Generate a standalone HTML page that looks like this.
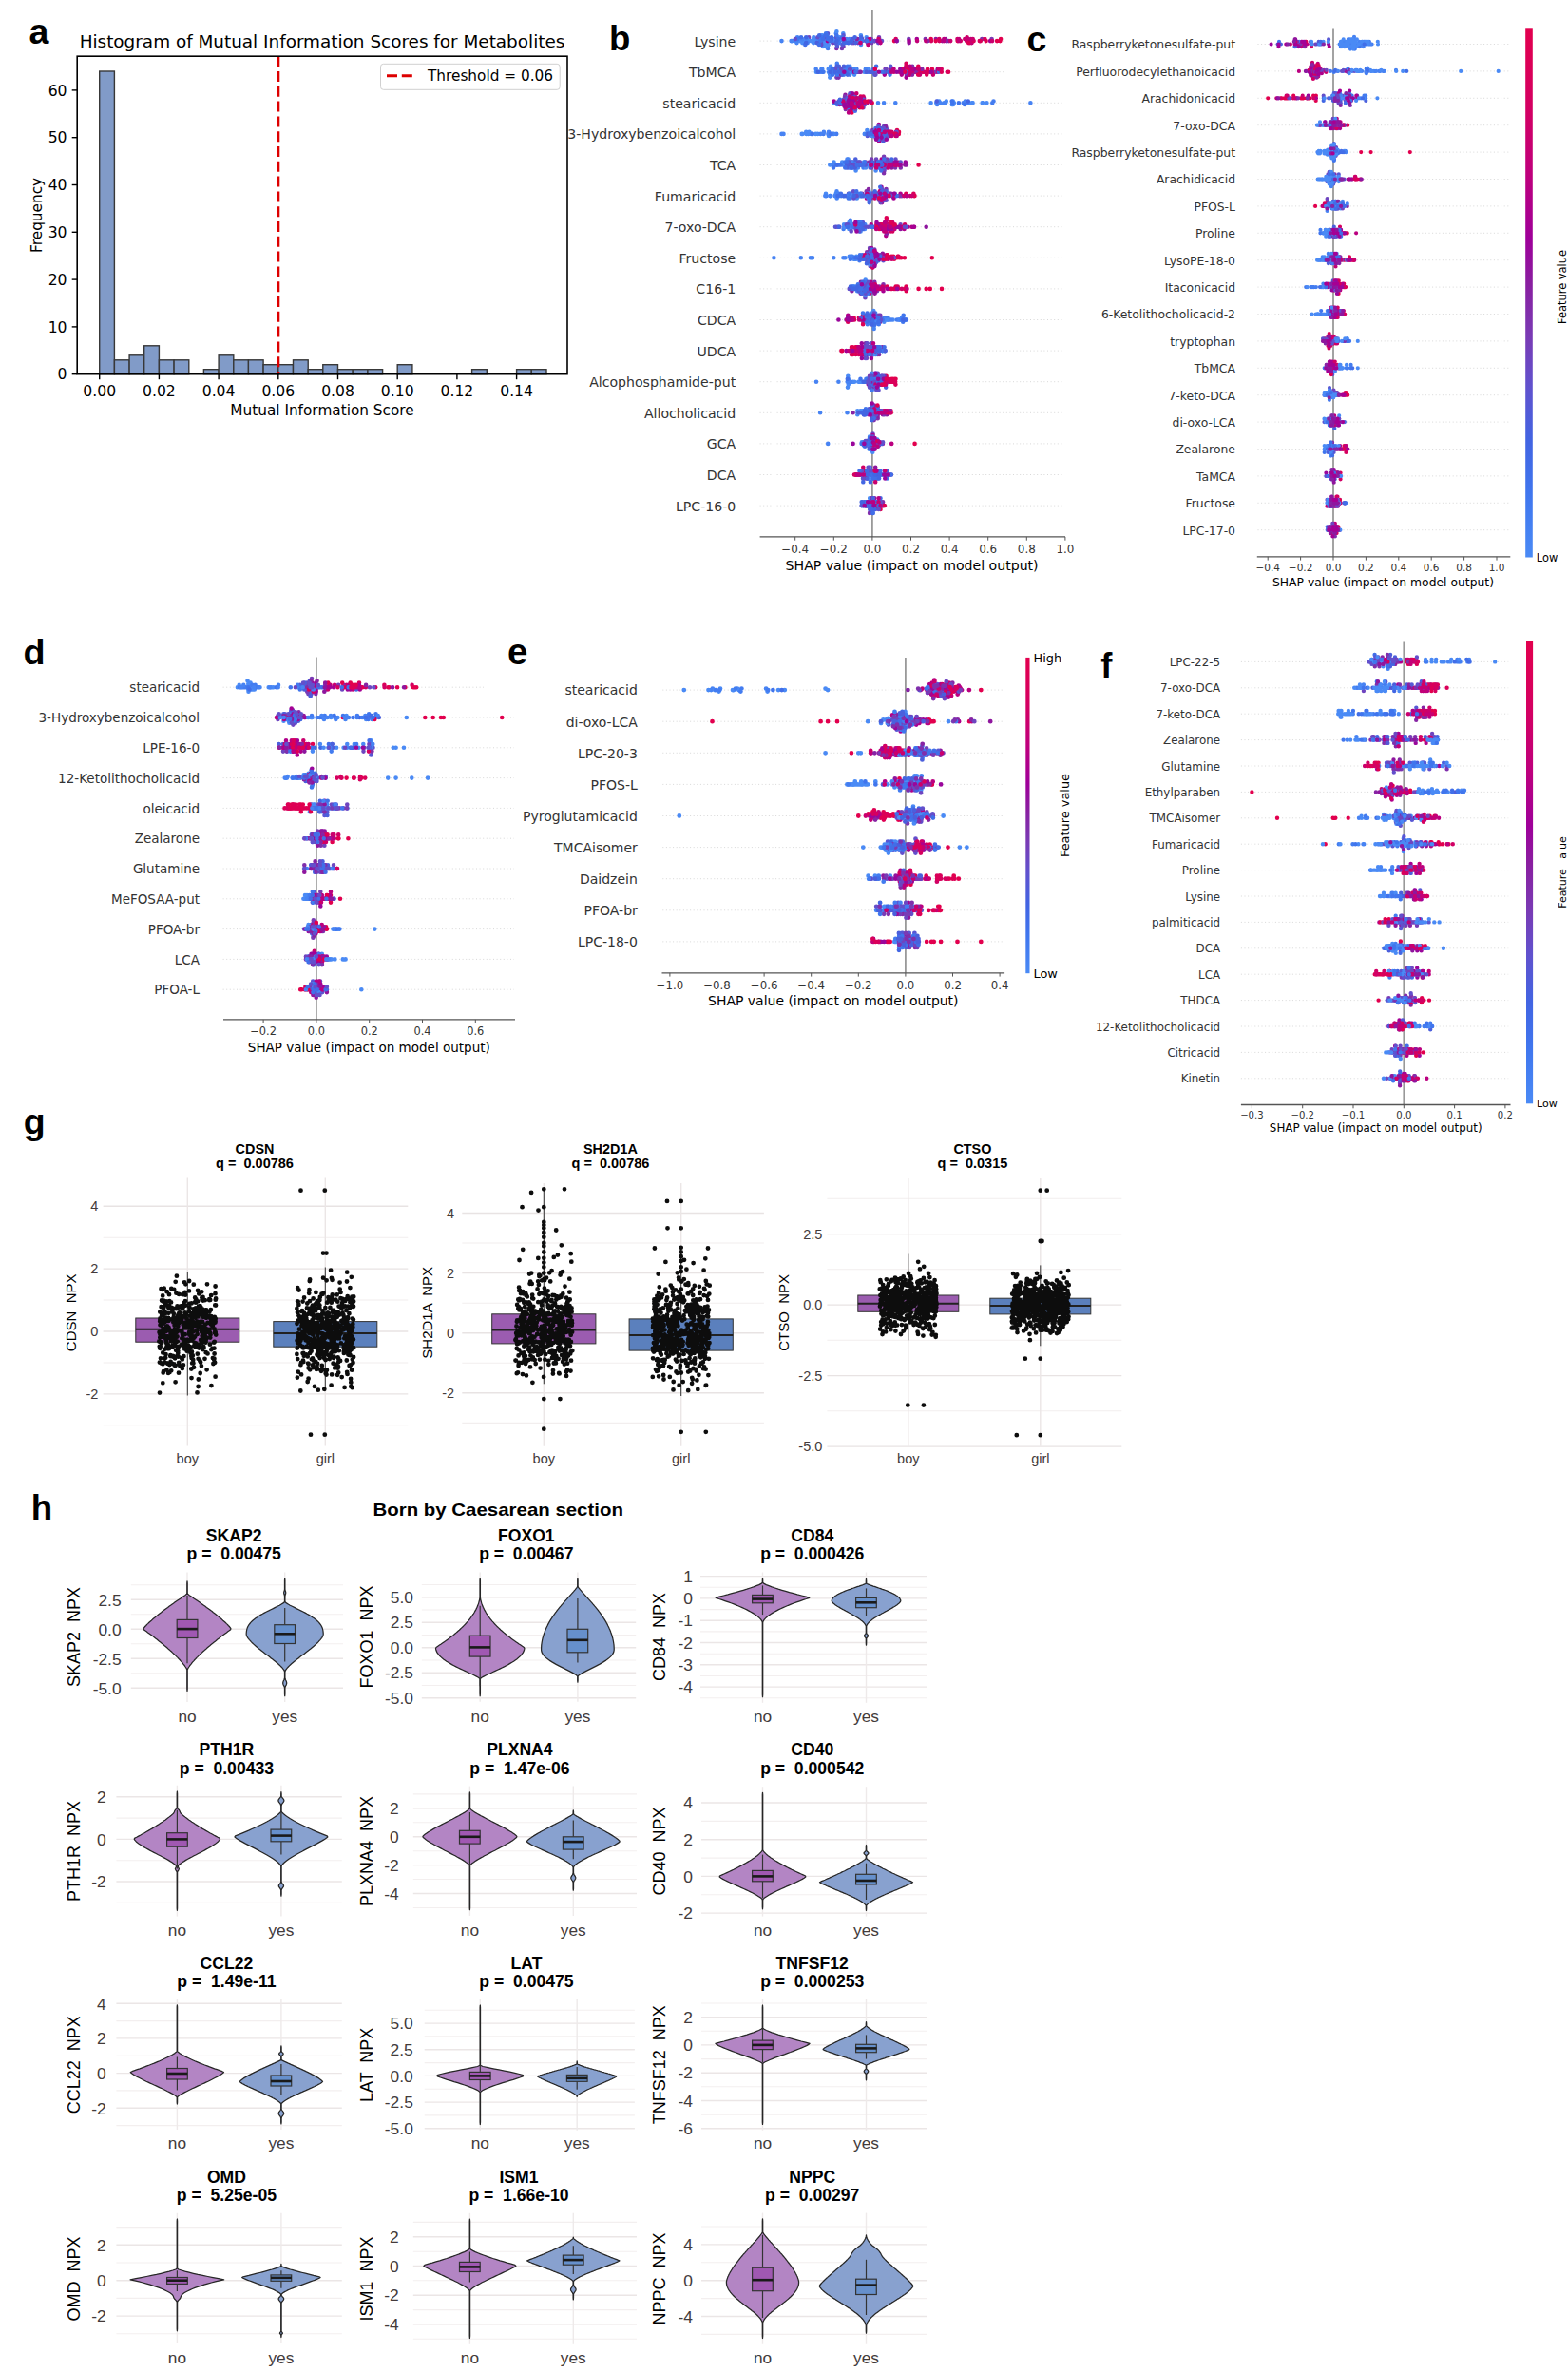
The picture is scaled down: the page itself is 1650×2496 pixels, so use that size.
<!DOCTYPE html>
<html><head><meta charset="utf-8"><title>Figure</title>
<style>html,body{margin:0;padding:0;background:#fff;}svg{display:block;}</style>
</head><body>
<svg width="1650" height="2496" viewBox="0 0 1650 2496"><rect x="104.7" y="75" width="15.7" height="318.7" fill="#819bc8" stroke="#383838" stroke-width="1.4"/>
<rect x="120.4" y="378.8" width="15.7" height="14.9" fill="#819bc8" stroke="#383838" stroke-width="1.4"/>
<rect x="136.1" y="373.8" width="15.7" height="19.9" fill="#819bc8" stroke="#383838" stroke-width="1.4"/>
<rect x="151.7" y="363.8" width="15.7" height="29.9" fill="#819bc8" stroke="#383838" stroke-width="1.4"/>
<rect x="167.4" y="378.8" width="15.7" height="14.9" fill="#819bc8" stroke="#383838" stroke-width="1.4"/>
<rect x="183.1" y="378.8" width="15.7" height="14.9" fill="#819bc8" stroke="#383838" stroke-width="1.4"/>
<rect x="214.4" y="388.7" width="15.7" height="5" fill="#819bc8" stroke="#383838" stroke-width="1.4"/>
<rect x="230.1" y="373.8" width="15.7" height="19.9" fill="#819bc8" stroke="#383838" stroke-width="1.4"/>
<rect x="245.8" y="378.8" width="15.7" height="14.9" fill="#819bc8" stroke="#383838" stroke-width="1.4"/>
<rect x="261.4" y="378.8" width="15.7" height="14.9" fill="#819bc8" stroke="#383838" stroke-width="1.4"/>
<rect x="277.1" y="383.7" width="15.7" height="10" fill="#819bc8" stroke="#383838" stroke-width="1.4"/>
<rect x="292.8" y="383.7" width="15.7" height="10" fill="#819bc8" stroke="#383838" stroke-width="1.4"/>
<rect x="308.5" y="378.8" width="15.7" height="14.9" fill="#819bc8" stroke="#383838" stroke-width="1.4"/>
<rect x="324.2" y="388.7" width="15.7" height="5" fill="#819bc8" stroke="#383838" stroke-width="1.4"/>
<rect x="339.8" y="383.7" width="15.7" height="10" fill="#819bc8" stroke="#383838" stroke-width="1.4"/>
<rect x="355.5" y="388.7" width="15.7" height="5" fill="#819bc8" stroke="#383838" stroke-width="1.4"/>
<rect x="371.2" y="388.7" width="15.7" height="5" fill="#819bc8" stroke="#383838" stroke-width="1.4"/>
<rect x="386.9" y="388.7" width="15.7" height="5" fill="#819bc8" stroke="#383838" stroke-width="1.4"/>
<rect x="418.2" y="383.7" width="15.7" height="10" fill="#819bc8" stroke="#383838" stroke-width="1.4"/>
<rect x="496.6" y="388.7" width="15.7" height="5" fill="#819bc8" stroke="#383838" stroke-width="1.4"/>
<rect x="543.6" y="388.7" width="15.7" height="5" fill="#819bc8" stroke="#383838" stroke-width="1.4"/>
<rect x="559.3" y="388.7" width="15.7" height="5" fill="#819bc8" stroke="#383838" stroke-width="1.4"/>
<line x1="292.8" y1="59.2" x2="292.8" y2="393.7" stroke="#dd0000" stroke-width="3" stroke-dasharray="11 4.8"/>
<rect x="81.2" y="59.2" width="515.8" height="334.5" fill="none" stroke="#000" stroke-width="1.6"/>
<line x1="75.7" y1="393.7" x2="81.2" y2="393.7" stroke="#000" stroke-width="1.4"/>
<text transform="translate(70.5 399.4)" style="font-family:'DejaVu Sans',sans-serif;font-size:15.6px" text-anchor="end">0</text>
<line x1="75.7" y1="343.9" x2="81.2" y2="343.9" stroke="#000" stroke-width="1.4"/>
<text transform="translate(70.5 349.6)" style="font-family:'DejaVu Sans',sans-serif;font-size:15.6px" text-anchor="end">10</text>
<line x1="75.7" y1="294.1" x2="81.2" y2="294.1" stroke="#000" stroke-width="1.4"/>
<text transform="translate(70.5 299.8)" style="font-family:'DejaVu Sans',sans-serif;font-size:15.6px" text-anchor="end">20</text>
<line x1="75.7" y1="244.3" x2="81.2" y2="244.3" stroke="#000" stroke-width="1.4"/>
<text transform="translate(70.5 250)" style="font-family:'DejaVu Sans',sans-serif;font-size:15.6px" text-anchor="end">30</text>
<line x1="75.7" y1="194.5" x2="81.2" y2="194.5" stroke="#000" stroke-width="1.4"/>
<text transform="translate(70.5 200.2)" style="font-family:'DejaVu Sans',sans-serif;font-size:15.6px" text-anchor="end">40</text>
<line x1="75.7" y1="144.7" x2="81.2" y2="144.7" stroke="#000" stroke-width="1.4"/>
<text transform="translate(70.5 150.4)" style="font-family:'DejaVu Sans',sans-serif;font-size:15.6px" text-anchor="end">50</text>
<line x1="75.7" y1="94.9" x2="81.2" y2="94.9" stroke="#000" stroke-width="1.4"/>
<text transform="translate(70.5 100.6)" style="font-family:'DejaVu Sans',sans-serif;font-size:15.6px" text-anchor="end">60</text>
<line x1="104.7" y1="393.7" x2="104.7" y2="399.2" stroke="#000" stroke-width="1.4"/>
<text transform="translate(104.7 417)" style="font-family:'DejaVu Sans',sans-serif;font-size:15.6px" text-anchor="middle">0.00</text>
<line x1="167.4" y1="393.7" x2="167.4" y2="399.2" stroke="#000" stroke-width="1.4"/>
<text transform="translate(167.4 417)" style="font-family:'DejaVu Sans',sans-serif;font-size:15.6px" text-anchor="middle">0.02</text>
<line x1="230.1" y1="393.7" x2="230.1" y2="399.2" stroke="#000" stroke-width="1.4"/>
<text transform="translate(230.1 417)" style="font-family:'DejaVu Sans',sans-serif;font-size:15.6px" text-anchor="middle">0.04</text>
<line x1="292.8" y1="393.7" x2="292.8" y2="399.2" stroke="#000" stroke-width="1.4"/>
<text transform="translate(292.8 417)" style="font-family:'DejaVu Sans',sans-serif;font-size:15.6px" text-anchor="middle">0.06</text>
<line x1="355.5" y1="393.7" x2="355.5" y2="399.2" stroke="#000" stroke-width="1.4"/>
<text transform="translate(355.5 417)" style="font-family:'DejaVu Sans',sans-serif;font-size:15.6px" text-anchor="middle">0.08</text>
<line x1="418.2" y1="393.7" x2="418.2" y2="399.2" stroke="#000" stroke-width="1.4"/>
<text transform="translate(418.2 417)" style="font-family:'DejaVu Sans',sans-serif;font-size:15.6px" text-anchor="middle">0.10</text>
<line x1="480.9" y1="393.7" x2="480.9" y2="399.2" stroke="#000" stroke-width="1.4"/>
<text transform="translate(480.9 417)" style="font-family:'DejaVu Sans',sans-serif;font-size:15.6px" text-anchor="middle">0.12</text>
<line x1="543.6" y1="393.7" x2="543.6" y2="399.2" stroke="#000" stroke-width="1.4"/>
<text transform="translate(543.6 417)" style="font-family:'DejaVu Sans',sans-serif;font-size:15.6px" text-anchor="middle">0.14</text>
<text transform="translate(339 437)" style="font-family:'DejaVu Sans',sans-serif;font-size:15.3px" text-anchor="middle">Mutual Information Score</text>
<text transform="translate(43.5 226.4) rotate(-90)" style="font-family:'DejaVu Sans',sans-serif;font-size:15.3px" text-anchor="middle">Frequency</text>
<text transform="translate(339 50)" style="font-family:'DejaVu Sans',sans-serif;font-size:18.4px" text-anchor="middle">Histogram of Mutual Information Scores for Metabolites</text>
<rect x="400.5" y="67.3" width="188.7" height="27" rx="3" fill="#fff" fill-opacity="0.85" stroke="#d0d0d0" stroke-width="1"/>
<line x1="407" y1="79.8" x2="436" y2="79.8" stroke="#dd0000" stroke-width="3" stroke-dasharray="11 4.8"/>
<text transform="translate(450 85.3)" style="font-family:'DejaVu Sans',sans-serif;font-size:15.3px">Threshold = 0.06</text>
<line x1="799.6" y1="43.1" x2="1056" y2="43.1" stroke="#d4d4d4" stroke-width="0.90" stroke-dasharray="1 2.6"/>
<line x1="799.6" y1="75.7" x2="1056" y2="75.7" stroke="#d4d4d4" stroke-width="0.90" stroke-dasharray="1 2.6"/>
<line x1="799.6" y1="108.3" x2="1120" y2="108.3" stroke="#d4d4d4" stroke-width="0.90" stroke-dasharray="1 2.6"/>
<line x1="799.6" y1="140.9" x2="1120" y2="140.9" stroke="#d4d4d4" stroke-width="0.90" stroke-dasharray="1 2.6"/>
<line x1="799.6" y1="173.5" x2="1120" y2="173.5" stroke="#d4d4d4" stroke-width="0.90" stroke-dasharray="1 2.6"/>
<line x1="799.6" y1="206.1" x2="1120" y2="206.1" stroke="#d4d4d4" stroke-width="0.90" stroke-dasharray="1 2.6"/>
<line x1="799.6" y1="238.7" x2="1120" y2="238.7" stroke="#d4d4d4" stroke-width="0.90" stroke-dasharray="1 2.6"/>
<line x1="799.6" y1="271.3" x2="1120" y2="271.3" stroke="#d4d4d4" stroke-width="0.90" stroke-dasharray="1 2.6"/>
<line x1="799.6" y1="303.9" x2="1120" y2="303.9" stroke="#d4d4d4" stroke-width="0.90" stroke-dasharray="1 2.6"/>
<line x1="799.6" y1="336.5" x2="1120" y2="336.5" stroke="#d4d4d4" stroke-width="0.90" stroke-dasharray="1 2.6"/>
<line x1="799.6" y1="369.1" x2="1120" y2="369.1" stroke="#d4d4d4" stroke-width="0.90" stroke-dasharray="1 2.6"/>
<line x1="799.6" y1="401.7" x2="1120" y2="401.7" stroke="#d4d4d4" stroke-width="0.90" stroke-dasharray="1 2.6"/>
<line x1="799.6" y1="434.3" x2="1120" y2="434.3" stroke="#d4d4d4" stroke-width="0.90" stroke-dasharray="1 2.6"/>
<line x1="799.6" y1="466.9" x2="1120" y2="466.9" stroke="#d4d4d4" stroke-width="0.90" stroke-dasharray="1 2.6"/>
<line x1="799.6" y1="499.5" x2="1120" y2="499.5" stroke="#d4d4d4" stroke-width="0.90" stroke-dasharray="1 2.6"/>
<line x1="799.6" y1="532.1" x2="1120" y2="532.1" stroke="#d4d4d4" stroke-width="0.90" stroke-dasharray="1 2.6"/>
<line x1="917.9" y1="10.2" x2="917.9" y2="564.9" stroke="#999" stroke-width="1.8"/>
<text transform="translate(774.2 48.5)" style="font-family:'DejaVu Sans',sans-serif;font-size:14.1px" text-anchor="end" fill="#333">Lysine</text>
<text transform="translate(774.2 81.1)" style="font-family:'DejaVu Sans',sans-serif;font-size:14.1px" text-anchor="end" fill="#333">TbMCA</text>
<text transform="translate(774.2 113.7)" style="font-family:'DejaVu Sans',sans-serif;font-size:14.1px" text-anchor="end" fill="#333">stearicacid</text>
<text transform="translate(774.2 146.3)" style="font-family:'DejaVu Sans',sans-serif;font-size:14.1px" text-anchor="end" fill="#333">3-Hydroxybenzoicalcohol</text>
<text transform="translate(774.2 178.9)" style="font-family:'DejaVu Sans',sans-serif;font-size:14.1px" text-anchor="end" fill="#333">TCA</text>
<text transform="translate(774.2 211.5)" style="font-family:'DejaVu Sans',sans-serif;font-size:14.1px" text-anchor="end" fill="#333">Fumaricacid</text>
<text transform="translate(774.2 244.1)" style="font-family:'DejaVu Sans',sans-serif;font-size:14.1px" text-anchor="end" fill="#333">7-oxo-DCA</text>
<text transform="translate(774.2 276.7)" style="font-family:'DejaVu Sans',sans-serif;font-size:14.1px" text-anchor="end" fill="#333">Fructose</text>
<text transform="translate(774.2 309.3)" style="font-family:'DejaVu Sans',sans-serif;font-size:14.1px" text-anchor="end" fill="#333">C16-1</text>
<text transform="translate(774.2 341.9)" style="font-family:'DejaVu Sans',sans-serif;font-size:14.1px" text-anchor="end" fill="#333">CDCA</text>
<text transform="translate(774.2 374.5)" style="font-family:'DejaVu Sans',sans-serif;font-size:14.1px" text-anchor="end" fill="#333">UDCA</text>
<text transform="translate(774.2 407.1)" style="font-family:'DejaVu Sans',sans-serif;font-size:14.1px" text-anchor="end" fill="#333">Alcophosphamide-put</text>
<text transform="translate(774.2 439.7)" style="font-family:'DejaVu Sans',sans-serif;font-size:14.1px" text-anchor="end" fill="#333">Allocholicacid</text>
<text transform="translate(774.2 472.3)" style="font-family:'DejaVu Sans',sans-serif;font-size:14.1px" text-anchor="end" fill="#333">GCA</text>
<text transform="translate(774.2 504.9)" style="font-family:'DejaVu Sans',sans-serif;font-size:14.1px" text-anchor="end" fill="#333">DCA</text>
<text transform="translate(774.2 537.5)" style="font-family:'DejaVu Sans',sans-serif;font-size:14.1px" text-anchor="end" fill="#333">LPC-16-0</text>
<path d="M891.2 43.1h0m29.5 0h0m35.9 2h0m28.2 -4h0m10.3 0h0m-3.5 2h0m-105.3 29.7h0m45.3 0h0m-12.1 2.9h0m59.5 0h0m-82.5 27.6h0m15.9 5h0m-15.4 6.7h0m-0.7 1.7h0m-6.8 -16.8h0m19.6 3.4h0m-7.6 3.3h0m22.5 32.3h0m7.2 4h0m-3.9 0h0m-30.6 27.7h0m37.3 2.9h0m-3.8 -2.9h0m3 2.9h0m5.1 2.9h0m14 -2.9h0m1.6 0h0m-35.9 30.3h0m1 2.3h0m6.7 0h0m-0.4 4.7h0m2.8 2.3h0m0 -9.3h0m-30.3 32.6h0m-1.6 2.3h0m7.4 -4.7h0m27 2.4h0m17.1 4.6h0m27 -2.3h0m-46 31.1h0m-7.5 4.4h0m7.6 -7.3h0m-2.7 4.4h0m-8.4 1.5h0m2.1 0h0m8.5 -3h0m-17.5 0h0m-8.5 34.1h0m6.6 -2.3h0m10.9 0h0m0.6 7h0m0.3 0h0m-14.4 0h0m6.8 -2.4h0m-0.4 -4.6h0m4.7 30.2h0m-9.1 7h0m6.8 30.3h0m-1.2 -3.9h0m4.2 0h0m-6.2 3.9h0m7.5 0h0m-23.4 0h0m14 0h0m-2.8 0h0m21.1 -3.9h0m7.1 36.5h0m-7.4 0h0m-8.4 -5.9h0m1 0h0m8.9 38.5h0m-7.8 -3.9h0m11.8 3.9h0m-16.5 -2h0m9.1 2h0m2.9 2h0m-0.8 -2h0m4.9 2h0m-12.8 0h0m-8.2 32.1h0m6.9 -4.4h0m-2.9 2.9h0m1.9 -4.4h0m6.5 5.9h0m-4.2 2.9h0m0.8 24.3h0m-1.9 0h0m2 -3.9h0m-3.5 40.4h0m5.5 0h0m-12.5 0h0m9.6 -7.8h0m-6.5 7.8h0" stroke="#8f169e" stroke-width="4.6" stroke-linecap="round" fill="none"/>
<path d="M980 43.1h0m8.6 0h0m-45.9 -2h0m45.6 0h0m42.5 2h0m-76.5 32.6h0m36.4 -2.9h0m6.1 2.9h0m-98.8 32.6h0m10.3 3.4h0m-14.1 0h0m11.7 -1.7h0m23.1 34.8h0m18.9 61.3h0m-10.7 37.3h0m-7.5 -7h0m4 2.3h0m0.8 0h0m4.7 4.7h0m12.9 -7h0m-17.3 34.9h0m11.6 0h0m-0.9 -1.5h0m-21.1 34.1h0m20.6 0h0m-48.3 30.3h0m12.7 0h0m-5.5 38.8h0m-2.7 -7.8h0m2.7 3.9h0m15.3 32.6h0m12.4 30.6h0m-30.8 67.2h0m17.2 32.6h0m4.3 0h0m6.8 0h0" stroke="#d6005f" stroke-width="4.6" stroke-linecap="round" fill="none"/>
<path d="M880 41.1h0m-28.9 -1.9h0m52 3.9h0m13.6 -2h0m-40.5 4h0m34.9 -2h0m-8 32.6h0m1.7 0h0m7.8 -2.9h0m-11.2 2.9h0m35 0h0m-4.2 -2.9h0m51.8 2.9h0m-93.9 29.2h0m4.4 -6.7h0m8.9 5.1h0m5 10h0m-14.3 3.4h0m12 -10.1h0m36.6 32.3h0m-12.6 -5.8h0m-6.1 3.9h0m4.8 5.9h0m3.9 -7.9h0m-4 2h0m4.3 3.9h0m-16.5 29.7h0m-1.6 2.9h0m7.2 -5.9h0m2.9 5.9h0m5.5 5.9h0m-2.5 -8.8h0m-14.8 35.5h0m-20.2 -2.3h0m21.2 0h0m12.4 9.3h0m-8.2 -7h0m8.6 4.7h0m-12.5 -2.4h0m27.3 -4.6h0m-10 0h0m17.3 2.3h0m-49.7 32.6h0m29.6 0h0m12.5 0h0m6.1 -2.3h0m-32.5 24.6h0m0.6 19.1h0m7.8 -7.3h0m-8 -8.8h0m0.3 4.4h0m0.2 8.8h0m4 -3h0m4.4 -4.4h0m-5.1 0h0m-8.9 43.5h0m12.6 -7.1h0m-15 2.4h0m18.7 25.6h0m-1.9 -2.4h0m1 2.4h0m-1.2 2.3h0m-14.9 -4.7h0m8 41.2h0m-5.2 -3.9h0m3.4 -3.9h0m-7.7 7.8h0m3.7 3.9h0m4.3 27.7h0m6.1 -8.8h0m1.5 -2.9h0m2.6 8.8h0m-5.6 0h0m-3.5 5.9h0m13.4 -5.9h0m-21.3 30.6h0m4.9 2h0m2.9 0h0m1.7 0h0m-9.3 34.1h0m8.4 5.8h0m5.4 -7.3h0m-8.4 1.5h0m9.2 -1.5h0m1.9 0h0m-7.6 -10.3h0m0.6 14.7h0m1 -8.8h0m-2.1 4.4h0m-12 32.6h0m20.3 0h0m-10.5 -7.8h0m-2 7.8h0m8.6 0h0m-0.9 0h0m-12 -3.9h0m15.6 3.9h0m-6.6 24.8h0m0.6 3.9h0m-7.9 3.9h0m8.6 0h0m-2.4 0h0m0.3 -3.9h0m-5.2 3.9h0m16.1 0h0" stroke="#6e45c0" stroke-width="4.6" stroke-linecap="round" fill="none"/>
<path d="M893.6 72.8h0m55.2 5.8h0m1.6 -2.9h0m20.4 0h0m-7.6 0h0m-60 34.3h0m-11.2 0h0m6.1 -8.4h0m4.1 3.3h0m-7.7 5.1h0m5.2 -6.7h0m6.3 8.4h0m-2.4 -3.4h0m-2.9 3.4h0m-7.5 1.6h0m-2 -6.7h0m33.9 42.1h0m1.8 -1.9h0m5.3 -7.9h0m4.6 4h0m-10.8 -2h0m8.2 2h0m-4.8 27.7h0m-1.7 -3h0m17 3h0m-41.3 35.5h0m35 0h0m-12.6 2.3h0m-13.9 0h0m35.7 -4.6h0m-30.9 32.6h0m16.1 -4.7h0m-0.5 16.4h0m-9.4 -9.4h0m12.4 2.3h0m26.8 -2.3h0m-2.7 0h0m-7.9 2.3h0m-27 30.3h0m-4.5 0h0m2.5 -4.4h0m-2.1 11.7h0m12.4 -10.2h0m-3.6 0h0m-22.9 37.8h0m6.5 -2.3h0m14.1 0h0m-8.6 0h0m-2.5 2.3h0m5 -7h0m0.6 7h0m-4.9 -4.6h0m-0.1 -4.7h0m-24.1 34.9h0m3.3 4.7h0m5.6 32.6h0m1.3 -3.9h0m12.7 0h0m2.2 36.5h0m3.6 -2.9h0m15 2.9h0m-4.7 30.6h0m-7.9 -1.9h0m-9.2 5.9h0m4.3 21.8h0m5.7 5.9h0m-22.1 35.5h0m20.8 -3.9h0m1.1 0h0m-6.2 32.6h0m6.3 3.9h0m2.8 -3.9h0" stroke="#b0008a" stroke-width="4.6" stroke-linecap="round" fill="none"/>
<path d="M870.4 49h0m8.3 -3.9h0m7.3 5.8h0m16.7 -5.8h0m-15.2 3.9h0m29.8 -3.9h0m7.9 -4h0m-0.2 -1.9h0m31.3 1.9h0m87.3 0h0m-151.7 31.7h0m-11.5 8.8h0m1.9 -3h0m71.5 0h0m3.6 0h0m27.8 -2.9h0m-9.1 0h0m-75.3 30.9h0m-2.3 6.7h0m5 -8.4h0m-7.2 0h0m3.2 -3.3h0m-12.8 8.4h0m2.4 -8.4h0m40.3 35.4h0m-8.9 3.9h0m13.1 2h0m-17.9 -2h0m5.8 3.9h0m-24.6 28.7h0m14 -2.9h0m6.4 0h0m0 5.8h0m-0.2 -8.8h0m13 -2.9h0m3.1 2.9h0m-0.4 8.8h0m-3.1 -2.9h0m5.4 0h0m-17.4 0h0m9.8 32.6h0m1.7 -4.7h0m12 4.7h0m-4.7 -2.3h0m-7.4 -2.4h0m24.5 4.7h0m-44.4 30.3h0m16.2 0h0m-8.2 43.7h0m5.6 -10.3h0m1.4 -1.4h0m-3.9 -5.9h0m-6.3 10.3h0m15.8 -1.5h0m-21.5 -1.5h0m17.2 31.8h0m-17.8 0h0m6.5 2.3h0m-6.9 2.3h0m0.5 -2.3h0m22.4 -2.3h0m10.4 2.3h0m-14.3 27.9h0m-2.6 4.7h0m-0.4 32.6h0m-0.9 0h0m-8.4 3.9h0m-2.3 -11.7h0m8.2 11.7h0m-3.2 -7.8h0m-2 3.9h0m5 0h0m-12.9 0h0m8.2 26.7h0m-2.1 3h0m7.7 -5.9h0m13.5 8.8h0m-17.6 0h0m3.2 -2.9h0m5.3 2.9h0m-2.2 0h0m6.7 -2.9h0m1.1 37.5h0m-6.6 -2h0m-6.5 0h0m6.2 0h0m-3.9 -5.9h0m-4 37h0m1.4 -2.9h0m0.8 7.3h0m1.6 -7.3h0m2.3 2.9h0m-12.5 0h0m4 0h0m5.2 3h0m0.4 1.4h0m0.3 0h0m-9.4 29.7h0m13.9 0h0m-5.1 -3.9h0m-5.4 3.9h0m-0.8 3.9h0m6 -7.8h0m-1 40.4h0m1.6 -3.9h0m-8.4 0h0m11.3 0h0m-9.1 -3.9h0m3.3 7.8h0m4 -7.8h0m-5.8 3.9h0m10 0h0m-5.5 0h0" stroke="#793bb5" stroke-width="4.6" stroke-linecap="round" fill="none"/>
<path d="M880.3 50.9h0m22.3 -9.8h0m71.2 0h0m21.7 2h0m37.8 -2h0m-146.3 34.6h0m-4.5 5.9h0m50 -5.9h0m27.6 -5.9h0m-61.2 35.1h0m-10 -1.6h0m0.9 11.7h0m0.4 -6.7h0m-8.5 0h0m17.7 1.7h0m25.9 34.8h0m0.1 -9.8h0m-0.3 7.9h0m-6.8 -5.9h0m11.7 5.9h0m-36.7 30.6h0m16 0h0m5.6 -2.9h0m5.2 2.9h0m22 2.9h0m-14.9 -2.9h0m2.9 8.8h0m17.7 -5.9h0m-40.7 27.4h0m-6 0h0m13 2.3h0m-2.4 -4.7h0m5.2 7h0m17 -2.3h0m-1.4 -7h0m14 7h0m-45.4 32.6h0m25.5 29.7h0m-14.4 -3h0m7.7 10.3h0m1.1 1.5h0m-5.6 -14.7h0m-1.1 7.3h0m6.3 0h0m-7.9 4.4h0m-2.4 29.7h0m-4.7 4.7h0m23.9 -9.4h0m-11.7 7h0m2.5 -9.3h0m-6 9.3h0m4.3 -2.3h0m0.4 2.3h0m1.2 -2.3h0m-8.7 -2.3h0m-1 -4.7h0m9 39.6h0m-5.5 -4.7h0m5.2 7h0m7 0h0m-16.7 0h0m7.6 30.3h0m-7.6 -3.9h0m12.2 3.9h0m3.4 3.9h0m-1.9 0h0m-7.7 -3.9h0m-6.1 0h0m1.5 -3.9h0m3.3 3.9h0m-3.3 -7.8h0m11.8 37.5h0m3.5 5.8h0m1.1 0h0m-10.3 31.7h0m-0.6 -4h0m3.3 9.8h0m1.9 -5.8h0m2.1 0h0m-2.3 1.9h0m2.3 2h0m-6.8 31.1h0m3.4 -5.9h0m0 -1.4h0m-2.1 -4.4h0m4.8 8.8h0m-6.2 -4.4h0m1.1 31.6h0m4.2 0h0m11.3 3.9h0m3.3 0h0m-7.6 28.7h0m-8.2 7.8h0m-1.1 -7.8h0m-11.6 3.9h0m7 -3.9h0m-0.1 11.7h0m8.5 -7.8h0m-12 0h0m8.4 0h0m5.4 0h0m-10.5 0h0m11.3 0h0" stroke="#802fac" stroke-width="4.6" stroke-linecap="round" fill="none"/>
<path d="M844 43.1h0m17.7 -3.9h0m-0.3 1.9h0m9.7 9.8h0m-3 -9.8h0m4.4 0h0m-4.9 5.9h0m22 -1.9h0m-9.8 -9.8h0m16 40.4h0m-5.9 -2.9h0m-9.1 -5.9h0m-3.7 8.8h0m24.3 -2.9h0m-26.9 5.8h0m-8 -2.9h0m27.7 0h0m-18.8 0h0m12.8 -2.9h0m-7.2 2.9h0m10.9 0h0m-10.9 34.3h0m6.2 -1.7h0m98.9 1.7h0m27.6 -1.7h0m31.8 -1.7h0m-1.2 1.7h0m-164.1 32.6h0m-13.7 0h0m54.9 -5.9h0m0.1 3.9h0m11.2 5.9h0m-9.4 -3.9h0m-32.8 29.7h0m11.5 0h0m6.5 5.8h0m-39 29.7h0m10.9 -2.3h0m2.3 0h0m13.3 2.3h0m6 -2.3h0m-5.9 0h0m17.1 0h0m8.2 0h0m-6.9 -2.4h0m-26.9 39.6h0m7.2 -9.3h0m21.9 7h0m-21.1 -2.3h0m9.2 2.3h0m-0.3 35.5h0m10.5 -5.8h0m-0.4 2.9h0m3.6 -4.4h0m-14.6 34.7h0m-3 0h0m14.6 2.3h0m-7.3 2.3h0m1.1 -7h0m6.9 9.4h0m4.1 27.9h0m10.7 -2.3h0m-17.9 7h0m8.4 -11.7h0m-6.5 4.7h0m7.4 2.3h0m-12.8 0h0m1.1 -2.3h0m3.1 0h0m7.4 2.3h0m25.2 0h0m-11.7 -2.3h0m10.4 2.3h0m-0.9 0h0m-8.1 0h0m-1.5 0h0m11.4 0h0m4.6 -2.3h0m1 2.3h0m-29.9 36.5h0m9.4 -3.9h0m-22.8 -3.9h0m-1.7 36.5h0m-0.5 0h0m-12.8 0h0m24.7 8.8h0m-0.8 -11.7h0m4.9 39.4h0m-11.6 -3.9h0m-2.2 32.6h0m6.7 -4.4h0m2.3 5.9h0m-0.9 -4.4h0m-6 5.8h0m5.3 0h0m-2.4 33.6h0m1.3 -3.9h0m-9.8 0h0m7.4 0h0m4.5 3.9h0m-5 24.8h0m4 3.9h0m3 -7.8h0" stroke="#437cf0" stroke-width="4.6" stroke-linecap="round" fill="none"/>
<path d="M841.8 41.1h0m35.3 0h0m-23 2h0m14.6 5.9h0m-30.4 -5.9h0m27.1 -5.9h0m6.3 9.8h0m-38.2 -3.9h0m10.8 2h0m9 -2h0m2.7 -2h0m0.1 4h0m27.4 -5.9h0m-16.1 5.9h0m-18.1 -4h0m9.5 2h0m11.6 2h0m-4.3 1.9h0m-7.9 -3.9h0m3.5 0h0m-11.8 0h0m16.1 5.9h0m17.8 -5.9h0m-36.1 0h0m8.6 -3.9h0m5.4 5.9h0m18.7 -11.8h0m-16.2 3.9h0m3 5.9h0m-1.2 -3.9h0m3 3.9h0m-0.2 2h0m-27 -2h0m-5.7 0h0m69.9 3.9h0m-21.1 -5.9h0m21 -3.9h0m-18.6 -1.9h0m10.2 7.8h0m8.6 0h0m-25.2 3.9h0m17.2 -5.9h0m-3 2h0m-6.5 -2h0m23.1 -1.9h0m-52.8 36.5h0m26.1 0h0m14.2 -2.9h0m-25.9 8.8h0m3.4 -8.8h0m-11.4 0h0m33.8 5.8h0m0.8 -5.8h0m-26.5 0h0m0.7 -3h0m20.2 0h0m-21.1 8.8h0m6.4 -2.9h0m34.8 -2.9h0m-41.9 0h0m-8.8 2.9h0m19.9 -2.9h0m-11.7 2.9h0m-0.2 -2.9h0m42.7 2.9h0m-30.5 2.9h0m-3.3 -5.8h0m31.9 2.9h0m-0.5 -2.9h0m-2.4 2.9h0m-24.5 30.9h0m101.8 0h0m1.3 0h0m-8.6 1.7h0m16.2 -1.7h0m20.3 1.7h0m-13.1 1.7h0m-17.7 -1.7h0m18.6 0h0m-8.8 0h0m6.7 1.7h0m1 -3.4h0m30.8 1.7h0m4.8 0h0m-15.1 0h0m10.7 0h0m-10.4 0h0m-3.2 0h0m-172.2 30.6h0m12.3 2h0m-16.8 0h0m28.4 2h0m4.1 -2h0m-27.7 0h0m-4.1 0h0m7 -2h0m-0.9 2h0m7.7 0h0m15.2 0h0m-19.6 0h0m71.3 -2h0m-12.2 0h0m5.1 2h0m1.8 2h0m1.2 -5.9h0m-8.6 0h0m-34.9 33.6h0m-3.5 2.9h0m16.2 0h0m-10.4 0h0m-6.5 0h0m13.5 0h0m20.9 0h0m-15.1 -2.9h0m-6.4 0h0m14.4 8.8h0m11.9 -5.9h0m-12 -2.9h0m-5.5 0h0m4.5 2.9h0m-5.7 0h0m9 0h0m-10.4 0h0m-3.3 0h0m6.5 -2.9h0m15.4 5.8h0m-1.9 -5.8h0m-16.5 -3h0m18.9 5.9h0m1.7 0h0m8.4 5.9h0m-52.6 24.4h0m4.9 2.3h0m25 -2.3h0m-1 2.3h0m3.9 2.3h0m4 -4.6h0m-1.1 2.3h0m-7.3 -2.3h0m11.1 2.3h0m-18.1 0h0m11.2 2.3h0m-7.2 -2.3h0m-14.7 -2.3h0m15.1 0h0m-0.6 2.3h0m6.9 0h0m-19 0h0m1 0h0m11.7 2.3h0m-2.1 -2.3h0m13.4 0h0m5.1 0h0m5.9 -2.3h0m2.7 2.3h0m-30 32.6h0m5.6 2.3h0m-1.8 -7h0m12.6 7h0m-15.6 -2.3h0m-2.5 -2.3h0m17.5 7h0m-16.8 -4.7h0m6.1 0h0m6.9 0h0m-8.4 2.3h0m15.4 0h0m1.3 -2.3h0m-16.4 0h0m-5.6 0h0m21.9 2.3h0m-1.1 -4.6h0m-13.7 -2.4h0m7.2 2.4h0m-1.3 36.4h0m0.1 -3h0m-3.8 1.5h0m-1 0h0m2 1.5h0m3.9 -1.5h0m-8.5 -1.5h0m12.9 1.5h0m15.9 2.9h0m-17.9 -2.9h0m16.8 -2.9h0m-5.9 10.2h0m-4.9 -5.8h0m8.1 -4.4h0m-21.9 35.5h0m1.1 -2.3h0m4.1 4.6h0m6.9 -2.3h0m-3.3 -4.7h0m5 -4.7h0m-11.1 9.4h0m13.6 -2.3h0m-7.9 4.6h0m6.4 30.3h0m9.3 2.3h0m-6.5 0h0m3 -2.3h0m-10 0h0m1.5 -2.3h0m3.4 -2.4h0m12.8 4.7h0m-8 -7h0m2.9 9.3h0m-1.3 -2.3h0m-7.1 2.3h0m0.6 -4.6h0m7 -7.1h0m-13.5 9.4h0m13.7 2.3h0m3 -4.6h0m-7.9 2.3h0m-0.8 2.3h0m8.6 0h0m-3.5 -7h0m4 4.7h0m-2.2 -2.3h0m-3.2 0h0m-7.3 2.3h0m5.3 0h0m-1.9 0h0m16.7 2.3h0m22.1 -2.3h0m-22 0h0m16.3 0h0m-15.6 0h0m3.1 0h0m14.3 0h0m-8.8 0h0m-29.4 32.6h0m13.9 0h0m-2 -3.9h0m6.4 3.9h0m-3.5 0h0m6.1 0h0m-12 3.9h0m-20.1 28.7h0m-6.3 2.9h0m11.6 -2.9h0m3.3 0h0m-13.5 0h0m-2.2 5.9h0m11.3 -5.9h0m-5.8 0h0m-5.2 -5.9h0m25.3 -2.9h0m-4.3 8.8h0m8 0h0m-11.4 0h0m-7.6 32.6h0m2.9 0h0m0.2 0h0m3.2 -2h0m9 -1.9h0m-15.3 5.9h0m13.4 0h0m-2.6 -4h0m-7.8 0h0m4.6 4h0m-2.6 -4h0m2.3 2h0m-7.3 -2h0m12.4 0h0m-6.2 2h0m7.2 0h0m2.2 -5.9h0m-9.2 37h0m4.6 3h0m5 5.8h0m-4.6 -7.3h0m4.6 8.8h0m-2.8 -5.9h0m-0.4 -10.2h0m1.6 10.2h0m-9.8 -4.4h0m7.8 7.4h0m-7.1 26.7h0m5.5 -3.9h0m-5.1 7.8h0m6.8 -11.7h0m1.1 11.7h0m-1 -3.9h0m-6.9 0h0m8.4 0h0m1.9 3.9h0m-11.2 -3.9h0m7.8 -3.9h0m0 7.8h0m6.1 0h0m-1.4 -7.8h0m-12.6 0h0m6.7 7.8h0m4.4 -3.9h0m-10 -3.9h0m12.6 36.5h0m-12.6 0h0m9.3 3.9h0m-2.2 -11.7h0m-8.3 7.8h0m3.4 0h0m14.4 0h0" stroke="#4a8af5" stroke-width="4.6" stroke-linecap="round" fill="none"/>
<path d="M984.7 43.1h0m-5 -2h0m-38.7 2h0m66.7 0h0m29.9 0h0m14.8 0h0m0.7 -2h0m-4 2h0m-111.1 29.7h0m11.5 0h0m15.4 0h0m-4.2 2.9h0m11.2 0h0m-4.6 0h0m-1 -5.9h0m10.3 5.9h0m-0.5 -2.9h0m4.8 0h0m-83.9 28.8h0m20.7 6.7h0m-11.1 -3.4h0m-11.3 1.7h0m18.3 0h0m-17.2 11.8h0m14.4 -10.1h0m-6 5h0m27.6 23.7h0m6.9 3.9h0m6.7 -2h0m-3.5 4h0m1.5 -5.9h0m1.8 3.9h0m20.8 32.6h0m-35 34.9h0m30.3 -2.3h0m0.6 0h0m-23.7 34.9h0m8.7 -2.3h0m-17.6 2.3h0m0.5 -2.3h0m-8.1 -2.3h0m12.1 0h0m1.6 0h0m-6.2 2.3h0m11.2 34.1h0m-7.1 -3h0m6.2 0h0m-2.2 1.5h0m0.1 -1.5h0m13.9 1.5h0m-7.9 0h0m4.4 0h0m32.4 0h0m-60.4 27.9h0m13 2.4h0m9.3 0h0m11 4.6h0m-0.1 -4.6h0m-10.8 2.3h0m9.4 0h0m14.4 0h0m8.1 0h0m4.1 0h0m12.2 0h0m-87.1 30.3h0m3.9 0h0m-0.8 2.3h0m-21.6 32.6h0m1 0h0m16.7 -3.9h0m-5.7 7.8h0m0.2 -3.9h0m-1.6 -3.9h0m6.4 3.9h0m-1.9 -3.9h0m10.3 3.9h0m-13.6 -3.9h0m-1.2 7.8h0m3.8 -3.9h0m32.8 26.7h0m7.1 3h0m-8.2 2.9h0m8.5 0h0m-2.5 0h0m3.8 -2.9h0m-3.1 0h0m4.3 0h0m-5 33.5h0m-1.9 2h0m2.1 0h0m24.9 32.6h0m-54.1 28.7h0m-8.1 3.9h0m7.3 -3.9h0m15 32.6h0m1.4 0h0m2.4 7.8h0" stroke="#e2004e" stroke-width="4.6" stroke-linecap="round" fill="none"/>
<path d="M822.5 43.1h0m10.1 0h0m5.9 2h0m0.6 -5.9h0m9.5 1.9h0m-4.5 0h0m37.5 2h0m-31.9 2h0m28.8 -2h0m-18.7 -2h0m34.1 0h0m-30.2 0h0m38 2h0m-10.8 -2h0m-32.2 31.7h0m14 2.9h0m15.4 2.9h0m6.6 -2.9h0m-30.3 -2.9h0m33.6 0h0m-3.7 5.8h0m16.5 -5.8h0m10.7 2.9h0m-44 32.6h0m46.5 0h0m6.1 0h0m12.2 0h0m44.3 0h0m31.3 0h0m-2.1 -1.7h0m-22.4 1.7h0m-4.1 0h0m95.1 0h0m-261.9 32.6h0m2 0h0m52.9 0h0m-6 0h0m-8 0h0m3.5 -2h0m5.1 0h0m37.8 2h0m7.8 2h0m1.3 0h0m2 -2h0m-43.4 32.6h0m15.8 2.9h0m-15.3 -2.9h0m17 2.9h0m5.2 0h0m2.7 0h0m-5.4 -5.8h0m-6 -3h0m-12.1 38.5h0m-11.1 0h0m12.2 -4.7h0m-7.1 4.7h0m5.1 0h0m2.2 2.3h0m-0.5 -2.3h0m31 0h0m3.8 4.7h0m-6.9 27.9h0m2.2 -2.3h0m-6 2.3h0m-10.5 -2.3h0m-79.4 34.9h0m28.4 0h0m10.1 0h0m2.1 0h0m22.3 0h0m10.1 0h0m2.1 0h0m5.8 -1.5h0m-0.2 1.5h0m1.8 -1.5h0m8 0h0m4.7 1.5h0m6.1 4.4h0m-19.4 25.9h0m14.4 9.3h0m10.7 25.6h0m-9.7 -2.3h0m1.3 2.3h0m3.5 -2.3h0m3.2 9.3h0m0 2.4h0m-8.9 -9.4h0m26.8 0h0m11.5 -2.3h0m2.4 2.3h0m2.4 0h0m-6.2 0h0m1.1 0h0m-23 28.7h0m-66.8 36.5h0m23.4 0h0m29.4 0h0m-16.9 0h0m-2.1 0h0m18.6 -2.9h0m-19.7 2.9h0m1 -2.9h0m29.4 -5.9h0m4.9 5.9h0m-8.3 0h0m-55.6 35.5h0m28.4 0h0m17.4 2h0m14.5 -4h0m-5.6 4h0m11.3 -4h0m-57.9 34.6h0m45.2 1.5h0m4.7 1.4h0m-3.4 1.5h0m4.7 -4.4h0m0.8 -4.4h0m-8.3 4.4h0m-1.6 28.7h0m6.5 3.9h0m-7 -3.9h0m9.7 32.6h0m-11.4 0h0m5.2 3.9h0" stroke="#4783f3" stroke-width="4.6" stroke-linecap="round" fill="none"/>
<path d="M924.5 41.1h0m93.1 -1.9h0m3.1 5.9h0m2.3 -2h0m-15.5 -2h0m3.3 2h0m7.7 0h0m-45.3 32.6h0m-6.9 0h0m-12.9 -5.9h0m8.4 5.9h0m-6.1 -2.9h0m31.3 2.9h0m-97.2 30.9h0m18.7 -5h0m29.8 37.3h0m0.6 2h0m2.3 32.6h0m-14.7 0h0m-5.8 34.9h0m7.1 28h0m4.7 2.3h0m5.9 0h0m-6.1 2.3h0m3 -4.6h0m3 -2.4h0m11.8 4.7h0m2.4 0h0m-6.4 0h0m-27.9 42.9h0m-7.1 24.6h0m4.1 2.4h0m10.2 -4.7h0m-4 0h0m-13.3 -4.7h0m20.6 2.4h0m20.2 2.3h0m-52.2 32.6h0m11.2 -4.7h0m-7.1 37.3h0m2.4 0h0m17.6 0h0m-12 0h0m-0.5 0h0m24.3 32.6h0m-0.7 -2.9h0m4.6 2.9h0m2.3 0h0m-20.7 32.6h0m17.2 -2h0m-5.1 0h0m-5.1 34.6h0m-16.8 24.8h0m-9.3 7.8h0m22.2 32.6h0m-4.5 0h0" stroke="#d10065" stroke-width="4.6" stroke-linecap="round" fill="none"/>
<path d="M901.7 41.1h0m5.3 0h0m-9 4h0m78.3 -2h0m21.9 0h0m-113.4 35.5h0m20.9 -2.9h0m30.8 -2.9h0m23.5 5.8h0m4.1 -2.9h0m6.2 -2.9h0m-74.4 27.1h0m-12.2 6.7h0m7.7 1.7h0m-7.8 1.7h0m10.7 -6.7h0m37.8 29.8h0m3.4 7.8h0m-5 -2h0m-25.1 34.6h0m-9.8 0h0m40 -2.9h0m-13.5 0h0m12.4 0h0m4.6 0h0m-1.4 33.2h0m-23.7 -4.7h0m13.3 9.3h0m-2.4 -2.3h0m4.1 -2.3h0m7 2.3h0m-12 32.6h0m8.3 -2.3h0m0.7 9.3h0m6.4 -4.7h0m-12.5 30.3h0m-5.9 4.4h0m-0.9 -10.3h0m-7.5 10.3h0m5.9 -8.8h0m-12.6 30h0m-9.5 9.3h0m20.3 -4.6h0m-7.7 4.6h0m2.4 -2.3h0m-5.7 0h0m-15.2 32.6h0m18.6 0h0m8.8 28.7h0m-5.8 7.8h0m0.3 -7.8h0m8.8 3.9h0m-15.2 0h0m1.7 -3.9h0m12.9 42.4h0m7.5 -11.8h0m-14.4 8.8h0m17.2 -8.8h0m-4.2 8.8h0m-5 -8.8h0m-24.1 38.5h0m22.3 -7.8h0m-4.2 3.9h0m1.6 7.8h0m2.3 0h0m1.7 -3.9h0m10.7 0h0m-11 -3.9h0m5.1 1.9h0m-1.1 0h0m-14 0h0m12.5 5.9h0m13.4 -5.9h0m-21.4 31.7h0m9.3 4.4h0m-2.2 -4.4h0m-5 4.4h0m-11.9 31.1h0m-1.6 0h0m5.6 3.9h0m9.7 -3.9h0m2.6 3.9h0m-10.2 -7.8h0m4.6 0h0m-1.6 32.6h0m5.4 3.9h0m-3.1 0h0m11.8 0h0m-9.3 -3.9h0m-2.4 -3.9h0m-0.1 3.9h0m2.4 7.8h0" stroke="#8724a4" stroke-width="4.6" stroke-linecap="round" fill="none"/>
<path d="M886.4 47h0m-15.4 -11.7h0m-7.1 9.8h0m16.1 -5.9h0m16.2 5.9h0m10.3 -4h0m6.2 0h0m-31.8 7.9h0m16.1 -7.9h0m-9.4 -3.9h0m-3.8 38.5h0m53.4 -5.9h0m-54.6 36.8h0m12.7 5.1h0m13.4 -6.8h0m-8.2 3.4h0m-9.1 -5h0m26.4 35.6h0m9.3 -3.9h0m-14.3 7.9h0m21.5 -2h0m-8.1 -5.9h0m2.9 3.9h0m-5.7 4h0m1.2 3.9h0m4.6 -11.8h0m4.6 2h0m-38.7 36.5h0m-1.6 -2.9h0m17.3 2.9h0m19.5 2.9h0m1.9 -2.9h0m1.7 -2.9h0m-32 35.5h0m25.1 2.3h0m2.8 0h0m8.9 -2.3h0m-7.5 0h0m-51.4 32.6h0m-0.8 0h0m13.3 -2.3h0m15.6 -2.4h0m-0.9 4.7h0m3.8 0h0m-7.9 -4.7h0m1.4 9.4h0m11.3 29.4h0m0.4 -5.9h0m4.2 5.9h0m-7.2 -5.9h0m5.3 -1.5h0m-6.3 5.9h0m10.2 4.4h0m-15.5 23.5h0m5.3 9.4h0m3.6 -7h0m12.4 34.9h0m-6.4 -2.3h0m-9.3 2.3h0m4.5 2.3h0m3.2 30.3h0m-8.5 -3.9h0m-1 0h0m13.1 0h0m-8.5 39.4h0m-1.1 -2.9h0m3.8 2.9h0m11.5 -8.8h0m-6.7 8.8h0m-0.6 31.7h0m-3.8 -4h0m1.4 4h0m-5 -5.9h0m6.7 1.9h0m-9 2h0m7.4 -3.9h0m0.8 3.9h0m-0.4 -2h0m0.2 0h0m-4.6 2h0m2.6 25.3h0m1.2 5.8h0m2.8 0h0m-12 0h0m17 1.5h0m-14.5 0h0m-4.4 32.6h0m14.5 0h0m-9.2 -3.9h0m-4.3 3.9h0m28.5 0h0m-19.2 28.7h0m-12 3.9h0m10 -3.9h0m-4.5 3.9h0m5.1 -3.9h0m-2.1 7.8h0m7.2 -3.9h0m-3.9 0h0m-5.6 -3.9h0m5.8 7.8h0m-6.1 -7.8h0m7.8 7.8h0m-7.2 -3.9h0m-2.5 -3.9h0" stroke="#5857d4" stroke-width="4.6" stroke-linecap="round" fill="none"/>
<path d="M839.3 41.1h0m43.8 4h0m-11.9 -5.9h0m-8 3.9h0m1.9 -3.9h0m9.8 3.9h0m-5.8 -7.8h0m38.3 7.8h0m-26.9 -5.9h0m-18.8 38.5h0m3.8 0h0m16.8 -2.9h0m-6.1 5.8h0m21.3 -2.9h0m-5.5 -5.9h0m-11.2 8.8h0m55.7 0h0m-17.3 -5.8h0m-26.6 32.1h0m-2.6 6.8h0m9.8 5h0m109.1 -8.4h0m6.2 1.7h0m-13.4 -3.4h0m0.6 1.7h0m-147.6 32.6h0m19.7 0h0m47.1 2h0m-9.1 -2h0m14 -3.9h0m-45 36.5h0m3.2 0h0m-7.6 2.9h0m12.2 -5.8h0m20.6 0h0m-7.2 2.9h0m-5.2 2.9h0m2.6 -2.9h0m-0.2 -2.9h0m24.3 0h0m-39 35.5h0m20.2 -2.3h0m-17.2 2.3h0m27.4 -2.3h0m-22.7 4.6h0m0.7 -4.6h0m39.5 2.3h0m-19.2 2.3h0m14.8 -2.3h0m-13 0h0m-10.1 27.9h0m-3.6 7h0m-0.3 -7h0m-1.8 4.7h0m-1.7 0h0m-5.6 0h0m10.5 0h0m-2.3 -2.3h0m-5.9 36.4h0m4.5 -1.5h0m22.3 0h0m-4.5 5.9h0m-8.4 -7.4h0m-3.7 -1.4h0m-10 35.5h0m7.9 -4.7h0m-1.9 4.7h0m11.3 -7h0m1.7 11.7h0m-15.8 -7h0m10 2.3h0m10.8 30.3h0m-2.5 2.3h0m-8.5 -7h0m9.7 9.3h0m7.1 2.4h0m-7 -7h0m2.9 0h0m30 -2.4h0m-1.1 4.7h0m-20.9 0h0m21.5 2.3h0m-27.7 26.4h0m6.3 3.9h0m-23.3 29.7h0m7 0h0m6.2 5.8h0m2.5 -5.8h0m-10.2 31.6h0m4.2 1.9h0m-1.4 33.1h0m-7.1 1.5h0m12.1 32.6h0m5.6 -3.9h0m-13.3 3.9h0m9.4 -3.9h0m-3.2 3.9h0m9 -3.9h0m7.4 7.8h0m-12.6 28.7h0m-10.6 -3.9h0m6.2 7.8h0" stroke="#4075ed" stroke-width="4.6" stroke-linecap="round" fill="none"/>
<path d="M870.9 43.1h0m93.9 -2h0m-8.2 2h0m85.5 0h0m-143.1 32.6h0m31.8 2.9h0m22.9 3h0m2.9 -5.9h0m-4 -2.9h0m9.1 0h0m5.1 0h0m-17.7 2.9h0m37.6 -2.9h0m-109.1 33.8h0m15.8 -1.7h0m0.1 3.4h0m30.8 36.5h0m3.3 -3.9h0m6.4 0h0m-9.2 -9.8h0m0.9 11.8h0m11.2 -2h0m-8.2 0h0m-31.3 32.6h0m23.2 0h0m18.3 0h0m-6.8 30.3h0m-0.2 4.6h0m-8.3 -4.6h0m3.9 -7.1h0m3 9.4h0m-0.5 -2.3h0m10.5 4.6h0m-0.6 30.3h0m-12.8 2.3h0m-2.1 -2.3h0m30.4 0h0m6.2 0h0m-46.5 32.6h0m-2.1 -2.9h0m6.7 8.8h0m1 -11.8h0m-3.7 -4.4h0m1.4 8.8h0m3.4 1.5h0m0.2 32.6h0m7.5 2.3h0m-7 -2.3h0m-1.1 -2.3h0m12.6 2.3h0m-25.6 32.6h0m11.2 -2.3h0m-29 34.9h0m12.8 0h0m-8.9 0h0m22.4 7.8h0m-9.7 -11.7h0m10.2 3.9h0m-5.8 3.9h0m0.7 -3.9h0m-5.8 -3.9h0m12.2 36.5h0m8.5 -2.9h0m2.3 2.9h0m-1.1 -2.9h0m-11 66.6h0m11.5 1.5h0m-9.2 -2.9h0m2 4.4h0m-1.3 1.4h0m0.1 3h0m3.3 -7.4h0m-5.4 66.7h0m0.8 3.9h0m1.2 -3.9h0m-1.7 3.9h0" stroke="#a50094" stroke-width="4.6" stroke-linecap="round" fill="none"/>
<path d="M859.7 45.1h0m20 0h0m-4.9 -4h0m25.4 4h0m17.2 -2h0m-29.4 26.7h0m-5.2 0h0m29 5.9h0m-31.2 -5.9h0m39.7 8.8h0m-4.4 -2.9h0m3.2 0h0m11.6 0h0m-50.3 32.6h0m17 3.4h0m-3.1 -11.8h0m91.4 6.7h0m-56.3 42.1h0m-3 -3.9h0m10 -5.9h0m-22.8 2h0m9 -5.9h0m-31.2 41.4h0m13.2 -2.9h0m-0.1 -2.9h0m-13.3 2.9h0m8.5 2.9h0m0.6 -8.8h0m15.3 8.8h0m11.6 -5.8h0m-0.1 5.8h0m-1.3 -5.8h0m6.8 0h0m-14 0h0m-10.8 35.5h0m22.8 4.7h0m-13.3 -4.7h0m15.4 -4.7h0m-29.4 35h0m16 2.3h0m33.9 0h0m-35.3 35.5h0m-6 -1.4h0m4.1 -7.4h0m-2.6 8.8h0m-1.7 -5.8h0m-6 33.2h0m-2.1 4.6h0m10.4 -7h0m-1.9 0h0m-1.5 2.4h0m4.8 4.6h0m-11.5 -2.3h0m14.1 32.6h0m3 -4.7h0m4.7 4.7h0m-6.5 4.7h0m-13.4 -7h0m15.8 31h0m-3.7 3.9h0m13.8 0h0m-9.8 0h0m-9.1 -3.9h0m13.4 33.6h0m-0.8 2.9h0m-4.6 2.9h0m-1.2 0h0m-2.4 -8.8h0m6.5 11.8h0m8.5 0h0m-14.3 18.9h0m-4.1 5.8h0m-2.9 2h0m-3.3 0h0m1.6 2h0m13.7 -2h0m-19.6 0h0m18.5 32.6h0m-1.5 1.5h0m-8.4 -4.4h0m11.9 5.8h0m4.3 -2.9h0m-13.2 4.4h0m7.8 -2.9h0m-5.9 -3h0m1.5 -4.4h0m1 5.9h0m-0.6 -4.4h0m3.2 37h0m5.5 0h0m0.6 0h0m-13.9 -3.9h0m6.9 3.9h0m3.1 0h0m-11.8 3.9h0m14.8 -3.9h0m-7.5 3.9h0m-7.5 -3.9h0m3.8 0h0m-9 0h0m11.4 0h0m15.3 -3.9h0m-22.3 36.5h0m-3.4 -3.9h0m10.8 -3.9h0m-0.4 15.6h0m0.1 -3.9h0m8.5 -3.9h0m-14.9 0h0m3.6 0h0m0 -3.9h0m5 0h0" stroke="#4b5fdc" stroke-width="4.6" stroke-linecap="round" fill="none"/>
<path d="M860.4 39.2h0m8.3 0h0m-31.9 1.9h0m27.4 5.9h0m48.8 -1.9h0m11.2 0h0m-3.9 -2h0m-6.6 0h0m14.3 0h0m16 0h0m-64.9 29.7h0m6 0h0m9.7 0h0m25.3 0h0m1.3 5.8h0m-33.5 26.3h0m20.1 5.1h0m-7.8 5h0m9.8 -5h0m-10.4 -10.1h0m-13.3 8.4h0m38.1 24.8h0m19.1 5.8h0m-10.8 4h0m-2.7 -7.9h0m-11 3.9h0m11.5 2h0m0 5.9h0m-25.6 23.8h0m-6.8 2.9h0m5.2 -2.9h0m33.3 0h0m-3.4 0h0m14.5 0h0m-5.2 -3h0m-41.8 38.5h0m-2.2 2.3h0m-0.4 -7h0m32.4 0h0m2.1 9.4h0m-5.4 -11.7h0m-0.3 2.3h0m-15.2 2.4h0m7.1 0h0m6.1 0h0m-2.2 2.3h0m4.5 0h0m0.9 -7h0m-5.2 4.7h0m-41.3 34.9h0m9.2 -2.3h0m-7.4 2.3h0m12.3 4.7h0m4.8 -2.4h0m13.1 -2.3h0m-5.2 0h0m43.5 0h0m-35.8 31.1h0m0.9 -5.8h0m0.9 14.6h0m5.4 -5.8h0m-15.2 0h0m3.5 -1.5h0m17.9 2.9h0m11.7 -2.9h0m-47.5 32.6h0m18.6 2.3h0m-2 -7h0m0.2 9.4h0m4.8 -9.4h0m-1.3 -2.3h0m-5.9 4.7h0m11.7 27.9h0m7.1 7h0m-9.9 4.7h0m-1.2 27.9h0m-2.2 -3.9h0m3.3 7.8h0m-0.2 -11.7h0m-5.4 7.8h0m5.8 -3.9h0m-6.4 11.7h0m1.7 -15.6h0m1.3 7.8h0m-2.1 -3.9h0m0.8 36.5h0m12.1 8.8h0m-0.6 -5.9h0m3.7 -8.8h0m-12.8 3h0m0.2 8.8h0m9.6 -8.8h0m-9.4 2.9h0m7.1 8.8h0m-5.4 -14.7h0m3.4 5.9h0m7 30.6h0m-6.7 5.9h0m-3.2 2h0m2.8 -5.9h0m-6.9 0h0m13.1 31.1h0m-8.2 7.4h0m5.2 -7.4h0m-10.6 0h0m16.3 0h0m-18.3 -1.4h0m6.9 -3h0m-7.2 7.4h0m11 -4.4h0m-2.4 2.9h0m-1.4 -2.9h0m-10.7 31.6h0m6.6 -3.9h0m3.6 3.9h0m-9 7.8h0m7.4 -7.8h0m15.1 0h0m-12.9 36.5h0m0.7 -3.9h0m8.1 0h0m-5.7 0h0m-12.2 3.9h0m7.5 -3.9h0m8.5 7.8h0" stroke="#634fcb" stroke-width="4.6" stroke-linecap="round" fill="none"/>
<path d="M905.5 45.1h0m9.7 -4h0m-1.7 5.9h0m51.6 -3.9h0m9.2 0h0m44.6 -2h0m3.6 4h0m-2.8 -2h0m-10.6 -2h0m12.7 0h0m-12.8 2h0m-50.8 32.6h0m9.8 2.9h0m-11.1 0h0m23.9 -2.9h0m-40 0h0m17.9 0h0m-56.2 32.6h0m-8.3 6.7h0m0 -13.4h0m15.3 6.7h0m-2.2 0h0m15.1 28.7h0m20.6 3.9h0m-12.2 32.6h0m-4.1 2.9h0m19.1 -2.9h0m-11 2.9h0m-4.3 32h0m-18 -4.6h0m15.2 7h0m14.2 -4.7h0m-16.1 -4.7h0m32 4.7h0m-18.5 30.3h0m2.1 4.6h0m-11.1 2.4h0m2.2 0h0m0.7 27.9h0m1.3 1.5h0m-5.7 31.1h0m25.7 0h0m-17.2 0h0m-46.1 32.6h0m1.7 0h0m11.2 0h0m-10.6 32.6h0m19.5 0h0m-14.4 0h0m9.2 3.9h0m-3 -3.9h0m2.8 0h0m23.6 29.7h0m-9.7 5.8h0m12.4 -5.8h0m-13.7 31.6h0m1.7 3.9h0m-0.2 -2h0m5.8 2h0m-7.6 34.1h0" stroke="#c30077" stroke-width="4.6" stroke-linecap="round" fill="none"/>
<path d="M843 39.2h0m4.3 7.8h0m26.3 -3.9h0m-7.5 -2h0m2.3 -3.9h0m2.6 3.9h0m-0.8 -3.9h0m-8.2 9.8h0m24.3 -7.8h0m-4.1 1.9h0m5.5 2h0m24.6 0h0m-20.9 32.6h0m9 0h0m-24.7 -2.9h0m46.4 -3h0m6.1 5.9h0m59.7 0h0m-95.7 37.6h0m-7.9 -5h0m45.3 36.5h0m-10.9 -3.9h0m-3.7 0h0m8.7 5.9h0m-34.4 29.6h0m-8.8 -2.9h0m21.3 0h0m6.7 0h0m-12.9 2.9h0m-4.4 -5.8h0m14.8 2.9h0m24.3 -5.9h0m-11.5 5.9h0m7.6 -2.9h0m-1.6 0h0m-0.5 5.8h0m2.9 3h0m-40 26.7h0m-5.7 0h0m19.8 -4.7h0m-16.4 2.4h0m37.6 2.3h0m-7.5 2.3h0m10.9 -4.6h0m3.4 2.3h0m14.4 0h0m-25.7 32.6h0m-26.3 0h0m13.9 0h0m-1.7 -2.3h0m-2.8 34.9h0m6.4 -2.9h0m-1.7 4.4h0m11.5 -4.4h0m0.4 2.9h0m-11.6 32.6h0m0.5 -2.3h0m-1.9 2.3h0m2.2 4.7h0m-2.5 -7h0m9.3 0h0m4.3 -2.4h0m-9.3 -2.3h0m7.9 34.9h0m2.6 9.4h0m-6.4 -2.4h0m1.1 -4.6h0m10.4 0h0m0.1 4.6h0m-6.1 0h0m-5.7 -9.3h0m8.1 11.7h0m32.4 -4.7h0m-22.5 28.7h0m-5.4 0h0m-6.3 3.9h0m-4 3.9h0m-23.1 25.8h0m29.7 8.8h0m-4 -8.8h0m2.1 41.4h0m-2.1 -7.9h0m-5 0h0m2.5 33.1h0m0 -4.4h0m-6 7.4h0m2.6 -1.5h0m0.8 0h0m6.5 36.5h0m-5.7 -3.9h0m3.7 0h0m-6.1 0h0m9.2 0h0m5.1 -3.9h0m-1 7.8h0m-19.6 -7.8h0m24.4 3.9h0m-8 3.9h0m9.9 -3.9h0m6.8 0h0m-24.6 32.6h0m8.8 0h0m-9.1 0h0m8.4 -3.9h0m-6.4 3.9h0m7.2 -3.9h0m-3.6 0h0m0.4 11.7h0m2.6 -7.8h0m-2.1 0h0" stroke="#416ee8" stroke-width="4.6" stroke-linecap="round" fill="none"/>
<path d="M1024.6 43.1h0m7.2 0h0m4.6 -2h0m-82.8 25.8h0m0.5 5.9h0m36.7 2.9h0m-15.6 2.9h0m-77.3 24.7h0m38.9 35.6h0m-9.5 0h0m13.8 2h0m0.8 0h0m3.5 32.6h0m-2.8 0h0m-7 32.6h0m25.8 -2.3h0m-24.2 32.6h0m-10.5 0h0m-1.6 4.6h0m-18.2 30.3h0m22.4 1.5h0m-11.9 31.1h0m24 0h0m3.3 -2.3h0m-52.5 37.2h0m8.4 34.2h0m29 28.7h0m11.7 0h0m-6.3 -2.9h0m3 2.9h0m4.4 2.9h0m-0.3 -2.9h0m-9.7 32.6h0m-9.3 29.7h0m-0.5 68.1h0" stroke="#da0059" stroke-width="4.6" stroke-linecap="round" fill="none"/>
<path d="M1000.2 43.1h0m23.5 -2h0m-6.6 2h0m-1.8 -2h0m28.8 2h0m-77.5 29.7h0m-20 2.9h0m41.3 -2.9h0m-6 5.8h0m-80.3 24.7h0m-14.5 3.3h0m14.2 -8.4h0m1.8 13.5h0m-13.4 1.6h0m10 -8.4h0m26.6 34h0m9.1 0h0m-1.8 0h0m-11.5 37.5h0m7.8 -2.9h0m-7.6 0h0m13.2 0h0m11.6 0h0m12.6 32.6h0m-8.5 0h0m-51 30.3h0m31.8 2.3h0m-0.6 -2.3h0m7.8 2.3h0m-6.7 -4.7h0m6.7 0h0m-11.4 4.7h0m-17.7 29.7h0m23.1 1.4h0m5 3h0m-14 31.1h0m-22 65.2h0m8 3.9h0m-3.5 0h0m22.3 31.6h0m3.2 0h0m4.7 29.7h0m-25.5 65.2h0m19.9 -3.9h0m-10.1 11.7h0m3.3 20.9h0" stroke="#ca006e" stroke-width="4.6" stroke-linecap="round" fill="none"/>
<path d="M875 39.2h0m5.5 3.9h0m-32.3 2h0m44.3 0h0m-30.3 -7.9h0m25.9 7.9h0m-39.9 -5.9h0m44.8 5.9h0m13.3 -5.9h0m-17.4 3.9h0m7 0h0m3.7 -3.9h0m-38.9 36.5h0m22.3 0h0m8.9 2.9h0m-3 -2.9h0m-2.5 2.9h0m-12.7 -2.9h0m5 0h0m56.2 0h0m18.6 0h0m-69.6 29.2h0m134.9 1.7h0m-94.5 28.4h0m0.1 5.9h0m7.2 0h0m-3.6 -3.9h0m-31.7 39.4h0m28.9 -2.9h0m3 0h0m10.1 -5.9h0m-39.7 38.5h0m16.1 7h0m-25.6 -7h0m17.5 0h0m14.1 -4.7h0m3.6 7h0m-0.7 -2.3h0m2.7 -9.4h0m-13.6 9.4h0m15.4 -4.7h0m-45.3 37.3h0m22.9 -2.3h0m2.3 4.6h0m-5.2 0h0m0.7 0h0m4.2 -4.6h0m18.2 33.4h0m-8.6 -7.3h0m-8.4 10.3h0m-3.6 -3h0m7 0h0m-7.8 3h0m10.7 1.4h0m-3.2 3h0m12.4 -3h0m-16.9 22.7h0m-12.5 4.7h0m3.1 2.3h0m4.5 -2.3h0m9.6 2.3h0m-11.1 0h0m-2.2 0h0m11 2.3h0m7.4 35h0m-5.6 -9.4h0m38.7 4.7h0m-41.3 32.6h0m10.2 -3.9h0m0.2 0h0m-8.6 7.8h0m14.9 -3.9h0m-17.2 32.6h0m0.8 0h0m15.1 -5.9h0m-0.5 5.9h0m3.3 0h0m-13.2 32.6h0m10.2 -2h0m-0.5 -3.9h0m-16.4 5.9h0m3.4 2h0m6.6 5.8h0m-7.4 -9.8h0m6.5 34.6h0m-8 0h0m2.1 0h0m5.3 -4.4h0m0 44.8h0m-7.6 0h0m16.8 -3.9h0m-4.4 -3.9h0m-8.6 -3.9h0m13.9 3.9h0m-5.4 0h0m-7.9 0h0m21.1 0h0m-16.7 36.5h0m-2 -3.9h0m5.2 3.9h0m-4.1 -3.9h0m-9.5 -3.9h0m19.8 -3.9h0m-2 7.8h0" stroke="#4266e3" stroke-width="4.6" stroke-linecap="round" fill="none"/>
<path d="M887.8 41.1h0m35.7 2h0m19.9 0h0m-55.1 32.6h0m36.6 0h0m23.7 0h0m-4.8 0h0m3.5 -2.9h0m32.5 2.9h0m-18.7 -2.9h0m-68 33.8h0m-4 3.4h0m-0.8 0h0m9.3 -3.4h0m-0.8 6.7h0m-4 -1.6h0m4.1 -13.5h0m11.5 8.4h0m-4.7 5.1h0m-15.1 0h0m32 27.2h0m1.5 7.9h0m5.5 -2h0m-5.1 -1.9h0m10.3 3.9h0m-10.6 -7.9h0m0.8 5.9h0m-6 28.7h0m25.3 -2.9h0m5.4 2.9h0m5.1 -2.9h0m-31.7 35.5h0m11 0h0m-5.8 -2.3h0m14.6 0h0m-40.6 30.2h0m1.2 9.4h0m21 -9.4h0m1.7 2.4h0m10.6 4.6h0m2.8 0h0m5.8 -2.3h0m-7.9 0h0m11.2 0h0m-26.3 41.4h0m2.9 -11.7h0m-3.3 -4.4h0m5.5 8.8h0m-3.9 -5.9h0m-14.7 32.3h0m13.2 7h0m-4 -2.3h0m3.1 -2.3h0m24.9 2.3h0m-61.7 32.6h0m10.1 0h0m2.7 0h0m-3.1 -2.3h0m27.3 -2.4h0m-22.6 37.3h0m7.2 -3.9h0m16 0h0m-13.2 -3.9h0m0.1 15.6h0m22.9 21.9h0m-5.2 5.8h0m-0.5 -5.8h0m-1.3 8.8h0m-1.2 -14.7h0m-5.9 43.4h0m2 -11.8h0m8.6 9.8h0m-28.7 32.6h0m19.2 -5.9h0m3.7 0h0m-11.1 5.9h0m9.1 5.9h0m0.3 -7.4h0m12.3 34.1h0m-0.9 0h0m1.1 3.9h0m3.4 -3.9h0m-21.5 28.7h0m6.3 3.9h0m-9.7 0h0" stroke="#9a069b" stroke-width="4.6" stroke-linecap="round" fill="none"/>
<path d="M1019.2 45.1h0m-98.3 27.7h0m36.8 0h0m-5.3 2.9h0m13.7 2.9h0m32 -2.9h0m-90.9 37.6h0m-7.6 0h0m10.7 -6.7h0m-4.6 -5h0m19.4 106.8h0m28.3 -4.6h0m-31.1 34.9h0m19.4 -2.3h0m-4.2 -2.4h0m-4.7 -4.7h0m5.8 7.1h0m-6.6 36.4h0m2 -4.4h0m10.7 1.4h0m-6.3 34.1h0m-39.8 30.3h0m9.5 7h0m-9 -4.7h0m29.1 68.1h0m2.2 0h0m2.4 -5.8h0m-9.4 27.7h0m-22.8 73h0m2.6 0h0m17.5 -3.9h0m10.1 36.5h0" stroke="#de0054" stroke-width="4.6" stroke-linecap="round" fill="none"/>
<path d="M925.5 43.1h0m1 2h0m66.8 -4h0m-0.1 2h0m-55.1 32.6h0m2.4 -2.9h0m17.1 -3h0m2 3h0m-63.5 35.5h0m9.7 -5h0m-12.7 15.1h0m2.9 -8.4h0m9.1 -3.4h0m-7.8 3.4h0m6.3 0h0m12.5 -3.4h0m6 34.3h0m2.8 -3.9h0m6 1.9h0m7.4 4h0m5.4 0h0m-27.4 30.6h0m21 0h0m-13.2 0h0m12.9 0h0m6.3 0h0m-14.4 34.9h0m1.9 -4.6h0m23.5 2.3h0m-17.3 32.6h0m-0.6 0h0m-9.4 0h0m4.1 -4.7h0m-9 7h0m8.7 0h0m-13.6 34.7h0m3.2 -11.7h0m18.4 7.3h0m-22.4 27.9h0m6.9 2.4h0m-4.4 -2.4h0m-0.4 2.4h0m11 2.3h0m-32.1 32.6h0m-1.4 -2.3h0m9.5 34.9h0m13.5 -7.8h0m-15.6 3.9h0m3 3.9h0m11.8 0h0m12.2 65.2h0m-1.9 0h0m5 -2h0m-8.8 2h0m6 0h0m-7.1 35.5h0m-3.3 -2.9h0m5 -1.5h0m12.9 1.5h0m-29.6 32.6h0m-3.7 0h0m-3.1 0h0m20.6 -3.9h0m2.2 28.7h0m-5.4 3.9h0m-1.2 0h0m8.6 3.9h0" stroke="#bb0080" stroke-width="4.6" stroke-linecap="round" fill="none"/>
<line x1="799.6" y1="564.9" x2="1121" y2="564.9" stroke="#555" stroke-width="1.3"/>
<line x1="836.7" y1="564.9" x2="836.7" y2="568.7" stroke="#555" stroke-width="1"/>
<text transform="translate(836.7 582.1)" style="font-family:'DejaVu Sans',sans-serif;font-size:11.9px" text-anchor="middle" fill="#333">−0.4</text>
<line x1="877.3" y1="564.9" x2="877.3" y2="568.7" stroke="#555" stroke-width="1"/>
<text transform="translate(877.3 582.1)" style="font-family:'DejaVu Sans',sans-serif;font-size:11.9px" text-anchor="middle" fill="#333">−0.2</text>
<line x1="917.9" y1="564.9" x2="917.9" y2="568.7" stroke="#555" stroke-width="1"/>
<text transform="translate(917.9 582.1)" style="font-family:'DejaVu Sans',sans-serif;font-size:11.9px" text-anchor="middle" fill="#333">0.0</text>
<line x1="958.5" y1="564.9" x2="958.5" y2="568.7" stroke="#555" stroke-width="1"/>
<text transform="translate(958.5 582.1)" style="font-family:'DejaVu Sans',sans-serif;font-size:11.9px" text-anchor="middle" fill="#333">0.2</text>
<line x1="999.1" y1="564.9" x2="999.1" y2="568.7" stroke="#555" stroke-width="1"/>
<text transform="translate(999.1 582.1)" style="font-family:'DejaVu Sans',sans-serif;font-size:11.9px" text-anchor="middle" fill="#333">0.4</text>
<line x1="1039.7" y1="564.9" x2="1039.7" y2="568.7" stroke="#555" stroke-width="1"/>
<text transform="translate(1039.7 582.1)" style="font-family:'DejaVu Sans',sans-serif;font-size:11.9px" text-anchor="middle" fill="#333">0.6</text>
<line x1="1080.3" y1="564.9" x2="1080.3" y2="568.7" stroke="#555" stroke-width="1"/>
<text transform="translate(1080.3 582.1)" style="font-family:'DejaVu Sans',sans-serif;font-size:11.9px" text-anchor="middle" fill="#333">0.8</text>
<line x1="1120.9" y1="564.9" x2="1120.9" y2="568.7" stroke="#555" stroke-width="1"/>
<text transform="translate(1120.9 582.1)" style="font-family:'DejaVu Sans',sans-serif;font-size:11.9px" text-anchor="middle" fill="#333">1.0</text>
<text transform="translate(959.6 599.7)" style="font-family:'DejaVu Sans',sans-serif;font-size:14.1px" text-anchor="middle" textLength="266" lengthAdjust="spacingAndGlyphs">SHAP value (impact on model output)</text>
<line x1="1323.5" y1="46.5" x2="1589" y2="46.5" stroke="#d4d4d4" stroke-width="0.90" stroke-dasharray="1 2.6"/>
<line x1="1323.5" y1="74.9" x2="1589" y2="74.9" stroke="#d4d4d4" stroke-width="0.90" stroke-dasharray="1 2.6"/>
<line x1="1323.5" y1="103.3" x2="1589" y2="103.3" stroke="#d4d4d4" stroke-width="0.90" stroke-dasharray="1 2.6"/>
<line x1="1323.5" y1="131.7" x2="1589" y2="131.7" stroke="#d4d4d4" stroke-width="0.90" stroke-dasharray="1 2.6"/>
<line x1="1323.5" y1="160.1" x2="1589" y2="160.1" stroke="#d4d4d4" stroke-width="0.90" stroke-dasharray="1 2.6"/>
<line x1="1323.5" y1="188.5" x2="1589" y2="188.5" stroke="#d4d4d4" stroke-width="0.90" stroke-dasharray="1 2.6"/>
<line x1="1323.5" y1="216.9" x2="1589" y2="216.9" stroke="#d4d4d4" stroke-width="0.90" stroke-dasharray="1 2.6"/>
<line x1="1323.5" y1="245.3" x2="1589" y2="245.3" stroke="#d4d4d4" stroke-width="0.90" stroke-dasharray="1 2.6"/>
<line x1="1323.5" y1="273.7" x2="1589" y2="273.7" stroke="#d4d4d4" stroke-width="0.90" stroke-dasharray="1 2.6"/>
<line x1="1323.5" y1="302.1" x2="1589" y2="302.1" stroke="#d4d4d4" stroke-width="0.90" stroke-dasharray="1 2.6"/>
<line x1="1323.5" y1="330.5" x2="1589" y2="330.5" stroke="#d4d4d4" stroke-width="0.90" stroke-dasharray="1 2.6"/>
<line x1="1323.5" y1="358.9" x2="1589" y2="358.9" stroke="#d4d4d4" stroke-width="0.90" stroke-dasharray="1 2.6"/>
<line x1="1323.5" y1="387.3" x2="1589" y2="387.3" stroke="#d4d4d4" stroke-width="0.90" stroke-dasharray="1 2.6"/>
<line x1="1323.5" y1="415.7" x2="1589" y2="415.7" stroke="#d4d4d4" stroke-width="0.90" stroke-dasharray="1 2.6"/>
<line x1="1323.5" y1="444.1" x2="1589" y2="444.1" stroke="#d4d4d4" stroke-width="0.90" stroke-dasharray="1 2.6"/>
<line x1="1323.5" y1="472.5" x2="1589" y2="472.5" stroke="#d4d4d4" stroke-width="0.90" stroke-dasharray="1 2.6"/>
<line x1="1323.5" y1="500.9" x2="1589" y2="500.9" stroke="#d4d4d4" stroke-width="0.90" stroke-dasharray="1 2.6"/>
<line x1="1323.5" y1="529.3" x2="1589" y2="529.3" stroke="#d4d4d4" stroke-width="0.90" stroke-dasharray="1 2.6"/>
<line x1="1323.5" y1="557.7" x2="1589" y2="557.7" stroke="#d4d4d4" stroke-width="0.90" stroke-dasharray="1 2.6"/>
<line x1="1403" y1="29.5" x2="1403" y2="585.8" stroke="#999" stroke-width="1.8"/>
<text transform="translate(1300 51.3)" style="font-family:'DejaVu Sans',sans-serif;font-size:12.4px" text-anchor="end" fill="#333">Raspberryketonesulfate-put</text>
<text transform="translate(1300 79.7)" style="font-family:'DejaVu Sans',sans-serif;font-size:12.4px" text-anchor="end" fill="#333">Perfluorodecylethanoicacid</text>
<text transform="translate(1300 108.1)" style="font-family:'DejaVu Sans',sans-serif;font-size:12.4px" text-anchor="end" fill="#333">Arachidonicacid</text>
<text transform="translate(1300 136.5)" style="font-family:'DejaVu Sans',sans-serif;font-size:12.4px" text-anchor="end" fill="#333">7-oxo-DCA</text>
<text transform="translate(1300 164.9)" style="font-family:'DejaVu Sans',sans-serif;font-size:12.4px" text-anchor="end" fill="#333">Raspberryketonesulfate-put</text>
<text transform="translate(1300 193.3)" style="font-family:'DejaVu Sans',sans-serif;font-size:12.4px" text-anchor="end" fill="#333">Arachidicacid</text>
<text transform="translate(1300 221.7)" style="font-family:'DejaVu Sans',sans-serif;font-size:12.4px" text-anchor="end" fill="#333">PFOS-L</text>
<text transform="translate(1300 250.1)" style="font-family:'DejaVu Sans',sans-serif;font-size:12.4px" text-anchor="end" fill="#333">Proline</text>
<text transform="translate(1300 278.5)" style="font-family:'DejaVu Sans',sans-serif;font-size:12.4px" text-anchor="end" fill="#333">LysoPE-18-0</text>
<text transform="translate(1300 306.9)" style="font-family:'DejaVu Sans',sans-serif;font-size:12.4px" text-anchor="end" fill="#333">Itaconicacid</text>
<text transform="translate(1300 335.3)" style="font-family:'DejaVu Sans',sans-serif;font-size:12.4px" text-anchor="end" fill="#333">6-Ketolithocholicacid-2</text>
<text transform="translate(1300 363.7)" style="font-family:'DejaVu Sans',sans-serif;font-size:12.4px" text-anchor="end" fill="#333">tryptophan</text>
<text transform="translate(1300 392.1)" style="font-family:'DejaVu Sans',sans-serif;font-size:12.4px" text-anchor="end" fill="#333">TbMCA</text>
<text transform="translate(1300 420.5)" style="font-family:'DejaVu Sans',sans-serif;font-size:12.4px" text-anchor="end" fill="#333">7-keto-DCA</text>
<text transform="translate(1300 448.9)" style="font-family:'DejaVu Sans',sans-serif;font-size:12.4px" text-anchor="end" fill="#333">di-oxo-LCA</text>
<text transform="translate(1300 477.3)" style="font-family:'DejaVu Sans',sans-serif;font-size:12.4px" text-anchor="end" fill="#333">Zealarone</text>
<text transform="translate(1300 505.7)" style="font-family:'DejaVu Sans',sans-serif;font-size:12.4px" text-anchor="end" fill="#333">TaMCA</text>
<text transform="translate(1300 534.1)" style="font-family:'DejaVu Sans',sans-serif;font-size:12.4px" text-anchor="end" fill="#333">Fructose</text>
<text transform="translate(1300 562.5)" style="font-family:'DejaVu Sans',sans-serif;font-size:12.4px" text-anchor="end" fill="#333">LPC-17-0</text>
<path d="M1344.6 46.5h0m21 0h0m5.6 -2.6h0m-8.1 5.2h0m35 -7.7h0m-10.4 2.5h0m-0.3 2.6h0m7.3 28.4h0m16.6 28.4h0m4.5 2.6h0m-8.7 0h0m5.6 -5.2h0m-3 0h0m-22.4 31h0m12.7 0h0m5.2 3.4h0m1.6 -3.4h0m-0.4 -3.4h0m5 30.5h0m-8.5 3.9h0m0.8 1.2h0m0.1 -2.5h0m-2.8 27.1h0m5.4 0h0m-3.2 5.1h0m5.6 -10.2h0m-4.2 7.7h0m-3.5 0h0m1.1 -5.2h0m-1.3 -2.5h0m21.8 5.1h0m-15.9 28.4h0m2.4 -2.6h0m-1.6 0h0m-2.5 2.6h0m-0.8 0h0m5.3 0h0m2.2 -2.6h0m-12.9 2.6h0m-4 25h0m8.5 0h0m0.5 0h0m3.3 28.4h0m-5.1 0h0m0.2 -3.4h0m-8.2 6.8h0m7.1 3.4h0m-4.8 21.6h0m6.3 -3.4h0m-0.9 31.8h0m5.2 0h0m-3.3 6.8h0m-7.9 25h0m3.8 0h0m8.8 0h0m6.4 0h0m-12.5 35.2h0m-2.5 -10.2h0m7.3 29.2h0m-8.1 -5.1h0m2.4 7.7h0m-1 25h0m-2.5 3.4h0m2.5 3.4h0m8.3 -6.8h0m-15.2 3.4h0m8.2 25h0m1.9 6.8h0m1.1 25h0m1.9 -3.4h0m-0.9 31.8h0m-1.7 -3.4h0m5.9 0h0m5.2 3.4h0m-4.9 0h0m-6.1 25h0m-6.8 3.4h0m4 0h0m6.3 -3.4h0" stroke="#5857d4" stroke-width="4.2" stroke-linecap="round" fill="none"/>
<path d="M1370.8 46.5h0m0 0h0m2.5 2.6h0m12 25.8h0m-3.3 -1.1h0m-47.8 29.5h0m36.5 0h0m-9.5 -2.6h0m-7.6 2.6h0m23 0h0m2 0h0m-31 0h0m7.6 0h0m26.9 -2.6h0m-10.3 2.6h0m-20.2 0h0m33.3 -2.6h0m-31.9 2.6h0m15.8 0h0m0.6 0h0m14.5 0h0m-9 0h0m-12.8 0h0m22.6 2.6h0m23.6 25.8h0m0.2 0h0m9.4 0h0m0.3 0h0m14 28.4h0m10.4 0h0m41.2 0h0m-57.9 25.8h0m0.1 2.6h0m6.1 0h0m-48 28.4h0m12.4 -5.1h0m13 30.1h0m5.1 3.4h0m-3.7 -3.4h0m-1.1 31.8h0m13.2 0h0m-8.5 0h0m0.7 0h0m-0.9 0h0m5.7 -3.4h0m3.6 3.4h0m-3.7 0h0m-10.9 25h0m5.2 0h0m-6.7 3.4h0m1.1 6.8h0m0.5 -6.8h0m6.4 0h0m-0.8 0h0m-1.3 0h0m-1 28.4h0m-4.2 -3.4h0m5.2 3.4h0m-8.2 3.4h0m9.5 -3.4h0m-0.9 0h0m-11.7 28.4h0m0 -2.6h0m0.9 0h0m-5 0h0m7.1 0h0m-1.3 2.6h0m1.9 2.6h0m-4.7 -5.2h0m5.1 2.6h0m-5.9 -2.6h0m4.7 27.6h0m2.2 0h0m-2.7 0h0m-6 3.4h0m8.9 28.4h0m8.3 0h0m1.6 0h0m-10.7 -2.6h0m9.6 2.6h0m-2.8 0h0m4.9 0h0m-2.1 0h0m1.2 0h0m-0.6 0h0m0 -2.6h0m-1.1 0h0m-10.4 59.4h0m10.7 0h0m1.5 0h0m-3.8 0h0m-3.3 0h0m-0.8 0h0m6.8 -3.4h0m-5.7 3.4h0m5.8 0h0m-7.4 28.4h0m-6.3 -3.4h0m4.9 3.4h0m-1.3 28.4h0m3.8 0h0m-2.3 -3.4h0m2.2 0h0m-1.7 28.4h0m-2.8 0h0" stroke="#e2004e" stroke-width="4.2" stroke-linecap="round" fill="none"/>
<path d="M1346.2 46.5h0m16.3 2.6h0m26.7 -2.6h0m3.5 59.4h0m10.2 0h0m-0.7 -5.2h0m4 0h0m-12 31h0m-1.2 0h0m12.2 -3.4h0m0.4 3.4h0m-3.8 0h0m-1.7 28.4h0m5.8 1.3h0m8.9 -1.3h0m-11.4 25.8h0m-6.5 5.2h0m11.9 -2.6h0m-3.1 0h0m-7.4 28.4h0m12.4 0h0m-1.4 0h0m-3.7 -5.1h0m-0.3 7.7h0m-1.2 -5.2h0m-4.7 31h0m5.3 0h0m-5.7 -3.4h0m7.9 6.8h0m1.6 -3.4h0m-1.3 -3.4h0m-2.1 6.8h0m-2.8 25h0m2.4 -3.4h0m1.2 0h0m-8.3 0h0m1.1 0h0m7 28.4h0m-2.3 31.8h0m10.2 28.4h0m-15.9 28.4h0m4.5 28.4h0m-2.5 -5.1h0m0.2 5.1h0m1.3 0h0m2 -2.6h0m-1.6 0h0m1.1 31h0m1.6 6.8h0m-2.2 -10.2h0m3.8 3.4h0m-6 -3.4h0m-1.5 31.8h0m1.7 6.8h0m-0.4 -3.4h0m0.6 -3.4h0m-4.1 28.4h0m9.2 0h0m-5 0h0m-2.5 28.4h0m1 -3.4h0m-0.9 3.4h0" stroke="#4266e3" stroke-width="4.2" stroke-linecap="round" fill="none"/>
<path d="M1379.1 77.2h0m-4.5 -2.3h0m7.2 0h0m-0.8 -2.3h0m-24.8 30.7h0m49.6 0h0m0 -2.6h0m22.4 0h0m-6.1 5.2h0m-27.5 22.4h0m3 3.4h0m3.5 0h0m-2.6 0h0m0.5 0h0m3.6 0h0m4.4 29.7h0m-1 -6.4h0m3.4 5.1h0m-3.8 3.8h0m-3.8 24.6h0m-2.1 5.1h0m21.4 -5.1h0m-24.7 25.8h0m15 2.6h0m-2.9 -5.1h0m-10.7 33.5h0m5.7 0h0m6.6 3.4h0m-4.6 -6.8h0m2 0h0m-5.7 0h0m3.8 6.8h0m0.5 28.4h0m-4.3 -3.4h0m8.7 -3.4h0m-10.1 0h0m-1.7 3.4h0m13.8 0h0m-10.7 3.4h0m3.6 0h0m-3.5 25h0m1 -3.4h0m2.4 3.4h0m-1.5 25h0m-3.5 3.4h0m3.8 3.4h0m3.9 -3.4h0m-10.5 25.8h0m-4.2 0h0m5.5 34.4h0m5.6 0h0m-2.6 -3.4h0m-1.7 -3.4h0m1.4 6.8h0m2.8 22.4h0m3 31h0m-6.1 0h0m-0.4 -3.4h0m5.3 3.4h0m0.8 0h0m-6.1 0h0m-1.4 -3.4h0m1.1 0h0m2 28.4h0m-1.9 3.4h0m1 0h0m4 28.4h0m-2.7 -3.4h0m-3.1 3.4h0m5 -3.4h0m-3.6 0h0m-0.7 35.2h0m2.8 -3.4h0m1.7 -3.4h0m-2.1 3.4h0m-3.8 -3.4h0m4.9 3.4h0m-5.6 28.4h0m5.8 0h0m-4.4 -3.4h0m0.9 0h0" stroke="#793bb5" stroke-width="4.2" stroke-linecap="round" fill="none"/>
<path d="M1372.6 46.5h0m16.4 25h0m-1.8 9.1h0m22.6 51.1h0m-0.8 0h0m5 0h0m-6.6 0h0m-9.7 85.2h0m14.8 28.4h0m0.9 0h0m4.4 0h0m1.3 28.4h0m-9 25h0m0.9 3.4h0m-0.5 28.4h0m1.7 -3.4h0m-13.5 24.1h0m6.5 7.7h0m-4.6 21.6h0m0.3 13.6h0m13.6 75h0m-5.1 31.8h0m-3.8 28.4h0m2.8 28.4h0m-5.5 -3.4h0m2.6 0h0m-2.2 0h0m0.8 3.4h0" stroke="#de0054" stroke-width="4.2" stroke-linecap="round" fill="none"/>
<path d="M1347.9 46.5h0m29.8 28.4h0m3.7 3.4h0m35.3 -4.5h0m-51.8 29.5h0m57.7 -2.6h0m-3.2 2.6h0m-14 2.6h0m5.2 0h0m26.7 0h0m-37.2 25.8h0m0.4 0h0m0.9 0h0m6.6 3.4h0m-4.5 0h0m-3.8 -6.8h0m4.1 34.4h0m0 -11.5h0m-6.4 10.2h0m6 -3.9h0m2.8 -1.2h0m-2.2 11.5h0m-4.3 -10.3h0m1.7 6.4h0m1.1 -5.1h0m1.9 0h0m7.7 1.3h0m-7.9 25.8h0m-4.4 2.6h0m3.1 -2.6h0m0.7 2.6h0m-2.9 2.6h0m1.8 0h0m2.4 28.4h0m2.1 0h0m-4.3 -7.7h0m-0.1 2.5h0m5.7 5.2h0m-5.1 -2.6h0m0.6 21.6h0m2 6.8h0m-1.7 -3.4h0m-7.2 3.4h0m3.1 0h0m9.4 0h0m-2.9 28.4h0m-7 0h0m-1.2 0h0m-0.5 3.4h0m7 -3.4h0m1.5 -3.4h0m-9.9 31.8h0m4 0h0m2.1 0h0m-6.2 28.4h0m8.3 -3.4h0m0 6.8h0m-4 -3.4h0m7.3 28.4h0m-4.8 28.4h0m-5.9 -3.4h0m3.2 29.2h0m-1.1 2.6h0m-4.4 -2.6h0m4 34.4h0m5.2 0h0m1.4 -3.4h0m-3.7 0h0m-1 3.4h0m9.5 -3.4h0m4.6 0h0m-12.8 25h0m-0.3 3.4h0m-4.3 3.4h0m4.5 0h0m0.6 25h0m2.1 3.4h0m-1.6 0h0m-2.6 21.6h0m1.2 0h0m-1.1 3.4h0m1.4 -3.4h0m-0.5 31.8h0m7.1 0h0" stroke="#4b5fdc" stroke-width="4.2" stroke-linecap="round" fill="none"/>
<path d="M1346 43.9h0m39.3 2.6h0m48.6 -2.6h0m-1.5 2.6h0m-3.5 0h0m12.2 0h0m-0.2 -2.6h0m-7.5 2.6h0m-18.9 -2.6h0m16.4 5.2h0m-9.7 -2.6h0m-7.7 28.4h0m-8.3 -1.1h0m34.3 1.1h0m-1.8 -2.3h0m-0.3 3.4h0m-14.6 -1.1h0m-0.8 25.8h0m-29.3 2.6h0m13.3 -5.1h0m4.6 5.1h0m-0.6 -5.1h0m17 5.1h0m-38.6 28.4h0m6.8 0h0m-5.8 28.4h0m14.4 -6.4h0m4.1 7.7h0m-4.1 7.6h0m4 -8.9h0m-8.6 -1.3h0m3.6 0h0m-4.4 1.3h0m2.9 25.8h0m-6.2 2.6h0m9.2 25.8h0m-2.7 5.2h0m-3.1 -2.6h0m7.6 -2.6h0m-16.7 31h0m10.7 3.4h0m11.1 0h0m-7.1 0h0m-4.2 -6.8h0m2.4 0h0m4.3 3.4h0m-6 0h0m-5.9 0h0m2.8 28.4h0m7.8 -3.4h0m-3.9 3.4h0m-19.5 28.4h0m-2.1 0h0m17 28.4h0m-6.6 -3.4h0m27 31.8h0m0.6 0h0m-23.3 28.4h0m-0.8 0h0m18.6 0h0m-5.2 0h0m-12.1 28.4h0m3.9 5.1h0m4.4 -7.7h0m-4.7 2.6h0m0.9 -2.6h0m3.4 2.6h0m0 -2.6h0m3.1 2.6h0m-10.5 -2.6h0m6.8 31h0m-1.1 -3.4h0m7.5 6.8h0m-15 28.4h0m4.1 -3.4h0m3.3 0h0m4.7 0h0m-3.3 0h0m-0.1 0h0m1.8 0h0m-1 0h0m-4.1 28.4h0m4.2 25h0m-2.3 0h0m4.4 0h0m-5.5 28.4h0m9.8 3.4h0" stroke="#4075ed" stroke-width="4.2" stroke-linecap="round" fill="none"/>
<path d="M1369.5 49.1h0m0 -5.2h0m11.7 23h0m2.5 10.3h0m3.9 -5.7h0m7.8 4.5h0m-12.8 -6.8h0m4.9 8h0m-7.4 -2.3h0m14.5 56.8h0m8.3 3.4h0m-11.4 81.8h0m2.4 0h0m12.2 25h0m1.1 3.4h0m-3.3 0h0m6 0h0m-4.4 35.2h0m2.8 18.2h0m-1.3 -3.4h0m5 6.8h0m-4.3 0h0m1 -3.4h0m-2.8 3.4h0m-0.6 -3.4h0m6.8 31.8h0m-4.2 -3.4h0m2.3 3.4h0m-9.5 -6.8h0m6.4 6.8h0m-8.6 23.3h0m0.6 5.1h0m4.2 2.6h0m-9.8 -2.6h0m6.9 0h0m-2.7 0h0m6.9 28.4h0m-5.8 3.4h0m10.8 25h0m-2.1 0h0m-4.1 31.8h0m-3.5 -3.4h0m9.3 -3.4h0m-5.1 6.8h0m-0.5 -3.4h0m9.3 28.4h0m-3 28.4h0m-3.5 0h0m0.7 0h0m2.1 0h0m-10.6 0h0m7.5 0h0m1.4 -3.4h0m-11 35.2h0m5.5 -3.4h0m1.1 -3.4h0m4.9 3.4h0m-5.8 -3.4h0m1.5 31.8h0m-0.9 0h0m3.1 0h0m-1 -6.8h0m4.2 6.8h0m-6.5 0h0m1.1 -3.4h0m0.9 3.4h0" stroke="#c30077" stroke-width="4.2" stroke-linecap="round" fill="none"/>
<path d="M1353.3 46.5h0m9.3 0h0m36.2 2.6h0m-16.8 26.9h0m8.9 1.2h0m-9.2 -5.7h0m5.3 -1.1h0m3.8 5.6h0m-5.8 -5.6h0m0.3 2.2h0m5.4 2.3h0m-6.5 -4.5h0m32.1 4.5h0m3.1 0h0m-34.4 28.4h0m28.8 0h0m13.5 -2.6h0m-18.8 -2.5h0m-2.1 33.5h0m3.8 3.4h0m-5.7 -3.4h0m6.7 56.8h0m-1 53.4h0m-0.5 28.4h0m-11.5 31.8h0m12.1 0h0m-11.5 0h0m2.5 0h0m6.7 3.4h0m4.9 -6.8h0m-9 25h0m5.8 6.8h0m-10.9 28.4h0m-2.4 0h0m7.2 -2.6h0m-4.6 5.2h0m7.8 -5.2h0m0.1 0h0m-3.9 34.4h0m-0.9 -10.2h0m8.7 63.6h0m-5.6 -3.4h0m4.2 3.4h0m0.8 25h0m-6.5 28.4h0m-3.1 3.4h0m1.4 0h0m5 -3.4h0m-7.1 28.4h0m7.8 3.4h0m0.3 -3.4h0m-3.1 3.4h0m-2.3 3.4h0m-1 0h0m6.3 0h0m-7.5 25h0m1.4 0h0m1.2 0h0m1 -3.4h0m1.6 3.4h0m-5.3 -3.4h0m2.6 6.8h0m2 0h0m-4.3 -6.8h0m4.4 3.4h0m0 0h0m-1.2 0h0" stroke="#b0008a" stroke-width="4.2" stroke-linecap="round" fill="none"/>
<path d="M1366.6 46.5h0m16.4 28.4h0m3 5.7h0m-5 -14.8h0m1.3 11.4h0m5.2 -2.3h0m-5.5 5.7h0m-11.3 20.1h0m-7.4 2.6h0m-20 0h0m63.6 25h0m1.2 0h0m-1.4 3.4h0m12 56.8h0m7.6 -2.6h0m-16.2 2.6h0m7.7 85.2h0m7.1 0h0m-22.3 56.8h0m0.2 -3.4h0m-0.2 -3.4h0m1 6.8h0m1.5 -3.4h0m-2.4 6.8h0m-2.6 19.9h0m1.7 0h0m-4.8 5.1h0m10.1 2.6h0m-9.6 -7.7h0m6.1 0h0m-6 7.7h0m6.9 22.4h0m-7.5 0h0m4.4 0h0m4.2 0h0m-6.1 0h0m7.3 31.8h0m3.3 28.4h0m-2.9 0h0m-2.5 56.8h0m-3.4 0h0m8.9 0h0m-7.8 3.4h0m3.2 -6.8h0m5 31.8h0m-5.7 3.4h0m4.9 25h0m-0.2 0h0m-2.3 0h0m-5.6 -3.4h0m6.6 3.4h0" stroke="#ca006e" stroke-width="4.2" stroke-linecap="round" fill="none"/>
<path d="M1379.4 46.5h0m-4.2 0h0m-8.3 28.4h0m19.5 -3.4h0m0.4 -4.6h0m-2.3 6.9h0m-5.4 -3.4h0m3.9 1.1h0m-2.1 7.9h0m-16.5 23.9h0m-9.7 -2.6h0m73.8 2.6h0m-22.7 25h0m1.2 6.8h0m-7.1 0h0m6.9 -10.2h0m-3.3 3.4h0m6.7 0h0m0.4 0h0m20.6 60.2h0m-8.3 0h0m-28.1 28.4h0m19.4 28.4h0m12.9 0h0m-1.8 28.4h0m-21 31.8h0m4.3 -3.4h0m1.7 3.4h0m2.1 -3.4h0m-8 -3.4h0m3.3 35.2h0m-6.2 -6.8h0m6.3 3.4h0m-0.9 3.4h0m-10.9 25h0m5.7 0h0m-2.6 -2.6h0m3.9 2.6h0m-4.7 0h0m6.2 0h0m-2.9 28.4h0m-6.3 0h0m7.3 -3.4h0m3.6 3.4h0m2.3 0h0m-5.7 -3.4h0m-0.7 3.4h0m-3.1 25.8h0m5.2 24.2h0m-0.2 6.8h0m1.6 28.4h0m10.7 -3.4h0m-6.2 3.4h0m-11.4 28.4h0m7.5 0h0m-4.8 -3.4h0m6.4 0h0m2.1 31.8h0m-1.7 0h0m7 0h0m-11.2 28.4h0m-1.6 0h0m-1.8 3.4h0m2.3 -10.2h0m-0.6 3.4h0m5.3 3.4h0" stroke="#bb0080" stroke-width="4.2" stroke-linecap="round" fill="none"/>
<path d="M1380 49.1h0m-6.3 -5.2h0m9.7 34.4h0m6.2 -5.7h0m-12.1 1.2h0m5.9 -1.2h0m-22.8 30.7h0m53.1 28.4h0m1 0h0m-20.9 82.6h0m16.2 24.2h0m-5.4 56.8h0m4.2 0h0m-1.9 6.8h0m2.6 -3.4h0m-5.6 6.8h0m3.8 18.2h0m-0.7 10.2h0m-6.1 -3.4h0m14.1 0h0m-10.2 28.4h0m-1.8 2.6h0m-4.5 5.1h0m1.7 -7.7h0m4.3 -2.6h0m-9.5 0h0m5.3 31h0m-0.4 0h0m2.5 3.4h0m-2.1 0h0m-3.4 -3.4h0m19.5 88.6h0m-4.1 -3.4h0m2.2 0h0m-12.7 28.4h0m7.9 28.4h0m-2.2 -6.8h0m-1.1 0h0m0.2 38.6h0m-0.9 -3.4h0m-0.5 0h0" stroke="#d6005f" stroke-width="4.2" stroke-linecap="round" fill="none"/>
<path d="M1367.1 43.9h0m70.7 2.6h0m-12 -2.6h0m1.1 2.6h0m-3.9 -2.6h0m0.4 2.6h0m13.6 0h0m-14.8 0h0m3.6 5.1h0m10.4 -7.7h0m-10 0h0m-15.3 5.2h0m32.7 -2.6h0m-43.6 28.4h0m18.5 -2.3h0m9.2 1.2h0m15 1.1h0m-4.8 2.3h0m31.1 -3.4h0m-17.7 1.1h0m4.2 0h0m-51.8 23.3h0m5.8 2.5h0m10.7 -2.5h0m11.9 5.1h0m5.1 -2.6h0m-0.1 2.6h0m-1.6 -2.6h0m-34 27.6h0m4 3.4h0m-9.6 27.1h0m-1.1 2.6h0m11.7 -1.3h0m-4.7 2.6h0m2 -2.6h0m0.9 2.6h0m-3.1 -2.6h0m-0.3 -1.3h0m14.8 1.3h0m-0.3 -1.3h0m-24.6 29.7h0m-1 0h0m10.2 0h0m0 -5.1h0m-4.2 2.5h0m0.1 2.6h0m5.5 -2.6h0m0.1 5.2h0m-0.7 23.2h0m4.7 -2.5h0m-0.7 5.1h0m-0.4 -5.1h0m-3.6 5.1h0m2.3 -2.6h0m-14 27.6h0m9.2 3.4h0m-5 0h0m-1.7 0h0m4.7 0h0m-4.2 0h0m3.2 0h0m-4.1 28.4h0m6.2 -6.8h0m-7.8 6.8h0m-2 0h0m17.1 0h0m-0.1 3.4h0m-3 0h0m-7.6 25h0m-14.1 0h0m10.2 0h0m-5.6 0h0m-2.5 0h0m-8.2 0h0m25.1 0h0m-1.3 28.4h0m-11.5 0h0m33.6 28.4h0m-3.3 28.4h0m1.1 0h0m3.5 0h0m0.2 -3.4h0m-27.6 31.8h0m3.6 -2.6h0m3 5.2h0m-1.5 -2.6h0m7.5 0h0m-4.1 -2.6h0m-4.2 0h0m5.6 2.6h0m0 -2.6h0m-7.5 31h0m4.7 25h0m-3.1 0h0m9 3.4h0m-1.4 -3.4h0m-9.9 31.8h0m0.4 0h0m3.6 0h0m-0.4 28.4h0m-2.1 0h0m7.3 28.4h0m-3.8 0h0" stroke="#437cf0" stroke-width="4.2" stroke-linecap="round" fill="none"/>
<path d="M1368.7 46.5h0m-3.5 -2.6h0m20.4 35.5h0m1.6 0h0m1.1 -5.6h0m-4.7 2.2h0m-1.2 5.7h0m10.8 -7.9h0m25.1 2.2h0m1.9 -2.2h0m-16 26.9h0m15.5 5.2h0m-4.2 -2.6h0m-7.7 0h0m7.4 -2.6h0m5.7 10.3h0m-31.2 20.7h0m17.9 -3.4h0m-4.5 0h0m-0.2 3.4h0m7.3 0h0m5 0h0m-10.5 51.7h0m-4.2 2.5h0m-4.8 31h0m0.9 0h0m21.2 0h0m-4.7 0h0m-9.5 2.6h0m-4.1 22.4h0m11.7 3.4h0m-10.1 0h0m0.8 0h0m6.4 0h0m-1.7 31.8h0m-7.7 -6.8h0m2 3.4h0m2.7 0h0m-1.4 25h0m1.3 3.4h0m-2.4 0h0m5.8 3.4h0m3.4 21.6h0m-11.5 3.4h0m3.1 0h0m0.1 3.4h0m-4.9 22.4h0m2.2 2.6h0m1.5 2.6h0m4.7 -2.6h0m9.6 0h0m-19.1 25h0m4.9 3.4h0m0.8 3.4h0m2.7 25h0m3.4 28.4h0m-9.6 0h0m9.3 0h0m0.8 0h0m-4.4 0h0m-4.9 -3.4h0m4.4 3.4h0m-1.3 21.6h0m-5.4 6.8h0m5.3 25h0m0.2 0h0m5.4 0h0m-8.3 3.4h0m5.3 -3.4h0m0.8 0h0m-7.1 3.4h0m0.6 28.4h0m3.7 0h0m-1.1 0h0m1.5 0h0m0.6 3.4h0m-6.2 -3.4h0m7.5 35.2h0m-5.1 -6.8h0m6.4 0h0m-0.3 -3.4h0m0.3 0h0m-2.9 3.4h0" stroke="#802fac" stroke-width="4.2" stroke-linecap="round" fill="none"/>
<path d="M1431.3 46.5h0m4 -2.6h0m-0.6 5.2h0m-14.3 -7.7h0m7.1 5.1h0m-8.4 0h0m6.4 -5.1h0m4.9 2.5h0m-10.1 0h0m-0.7 -2.5h0m-4.6 2.5h0m-0.5 5.2h0m20.1 -2.6h0m-9.6 -7.7h0m-4 12.8h0m-2 -2.5h0m-0.2 -7.7h0m-9.2 5.1h0m12.6 -2.6h0m-6.7 2.6h0m1 0h0m26 0h0m-38.8 29.5h0m29.4 -1.1h0m12.8 0h0m-6.8 -3.4h0m-1.5 3.4h0m-9.7 0h0m20.3 0h0m8.6 0h0m-4.3 0h0m-34.7 25.8h0m4.3 2.6h0m-11.1 -2.6h0m19 2.6h0m-38.4 28.4h0m-5.2 28.4h0m8.1 0h0m-6.7 0h0m9.1 2.6h0m-1.4 -2.6h0m-0.5 -1.3h0m7.4 -2.5h0m13.8 3.8h0m-18.5 28.4h0m-8.8 0h0m13.2 5.1h0m0 -10.2h0m-4.8 2.5h0m3.6 10.3h0m-2.3 -5.1h0m1.4 -5.2h0m-1.1 2.6h0m0.8 -7.7h0m-1.9 5.1h0m6.2 33.6h0m-1.2 -2.6h0m-3.8 -2.6h0m6.8 2.6h0m0.2 0h0m11.8 -2.6h0m-6.9 5.2h0m-14.3 2.5h0m-3.8 23.3h0m0.2 0h0m5.3 0h0m-8.9 28.4h0m2.3 -3.4h0m10 0h0m1.2 3.4h0m7.3 0h0m6.9 0h0m-24.7 25h0m3.1 31.8h0m-9.3 0h0m9.6 0h0m-8.2 0h0m2.6 0h0m8 0h0m19.5 25.8h0m-10.2 2.6h0m2 28.4h0m1.4 0h0m-14.3 25.8h0m2.1 0h0m-5 0h0m5.3 2.6h0m0.7 2.6h0m-1.8 -5.2h0m1.1 -2.5h0m3.6 5.1h0m-2.4 60.2h0m-1 -3.4h0m4.4 0h0m-0.8 0h0m-2.8 0h0m-3.3 85.2h0" stroke="#4783f3" stroke-width="4.2" stroke-linecap="round" fill="none"/>
<path d="M1357.9 46.5h0m5.4 -2.6h0m22 34.4h0m-3.4 4.6h0m13.4 -8h0m-41.7 25.8h0m28.6 2.6h0m24.1 31.8h0m6.9 -3.4h0m-9.5 25.8h0m23.7 31h0m-16.3 85.2h0m13.5 0h0m-16.4 28.4h0m-2.3 -3.4h0m-7.6 0h0m3.3 31.8h0m3.4 3.4h0m-0.9 -3.4h0m-0.7 -3.4h0m10.5 0h0m-9.7 60.2h0m-1.4 0h0m-0.1 0h0m-0.7 3.4h0m2.8 -10.2h0m1.9 63.6h0m-8.1 0h0m17.6 28.4h0m-8.7 0h0m3.1 31.8h0m-7.6 -6.8h0m1.2 31.8h0m1.1 0h0m-0.8 -3.4h0m0.9 6.8h0m0 21.6h0m-3.1 6.8h0m6.5 -3.4h0" stroke="#d10065" stroke-width="4.2" stroke-linecap="round" fill="none"/>
<path d="M1384.1 46.5h0m6.6 0h0m-10.8 26.1h0m10.5 1.2h0m-11.6 2.2h0m17 -2.2h0m6.2 29.5h0m18.9 0h0m-13.3 -2.6h0m1.1 2.6h0m-0.2 5.1h0m-19.5 23.3h0m7.5 0h0m6.2 -6.8h0m5.1 6.8h0m-6.3 56.8h0m-4 0h0m-0.1 -5.1h0m14.2 5.1h0m-15 20.7h0m13.9 7.7h0m2.4 2.6h0m-11.6 22.4h0m-5 3.4h0m5 -3.4h0m1.8 6.8h0m-0.5 -3.4h0m1.9 28.4h0m-9.1 0h0m6.8 28.4h0m-1.6 -3.4h0m3.9 3.4h0m2.6 -3.4h0m-4.3 28.4h0m-6.5 60.2h0m12.2 28.4h0m-5 -5.1h0m1.2 33.5h0m-0.4 0h0m-0.6 -3.4h0m-0.6 3.4h0m0.1 -3.4h0m-1.3 -3.4h0m10.6 6.8h0m-12.5 25h0m0.5 0h0m7 31.8h0m-6.6 -3.4h0m3.4 0h0m-0.1 28.4h0m-7.7 0h0m3.9 3.4h0m7.1 3.4h0m-1.1 0h0m-4.1 -6.8h0m0 25h0m-4.9 6.8h0m2.5 0h0m6.5 0h0" stroke="#6e45c0" stroke-width="4.2" stroke-linecap="round" fill="none"/>
<path d="M1374.4 43.9h0m11.8 25.3h0m1.5 0h0m-1.6 -1.1h0m-37.3 35.2h0m77.5 85.2h0m2.1 0h0m-18.2 56.8h0m5.9 0h0m-8.7 28.4h0m6.8 28.4h0m1.9 0h0m-16.6 28.4h0m-0.2 -3.4h0m7.3 3.4h0m5 0h0m-11.4 33.5h0m-2.2 -2.5h0m-0.5 2.5h0m1 -7.7h0m1.9 87.8h0m13.1 28.4h0m-5.7 28.4h0m1 0h0m1.8 -3.4h0m-5.6 0h0m-1.3 31.8h0m3 28.4h0m-4.3 -3.4h0" stroke="#da0059" stroke-width="4.2" stroke-linecap="round" fill="none"/>
<path d="M1337.6 46.5h0m8 0h0m8.6 0h0m18.3 -2.6h0m-5.8 5.2h0m-3.5 -7.7h0m34.9 5.1h0m-9.5 26.1h0m-1.7 3.4h0m-7.7 2.3h0m6.1 -2.3h0m-8.6 24.7h0m-32.3 2.6h0m79.5 0h0m-0.8 0h0m-28.9 25h0m8.1 3.4h0m7.1 0h0m-4.4 0h0m-3 0h0m6.5 -3.4h0m2.3 3.4h0m-5 25.8h0m-3.3 2.6h0m1.7 -5.1h0m15 33.5h0m-9.5 0h0m-0.6 56.8h0m2 -3.4h0m-7.8 6.8h0m6.2 0h0m5.6 -3.4h0m-5.5 28.4h0m-4.9 -6.8h0m-0.9 35.2h0m3.1 6.8h0m-9.8 -6.8h0m4.5 3.4h0m0 -6.8h0m4.1 -3.4h0m-3.2 10.2h0m10.1 -3.4h0m-0.5 25h0m-5.3 0h0m-6.2 6.8h0m0 -6.8h0m2.3 3.4h0m-2 28.4h0m-1.7 -2.6h0m-6 2.6h0m4.2 28.4h0m5.8 3.4h0m-1.3 -6.8h0m-2.3 -3.4h0m-0.6 6.8h0m0.4 0h0m-0.3 -3.4h0m6.3 3.4h0m-9.7 0h0m1.4 56.8h0m2.3 0h0m2 0h0m5.9 -3.4h0m-0.1 31.8h0m-0.4 0h0m11.6 0h0m-7.8 28.4h0m-15.2 -3.4h0m6.1 0h0m1.5 3.4h0m0.7 3.4h0m0 -10.2h0m-0.3 3.4h0m4.1 31.8h0m-8.3 3.4h0m2.5 -3.4h0m-1.2 28.4h0m0.8 0h0m6.6 0h0" stroke="#9a069b" stroke-width="4.2" stroke-linecap="round" fill="none"/>
<path d="M1379 43.9h0m28.5 31h0m17.7 0h0m-11.5 -1.1h0m-1.7 1.1h0m-54.6 28.4h0m35.3 -2.6h0m18.1 7.7h0m-12.7 -5.1h0m6.2 -5.1h0m2.5 5.1h0m-5.9 28.4h0m3.7 -3.4h0m2.8 30.5h0m-6.3 1.3h0m-4.8 31h0m2.4 -10.3h0m-3.2 7.7h0m3.2 -2.6h0m0.8 5.2h0m13 -2.6h0m2.1 0h0m-6.9 31h0m-1.6 0h0m-7.9 29.2h0m5.4 0h0m-0.9 -6.8h0m5.8 0h0m-5.3 31.8h0m2.5 0h0m0.3 0h0m-6.3 -3.4h0m1 3.4h0m1.9 -3.4h0m1.1 28.4h0m1 31.8h0m6.2 -3.4h0m-9.1 34.4h0m-1.7 0h0m3.4 -2.6h0m-11.5 -2.6h0m1.9 2.6h0m2.1 -2.6h0m10.4 56.8h0m-3 2.6h0m-1.7 0h0m-8 0h0m8.2 0h0m0.7 -2.6h0m-3.8 27.6h0m4.3 0h0m1.4 0h0m3.7 0h0m1 0h0m-9.5 28.4h0m-1.3 0h0m-0.9 0h0m9.2 31.8h0m-4.3 -3.4h0m-1.6 3.4h0m-5.4 0h0m8 0h0m4.9 0h0m-1.6 28.4h0m-3.5 0h0m-3.2 0h0m14.2 0h0m-9.7 25h0m-2.2 3.4h0m-4.1 0h0" stroke="#634fcb" stroke-width="4.2" stroke-linecap="round" fill="none"/>
<path d="M1380.1 43.9h0m8.5 2.6h0m9.2 -2.6h0m-17.4 2.6h0m12.2 -2.6h0m32.5 2.6h0m-1.1 5.1h0m-0.4 -5.1h0m-12.9 0h0m12.9 -2.6h0m2.2 5.2h0m-2.2 -7.7h0m-12.3 2.5h0m12.3 5.2h0m-5.2 -2.6h0m-6.4 2.6h0m5.7 -2.6h0m-2.5 2.6h0m-4.3 -5.2h0m16.1 0h0m0.2 5.2h0m-13.1 -2.6h0m-0.4 -5.1h0m4.3 2.5h0m2.3 5.2h0m2.1 -7.7h0m14.9 2.5h0m-7.3 2.6h0m-18.5 0h0m10.4 2.6h0m-4.7 -5.2h0m2.8 0h0m13.2 0h0m-13 5.2h0m7.7 -7.7h0m22.1 5.1h0m-10.2 -2.6h0m0 2.6h0m10 -2.6h0m-41.8 31h0m23.4 -1.1h0m-11.7 3.4h0m2.9 -3.4h0m30.8 0h0m-9.6 1.1h0m-12.7 0h0m10.8 -1.1h0m-15.3 0h0m2.5 1.1h0m47.1 0h0m-7 0h0m68 0h0m39.5 0h0m-173.6 25.8h0m9.3 2.6h0m3.1 -2.6h0m-0.5 2.6h0m-21.2 0h0m41.3 0h0m-8 2.6h0m22.3 -2.6h0m-60.4 25h0m4.4 3.4h0m0.4 0h0m-7.9 0h0m15.9 -3.4h0m3.5 -3.4h0m-17.6 33.9h0m1.2 2.6h0m-1.7 0h0m2.3 -2.6h0m12.4 6.4h0m-6 -5.1h0m8.6 -2.6h0m0.5 3.9h0m-0.5 -1.3h0m-6.9 -1.3h0m1.1 1.3h0m1.4 -1.3h0m1.3 7.7h0m0.9 -2.6h0m3.8 -1.2h0m-8.8 -5.2h0m8.6 2.6h0m0.6 -1.3h0m0.9 -1.3h0m-3.7 9h0m-1.4 -5.1h0m-1.7 1.3h0m1.3 -7.7h0m-4.6 5.1h0m-3.8 1.3h0m11.5 -5.1h0m-0.9 8.9h0m-4.5 -2.5h0m2.4 -5.2h0m-8.5 1.3h0m0 1.3h0m10.3 -7.7h0m-2.6 5.1h0m-0.1 7.7h0m0 -11.5h0m0.1 1.3h0m8.5 3.8h0m4.6 0h0m-22.8 29.7h0m-3.6 0h0m-1.2 0h0m0.4 0h0m6.9 0h0m8.4 0h0m0.7 2.6h0m5.7 -5.2h0m-11.5 5.2h0m-0.3 -2.6h0m2.2 0h0m3.6 0h0m6 2.6h0m-3.6 -2.6h0m-4.3 -2.6h0m-0.9 2.6h0m-3 -2.6h0m2.8 -2.5h0m2.5 0h0m-7 2.5h0m5.6 7.7h0m-7.2 -5.1h0m5.7 -2.6h0m1.6 -5.1h0m3.7 5.1h0m-0.7 2.6h0m-5.3 5.1h0m9.7 -5.1h0m-3.9 28.4h0m-0.6 0h0m-4.7 0h0m3.3 2.6h0m4.6 -2.6h0m-1.3 -2.6h0m-2.3 2.6h0m1 -2.6h0m3.8 0h0m2.8 0h0m-5.7 0h0m1.7 0h0m-10.9 2.6h0m18 0h0m-1.3 -5.1h0m-11.3 5.1h0m-4.6 0h0m12.1 0h0m-14 0h0m6.6 -2.6h0m9.7 0h0m-11 2.6h0m8.1 0h0m5 0h0m-6 0h0m0.2 0h0m-12.6 28.4h0m3.1 0h0m-3 3.4h0m-0.4 -6.8h0m6.8 3.4h0m-7.4 0h0m4 -3.4h0m4 3.4h0m0.7 0h0m2.8 0h0m-0.4 0h0m-1 -3.4h0m-17 31.8h0m5.2 0h0m-6.4 0h0m8.4 0h0m4.6 0h0m-5.3 -3.4h0m6.1 3.4h0m0.4 0h0m-3.7 0h0m10.1 -6.8h0m-5.8 0h0m-2.9 3.4h0m-22.1 31.8h0m15.8 0h0m3.2 0h0m-2.2 0h0m12.8 3.4h0m-24.9 25h0m6.2 0h0m6.2 0h0m-8.3 0h0m12.1 -3.4h0m4.8 -3.4h0m2.5 3.4h0m13.5 29.2h0m-2.3 0h0m-9.7 0h0m1 2.6h0m5.3 0h0m-4.9 0h0m0.9 -2.6h0m20.9 2.6h0m-15.8 28.4h0m-1.5 0h0m-1.9 -3.4h0m-0.5 3.4h0m1.4 0h0m0 -3.4h0m6.5 0h0m-5.6 3.4h0m-6.6 3.4h0m0.9 -3.4h0m23.1 0h0m-32.5 25.8h0m0.6 2.6h0m-3.4 0h0m2 0h0m-1.1 0h0m8.9 2.6h0m-7.1 -2.6h0m8.7 0h0m-1.7 2.6h0m3 -2.6h0m-4.8 -2.6h0m-7 0h0m6.1 2.6h0m-2.3 0h0m-1.1 0h0m2.7 0h0m2.5 0h0m3.1 0h0m-11.4 -2.6h0m3.8 2.6h0m9.4 0h0m-7.9 -2.6h0m-5 2.6h0m8.9 0h0m0.9 0h0m1.7 0h0m-5.2 0h0m-2.1 0h0m1.1 -2.6h0m-0.7 5.2h0m-3.1 25.8h0m3.2 0h0m0.2 3.4h0m-4.2 -3.4h0m-1.5 -3.4h0m6.2 3.4h0m-0.9 0h0m-0.3 0h0m-1.4 -3.4h0m11.6 3.4h0m4.9 0h0m-4.4 -6.8h0m0.5 6.8h0m-16 28.4h0m6.9 3.4h0m3.3 -3.4h0m-7.8 0h0m12.7 -3.4h0m-7 0h0m-8.1 0h0m8.5 3.4h0m-1.9 -6.8h0m0.2 10.2h0m-3.9 -6.8h0m-1 3.4h0m0.3 0h0m8.2 0h0m-8.5 0h0m4.2 0h0m1.6 0h0m-1.1 6.8h0m0.3 -10.2h0m-3.1 3.4h0m7 0h0m-1.1 0h0m-0.1 28.4h0m-0.9 0h0m-4.2 0h0m2.7 0h0m10.2 0h0m-3.9 0h0m1.3 0h0m2 0h0m-4 0h0m-7.3 28.4h0m0.6 0h0m-1.5 0h0m-1.9 0h0m0.8 -3.4h0m12.1 3.4h0m-1.7 -3.4h0m8.6 3.4h0m-10.9 28.4h0m-4.1 -3.4h0m6.9 3.4h0m2.3 0h0" stroke="#4a8af5" stroke-width="4.2" stroke-linecap="round" fill="none"/>
<path d="M1389.8 43.9h0m45.8 2.6h0m-31.2 28.4h0m34.5 -1.1h0m41.3 1.1h0m-81.1 28.4h0m22 2.6h0m-17.3 -2.6h0m12.1 5.1h0m18.2 -5.1h0m-31.5 25h0m-3 3.4h0m6.6 27.1h0m-1.1 0h0m-4.7 2.6h0m10.2 -1.3h0m3.2 0h0m-10.8 28.4h0m0.1 -5.1h0m-4.3 0h0m14.3 30.9h0m-5 2.6h0m6.8 0h0m-15.5 0h0m3.4 0h0m-4.5 -2.6h0m7.4 5.2h0m6.2 -2.6h0m-7 -2.6h0m-6.1 34.4h0m10.9 -6.8h0m-10.3 3.4h0m11.7 0h0m-14.1 28.4h0m11.8 -3.4h0m-13.6 3.4h0m11.2 -3.4h0m-17.4 31.8h0m17.5 0h0m-11.2 0h0m3.9 28.4h0m5.7 0h0m-7.2 -3.4h0m21 31.8h0m4.5 28.4h0m-22.6 25.8h0m-4 2.6h0m1.2 0h0m4 25h0m0 6.8h0m-5.1 -3.4h0m2.4 3.4h0m4.9 -6.8h0m-7.1 31.8h0m5.2 6.8h0m-1.9 -13.6h0m3.3 3.4h0m-4 3.4h0m-0.3 -3.4h0m-0.2 3.4h0m2.5 28.4h0m-3.9 0h0m6.5 -3.4h0m-3.1 6.8h0m1.4 -3.4h0m-3.3 28.4h0m-0.3 3.4h0m3.2 0h0m-1 0h0m13.9 -3.4h0m1 0h0m-19.2 25h0m4.3 3.4h0m0.1 0h0" stroke="#416ee8" stroke-width="4.2" stroke-linecap="round" fill="none"/>
<path d="M1355.5 46.5h0m17.4 2.6h0m-11.1 -5.2h0m31.1 2.6h0m-12.3 23.9h0m0.3 -2.3h0m4.7 13.6h0m-5.6 -7.9h0m-13.9 29.5h0m9.7 0h0m32.2 2.6h0m-3.3 -2.6h0m11.7 -5.1h0m-5.7 12.8h0m9.1 -10.3h0m-15.3 5.2h0m-0.8 25.8h0m2.2 0h0m4.4 0h0m-6.7 24.6h0m-3 5.1h0m4.3 27.1h0m8 0h0m-2.4 0h0m-8.4 28.4h0m5.5 -5.1h0m-5 61.9h0m6.1 0h0m-10.6 0h0m3 -3.4h0m7.3 3.4h0m1 3.4h0m-4.7 21.6h0m4.1 6.8h0m-3.3 -3.4h0m-3.7 -3.4h0m9.1 31.8h0m-5.4 -3.4h0m-1 3.4h0m-0.2 -3.4h0m-2.7 6.8h0m-6.8 27.6h0m3.7 25.8h0m2.1 3.4h0m-4.9 -6.8h0m3 34.4h0m10.1 -2.6h0m-6.7 28.4h0m-0.8 -6.8h0m-3.1 3.4h0m6 0h0m-2.1 6.8h0m2.8 -3.4h0m-1.4 -3.4h0m1.9 3.4h0m-4.8 0h0m4.1 28.4h0m4.1 0h0m2 0h0m-7.7 28.4h0m-1.2 3.4h0m0.2 -3.4h0m-0.7 -6.8h0m0.7 10.2h0m-1.5 -6.8h0m0.7 6.8h0m6.6 -3.4h0m-6.7 3.4h0m-0.1 25h0m1.3 3.4h0m-0.2 -3.4h0m0.1 0h0m2.3 0h0m-2.9 -3.4h0m-1.5 3.4h0m4.1 0h0m-4.1 28.4h0m3.7 3.4h0m1.1 -6.8h0m-7 3.4h0m6.3 0h0m0.9 -3.4h0m-4.1 0h0m2 0h0m5.1 3.4h0" stroke="#8724a4" stroke-width="4.2" stroke-linecap="round" fill="none"/>
<path d="M1362.6 41.4h0m24.1 35.8h0m-12.8 -2.3h0m-28.4 28.4h0m74.6 -2.6h0m-3.2 2.6h0m3.4 5.1h0m-17 23.3h0m-2.7 -3.4h0m-5.8 3.4h0m6.8 3.4h0m6.3 -6.8h0m-3.5 3.4h0m1.2 -3.4h0m6.2 3.4h0m-10.9 24.6h0m31.9 32.2h0m-36.4 31h0m14.7 -2.6h0m-4.6 28.4h0m-1.2 -3.4h0m1.4 0h0m-6.5 3.4h0m4.2 0h0m4.9 28.4h0m-6 -3.4h0m2.3 6.8h0m-9.6 -3.4h0m22.1 0h0m-13.4 28.4h0m1.9 -3.4h0m-0.2 6.8h0m6.1 25h0m-6.2 0h0m-1.2 -6.8h0m8.1 3.4h0m-14.1 26.7h0m-6.7 5.1h0m5.6 -5.1h0m-3.2 5.1h0m-2.8 0h0m8.5 25h0m-0.7 6.8h0m-0.2 -3.4h0m1 -3.4h0m0 3.4h0m7 60.2h0m-3.4 -3.4h0m-3 3.4h0m1.5 -6.8h0m-2.1 6.8h0m0.2 25h0m-1.5 0h0m5.8 28.4h0m-1 0h0m-0.3 0h0m4.8 -3.4h0m-4.9 10.2h0m1.2 -6.8h0m-3.7 0h0m6.8 28.4h0m-6.9 -6.8h0m0.5 0h0m5 6.8h0m-1.8 0h0m-2.1 -3.4h0m1 3.4h0m-3.1 -3.4h0m-0.8 6.8h0m-1.6 21.6h0m7.3 3.4h0m-0.6 -3.4h0m0.9 0h0m-6 6.8h0m5.3 0h0m2.4 -3.4h0m-4.4 0h0m0.5 0h0" stroke="#8f169e" stroke-width="4.2" stroke-linecap="round" fill="none"/>
<path d="M1345.5 49.1h0m24.6 -5.2h0m-6.7 2.6h0m9.7 0h0m6.4 25h0m6.5 2.3h0m-8.1 2.2h0m9.7 2.3h0m-8.3 1.1h0m40.9 16.2h0m-10.2 0h0m8.9 10.3h0m-0.8 -2.6h0m-14.4 25h0m-3.3 6.8h0m2.2 26.3h0m17.9 27.1h0m-13.1 56.8h0m-3.8 0h0m-0.6 -3.4h0m2.9 25h0m-1.6 6.8h0m16.7 0h0m-13.7 25h0m-12 0h0m8.6 0h0m5.4 3.4h0m-3.5 28.4h0m-0.3 0h0m-1 3.4h0m-5.9 30.1h0m0.1 -2.5h0m-1.1 -2.6h0m7.3 28.4h0m-6.2 -3.4h0m7.7 3.4h0m-9.1 3.4h0m5.8 -6.8h0m-4.2 -3.4h0m3.2 3.4h0m12.7 31.8h0m-2.4 0h0m-4 28.4h0m-1.8 0h0m2.4 3.4h0m-1.3 -6.8h0m-1.3 3.4h0m2.6 0h0m4.1 0h0m-2.2 28.4h0m-9.1 25h0m2.5 3.4h0m-0.6 25h0m2.9 0h0m-0.4 0h0m0.3 31.8h0m-7.7 0h0m4.6 0h0m-1 6.8h0m0.2 -10.2h0m4 0h0m-3.8 3.4h0" stroke="#a50094" stroke-width="4.2" stroke-linecap="round" fill="none"/>
<line x1="1322.8" y1="585.8" x2="1589.3" y2="585.8" stroke="#555" stroke-width="1.3"/>
<line x1="1334.2" y1="585.8" x2="1334.2" y2="589.6" stroke="#555" stroke-width="1"/>
<text transform="translate(1334.2 601.3)" style="font-family:'DejaVu Sans',sans-serif;font-size:10.5px" text-anchor="middle" fill="#333">−0.4</text>
<line x1="1368.6" y1="585.8" x2="1368.6" y2="589.6" stroke="#555" stroke-width="1"/>
<text transform="translate(1368.6 601.3)" style="font-family:'DejaVu Sans',sans-serif;font-size:10.5px" text-anchor="middle" fill="#333">−0.2</text>
<line x1="1403" y1="585.8" x2="1403" y2="589.6" stroke="#555" stroke-width="1"/>
<text transform="translate(1403 601.3)" style="font-family:'DejaVu Sans',sans-serif;font-size:10.5px" text-anchor="middle" fill="#333">0.0</text>
<line x1="1437.4" y1="585.8" x2="1437.4" y2="589.6" stroke="#555" stroke-width="1"/>
<text transform="translate(1437.4 601.3)" style="font-family:'DejaVu Sans',sans-serif;font-size:10.5px" text-anchor="middle" fill="#333">0.2</text>
<line x1="1471.8" y1="585.8" x2="1471.8" y2="589.6" stroke="#555" stroke-width="1"/>
<text transform="translate(1471.8 601.3)" style="font-family:'DejaVu Sans',sans-serif;font-size:10.5px" text-anchor="middle" fill="#333">0.4</text>
<line x1="1506.2" y1="585.8" x2="1506.2" y2="589.6" stroke="#555" stroke-width="1"/>
<text transform="translate(1506.2 601.3)" style="font-family:'DejaVu Sans',sans-serif;font-size:10.5px" text-anchor="middle" fill="#333">0.6</text>
<line x1="1540.6" y1="585.8" x2="1540.6" y2="589.6" stroke="#555" stroke-width="1"/>
<text transform="translate(1540.6 601.3)" style="font-family:'DejaVu Sans',sans-serif;font-size:10.5px" text-anchor="middle" fill="#333">0.8</text>
<line x1="1575" y1="585.8" x2="1575" y2="589.6" stroke="#555" stroke-width="1"/>
<text transform="translate(1575 601.3)" style="font-family:'DejaVu Sans',sans-serif;font-size:10.5px" text-anchor="middle" fill="#333">1.0</text>
<text transform="translate(1455.5 616.8)" style="font-family:'DejaVu Sans',sans-serif;font-size:12.4px" text-anchor="middle" textLength="233" lengthAdjust="spacingAndGlyphs">SHAP value (impact on model output)</text>
<defs><linearGradient id="cbg1605" x1="0" y1="0" x2="0" y2="1"><stop offset="0.00" stop-color="#e2004e"/><stop offset="0.15" stop-color="#d40062"/><stop offset="0.28" stop-color="#be007d"/><stop offset="0.40" stop-color="#9e009a"/><stop offset="0.48" stop-color="#8a1ea0"/><stop offset="0.58" stop-color="#7a3ab4"/><stop offset="0.68" stop-color="#6052ce"/><stop offset="0.78" stop-color="#4264e2"/><stop offset="0.88" stop-color="#4076ee"/><stop offset="1.00" stop-color="#4a8af5"/></linearGradient></defs>
<rect x="1605.2" y="29.3" width="7.6" height="557.2" fill="url(#cbg1605)" stroke="none" stroke-width="1"/>
<text transform="translate(1616.8 590.6)" style="font-family:'DejaVu Sans',sans-serif;font-size:11.4px">Low</text>
<text transform="translate(1644 302) rotate(-90)" style="font-family:'DejaVu Sans',sans-serif;font-size:11.4px" text-anchor="middle" dominant-baseline="central">Feature value</text>
<line x1="234.6" y1="723.2" x2="509" y2="723.2" stroke="#d4d4d4" stroke-width="0.90" stroke-dasharray="1 2.6"/>
<line x1="234.6" y1="755" x2="541" y2="755" stroke="#d4d4d4" stroke-width="0.90" stroke-dasharray="1 2.6"/>
<line x1="234.6" y1="786.8" x2="541" y2="786.8" stroke="#d4d4d4" stroke-width="0.90" stroke-dasharray="1 2.6"/>
<line x1="234.6" y1="818.6" x2="541" y2="818.6" stroke="#d4d4d4" stroke-width="0.90" stroke-dasharray="1 2.6"/>
<line x1="234.6" y1="850.4" x2="541" y2="850.4" stroke="#d4d4d4" stroke-width="0.90" stroke-dasharray="1 2.6"/>
<line x1="234.6" y1="882.2" x2="541" y2="882.2" stroke="#d4d4d4" stroke-width="0.90" stroke-dasharray="1 2.6"/>
<line x1="234.6" y1="914" x2="541" y2="914" stroke="#d4d4d4" stroke-width="0.90" stroke-dasharray="1 2.6"/>
<line x1="234.6" y1="945.8" x2="541" y2="945.8" stroke="#d4d4d4" stroke-width="0.90" stroke-dasharray="1 2.6"/>
<line x1="234.6" y1="977.6" x2="541" y2="977.6" stroke="#d4d4d4" stroke-width="0.90" stroke-dasharray="1 2.6"/>
<line x1="234.6" y1="1009.4" x2="541" y2="1009.4" stroke="#d4d4d4" stroke-width="0.90" stroke-dasharray="1 2.6"/>
<line x1="234.6" y1="1041.2" x2="541" y2="1041.2" stroke="#d4d4d4" stroke-width="0.90" stroke-dasharray="1 2.6"/>
<line x1="332.9" y1="691.4" x2="332.9" y2="1072.9" stroke="#999" stroke-width="1.8"/>
<text transform="translate(210 728.4)" style="font-family:'DejaVu Sans',sans-serif;font-size:13.5px" text-anchor="end" fill="#333">stearicacid</text>
<text transform="translate(210 760.2)" style="font-family:'DejaVu Sans',sans-serif;font-size:13.5px" text-anchor="end" fill="#333">3-Hydroxybenzoicalcohol</text>
<text transform="translate(210 792)" style="font-family:'DejaVu Sans',sans-serif;font-size:13.5px" text-anchor="end" fill="#333">LPE-16-0</text>
<text transform="translate(210 823.8)" style="font-family:'DejaVu Sans',sans-serif;font-size:13.5px" text-anchor="end" fill="#333">12-Ketolithocholicacid</text>
<text transform="translate(210 855.6)" style="font-family:'DejaVu Sans',sans-serif;font-size:13.5px" text-anchor="end" fill="#333">oleicacid</text>
<text transform="translate(210 887.4)" style="font-family:'DejaVu Sans',sans-serif;font-size:13.5px" text-anchor="end" fill="#333">Zealarone</text>
<text transform="translate(210 919.2)" style="font-family:'DejaVu Sans',sans-serif;font-size:13.5px" text-anchor="end" fill="#333">Glutamine</text>
<text transform="translate(210 951)" style="font-family:'DejaVu Sans',sans-serif;font-size:13.5px" text-anchor="end" fill="#333">MeFOSAA-put</text>
<text transform="translate(210 982.8)" style="font-family:'DejaVu Sans',sans-serif;font-size:13.5px" text-anchor="end" fill="#333">PFOA-br</text>
<text transform="translate(210 1014.6)" style="font-family:'DejaVu Sans',sans-serif;font-size:13.5px" text-anchor="end" fill="#333">LCA</text>
<text transform="translate(210 1046.4)" style="font-family:'DejaVu Sans',sans-serif;font-size:13.5px" text-anchor="end" fill="#333">PFOA-L</text>
<path d="M320.7 723.2h0m1.5 2.3h0m-6.5 -2.3h0m8.3 -2.3h0m-2.1 0h0m53.1 4.6h0m-8.1 -4.6h0m-50.7 36h0m-12.4 -1.9h0m74.4 0h0m-40.8 31.8h0m11.9 -3.8h0m-21.6 38.9h0m-0.1 -11.5h0m1.3 14.7h0m-2.9 -9.8h0m6.8 4.9h0m-6.4 1.7h0m24.5 28.5h0m-14 -7.6h0m-0.8 11.4h0m29.4 -3.8h0m-34.2 31.8h0m-6.2 0h0m14.3 31.8h0m-1.6 0h0m-7.8 0h0m10.4 0h0m-5.6 -3.8h0m-1.5 0h0m5.8 3.8h0m-10.6 31.8h0m-2.5 0h0m4.9 0h0m-1.9 31.8h0m2.4 2.3h0m3.7 32.4h0m-6 -2.9h0m-0.9 2.9h0m4.7 31.8h0m-7.3 -5.8h0m-1.8 2.9h0m12.9 -5.7h0" stroke="#4266e3" stroke-width="4.6" stroke-linecap="round" fill="none"/>
<path d="M364.7 723.2h0m13.3 -4.6h0m26.4 2.3h0m-85 65.9h0m-15.2 -3.8h0m6 0h0m68.9 34h0m5.1 1.6h0m-81.1 31.8h0m15.8 0h0m8.3 -3.8h0m-12.6 3.8h0m-12.9 0h0m9.6 0h0m6.4 0h0m2.3 0h0m-14.2 0h0m-6.3 0h0m51.9 28h0m5 3.8h0m-4.6 31.8h0m-19.6 31.8h0m1 31.8h0m3.4 0h0m6.6 0h0m-21.8 60.7h0" stroke="#da0059" stroke-width="4.6" stroke-linecap="round" fill="none"/>
<path d="M325.9 723.2h0m-10.3 -2.3h0m4.5 0h0m13.1 0h0m-8.9 6.9h0m-18.2 21.5h0m-6.3 1.9h0m11.1 9.5h0m6.8 -5.7h0m-7.6 0h0m6.4 -1.9h0m73.9 41.3h0m2.1 -7.6h0m-2.2 -3.8h0m-63.4 37.2h0m15.8 -3.2h0m-19.2 3.2h0m6.2 -1.6h0m5 0h0m-1.3 3.3h0m-12.1 -3.3h0m2.8 0h0m-10.8 0h0m12.6 31.8h0m15.6 7.6h0m2.8 -3.8h0m9.5 -7.6h0m-20.7 31.8h0m8.4 7.6h0m-3.1 -3.8h0m-8.9 0h0m11.8 0h0m-14.5 0h0m2.3 -3.8h0m17.7 35.6h0m-7.9 3.8h0m2.1 -7.6h0m-10.7 3.8h0m20.7 0h0m-2.2 0h0m-12 35.6h0m-7.3 -3.8h0m0.5 -7.6h0m1.4 3.8h0m3.3 3.8h0m-5.9 3.8h0m0.1 -3.8h0m-0.8 27.2h0m-0.5 0h0m-3 2.3h0m3.5 4.6h0m9.4 -4.6h0m-6.2 0h0m-4.2 2.3h0m4.3 -6.9h0m-3.2 11.5h0m4.6 -4.6h0m-3.3 34.7h0m-4.6 -5.8h0m4.5 8.6h0m-4.1 -5.7h0m13.5 0h0m-4.3 34.7h0m4.7 0h0m-7 0h0m4.3 -2.9h0m-2.5 0h0m-4.8 -8.6h0m2.5 11.5h0m3.4 -2.9h0m-4.3 0h0" stroke="#5857d4" stroke-width="4.6" stroke-linecap="round" fill="none"/>
<path d="M249.9 723.2h0m17.9 2.3h0m-4.3 -6.9h0m10 4.6h0m-21.8 -2.3h0m10.4 2.3h0m-0.8 -2.3h0m-0.1 4.6h0m-0.1 -6.9h0m4.1 4.6h0m-4.7 -6.9h0m1 11.5h0m2.9 -2.3h0m-0.8 -4.6h0m24.2 2.3h0m-2.1 0h0m-3 0h0m30.5 0h0m-8.8 37.5h0m-1.2 -3.8h0m1.6 -5.7h0m-9 1.9h0m7.4 0h0m-4.7 5.7h0m16.8 -5.7h0m11.9 1.9h0m28.1 0h0m-13.8 0h0m23 -1.9h0m-16.3 1.9h0m38.6 -1.9h0m-1.6 3.8h0m-56.6 -1.9h0m54.4 0h0m44.8 0h0m-125.5 35.6h0m88 -11.4h0m-17.9 7.6h0m-23.6 0h0m24 -3.8h0m-7.5 0h0m-28.4 0h0m-8 7.6h0m53.4 -7.6h0m-28.2 3.8h0m-13.5 0h0m49.7 0h0m-12.8 0h0m-12.2 0h0m-19.9 0h0m-16.9 0h0m33.1 0h0m52.2 0h0m2.8 0h0m8.4 0h0m-122.3 30.2h0m7.3 1.6h0m14.7 -4.9h0m1.9 3.3h0m4.1 -1.7h0m-1 0h0m-6.6 1.7h0m-3.4 -1.7h0m8.8 3.3h0m79.7 0h0m8.4 0h0m16.7 0h0m16.8 0h0m-120.5 28h0m-1.6 0h0m7.2 3.8h0m9.2 -3.8h0m-13.4 3.8h0m10.6 0h0m-3.1 0h0m5 -3.8h0m-14.2 3.8h0m15.3 0h0m7.1 0h0m0.6 0h0m-16.2 0h0m-9.2 0h0m12.1 3.8h0m-8.3 -7.6h0m14.8 3.8h0m1.3 0h0m-15.8 -3.8h0m-0.5 3.8h0m-4.6 3.8h0m11.2 -3.8h0m11.3 0h0m6 0h0m-31.8 31.8h0m-2.1 31.8h0m16.3 0h0m-3.5 3.8h0m-2.1 0h0m1.1 -3.8h0m3.6 -3.8h0m-12.9 31.8h0m-2 3.8h0m2.6 0h0m-4.2 0h0m1.6 -3.8h0m6.4 0h0m-6.3 3.8h0m-0.9 0h0m4.8 29.5h0m6.6 2.3h0m-7 -4.6h0m29.5 4.6h0m2.1 0h0m-5.8 0h0m5.4 0h0m38.5 0h0m-63.6 37.5h0m8.1 -11.4h0m-14.4 2.8h0m22.9 2.9h0m-4.8 0h0m6.2 0h0m3.7 0h0m8.4 0h0m2.8 0h0m-37.4 31.8h0m2.9 -5.7h0m-0.1 5.7h0m0.5 2.9h0m-1.2 -8.6h0m1.5 0h0m-0.1 2.8h0m4.9 0h0m45.7 2.9h0" stroke="#4a8af5" stroke-width="4.6" stroke-linecap="round" fill="none"/>
<path d="M268.6 720.9h0m-10.2 2.3h0m7.1 -2.3h0m3.5 2.3h0m-14.3 0h0m16.3 0h0m-13 0h0m59.2 0h0m-4.1 -2.3h0m10.9 4.6h0m-22.9 31.4h0m32.5 -1.9h0m42.3 -1.9h0m14.8 1.9h0m-49 -1.9h0m39.4 1.9h0m14 0h0m-28.2 0h0m24.7 1.9h0m-55.1 -1.9h0m-8.5 -1.9h0m47.8 1.9h0m-27.1 35.6h0m26.4 -7.6h0m-67.5 35.6h0m21 8.2h0m-1 -6.6h0m-2.6 -1.6h0m17.7 0h0m-30.7 -1.6h0m19 0h0m4.8 29.6h0m3.1 0h0m-6.3 3.8h0m3.8 -3.8h0m-0.1 63.6h0m-2.1 3.8h0m8 -3.8h0m-4.5 0h0m-4.6 3.8h0m-5.4 31.8h0m-1.9 -3.8h0m3.8 7.6h0m3.7 -3.8h0m11.6 0h0m-10.2 29.5h0m-5.1 9.2h0m1.6 -11.5h0m-7.4 4.6h0m33.6 0h0m-28 28.9h0m15.3 2.9h0m-8.5 31.8h0m0.6 -2.9h0m-8.5 2.9h0" stroke="#437cf0" stroke-width="4.6" stroke-linecap="round" fill="none"/>
<path d="M310.9 723.2h0m12.3 -4.6h0m4.4 11.5h0m-3.2 0h0m35.7 -4.6h0m28.9 -2.3h0m-80.6 39.4h0m-16 -9.5h0m0 3.8h0m19 -3.8h0m-13.4 37.5h0m90.4 -7.6h0m-25.2 3.8h0m19.3 3.8h0m-51.9 31.3h0m-8.7 -1.7h0m7.2 0h0m12.6 34h0m-0.9 -3.8h0m0.5 -3.8h0m-6.1 0h0m13.8 0h0m16.3 0h0m-3.9 3.8h0m-21.7 35.6h0m-3.9 -3.8h0m5.6 7.6h0m3 -7.6h0m-13 3.8h0m7 -7.6h0m2.9 0h0m-3 7.6h0m-4.7 -3.8h0m17.4 28h0m-22.5 3.8h0m4 -3.8h0m7.3 3.8h0m-7.9 -3.8h0m5.1 7.6h0m-6.1 -3.8h0m-0.2 31.8h0m6.3 3.8h0m4.2 -3.8h0m-9.5 0h0m-4 0h0m-1.4 29.5h0m3 4.6h0m0.5 -9.2h0m-9.7 6.9h0m7.1 2.3h0m5 -2.3h0m1 -2.3h0m-1.6 34.1h0m-1.3 0h0m7.6 0h0m-2.7 0h0m-9.4 0h0m4.5 -2.9h0m5.4 2.9h0m-7.5 0h0m2.6 2.9h0m-8.9 -5.8h0m15.1 26.1h0m-6.6 8.6h0m-3.4 -2.9h0" stroke="#6e45c0" stroke-width="4.6" stroke-linecap="round" fill="none"/>
<path d="M328 714h0m-1.6 11.5h0m15.7 -4.6h0m-18.9 6.9h0m22.2 -4.6h0m10.7 -2.3h0m-48.1 26.5h0m5.4 7.6h0m-1.1 3.8h0m-19.6 -3.8h0m14.8 0h0m12.8 0h0m-16.9 31.8h0m79.8 0h0m-59.8 35.1h0m5.3 -6.6h0m20.5 35.1h0m4.5 0h0m11.3 0h0m-7.9 0h0m-29.1 31.8h0m12.5 -3.8h0m10.5 3.8h0m-16.9 -7.6h0m-2.2 7.6h0m4.5 31.8h0m-3.7 -3.8h0m7.8 7.6h0m-12.8 -7.6h0m-0.1 3.8h0m9.7 24.2h0m-1.7 3.8h0m0.6 3.8h0m15 0h0m-19.1 27.2h0m-2.7 13.8h0m-2.1 -11.5h0m2.2 0h0m0.3 -6.9h0m-0.7 38.1h0m3.8 2.9h0m-2.1 0h0m-7.5 0h0m5.7 28.9h0m-0.8 0h0m14 0h0m-11.7 5.8h0" stroke="#793bb5" stroke-width="4.6" stroke-linecap="round" fill="none"/>
<path d="M324.6 783h0m-2.1 0h0m-1.9 3.8h0m6.7 31.8h0m15.2 59.8h0m-1.5 7.6h0m1.9 -7.6h0m-5 3.8h0m-7.1 0h0m17 0h0m-9.9 63.6h0m0.1 3.8h0m3.8 -3.8h0m-5.8 0h0m7.9 -3.8h0m-6.3 35.6h0m-5.2 2.3h0m-3 -6.9h0m10.4 36.4h0m-0.8 2.9h0m0.1 -5.8h0m-4.9 2.9h0m1.4 28.9h0" stroke="#c30077" stroke-width="4.6" stroke-linecap="round" fill="none"/>
<path d="M361.3 723.2h0m20.1 0h0m-6.9 0h0m10.4 0h0m48.7 -2.3h0m-29 2.3h0m-103.3 29.9h0m17.8 29.9h0m-1.8 3.8h0m55.4 31.8h0m-68.9 28h0m2.9 3.8h0m6.6 0h0m29.7 35.6h0m-7.3 -7.6h0m20.5 0h0m-4.4 3.8h0m2.9 31.8h0m-18.3 35.6h0m2 -3.8h0m9.6 -3.8h0m-2.3 3.8h0m-5.1 31.8h0m0.5 28.9h0" stroke="#d10065" stroke-width="4.6" stroke-linecap="round" fill="none"/>
<path d="M340.1 723.2h0m-1.7 0h0m-19.9 -2.3h0m7.4 -4.6h0m0.8 16.1h0m-6 -13.8h0m7.1 9.2h0m-7.6 -2.3h0m22.7 0h0m-44.5 25.7h0m15.5 7.6h0m-5.9 -9.5h0m-1.6 -1.9h0m-6.6 7.6h0m99 0h0m-100.9 28h0m-4.3 0h0m95.6 3.8h0m-18 0h0m-1.8 0h0m-19.7 -3.8h0m0.7 3.8h0m-28.7 35.1h0m9 -1.7h0m-8.1 -1.6h0m7.5 -1.6h0m-5.5 3.2h0m8.2 -1.6h0m11.6 39.4h0m7 -11.4h0m-17.9 3.8h0m3.5 3.8h0m5 24.2h0m-7.8 3.8h0m0.6 0h0m-3.4 -3.8h0m-3.6 0h0m0.8 3.8h0m8.3 -3.8h0m-4.4 0h0m2.7 3.8h0m8.4 31.8h0m-16.4 -3.8h0m7.1 0h0m5.2 -3.8h0m3 7.6h0m-10.9 3.8h0m0.3 -7.6h0m13.1 0h0m1.9 3.8h0m-6.9 -3.8h0m-10.1 31.8h0m21.6 3.8h0m-4.6 0h0m-8 34.1h0m-9.8 23.8h0m-1.5 8.6h0m4.7 0h0m-4.9 28.9h0m16.5 0h0m-8.1 -5.7h0m-7.4 8.6h0m-2.2 -2.9h0m10.2 -2.9h0m-2.6 0h0" stroke="#4b5fdc" stroke-width="4.6" stroke-linecap="round" fill="none"/>
<path d="M364.6 720.9h0m-12.5 0h0m-4.6 0h0m-2.5 4.6h0m31 -2.3h0m-4.7 2.3h0m38.4 -2.3h0m-96.4 33.7h0m10.4 29.9h0m-4.4 -7.6h0m-19.6 3.8h0m10.6 -3.8h0m14.2 36.1h0m5.5 66.9h0m19.7 -3.8h0m-15.3 96.9h0m4.2 31.2h0m-7.8 -5.7h0m-5.8 8.6h0m5.4 -2.9h0" stroke="#ca006e" stroke-width="4.6" stroke-linecap="round" fill="none"/>
<path d="M331 720.9h0m1.3 9.2h0m-9.1 -6.9h0m38.2 -2.3h0m-53.9 37.9h0m6.9 -9.5h0m-1.9 41.3h0m-9 -3.8h0m-1.8 3.8h0m1.5 -7.6h0m4.1 7.6h0m84.1 0h0m-50.2 63.6h0m-3.9 -7.6h0m1.7 3.8h0m-1.3 39.4h0m-5.5 -7.6h0m3.2 0h0m7.7 0h0m-14.5 -3.8h0m9.1 0h0m1.6 3.8h0m-9.8 31.8h0m-7.6 0h0m16.6 -3.8h0m-2.4 3.8h0m-3.4 3.8h0m-1.8 -7.6h0m1.1 3.8h0m-11.7 -3.8h0m16.9 3.8h0m5 0h0m0.2 -3.8h0m-1.5 3.8h0m11.4 0h0m-18.5 35.6h0m1.2 -7.6h0m-2.5 33.3h0m-1.8 -2.3h0m5.3 4.6h0m-2.9 -4.6h0m-1.4 9.2h0m8.3 -2.3h0m-1.8 29.5h0m0.7 5.7h0m-0.2 -5.7h0m-9.6 5.7h0m-3.4 -8.6h0m6.5 0h0m-5.8 2.9h0m10.7 34.7h0m3 -5.8h0m2 2.9h0" stroke="#802fac" stroke-width="4.6" stroke-linecap="round" fill="none"/>
<path d="M332.6 725.5h0m-6.3 -4.6h0m2.2 -2.3h0m22.6 4.6h0m16.6 -2.3h0m11.1 4.6h0m-10.2 0h0m-61.9 20h0m2.1 5.7h0m-2.1 35.6h0m-6.8 0h0m16.4 -3.8h0m-3.4 -3.8h0m-4.1 11.4h0m13.7 -3.8h0m20 31.8h0m-0.7 63.6h0m-3.2 0h0m7.2 0h0m-5.8 0h0m-10.7 28h0m17.5 31.8h0m-8 0h0m-2.2 0h0m0.7 3.8h0m10.7 0h0m-9.4 0h0m2.1 0h0m-19.3 31.8h0m11 4.6h0m-2.1 -4.6h0m4.2 0h0m-3.7 4.6h0m-4.6 -4.6h0m13.8 -2.3h0m-2.6 4.6h0m-6.9 23.8h0m-3 2.8h0m4.2 -2.8h0m-2.5 0h0m-3.4 5.7h0m5.9 2.9h0m2.5 -5.8h0m1.6 5.8h0m1.5 23.2h0m2.2 2.8h0" stroke="#a50094" stroke-width="4.6" stroke-linecap="round" fill="none"/>
<path d="M332.7 727.8h0m-0.2 -9.2h0m-5.5 0h0m3.5 6.9h0m35.3 0h0m-18.8 -2.3h0m-33.4 33.7h0m-6.2 -3.8h0m13.7 1.9h0m-9.3 28h0m-1 7.6h0m-12.3 -3.8h0m7.4 0h0m-0.1 -3.8h0m69.2 3.8h0m6.9 0h0m-53.6 22h0m-1.4 4.9h0m15.4 68.5h0m-13.3 0h0m9.8 -7.6h0m6.1 7.6h0m-12.1 31.8h0m21.5 0h0m-18.6 31.8h0m-1.4 0h0m3 7.6h0m-4.5 -11.4h0m2 35.6h0m-10.1 2.3h0m3.6 -2.3h0m15.5 28.9h0m-16.2 -2.8h0m7.6 2.8h0m-0.1 -2.8h0m0.8 2.8h0m0.5 2.9h0m-5.3 0h0m4.8 34.7h0m-3.3 -2.9h0" stroke="#9a069b" stroke-width="4.6" stroke-linecap="round" fill="none"/>
<path d="M346.4 720.9h0m-1.8 2.3h0m33.4 -2.3h0m-64.1 30.3h0m-15 5.7h0m17.7 33.7h0m-3.8 3.8h0m0.8 -11.4h0m-12.6 -3.8h0m9.1 7.6h0m-12.6 0h0m27.8 35.1h0m12.8 -3.3h0m3.7 24.2h0m-15.7 39.4h0m15.1 0h0m-4.9 0h0m-4.5 31.8h0m5 31.8h0m-4.2 0h0m14.5 0h0m-15.2 -3.8h0m10.9 3.8h0m3.8 0h0m-10.1 34.1h0m0.5 -2.3h0m2.9 0h0m-10.5 2.3h0m9.5 -4.6h0m-5.3 34.1h0m-1.5 28.9h0m0.9 -5.7h0" stroke="#b0008a" stroke-width="4.6" stroke-linecap="round" fill="none"/>
<path d="M360.2 718.6h0m-15 0h0m25.8 2.3h0m9.5 2.3h0m-11.8 -4.6h0m3.8 2.3h0m2.2 0h0m33.7 2.3h0m29.8 0h0m-1.2 0h0m-2.1 0h0m-8.5 0h0m-8.3 0h0m-57.3 31.8h0m27.9 -1.9h0m5.6 3.8h0m53 -1.9h0m8.4 0h0m8.3 0h0m2.8 0h0m61.4 0h0m-234.4 31.8h0m15 0h0m20.2 -3.8h0m-21.8 0h0m12.7 0h0m-11.7 3.8h0m56.4 31.8h0m15.9 0h0m-64 31.8h0m0.3 3.8h0m-12.6 -3.8h0m14.6 -3.8h0m6.1 3.8h0m-8.3 -3.8h0m-5.5 0h0m14.4 3.8h0m0.1 -3.8h0m1.4 7.6h0m-19.9 -7.6h0m10.3 3.8h0m21.5 35.6h0m10 -3.8h0m0.7 3.8h0m-1.3 -3.8h0m7.7 0h0m10.4 0h0m-18.4 67.4h0m-3.9 -7.6h0m13.9 3.8h0m-25.2 24.9h0m10.3 4.6h0m0.9 2.3h0m-20.4 63.6h0m-7.4 0h0m6.4 0h0m1.8 0h0m-7 0h0m3.9 0h0" stroke="#e2004e" stroke-width="4.6" stroke-linecap="round" fill="none"/>
<path d="M252.4 723.2h0m8.9 0h0m44.5 0h0m-15 0h0m25 2.3h0m20.7 -2.3h0m30.2 0h0m-55.8 33.7h0m-2 1.9h0m52.1 -5.7h0m26.4 3.8h0m8.1 -5.7h0m-7.3 0h0m8.4 1.9h0m-44.2 1.9h0m-0.8 -1.9h0m19.9 1.9h0m-32.8 0h0m48.6 0h0m-81.9 35.6h0m82.9 -3.8h0m-60.2 0h0m-20.1 31.8h0m16.8 -1.6h0m3.2 11.4h0m-6.5 -13.1h0m-5.4 3.3h0m14.1 31.8h0m1.4 0h0m2.6 0h0m25.9 0h0m-24.8 63.6h0m3.3 0h0m-5.5 -3.8h0m17.5 3.8h0m-15.7 0h0m-5.3 0h0m9.6 -3.8h0m10.3 3.8h0m-23.9 31.8h0m-1.1 0h0m4.3 -7.6h0m-6.6 39.4h0m14 -2.3h0m17.3 2.3h0m-17.9 26.1h0m-11.4 5.7h0m20.2 0h0m-9.1 31.8h0m1.3 2.9h0m1.5 -2.9h0" stroke="#4075ed" stroke-width="4.6" stroke-linecap="round" fill="none"/>
<path d="M333.4 723.2h0m8.5 0h0m0.3 -4.6h0m-0.9 9.2h0m71.8 -4.6h0m12 0h0m-118.1 33.7h0m12.6 -3.8h0m-18.6 33.7h0m19.4 3.8h0m-11.6 -7.6h0m6.2 0h0m13.3 40.5h0m14.1 26.9h0m-0.9 -3.8h0m-18.2 35.6h0m10.8 7.6h0m3.8 -15.2h0m11.7 7.6h0m-7.9 -7.6h0m-4.6 7.6h0m-4.3 0h0m6.7 -7.6h0m-19.2 43.2h0m11 -3.8h0m-4.1 0h0m10.6 0h0m-4.2 28h0m10.4 3.8h0m4.4 0h0m0.9 0h0m-24.3 31.8h0m16.2 -2.3h0m-12.6 0h0m2 0h0m7.9 2.3h0m-8.1 2.3h0m9.4 26.6h0m-8.1 2.9h0m5.5 0h0m-0.1 28.9h0m-7.7 8.6h0m8.1 -5.7h0m-4.8 8.6h0m11.2 -5.7h0" stroke="#8f169e" stroke-width="4.6" stroke-linecap="round" fill="none"/>
<path d="M331.5 723.2h0m47 0h0m-87.5 31.8h0m23.8 31.8h0m-2.1 0h0m-0.4 0h0m-5.5 -7.6h0m1.8 11.4h0m12.1 91.6h0m18.3 -3.8h0m10.5 3.8h0m-10.6 63.6h0m9.1 -7.6h0m-10 3.8h0m-8 3.8h0m3.7 0h0m9.9 0h0m-4.9 27.2h0m-2.9 33.5h0m-3.6 2.9h0m-5 34.7h0m11.8 -2.9h0m-3.1 -8.6h0m4.2 8.6h0" stroke="#bb0080" stroke-width="4.6" stroke-linecap="round" fill="none"/>
<path d="M329.8 727.8h0m25.6 -4.6h0m15.3 0h0m24.5 0h0m-86.4 56h0m16.1 7.6h0m-9.6 0h0m72.7 3.8h0m-33.4 28h0m24.3 1.6h0m-0.1 -1.6h0m-20.2 -1.6h0m0.9 1.6h0m-0.5 0h0m-55.7 31.8h0m5.5 -3.8h0m32.7 31.8h0m13.4 35.6h0m-12.2 31.8h0m-5.7 -3.8h0m-16.4 99.2h0" stroke="#d6005f" stroke-width="4.6" stroke-linecap="round" fill="none"/>
<path d="M327.4 716.3h0m6.2 0h0m51.5 4.6h0m-80.2 37.9h0m-0.1 -5.7h0m-6.3 0h0m7.8 1.9h0m-12 31.8h0m23.5 -3.8h0m20.6 34h0m-12.8 6.5h0m-5.7 -3.3h0m8.3 -3.2h0m6.1 61.4h0m11.9 3.8h0m-8.6 3.8h0m2 -7.6h0m6.9 3.8h0m-7.2 35.6h0m-4.8 -7.6h0m-2.9 -3.8h0m-0.8 7.6h0m2.1 31.8h0m1.4 -3.8h0m-4.5 40.2h0m-2 -4.6h0m-2.1 2.3h0m5.3 4.6h0m-9.1 24.9h0m3.5 2.9h0m1.9 -5.8h0m0.6 0h0m1.3 2.9h0m2.4 31.8h0m1.4 -5.7h0m0 2.8h0" stroke="#8724a4" stroke-width="4.6" stroke-linecap="round" fill="none"/>
<path d="M325.1 725.5h0m36.9 -2.3h0m7.4 0h0m2.4 0h0m-59 67.4h0m-4.1 -7.6h0m10.2 3.8h0m53.2 31.8h0m-69.2 28h0m7.9 3.8h0m-5.6 0h0m3.1 -3.8h0m6.7 0h0m7.5 3.8h0m3.9 0h0m-14.5 0h0m2.3 0h0m-5.1 0h0m18.9 0h0m-19.6 0h0m-0.6 0h0m36.8 28h0m-4.7 3.8h0m-5.4 97.7h0m9.4 29.5h0m-8 0h0m5.1 0h0m-17.6 28.9h0" stroke="#de0054" stroke-width="4.6" stroke-linecap="round" fill="none"/>
<path d="M267.1 723.2h0m-13.4 0h0m2.6 -2.3h0m16.1 2.3h0m11.8 0h0m8.8 -2.3h0m-0.3 2.3h0m25.9 0h0m11.2 2.3h0m-26 33.3h0m6.9 -7.6h0m-15.8 3.8h0m3.8 0h0m54.6 1.9h0m10.2 0h0m20.9 -3.8h0m-60.2 1.9h0m73.5 -1.9h0m-59.2 0h0m2.5 3.8h0m24.6 -1.9h0m-17.6 -1.9h0m-3.4 1.9h0m18.2 0h0m-15.5 31.8h0m45 -3.8h0m-92.6 35.6h0m2.3 0h0m26.7 -4.9h0m-9.5 3.3h0m13.3 0h0m-6.2 -1.7h0m-11.8 3.3h0m29.1 31.8h0m-2.8 -7.6h0m-12.4 7.6h0m24.7 -3.8h0m-16.5 3.8h0m-14.5 31.8h0m12.6 -3.8h0m12.9 35.6h0m-24.7 0h0m-0.2 31.8h0m0.5 0h0m6.4 31.8h0m-5.8 -2.3h0m27.6 2.3h0m-21.8 31.8h0m2.4 -2.9h0m-9.3 2.9h0m20.6 0h0m2.5 0h0m-15.5 28.9h0m-8.4 2.9h0m13.5 2.9h0" stroke="#4783f3" stroke-width="4.6" stroke-linecap="round" fill="none"/>
<path d="M262.5 725.5h0m72.8 -2.3h0m24.5 0h0m-49.9 29.9h0m-4.9 3.8h0m79.9 -1.9h0m6 -1.9h0m1.7 1.9h0m-61.2 31.8h0m57.2 -7.6h0m-19.8 7.6h0m-22.9 -3.8h0m-33.8 35.6h0m7.9 0h0m11.6 -4.9h0m-3.6 -1.6h0m12 38.3h0m4.7 -7.6h0m-16.8 39.4h0m6.3 3.8h0m-0.3 -7.6h0m-5.1 7.6h0m4.6 -3.8h0m-1.6 -3.8h0m8.9 3.8h0m-3.9 31.8h0m5.7 3.8h0m0.4 -3.8h0m-2.7 0h0m0.1 -3.8h0m4.7 3.8h0m-18.2 31.8h0m2 -3.8h0m6.4 3.8h0m8.2 0h0m-7.6 29.5h0m-11.6 2.3h0m8 2.3h0m-4.4 29.5h0m-3.2 2.9h0m9 28.9h0m9 0h0m-12.6 0h0m-6.3 -2.9h0m19.3 2.9h0m-11.6 -5.7h0m1.3 5.7h0m-3.3 2.9h0" stroke="#416ee8" stroke-width="4.6" stroke-linecap="round" fill="none"/>
<path d="M328.5 723.2h0m-9.4 -4.6h0m9.7 2.3h0m-2.7 0h0m-0.5 -2.3h0m9.2 2.3h0m-8.2 2.3h0m66.7 0h0m-82.4 26.1h0m5.9 1.9h0m-9.8 9.5h0m-3.6 -9.5h0m11.6 3.8h0m-2.6 -3.8h0m-18.8 0h0m7.8 31.8h0m44.7 3.8h0m41.4 0h0m-72.4 30.2h0m24.6 1.6h0m-17.1 -1.6h0m10.1 -1.7h0m-2 3.3h0m-9.6 -1.6h0m33.7 33.4h0m-9.5 0h0m-4.8 0h0m12.7 0h0m-25.9 31.8h0m-7 0h0m8.7 3.8h0m1.1 24.2h0m-9.8 3.8h0m16.5 -3.8h0m-8.2 0h0m5.8 3.8h0m9.4 0h0m1.9 0h0m-12.3 0h0m3.5 -7.6h0m-0.5 35.6h0m-5 3.8h0m1.3 3.8h0m-1 25.7h0m-2.8 0h0m2.3 6.9h0m1.6 24.3h0m-5.6 2.9h0m8.4 5.7h0m-5.3 -2.8h0m-1.3 0h0m14.9 26h0m-12.3 0h0m1.4 8.6h0m-5.9 -11.4h0m9.4 11.4h0m-0.2 0h0" stroke="#634fcb" stroke-width="4.6" stroke-linecap="round" fill="none"/>
<line x1="235" y1="1072.9" x2="542" y2="1072.9" stroke="#555" stroke-width="1.3"/>
<line x1="277.1" y1="1072.9" x2="277.1" y2="1076.7" stroke="#555" stroke-width="1"/>
<text transform="translate(277.1 1089)" style="font-family:'DejaVu Sans',sans-serif;font-size:11.4px" text-anchor="middle" fill="#333">−0.2</text>
<line x1="332.9" y1="1072.9" x2="332.9" y2="1076.7" stroke="#555" stroke-width="1"/>
<text transform="translate(332.9 1089)" style="font-family:'DejaVu Sans',sans-serif;font-size:11.4px" text-anchor="middle" fill="#333">0.0</text>
<line x1="388.7" y1="1072.9" x2="388.7" y2="1076.7" stroke="#555" stroke-width="1"/>
<text transform="translate(388.7 1089)" style="font-family:'DejaVu Sans',sans-serif;font-size:11.4px" text-anchor="middle" fill="#333">0.2</text>
<line x1="444.5" y1="1072.9" x2="444.5" y2="1076.7" stroke="#555" stroke-width="1"/>
<text transform="translate(444.5 1089)" style="font-family:'DejaVu Sans',sans-serif;font-size:11.4px" text-anchor="middle" fill="#333">0.4</text>
<line x1="500.3" y1="1072.9" x2="500.3" y2="1076.7" stroke="#555" stroke-width="1"/>
<text transform="translate(500.3 1089)" style="font-family:'DejaVu Sans',sans-serif;font-size:11.4px" text-anchor="middle" fill="#333">0.6</text>
<text transform="translate(388.3 1106.8)" style="font-family:'DejaVu Sans',sans-serif;font-size:13.5px" text-anchor="middle" textLength="255" lengthAdjust="spacingAndGlyphs">SHAP value (impact on model output)</text>
<line x1="697.3" y1="726.1" x2="1055.2" y2="726.1" stroke="#d4d4d4" stroke-width="0.90" stroke-dasharray="1 2.6"/>
<line x1="697.3" y1="759.2" x2="1055.2" y2="759.2" stroke="#d4d4d4" stroke-width="0.90" stroke-dasharray="1 2.6"/>
<line x1="697.3" y1="792.3" x2="1055.2" y2="792.3" stroke="#d4d4d4" stroke-width="0.90" stroke-dasharray="1 2.6"/>
<line x1="697.3" y1="825.4" x2="1055.2" y2="825.4" stroke="#d4d4d4" stroke-width="0.90" stroke-dasharray="1 2.6"/>
<line x1="697.3" y1="858.5" x2="1055.2" y2="858.5" stroke="#d4d4d4" stroke-width="0.90" stroke-dasharray="1 2.6"/>
<line x1="697.3" y1="891.6" x2="1055.2" y2="891.6" stroke="#d4d4d4" stroke-width="0.90" stroke-dasharray="1 2.6"/>
<line x1="697.3" y1="924.7" x2="1055.2" y2="924.7" stroke="#d4d4d4" stroke-width="0.90" stroke-dasharray="1 2.6"/>
<line x1="697.3" y1="957.8" x2="1055.2" y2="957.8" stroke="#d4d4d4" stroke-width="0.90" stroke-dasharray="1 2.6"/>
<line x1="697.3" y1="990.9" x2="1055.2" y2="990.9" stroke="#d4d4d4" stroke-width="0.90" stroke-dasharray="1 2.6"/>
<line x1="952.9" y1="691.9" x2="952.9" y2="1023.8" stroke="#999" stroke-width="1.8"/>
<text transform="translate(670.8 731.4)" style="font-family:'DejaVu Sans',sans-serif;font-size:14px" text-anchor="end" fill="#333">stearicacid</text>
<text transform="translate(670.8 764.5)" style="font-family:'DejaVu Sans',sans-serif;font-size:14px" text-anchor="end" fill="#333">di-oxo-LCA</text>
<text transform="translate(670.8 797.6)" style="font-family:'DejaVu Sans',sans-serif;font-size:14px" text-anchor="end" fill="#333">LPC-20-3</text>
<text transform="translate(670.8 830.7)" style="font-family:'DejaVu Sans',sans-serif;font-size:14px" text-anchor="end" fill="#333">PFOS-L</text>
<text transform="translate(670.8 863.8)" style="font-family:'DejaVu Sans',sans-serif;font-size:14px" text-anchor="end" fill="#333">Pyroglutamicacid</text>
<text transform="translate(670.8 896.9)" style="font-family:'DejaVu Sans',sans-serif;font-size:14px" text-anchor="end" fill="#333">TMCAisomer</text>
<text transform="translate(670.8 930)" style="font-family:'DejaVu Sans',sans-serif;font-size:14px" text-anchor="end" fill="#333">Daidzein</text>
<text transform="translate(670.8 963.1)" style="font-family:'DejaVu Sans',sans-serif;font-size:14px" text-anchor="end" fill="#333">PFOA-br</text>
<text transform="translate(670.8 996.2)" style="font-family:'DejaVu Sans',sans-serif;font-size:14px" text-anchor="end" fill="#333">LPC-18-0</text>
<path d="M995.8 733.5h0m2.1 -1.4h0m-8.7 -1.5h0m5.6 -1.5h0m-16.1 -4.5h0m1.4 6h0m-25.1 30.3h0m14.8 -1.7h0m-5.5 -3.4h0m-17.8 5.1h0m8 -3.4h0m20.5 0h0m67.2 1.7h0m-96.9 33.1h0m-15.9 -2.4h0m2.7 -2.4h0m-4.4 4.8h0m11.9 0h0m-7.7 -2.4h0m5.6 4.8h0m4.9 0h0m-7 -2.4h0m30.9 -4.8h0m23.3 2.4h0m-14.4 4.8h0m5.8 -2.4h0m-39.2 27.1h0m15.1 3h0m11.6 38.1h0m13.4 -2h0m-35.4 33.1h0m10.8 -3h0m14.8 6h0m-10.1 -3h0m2.2 0h0m-34.7 30.1h0m19.8 0h0m9.2 0h0m-6.4 3h0m-5.2 -3h0m-4.3 0h0m17.1 6h0m-4.5 -6h0m-1 3h0m15.2 0h0m-13.4 41h0m-6.7 28.2h0m8 -3h0m-3.1 3h0m-4.4 -6h0" stroke="#8f169e" stroke-width="4.8" stroke-linecap="round" fill="none"/>
<path d="M996.4 730.6h0m-10.4 -6h0m10.7 -3h0m-14.6 10.5h0m12.1 -9h0m1.2 -3h0m2.7 13.4h0m-16.9 -4.4h0m-12.4 -3h0m12.1 4.5h0m15 -11.9h0m3.9 11.9h0m-52 38.8h0m2.5 -15.3h0m-4.2 3.4h0m18.1 5.1h0m-12.2 -5.1h0m19.4 0h0m-46.6 34.8h0m11.3 4.8h0m-7.7 -9.6h0m21.4 2.4h0m6.4 4.8h0m-11.4 -7.2h0m-13.2 4.8h0m47.7 0h0m-7.8 -2.4h0m17.1 2.4h0m-20.8 33.1h0m-37.9 35.1h0m-3.9 -2h0m-5.8 -4h0m45.8 34.1h0m4.8 -3h0m-5.9 9h0m-2.1 0h0m7.5 0h0m-14.3 0h0m-2.3 30.1h0m0.8 3h0m4.1 0h0m-0.5 -3h0m-1.1 0h0m-13 33.1h0m11.8 -7.9h0m-20.5 7.9h0m-15.6 33.1h0m-0.7 -3h0m39.5 0h0" stroke="#a50094" stroke-width="4.8" stroke-linecap="round" fill="none"/>
<path d="M1008.5 727.6h0m-22.8 -1.5h0m-36.1 66.2h0m-12.8 2.4h0m-6.3 -4.8h0m0.8 -4.7h0m-0.1 11.9h0m13.1 -9.6h0m-11.6 69h0m-1.8 4h0m33.4 25.1h0m-1 3h0m11.8 0h0m-5.3 -3h0m-15.9 45.1h0m7.9 -9h0m-8.3 -3h0m-5.2 3h0m37.6 6h0m-52.4 63.2h0" stroke="#d10065" stroke-width="4.8" stroke-linecap="round" fill="none"/>
<path d="M998 724.6h0m11.8 -1.5h0m-22.5 3h0m-1.8 3h0m-10.2 -3h0m11.9 6h0m11.5 -13.4h0m-2 1.4h0m7.3 7.5h0m-11.1 0h0m-3.2 -4.5h0m-11.8 0h0m-7.3 1.5h0m30.5 7.5h0m-51.1 20.3h0m27.2 8.5h0m-39.9 31.4h0m5.6 -2.4h0m-16.2 0h0m6.7 7.2h0m11.1 -7.2h0m26.9 4.8h0m14.4 -2.4h0m-40.6 33.1h0m25.9 0h0m5.2 0h0m4.3 0h0m-39.1 33.1h0m-25.2 4h0m1.8 -2h0m6.4 -6h0m57.2 37.1h0m-12.1 3h0m-3.7 0h0m4.8 -6h0m-23.8 39.1h0m2.8 3h0m7.8 -9h0m-6.2 6h0m9.1 30.1h0m9 -4h0m-51 37.1h0" stroke="#c30077" stroke-width="4.8" stroke-linecap="round" fill="none"/>
<path d="M985.4 727.6h0m1.1 -7.5h0m4 12h0m-8.5 -12h0m-38.2 47.6h0m15.1 -13.6h0m-19.8 3.4h0m4.8 -5.1h0m-0.8 3.4h0m-8.1 6.8h0m1.3 -5.1h0m39.7 34.8h0m-23.6 2.4h0m34.9 -4.8h0m-5.2 2.4h0m7.7 0h0m-31.5 36.1h0m1.5 -3h0m1.4 -3h0m2.4 42.1h0m4.6 -2h0m2.7 -8h0m-8 4h0m-14.9 30.1h0m-1.8 6h0m2.6 -6h0m-3.4 3h0m-11.3 -6h0m1.6 9h0m24.7 30.1h0m-9.3 0h0m2.4 33.1h0m-1.4 0h0m4.9 -4h0m-2.5 4h0m15.3 0h0m-24.7 -7.9h0m5.6 3.9h0m-1.8 34.1h0m4.4 3h0m-3.4 -8.9h0m1.8 8.9h0m1.9 6h0m-4.6 -14.9h0m-1.2 2.9h0m14.6 -2.9h0m-4 8.9h0m-1.7 -8.9h0m10.2 8.9h0m-4 0h0" stroke="#5857d4" stroke-width="4.8" stroke-linecap="round" fill="none"/>
<path d="M976.6 727.6h0m19.7 3h0m-17.4 -1.5h0m-0.6 -9h0m18.7 3h0m-13.8 -7.4h0m25.6 5.9h0m-67.2 29.1h0m22.7 6.8h0m-25.2 -5.1h0m28.2 8.5h0m0.1 -3.4h0m8.2 3.4h0m33.5 -1.7h0m13.5 0h0m-94.1 30.7h0m6.2 4.8h0m6 -2.4h0m10.9 -2.4h0m-23.7 4.8h0m40.3 -4.8h0m-37 32.5h0m10.6 0h0m17.7 9h0m10.1 -9h0m1 3h0m-23.1 37.1h0m-32.4 -4h0m55.1 0h0m4.3 33.1h0m-5.1 -3h0m-12.1 3h0m14.1 -3h0m-15.3 33.1h0m-5 9h0m4.4 -12h0m-9.5 3h0m3.3 -3h0m5.5 0h0m-7.2 -2.9h0m5.4 11.9h0m3.6 34.1h0m11.6 -8h0m13.7 4h0m-28.5 27.1h0" stroke="#b0008a" stroke-width="4.8" stroke-linecap="round" fill="none"/>
<path d="M1002.2 727.6h0m0.8 -1.5h0m-2.3 3h0m-17.5 -3h0m23.3 -3h0m0.9 3h0m-6 -1.5h0m30.9 1.5h0m-282.8 33.1h0m114.1 0h0m7.5 0h0m9.9 0h0m98.9 0h0m-2.2 0h0m0 -1.7h0m4.9 1.7h0m-86.7 33.1h0m20.3 0h0m20 0h0m-3.7 -2.4h0m2.2 2.4h0m11.5 0h0m-19.6 0h0m7.5 -4.8h0m10.3 4.8h0m-9.4 2.4h0m-3.1 0h0m1.2 -2.4h0m0.1 -4.8h0m8.2 37.9h0m5.1 -6h0m0.4 6h0m33.9 0h0m-77.5 33.1h0m29.3 0h0m4.7 0h0m7.9 0h0m-4.9 0h0m5.9 -2h0m1.5 2h0m-33.9 -2h0m7.3 4h0m24.2 2h0m-16.1 -4h0m0.5 -4h0m18 2h0m-7.7 0h0m-21.6 -2h0m60.2 34.1h0m0.2 3h0m18.7 0h0m-39.1 39.1h0m-9.5 -6h0m10.1 -3h0m4.1 0h0m-13.4 3h0m1.4 3h0m22.5 -3h0m1.1 -3h0m24.1 3h0m4.9 -3h0m5.1 3h0m-21.7 33.1h0m2.8 0h0m-1 0h0m-1.6 -4h0m1.1 0h0m-20.3 4h0m14.1 0h0m-47.6 33.1h0m2.1 0h0m38.5 0h0m5 0h0m2.5 0h0m7.4 0h0m17.4 0h0m24.8 0h0" stroke="#e2004e" stroke-width="4.8" stroke-linecap="round" fill="none"/>
<path d="M1005.4 723.1h0m14.7 36.1h0m-70.6 30.7h0m-18.7 2.4h0m14.2 2.4h0m-25.1 57.8h0m6.6 8h0m3.4 2h0m58.7 62.2h0m14 0h0m1.9 0h0m-27.2 33.1h0m-9.1 4h0" stroke="#de0054" stroke-width="4.8" stroke-linecap="round" fill="none"/>
<path d="M994.1 732.1h0m25.8 -6h0m-27.9 3h0m16.2 0h0m3.8 -3h0m-1.2 -1.5h0m-29.9 -5.9h0m26.8 11.9h0m-5.1 -6h0m-59.1 70.1h0m-1 -7.2h0m-25.8 4.8h0m65 30.1h0m-61.1 34.1h0m25 -2h0m-19.6 2h0m44.7 -4h0m-1.4 10h0m6.2 29.1h0m-19 -3h0m9.5 3h0m-14.9 42h0m0.7 -11.9h0m0.6 0h0m22 3h0m-10.7 33.1h0m21.4 0h0" stroke="#bb0080" stroke-width="4.8" stroke-linecap="round" fill="none"/>
<path d="M749.8 724.6h0m-1.5 1.5h0m23.7 0h0m6.2 0h0m27.9 -1.5h0m126.5 32.9h0m15.5 10.2h0m-21 -6.8h0m25.4 -11.9h0m13.6 45.7h0m-10.2 -2.4h0m14.8 4.8h0m-0.6 -7.2h0m-62.6 35.5h0m-9.8 0h0m51.1 0h0m7.3 6h0m-6.2 -9h0m6.1 -3h0m-4.4 9h0m-12.8 -6h0m14.7 30.1h0m2.1 10h0m2 -6h0m8.8 -2h0m-9 4h0m-18.2 36.1h0m11.3 0h0m-3.3 0h0m-7.9 -9h0m-6.7 68.2h0m29.2 0h0m-14.3 -3.9h0m-0.7 3.9h0m6.8 0h0m2.2 0h0m-7.1 37.1h0" stroke="#4783f3" stroke-width="4.8" stroke-linecap="round" fill="none"/>
<path d="M1008.9 727.6h0m-41.4 -1.5h0m23.8 0h0m7.7 0h0m-43.4 29.7h0m-3.4 8.5h0m-5.3 -10.2h0m-5.5 5.1h0m16.5 -1.7h0m-11.2 -6.8h0m16.4 8.5h0m-11.8 8.5h0m16.9 27h0m-3.1 -2.4h0m10.5 0h0m-12.8 33.1h0m-9.6 -3h0m1.6 0h0m8.1 9h0m-3.9 -6h0m0.1 -3h0m15.7 3h0m-5.6 39.1h0m1.6 -13.9h0m10.7 5.9h0m-12.9 2h0m-3.3 -2h0m-21.6 4h0m36.3 -2h0m-22.1 -6h0m-23.1 42.1h0m14.6 3h0m-2.7 -9h0m2.1 3h0m-8.8 3h0m23.5 -11.9h0m-0.1 14.9h0m-1.2 -9h0m-4 0h0m-25.1 36.1h0m24.5 3h0m-10 -3h0m-25.4 29.1h0m27.2 0h0m10 4h0m-12 -4h0m-8 4h0m5.2 0h0m7.4 -4h0m7.1 8h0m-11.5 32.1h0m2.4 -9h0" stroke="#634fcb" stroke-width="4.8" stroke-linecap="round" fill="none"/>
<path d="M719.8 726.1h0m38.2 -1.5h0m-5.8 1.5h0m-6.7 0h0m11 1.5h0m14.5 -1.5h0m6.5 0h0m-1.5 -1.5h0m49.8 1.5h0m-18.2 1.5h0m11.5 -1.5h0m52 0h0m-2.5 -1.5h0m44.6 34.6h0m21.7 -3.4h0m25.6 5.1h0m-26.7 0h0m21 3.4h0m-25.4 -6.8h0m24.7 5.1h0m-2.8 0h0m-8.8 -8.5h0m7 8.5h0m-1.6 -3.4h0m50.1 0h0m-129.4 33.1h0m34.7 0h0m2.5 0h0m46.9 -2.4h0m10.6 -2.4h0m0.6 2.4h0m-5.7 2.4h0m-11.9 2.4h0m27.5 0h0m-72 30.7h0m4.4 -3h0m4.3 3h0m10.8 -3h0m-8.3 3h0m-10.2 0h0m-11.4 0h0m13.6 0h0m-5.2 -3h0m11.1 3h0m-11.5 0h0m-3.1 0h0m10.1 0h0m-11.5 0h0m39.1 0h0m22.2 0h0m-3.3 0h0m2.6 -3h0m8.2 0h0m-24.9 3h0m26 -8.9h0m-23.3 11.9h0m21.1 -11.9h0m1.7 5.9h0m-10.6 3h0m-9.8 0h0m2.3 3h0m5.1 -6h0m19 0h0m-27.1 3h0m19.4 -3h0m6.6 9h0m-254.4 27.1h0m247.1 7.9h0m-0.1 -1.9h0m-0.8 -15.9h0m6.1 7.9h0m-15.1 0h0m-5.7 4h0m3.9 0h0m3.7 2h0m-1.3 -2h0m11.2 2h0m7.3 -6h0m21.5 2h0m-84.3 33.1h0m23.6 0h0m-4.4 0h0m13.1 -3h0m1.5 -3h0m-13.3 6h0m2 -3h0m5.1 0h0m0.4 3h0m-9.5 0h0m5 -3h0m2.7 3h0m0.4 6h0m3.2 -3h0m13.2 -3h0m-16.4 -3h0m11.6 -3h0m-14.6 9h0m78 -3h0m7.5 0h0m-100.3 33.1h0m6 0h0m-9 0h0m6.8 -3h0m15.9 0h0m-23.2 0h0m33.2 3h0m-24.7 33.1h0m21.8 -4h0m14 4h0m-31.8 -4h0m22.9 4h0m1.9 4h0m-6 -8h0m-13.7 4h0m-2.9 0h0m6.6 -4h0m-4.5 0h0m27.2 34.1h0m-10.8 0h0m-0.7 9h0m6.8 -9h0m8.3 6h0m-9.1 -3h0m10.7 -6h0m-20.2 6h0m0.8 0h0m-2.1 0h0m24 3h0" stroke="#4a8af5" stroke-width="4.8" stroke-linecap="round" fill="none"/>
<path d="M993.9 726.1h0m-50.8 31.4h0m6.3 -1.7h0m9 3.4h0m-9.2 -6.8h0m3.2 13.6h0m-4.7 -8.5h0m1.8 -8.5h0m0.2 15.3h0m3.6 28h0m17.1 -7.1h0m-3.5 7.1h0m-15 27.1h0m18.8 9h0m-3.4 -6h0m-12.8 3h0m10.3 6h0m11.4 27.1h0m-26.9 2h0m13.6 -4h0m-8.7 -5.9h0m9.9 3.9h0m2.9 -3.9h0m-9.7 1.9h0m-16.1 39.1h0m-9.6 0h0m15.5 0h0m-3.5 0h0m-6.1 -6h0m0.4 6h0m16.1 -3h0m29.7 3h0m-5.4 0h0m-30.2 36.1h0m20.5 -3h0m-44.6 33.1h0m2.1 -7.9h0m38.6 3.9h0m-14.1 4h0m-16.5 -4h0m17.2 4h0m-3.6 33.1h0m-1.7 8.9h0" stroke="#4266e3" stroke-width="4.8" stroke-linecap="round" fill="none"/>
<path d="M955.4 726.1h0m46.9 -7.4h0m-15.9 4.4h0m5.9 1.5h0m9.2 -3h0m-11.4 1.5h0m-28.9 36.1h0m-16.1 -6.8h0m23.5 5.1h0m-33.2 1.7h0m86.7 -1.7h0m-14.3 0h0m-75.4 37.2h0m-12 -2.4h0m50.3 -9.5h0m-8.5 7.1h0m12.5 0h0m14.9 4.8h0m-49.3 30.7h0m18.7 3h0m9.5 -6h0m9.9 3h0m-57.3 37.1h0m1.9 -2h0m42.2 0h0m11.9 2h0m-37.6 26.1h0m15.7 3h0m6.6 3h0m-31.6 30.1h0m32.1 0h0m-14.5 8.9h0m-0.3 -14.9h0m9.2 9h0m7.7 30.1h0m-14.9 4h0m16.7 -8h0m-11.1 31.1h0m7.9 12h0m-2.4 -6h0" stroke="#8724a4" stroke-width="4.8" stroke-linecap="round" fill="none"/>
<path d="M989.8 729.1h0m10.9 -9h0m-4.9 -2.9h0m-8.2 4.4h0m6.3 13.4h0m-34.1 22.5h0m-19.2 -1.7h0m11.8 5.1h0m-4.6 0h0m16.8 -6.8h0m-20.1 1.7h0m20.9 3.4h0m59.9 0h0m-83.8 33.1h0m-5.7 -2.4h0m39.3 -2.4h0m-5 7.2h0m3.2 -2.4h0m19.1 0h0m-35.6 36.1h0m-5.7 -3h0m-1.8 0h0m12.9 3h0m-1.7 -3h0m5 -3h0m-3.9 3h0m7.7 3h0m-0.2 5.9h0m-8.7 24.2h0m14.9 -4h0m-9.1 -2h0m-17.3 2h0m18.2 -2h0m-14.5 4h0m0.9 -2h0m-15.2 34.1h0m11.2 0h0m36.7 3h0m-69.8 33.1h0m31.1 6h0m2.3 -3h0m-23.6 30.1h0m13.3 0h0m0.8 0h0m13.2 7.9h0m-0.3 -15.8h0m-1.6 38h0m11.5 6h0m-12.6 -3h0m-0.8 3h0" stroke="#6e45c0" stroke-width="4.8" stroke-linecap="round" fill="none"/>
<path d="M753.3 726.1h0m4 0h0m22.1 1.5h0m-5.3 -3h0m6.3 0h0m27.8 1.5h0m143.3 33.1h0m-10 -10.2h0m14.5 11.9h0m50 -1.7h0m-48.1 30.7h0m2.2 2.4h0m18.4 -2.4h0m-85.8 35.5h0m61.6 3h0m11.5 -3h0m-18.7 6h0m22.6 -14.9h0m-9.2 38h0m-20.5 37.1h0m4.4 0h0m-8.4 0h0m6.5 3h0m-17.8 27.1h0m-9.9 3h0m14.9 3h0m0.8 30.1h0m12.8 0h0m10.8 -4h0m-12.3 -3.9h0m-1.5 3.9h0m-2.7 0h0m4.7 34.1h0" stroke="#437cf0" stroke-width="4.8" stroke-linecap="round" fill="none"/>
<path d="M1010.9 726.1h0m-22.4 1.5h0m-12.5 1.5h0m1.6 -1.5h0m1 -1.5h0m-37.8 28h0m-6.5 5.1h0m27.9 1.7h0m-15.8 3.4h0m10.7 0h0m-8.6 1.7h0m9.1 -11.9h0m45.6 5.1h0m-77.7 33.1h0m11.2 -2.4h0m-1.3 -2.4h0m31.9 4.8h0m-19.6 0h0m35.8 0h0m-1.4 2.4h0m-8.1 -4.8h0m-1.3 35.5h0m-6.3 0h0m-10.4 3h0m9.9 0h0m-6.9 -6h0m10.5 3h0m-14.5 41h0m7.5 -11.9h0m-20.2 37.1h0m-8.8 0h0m40.2 0h0m-9.6 -3h0m0.7 3h0m-1.4 3h0m-3.4 -3h0m-27.5 30.1h0m5.4 3h0m25.7 0h0m-12.5 -3h0m-11.8 3h0m26 0h0m-10 3h0m12.7 -3h0m-37.9 37.1h0m2.3 -4h0m15 4h0m-5.9 -4h0m17.6 -4h0m-6.1 8h0m-8.7 -8h0m-8.2 4h0m9.1 4h0m11.1 0h0m8.9 35.1h0m-6.1 -9h0m-6.7 6h0m9.5 -3h0m-4.8 6h0m-3.8 -14.9h0m11.6 5.9h0" stroke="#793bb5" stroke-width="4.8" stroke-linecap="round" fill="none"/>
<path d="M813.4 726.1h0m163 -3h0m-29.2 31h0m6.9 -1.7h0m-3 17h0m3.4 -15.3h0m5.3 8.5h0m-1 -6.8h0m-12.5 6.8h0m2.7 32.1h0m2.2 -2.4h0m17.2 0h0m-4.7 0h0m13.6 0h0m-5 -2.4h0m-50.9 35.5h0m-11 -3h0m52.2 -3h0m3.8 3h0m-20.5 0h0m5.8 3h0m2 3h0m-3.7 0h0m9 28.1h0m1.8 -5.9h0m15 5.9h0m-17.3 6h0m5.9 -4h0m-11.2 0h0m19.2 0h0m-9.4 4h0m-33.1 29.1h0m7.3 -3h0m17 3h0m29.7 3h0m-24.3 30.1h0m-11.2 33.1h0m-22.3 4h0m23.8 35.1h0m-3.7 -12h0m2.7 0h0m0.6 12h0m5.3 -3h0m1.5 -6h0m8.5 3h0m-3.6 -6h0" stroke="#4075ed" stroke-width="4.8" stroke-linecap="round" fill="none"/>
<path d="M822.7 726.1h0m160.8 1.5h0m-8.6 -3h0m-28.2 34.6h0m-7 3.4h0m24.4 32.1h0m6.3 -2.4h0m-6.3 -4.8h0m18.9 2.4h0m-20.3 4.8h0m8.4 -2.4h0m15.8 0h0m-31.1 33.1h0m0.4 -6h0m-8.1 3h0m16.8 3h0m17 35.1h0m-21.5 0h0m-16.7 -4h0m-4.6 35.1h0m13.6 0h0m-2.5 3h0m-8 -6h0m9.1 0h0m32.6 0h0m3.8 3h0m-65.6 33.1h0m2.8 0h0m16.6 29.1h0m12.5 4h0m-12.6 0h0m6 0h0m-2.5 0h0m21.6 36.1h0m-11.1 -6h0m8.6 3h0" stroke="#416ee8" stroke-width="4.8" stroke-linecap="round" fill="none"/>
<path d="M995.4 724.6h0m-5.4 -4.5h0m8.8 7.5h0m-17.5 -3h0m-39.6 39.7h0m0.5 1.7h0m11.9 -6.8h0m-8.7 30.7h0m-5.4 0h0m16.6 -2.4h0m-9.6 34.9h0m10.1 3h0m19 -3h0m-13.1 3h0m27.1 0h0m-73.5 33.1h0m7 0h0m-4.5 0h0m17.2 66.2h0m17.2 3h0m-8.4 -3h0m11.1 0h0m-13.7 0h0m34 0h0m-32.9 37.1h0m18 -4h0m-4.7 0h0m-26.6 33.1h0m-3.5 0h0m-1.8 0h0m32.6 3h0m-11.5 -3h0" stroke="#9a069b" stroke-width="4.8" stroke-linecap="round" fill="none"/>
<path d="M995.3 727.6h0m5.7 -1.5h0m5.3 -1.5h0m-25.6 -3h0m-50.5 73.1h0m15.9 -4.8h0m26.4 32.5h0m-50.2 34.1h0m-3.6 0h0m50.3 35.1h0m-1.6 0h0m-0.5 -3h0m-2.4 0h0m6.4 3h0m-2 6h0m-15.2 24.1h0m-7 -3h0m49.8 6h0m-6.5 0h0m4.7 0h0m-5.1 -3h0m-23.2 40.1h0m-42 29.1h0" stroke="#d6005f" stroke-width="4.8" stroke-linecap="round" fill="none"/>
<path d="M993.1 730.6h0m-66.1 28.6h0m20.2 -8.5h0m-4.2 10.2h0m7.1 -10.2h0m-9.1 8.5h0m-0.3 1.7h0m17 -5.1h0m14 3.4h0m-1.3 40.2h0m-1.2 -9.5h0m-2.3 0h0m-37.9 35.5h0m0.8 0h0m17.6 0h0m12.4 -6h0m7.3 9h0m-9.9 26.1h0m-4.8 10h0m9.8 -12h0m-10.2 6h0m18 2h0m-7 0h0m-13.2 25.1h0m-3.9 3h0m3.9 3h0m-29 33.1h0m30 -8.9h0m17.9 5.9h0m-1.1 0h0m-42.3 36.1h0m9.2 0h0m30.1 0h0m-8.8 0h0m-17.9 0h0m8.3 0h0m-9.5 0h0m4.8 4h0m25 26.1h0m-7.7 6h0m7.2 -3h0m-6.6 0h0m-12.8 0h0m7.7 0h0m-6.3 -3h0m3.1 6h0m11.4 -6h0m-17.2 0h0m0.6 -5.9h0m19.5 2.9h0" stroke="#4b5fdc" stroke-width="4.8" stroke-linecap="round" fill="none"/>
<path d="M985.5 730.6h0m-2.1 -13.4h0m8.2 2.9h0m-9.1 13.4h0m5.5 -8.9h0m-45.2 67.7h0m7.1 0h0m-33.7 -2.4h0m17.6 0h0m-4.3 2.4h0m61.6 0h0m-60.3 33.1h0m14.1 0h0m23.7 0h0m-57.7 33.1h0m64.5 2h0m-14.6 31.1h0m-4.6 0h0m20.6 0h0m-5.4 0h0m-13.1 27.1h0m2.7 6h0m16.7 0h0m-13.7 29.1h0m-2 4h0m-29.3 0h0" stroke="#ca006e" stroke-width="4.8" stroke-linecap="round" fill="none"/>
<path d="M994.6 721.6h0m3.5 7.5h0m-5.5 -7.5h0m-10.4 13.4h0m0.9 -13.4h0m0.4 1.5h0m-17.3 1.5h0m20 -3h0m-39.5 44.4h0m11.2 -3.4h0m-7 -6.8h0m-6.8 6.8h0m-4.2 1.7h0m36.3 -5.1h0m28.6 -1.7h0m-75.2 37.2h0m33.5 -2.4h0m6.6 -4.8h0m2.6 4.8h0m-25 36.1h0m1.6 -6h0m15.2 -3h0m5.1 0h0m-4.3 9h0m-9.4 3h0m11.7 33.1h0m-11.8 -4h0m-7.7 25.1h0m10.9 6h0m-3.3 -3h0m23.3 6h0m-28.2 24.1h0m-4 6h0m7.8 -3h0m1.3 3h0m5.2 -3h0m-35 32.1h0m33.9 -3.9h0m-4.3 7.9h0m-12.4 -4h0m-8.1 8h0m26.6 26.1h0m-5.1 3h0m-10.1 3h0m10.4 -9h0m-2.6 3h0" stroke="#802fac" stroke-width="4.8" stroke-linecap="round" fill="none"/>
<path d="M999.6 723.1h0m-62 64.4h0m8.9 0h0m9.6 2.4h0m-18.4 0h0m-4.1 66.6h0m1.8 2h0m-5.6 -2h0m38.2 35.1h0m-5 0h0m2.2 -6h0m-12.9 39.1h0m5.7 -8.9h0m28 5.9h0m0.1 3h0m2.4 -3h0m-5.1 36.1h0m-16.9 0h0m-45.1 33.1h0m-3 -3h0" stroke="#da0059" stroke-width="4.8" stroke-linecap="round" fill="none"/>
<line x1="696.5" y1="1023.8" x2="1057.1" y2="1023.8" stroke="#555" stroke-width="1.3"/>
<line x1="704.9" y1="1023.8" x2="704.9" y2="1027.6" stroke="#555" stroke-width="1"/>
<text transform="translate(704.9 1040.9)" style="font-family:'DejaVu Sans',sans-serif;font-size:11.8px" text-anchor="middle" fill="#333">−1.0</text>
<line x1="754.5" y1="1023.8" x2="754.5" y2="1027.6" stroke="#555" stroke-width="1"/>
<text transform="translate(754.5 1040.9)" style="font-family:'DejaVu Sans',sans-serif;font-size:11.8px" text-anchor="middle" fill="#333">−0.8</text>
<line x1="804.1" y1="1023.8" x2="804.1" y2="1027.6" stroke="#555" stroke-width="1"/>
<text transform="translate(804.1 1040.9)" style="font-family:'DejaVu Sans',sans-serif;font-size:11.8px" text-anchor="middle" fill="#333">−0.6</text>
<line x1="853.7" y1="1023.8" x2="853.7" y2="1027.6" stroke="#555" stroke-width="1"/>
<text transform="translate(853.7 1040.9)" style="font-family:'DejaVu Sans',sans-serif;font-size:11.8px" text-anchor="middle" fill="#333">−0.4</text>
<line x1="903.3" y1="1023.8" x2="903.3" y2="1027.6" stroke="#555" stroke-width="1"/>
<text transform="translate(903.3 1040.9)" style="font-family:'DejaVu Sans',sans-serif;font-size:11.8px" text-anchor="middle" fill="#333">−0.2</text>
<line x1="952.9" y1="1023.8" x2="952.9" y2="1027.6" stroke="#555" stroke-width="1"/>
<text transform="translate(952.9 1040.9)" style="font-family:'DejaVu Sans',sans-serif;font-size:11.8px" text-anchor="middle" fill="#333">0.0</text>
<line x1="1002.5" y1="1023.8" x2="1002.5" y2="1027.6" stroke="#555" stroke-width="1"/>
<text transform="translate(1002.5 1040.9)" style="font-family:'DejaVu Sans',sans-serif;font-size:11.8px" text-anchor="middle" fill="#333">0.2</text>
<line x1="1052.1" y1="1023.8" x2="1052.1" y2="1027.6" stroke="#555" stroke-width="1"/>
<text transform="translate(1052.1 1040.9)" style="font-family:'DejaVu Sans',sans-serif;font-size:11.8px" text-anchor="middle" fill="#333">0.4</text>
<text transform="translate(876.8 1057.6)" style="font-family:'DejaVu Sans',sans-serif;font-size:14px" text-anchor="middle" textLength="263.4" lengthAdjust="spacingAndGlyphs">SHAP value (impact on model output)</text>
<defs><linearGradient id="cbg1079" x1="0" y1="0" x2="0" y2="1"><stop offset="0.00" stop-color="#e2004e"/><stop offset="0.15" stop-color="#d40062"/><stop offset="0.28" stop-color="#be007d"/><stop offset="0.40" stop-color="#9e009a"/><stop offset="0.48" stop-color="#8a1ea0"/><stop offset="0.58" stop-color="#7a3ab4"/><stop offset="0.68" stop-color="#6052ce"/><stop offset="0.78" stop-color="#4264e2"/><stop offset="0.88" stop-color="#4076ee"/><stop offset="1.00" stop-color="#4a8af5"/></linearGradient></defs>
<rect x="1079.3" y="691.9" width="4.2" height="332.3" fill="url(#cbg1079)" stroke="none" stroke-width="1"/>
<text transform="translate(1087.5 696.5)" style="font-family:'DejaVu Sans',sans-serif;font-size:12.9px">High</text>
<text transform="translate(1087.5 1028.8)" style="font-family:'DejaVu Sans',sans-serif;font-size:12.9px">Low</text>
<text transform="translate(1120.6 858) rotate(-90)" style="font-family:'DejaVu Sans',sans-serif;font-size:12.9px" text-anchor="middle" dominant-baseline="central">Feature value</text>
<line x1="1305.9" y1="696.4" x2="1587.2" y2="696.4" stroke="#d4d4d4" stroke-width="0.90" stroke-dasharray="1 2.6"/>
<line x1="1305.9" y1="723.8" x2="1587.2" y2="723.8" stroke="#d4d4d4" stroke-width="0.90" stroke-dasharray="1 2.6"/>
<line x1="1305.9" y1="751.2" x2="1587.2" y2="751.2" stroke="#d4d4d4" stroke-width="0.90" stroke-dasharray="1 2.6"/>
<line x1="1305.9" y1="778.6" x2="1587.2" y2="778.6" stroke="#d4d4d4" stroke-width="0.90" stroke-dasharray="1 2.6"/>
<line x1="1305.9" y1="806" x2="1587.2" y2="806" stroke="#d4d4d4" stroke-width="0.90" stroke-dasharray="1 2.6"/>
<line x1="1305.9" y1="833.4" x2="1587.2" y2="833.4" stroke="#d4d4d4" stroke-width="0.90" stroke-dasharray="1 2.6"/>
<line x1="1305.9" y1="860.8" x2="1587.2" y2="860.8" stroke="#d4d4d4" stroke-width="0.90" stroke-dasharray="1 2.6"/>
<line x1="1305.9" y1="888.2" x2="1587.2" y2="888.2" stroke="#d4d4d4" stroke-width="0.90" stroke-dasharray="1 2.6"/>
<line x1="1305.9" y1="915.6" x2="1587.2" y2="915.6" stroke="#d4d4d4" stroke-width="0.90" stroke-dasharray="1 2.6"/>
<line x1="1305.9" y1="943" x2="1587.2" y2="943" stroke="#d4d4d4" stroke-width="0.90" stroke-dasharray="1 2.6"/>
<line x1="1305.9" y1="970.4" x2="1587.2" y2="970.4" stroke="#d4d4d4" stroke-width="0.90" stroke-dasharray="1 2.6"/>
<line x1="1305.9" y1="997.8" x2="1587.2" y2="997.8" stroke="#d4d4d4" stroke-width="0.90" stroke-dasharray="1 2.6"/>
<line x1="1305.9" y1="1025.2" x2="1587.2" y2="1025.2" stroke="#d4d4d4" stroke-width="0.90" stroke-dasharray="1 2.6"/>
<line x1="1305.9" y1="1052.6" x2="1587.2" y2="1052.6" stroke="#d4d4d4" stroke-width="0.90" stroke-dasharray="1 2.6"/>
<line x1="1305.9" y1="1080" x2="1587.2" y2="1080" stroke="#d4d4d4" stroke-width="0.90" stroke-dasharray="1 2.6"/>
<line x1="1305.9" y1="1107.4" x2="1587.2" y2="1107.4" stroke="#d4d4d4" stroke-width="0.90" stroke-dasharray="1 2.6"/>
<line x1="1305.9" y1="1134.8" x2="1587.2" y2="1134.8" stroke="#d4d4d4" stroke-width="0.90" stroke-dasharray="1 2.6"/>
<line x1="1477.3" y1="675.6" x2="1477.3" y2="1162.5" stroke="#999" stroke-width="1.8"/>
<text transform="translate(1284.1 701)" style="font-family:'DejaVu Sans',sans-serif;font-size:11.9px" text-anchor="end" fill="#333">LPC-22-5</text>
<text transform="translate(1284.1 728.4)" style="font-family:'DejaVu Sans',sans-serif;font-size:11.9px" text-anchor="end" fill="#333">7-oxo-DCA</text>
<text transform="translate(1284.1 755.8)" style="font-family:'DejaVu Sans',sans-serif;font-size:11.9px" text-anchor="end" fill="#333">7-keto-DCA</text>
<text transform="translate(1284.1 783.2)" style="font-family:'DejaVu Sans',sans-serif;font-size:11.9px" text-anchor="end" fill="#333">Zealarone</text>
<text transform="translate(1284.1 810.6)" style="font-family:'DejaVu Sans',sans-serif;font-size:11.9px" text-anchor="end" fill="#333">Glutamine</text>
<text transform="translate(1284.1 838)" style="font-family:'DejaVu Sans',sans-serif;font-size:11.9px" text-anchor="end" fill="#333">Ethylparaben</text>
<text transform="translate(1284.1 865.4)" style="font-family:'DejaVu Sans',sans-serif;font-size:11.9px" text-anchor="end" fill="#333">TMCAisomer</text>
<text transform="translate(1284.1 892.8)" style="font-family:'DejaVu Sans',sans-serif;font-size:11.9px" text-anchor="end" fill="#333">Fumaricacid</text>
<text transform="translate(1284.1 920.2)" style="font-family:'DejaVu Sans',sans-serif;font-size:11.9px" text-anchor="end" fill="#333">Proline</text>
<text transform="translate(1284.1 947.6)" style="font-family:'DejaVu Sans',sans-serif;font-size:11.9px" text-anchor="end" fill="#333">Lysine</text>
<text transform="translate(1284.1 975)" style="font-family:'DejaVu Sans',sans-serif;font-size:11.9px" text-anchor="end" fill="#333">palmiticacid</text>
<text transform="translate(1284.1 1002.4)" style="font-family:'DejaVu Sans',sans-serif;font-size:11.9px" text-anchor="end" fill="#333">DCA</text>
<text transform="translate(1284.1 1029.8)" style="font-family:'DejaVu Sans',sans-serif;font-size:11.9px" text-anchor="end" fill="#333">LCA</text>
<text transform="translate(1284.1 1057.2)" style="font-family:'DejaVu Sans',sans-serif;font-size:11.9px" text-anchor="end" fill="#333">THDCA</text>
<text transform="translate(1284.1 1084.6)" style="font-family:'DejaVu Sans',sans-serif;font-size:11.9px" text-anchor="end" fill="#333">12-Ketolithocholicacid</text>
<text transform="translate(1284.1 1112)" style="font-family:'DejaVu Sans',sans-serif;font-size:11.9px" text-anchor="end" fill="#333">Citricacid</text>
<text transform="translate(1284.1 1139.4)" style="font-family:'DejaVu Sans',sans-serif;font-size:11.9px" text-anchor="end" fill="#333">Kinetin</text>
<path d="M1460.1 691.5h0m2.4 2.4h0m-15.2 0h0m15.9 2.5h0m31.3 24.1h0m4.7 0h0m4.7 0h0m1.4 3.3h0m-7.9 0h0m-5 27.4h0m-1.4 3.3h0m10 -6.6h0m-3.4 6.6h0m-8 24.1h0m-12.6 0h0m27.2 0h0m-14.5 3.3h0m-5.1 -3.3h0m-20.5 49.9h0m1.4 8.2h0m-7.9 -6.6h0m3.1 3.3h0m19.7 -1.6h0m-24.4 3.2h0m32.7 25.8h0m14.2 0h0m-2.1 29.4h0m-18.7 22.1h0m-2.8 0h0m11.2 0h0m-2.3 27.4h0m-0.3 6.6h0m7.8 0h0m-6.6 -9.9h0m-0.5 0h0m-14.3 37.3h0m-1.5 -6.6h0m0.9 3.3h0m-13.2 0h0m27.4 0h0m-5.1 27.4h0m-1.4 0h0m14.1 0h0m-4.2 2.5h0m4.3 0h0m-4.2 28.2h0m-13 -6.6h0m0.2 3.3h0m12.6 -6.6h0m6 6.6h0m-0.5 -3.3h0m-25.9 30.7h0m17.7 0h0m-11.1 -2.5h0m-9.4 29.9h0m-3.6 0h0m12.1 -3.3h0m-8.8 0h0m7.8 0h0m5 27.4h0m3.2 0h0m-10.2 3.3h0m9.3 0h0m8.3 0h0m2.6 3.3h0m-14.9 26.6h0m-1.8 -7.4h0m-2.6 2.4h0m-1.9 2.5h0m4 0h0" stroke="#9a069b" stroke-width="4.4" stroke-linecap="round" fill="none"/>
<path d="M1460.6 703.8h0m0.7 -7.4h0m40 0h0m32 0h0m3.3 0h0m-12.6 0h0m22 -2.5h0m-34.8 0h0m-76.3 26.6h0m-7.6 3.3h0m45.1 0h0m-23.1 -3.3h0m8.7 0h0m-4.5 3.3h0m-29.7 27.4h0m14.5 0h0m-26.8 3.3h0m41.3 -3.3h0m1.2 0h0m-43.6 0h0m17 24.1h0m-9.7 3.3h0m38 0h0m57.5 0h0m-15.4 27.4h0m9.9 0h0m-39.5 0h0m36.4 -3.3h0m-40.6 3.3h0m30.1 0h0m-4.9 -3.3h0m14.6 32.3h0m-9 0h0m-55.7 25.8h0m-2.3 0h0m-6.8 0h0m39.4 5.9h0m15.3 -7.9h0m-6.2 2h0m-6 -3.9h0m-5.1 3.9h0m-11.3 -3.9h0m-20.8 31.3h0m-0.8 0h0m42.3 -5.9h0m12.5 3.9h0m-23.8 29.4h0m-22.7 0h0m21.9 0h0m-15.6 0h0m3.9 -3.3h0m12.2 0h0m9.7 30.7h0m-6 0h0m-1.5 0h0m7 0h0m-10.6 0h0m6.9 27.4h0m11.1 0h0m-22.1 0h0m5.5 24.9h0m-6.1 2.5h0m6.3 2.5h0m3.6 -2.5h0m7.5 0h0m-11 -2.5h0m36 2.5h0m-3.1 0h0m-1.6 0h0m-22 54.8h0m0.6 0h0m17.7 27.4h0m-8.5 -3.3h0m-19.3 30.7h0m2.9 27.4h0" stroke="#4783f3" stroke-width="4.4" stroke-linecap="round" fill="none"/>
<path d="M1490.4 693.9h0m-19.2 26.6h0m9.5 3.3h0m17.3 -3.3h0m5.7 3.3h0m-13.8 27.4h0m8.4 0h0m6.3 0h0m-9.5 27.4h0m-27.9 0h0m4.4 -6.6h0m-8.2 30.7h0m-14.3 3.3h0m17 -3.3h0m-17 6.6h0m27.7 -3.3h0m37.7 0h0m-17.8 -3.3h0m-38.4 30.7h0m0.7 3.3h0m9.5 -6.6h0m-8.2 4.9h0m16.9 27.8h0m31.2 25.4h0m5.5 0h0m-29.3 20.8h0m-7.4 3.3h0m13.2 6.6h0m-6.5 24.1h0m4.3 0h0m-1.8 0h0m-35 27.4h0m32.4 0h0m-12.6 0h0m4.4 0h0m14.1 27.4h0m12.3 0h0m-14.9 0h0m4.7 0h0m-8 -2.5h0m4.2 26.6h0m-7.3 0h0m17.5 3.3h0m-26.7 27.4h0m4.4 27.4h0m-0.2 0h0m-3.2 -6.6h0m-11.2 6.6h0m24.7 -3.3h0m-14.8 30.7h0m12.5 0h0m-7.7 -3.3h0m0.7 3.3h0m-8.6 -6.6h0m13.3 34h0m4.2 0h0m-11.4 0h0m4.4 -4.9h0" stroke="#a50094" stroke-width="4.4" stroke-linecap="round" fill="none"/>
<path d="M1452.4 696.4h0m-2.1 -4.9h0m17.7 4.9h0m3.9 0h0m-27.9 0h0m32.2 27.4h0m14.9 0h0m-3.9 24.1h0m3 30.7h0m-29.8 0h0m-4 -3.3h0m18.2 3.3h0m4.3 -3.3h0m-33.4 0h0m38.7 0h0m16.5 3.3h0m-26 30.7h0m-9.4 20.8h0m4.4 3.3h0m-8 0h0m20.6 0h0m10.3 27.4h0m4.4 0h0m-19.8 23.5h0m24.5 3.9h0m-33.6 0h0m22.9 -2h0m-9.3 29.4h0m-8.9 0h0m10.7 0h0m7.8 27.4h0m-9.9 0h0m2.3 0h0m2.9 -3.3h0m3.3 30.7h0m1.1 3.3h0m-2.2 -3.3h0m-9.4 3.3h0m0.9 -6.6h0m-1.3 3.3h0m-2.2 0h0m-0.9 0h0m15.3 0h0m-17.3 27.4h0m-1.9 -2.5h0m1.9 5h0m4.1 28.2h0m-3.2 0h0m9.7 -3.3h0m0.5 22.5h0m-13.4 7.4h0m-10.2 -5h0m20.3 2.5h0m-3.8 0h0m1.7 0h0m-12.2 27.4h0m4.2 0h0m11.7 27.4h0m-12.5 0h0m2.8 3.3h0m5.8 -3.3h0m-5.1 -3.3h0m-4.3 3.3h0m16.2 0h0m-11.6 0h0m5.2 0h0m-12.2 27.4h0m-1 0h0m-1.9 0h0m14.2 -2.5h0m-1.8 2.5h0m-4.3 0h0" stroke="#793bb5" stroke-width="4.4" stroke-linecap="round" fill="none"/>
<path d="M1462.4 698.9h0m11.6 -2.5h0m10.7 -2.5h0m-4.6 0h0m8.6 2.5h0m-2.9 27.4h0m16.2 3.3h0m0.3 -3.3h0m8.5 0h0m-14.6 27.4h0m6.6 -3.3h0m1.6 6.6h0m-17.8 -6.6h0m5.7 6.6h0m-12.6 24.1h0m20.9 3.3h0m-49 -3.3h0m22.8 -3.3h0m-3.7 3.3h0m5.3 -3.3h0m-18.4 0h0m32.5 58.1h0m-17.9 0h0m-4.2 0h0m-3.3 8.2h0m-6.8 -3.3h0m12 -1.6h0m29.3 26.1h0m-8.8 27.4h0m5.1 -4h0m15 2h0m-19.1 27.4h0m2 0h0m2.2 0h0m-3.6 0h0m2.7 24.1h0m-14.2 3.3h0m-16.9 27.4h0m23.8 27.4h0m10.1 24.1h0m-15.4 3.3h0m2.3 27.4h0m-14.4 0h0m15.1 0h0m-22.2 54.8h0m16.3 -3.3h0m1.2 6.6h0m-17.4 24.1h0m8.5 -2.5h0m8.4 2.5h0m8.4 -2.5h0" stroke="#b0008a" stroke-width="4.4" stroke-linecap="round" fill="none"/>
<path d="M1463.1 689h0m3.7 4.9h0m-24.5 2.5h0m25.7 -4.9h0m-5.1 9.8h0m1.1 22.5h0m-19.5 0h0m22.7 -3.3h0m-2.3 3.3h0m15.5 -3.3h0m15.4 -3.3h0m-11 34h0m-17.1 24.1h0m-16.8 3.3h0m20.4 0h0m-10.9 3.3h0m-3.2 -3.3h0m11.3 -3.3h0m-5.6 30.7h0m59.7 0h0m-11.4 0h0m8 -3.3h0m-27.8 0h0m-19.8 29.1h0m59.8 1.6h0m-51.8 25.4h0m-7.6 5.9h0m12.6 -3.9h0m-6.4 -3.9h0m3.7 3.9h0m12.9 25.4h0m-1.2 2h0m-10.1 0h0m-0.1 2h0m-1.9 -4h0m-10 26.1h0m13.2 6.6h0m-8.9 24.1h0m-1.6 -3.3h0m20.7 27.4h0m-18.3 0h0m17.4 0h0m-24.3 28.2h0m-3.9 2.5h0m-5.2 0h0m1.1 2.5h0m11.9 -7.4h0m5 4.9h0m-16.6 -2.5h0m26.8 2.5h0m2.5 27.4h0m-10.1 3.3h0m-10 -3.3h0m21.9 -3.3h0m5.6 3.3h0m-5 0h0m-4.7 27.4h0m-14.5 -2.5h0m4.4 2.5h0m-10.5 0h0m9 2.5h0m-2 28.2h0m-7.8 -3.3h0m-5.9 0h0m43.5 3.3h0m-33.6 27.4h0m1.5 -6.6h0m-3.6 30.7h0m13.1 -2.5h0m5.7 2.5h0" stroke="#4b5fdc" stroke-width="4.4" stroke-linecap="round" fill="none"/>
<path d="M1454.7 691.5h0m13.5 7.4h0m14.6 -2.5h0m0.1 24.1h0m3.8 3.3h0m19.2 -3.3h0m7.3 3.3h0m-22.7 0h0m7.5 3.3h0m-0.2 17.5h0m-7.6 13.2h0m-41.2 20.8h0m19.8 6.6h0m4 14.2h0m-12.1 6.6h0m-0.3 -3.3h0m-12.5 30.7h0m26.1 1.6h0m-0.7 1.7h0m-7 -1.7h0m-12.5 0h0m29.4 25.8h0m-22.7 0h0m35.7 29.4h0m-15.5 25.4h0m-6.3 0h0m2.5 -3.3h0m3.7 0h0m13.3 3.3h0m-20 27.4h0m27.4 0h0m-17.4 30.7h0m-3.9 -3.3h0m-10.7 27.4h0m17.1 0h0m4.8 -2.5h0m-10.2 23.3h0m3.7 38.9h0m-3.1 -2.4h0m-10.1 -5h0m6.4 57.3h0m2 -3.3h0m-2.9 0h0m-3.5 30.7h0m2.1 0h0" stroke="#8724a4" stroke-width="4.4" stroke-linecap="round" fill="none"/>
<path d="M1463.7 696.4h0m-13.1 -2.5h0m-4.3 5h0m87.1 -5h0m10.9 2.5h0m-9.2 0h0m-35.1 0h0m-71.1 27.4h0m22.5 0h0m10 0h0m-8.4 -3.3h0m4.1 0h0m15.5 3.3h0m6.7 0h0m-11.8 0h0m-22.3 27.4h0m11.6 0h0m12.9 54.8h0m17 -3.3h0m1.8 3.3h0m1 0h0m50.5 27.4h0m-48.4 0h0m29.5 0h0m13 -1.6h0m6.9 0h0m-21.7 0h0m-82.2 27h0m29.3 2h0m4.5 0h0m2 3.9h0m1 -9.8h0m-14.5 3.9h0m-50.6 29.4h0m14.7 0h0m67.4 0h0m-20.5 2h0m11.4 -2h0m-15.4 0h0m17.8 -2h0m5.1 2h0m-35.1 27.4h0m-12.2 0h0m11 0h0m2.8 27.4h0m9.8 -3.3h0m-1 0h0m3.8 3.3h0m-5.7 0h0m27.9 0h0m-15.7 27.4h0m-6.2 -6.6h0m25 6.6h0m-18.5 24.9h0m-6.6 -2.4h0m34.6 4.9h0m-3.6 0h0m-37.2 30.7h0m14.1 -3.3h0m2.7 29.9h0m25.5 24.9h0m-3.3 0h0m3.8 -3.3h0m0 3.3h0m-2.9 0h0m-3.7 0h0m-8.6 0h0m-1.2 -3.3h0m4.7 3.3h0" stroke="#437cf0" stroke-width="4.4" stroke-linecap="round" fill="none"/>
<path d="M1486.7 693.9h0m4.6 2.5h0m-9.3 2.5h0m27.6 24.9h0m-7.3 -3.3h0m-6.9 0h0m9.4 27.4h0m-3.3 3.3h0m-20.9 27.4h0m-38.8 27.4h0m23 29h0m-9 -3.2h0m8.9 0h0m33.6 27h0m7.1 27.4h0m-10.9 29.4h0m-3.4 24.1h0m1.6 3.3h0m-1.4 54.8h0m8.5 -2.5h0m-53.1 29.9h0m15.3 0h0m0.3 -3.3h0m1.9 3.3h0m-1.7 -3.3h0m3 3.3h0m-9.3 0h0m28.7 29.9h0m-5.1 -2.5h0m12.5 0h0m6.1 0h0m-5.8 0h0m-9 24.1h0m-10.1 3.3h0m4.1 27.4h0" stroke="#de0054" stroke-width="4.4" stroke-linecap="round" fill="none"/>
<path d="M1461.6 698.9h0m4.3 0h0m-4 -5h0m-11.8 2.5h0m-8.2 0h0m17.8 2.5h0m-4.9 -5h0m91 2.5h0m-78.6 30.7h0m-28.7 -3.3h0m54.3 0h0m-55.3 24.1h0m11.7 27.4h0m32.6 3.3h0m-13 3.3h0m2.7 0h0m-34.7 -3.3h0m75.7 -3.3h0m-34.8 30.7h0m-6.7 24.1h0m-6.5 8.2h0m32.5 -4.9h0m-1.6 27.4h0m-19 -2h0m-7.2 2h0m2 5.9h0m4.1 -9.8h0m1.7 3.9h0m-1.4 2h0m-0.8 25.4h0m-7.3 -2h0m6.7 0h0m-21.1 2h0m25.1 27.4h0m-1.3 27.4h0m-3.7 27.4h0m-1 0h0m8.6 0h0m1.7 0h0m14.7 0h0m-39.7 27.4h0m16.1 4.9h0m7.8 -7.4h0m-10.7 26.6h0m15.2 6.6h0m-9 21.6h0m-17.2 2.5h0m9.2 0h0m-3.1 0h0m40.8 27.4h0m-16.2 27.4h0m-19.2 27.4h0m6.1 -2.5h0m-4.2 2.5h0m-1.3 0h0m6.6 -2.5h0m-5.2 -2.4h0m0 -2.5h0m8.1 4.9h0" stroke="#4266e3" stroke-width="4.4" stroke-linecap="round" fill="none"/>
<path d="M1460.3 701.3h0m0.2 -7.4h0m-13.9 -4.9h0m100 7.4h0m-15.9 0h0m12.6 -2.5h0m-94.5 23.3h0m-19.1 34h0m30 0h0m-25.4 27.4h0m11.9 0h0m14.1 -3.3h0m18 3.3h0m19.4 24.1h0m-12.8 3.3h0m-3.2 0h0m-1.4 0h0m-19.3 25.8h0m67.1 0h0m0 1.6h0m-20.3 0h0m-37.9 25.4h0m8.8 4h0m-3 -4h0m-27.2 2h0m35.2 23.5h0m-29 3.9h0m23.7 -3.9h0m-13.3 3.9h0m29.4 0h0m-34.6 0h0m-9.8 0h0m35 0h0m6 27.4h0m-11.1 0h0m-3.5 0h0m-12.1 27.4h0m17 -3.3h0m10.3 30.7h0m1.3 0h0m-36.7 27.4h0m6.4 -2.5h0m24.9 0h0m-4.4 29.9h0m-2.7 27.4h0m7.3 0h0m-11.4 0h0m0.6 2.5h0m-12.2 52.3h0m15.8 -6.6h0m-11.5 9.9h0m7 24.1h0m-10.2 0h0m8.2 2.5h0" stroke="#416ee8" stroke-width="4.4" stroke-linecap="round" fill="none"/>
<path d="M1489.5 693.9h0m-9.1 2.5h0m4.5 0h0m23.2 24.1h0m-1.6 3.3h0m-0.2 3.3h0m3.1 -3.3h0m-15.8 24.1h0m3.7 0h0m-2.9 3.3h0m15.6 -3.3h0m-2.8 0h0m-10.1 3.3h0m12.9 0h0m-6.9 0h0m-11.8 -3.3h0m7.9 0h0m7.9 27.4h0m-8.1 3.3h0m-48.5 30.7h0m-0.9 -3.3h0m-1.2 -3.3h0m-4.2 3.3h0m6.4 -3.3h0m-133.2 30.7h0m166.8 0h0m-0.1 -1.6h0m-18.5 -5h0m-121.6 34h0m58.7 0h0m2.6 0h0m13.4 0h0m89.4 0h0m-7 0h0m3.5 -2h0m-11.1 2h0m-98.8 27.4h0m129.8 0h0m-9.5 0h0m7.6 0h0m-8.9 -2h0m-7.2 0h0m11.5 2h0m-25.8 54.8h0m3.2 -3.3h0m-0.5 3.3h0m-25.1 24.1h0m-17.3 3.3h0m14.5 0h0m-5.4 -3.3h0m-6.9 3.3h0m2.9 -3.3h0m11.1 3.3h0m-7.6 0h0m6.3 -3.3h0m27.6 28.2h0m-1.3 2.5h0m-19.8 -7.4h0m22 4.9h0m-11.8 2.5h0m-21.6 27.4h0m-2.6 0h0m-7.9 0h0m2.4 0h0m-2.9 0h0m-0.9 27.4h0m45.4 2.5h0m0.2 -5h0m-2.2 2.5h0m10 0h0m-27.8 27.4h0m-0.4 3.3h0m0.2 -6.6h0m7.8 3.3h0m-7.1 0h0m-4.2 -3.3h0m-0.7 3.3h0m7.6 0h0m-3.4 27.4h0m21.8 0h0m-9.2 0h0m1.6 3.3h0m-1.4 -6.6h0m-1.3 30.7h0m-6.4 2.5h0m9.1 -2.5h0" stroke="#e2004e" stroke-width="4.4" stroke-linecap="round" fill="none"/>
<path d="M1470 696.4h0m16.6 0h0m3.1 0h0m-7.9 -2.5h0m16.6 23.3h0m-9.8 6.6h0m-6.7 27.4h0m21.9 -3.3h0m3.3 3.3h0m-19.1 0h0m10.4 3.3h0m-1.6 -6.6h0m-23.8 30.7h0m0.2 -3.3h0m31.2 0h0m-68.3 30.7h0m37.7 -3.3h0m1 0h0m5.7 30.7h0m-5.1 0h0m2.7 -1.6h0m-24.3 -1.7h0m14.7 4.9h0m35.7 25.8h0m-24.1 51.5h0m8.8 3.3h0m7.3 0h0m-2.1 24.1h0m7.9 3.3h0m-15.8 52.3h0m-14.1 29.9h0m2.3 0h0m4.5 24.9h0m9.7 0h0m-10.6 29.9h0m6.8 0h0m-17.5 -3.3h0m6 3.3h0m12 24.1h0m-16.3 0h0m12.6 0h0m0.3 3.3h0m-9.1 0h0m5.2 27.4h0m4.4 2.5h0" stroke="#ca006e" stroke-width="4.4" stroke-linecap="round" fill="none"/>
<path d="M1494 723.8h0m5.4 0h0m-1.9 3.3h0m10.8 -3.3h0m-7.7 30.7h0m-43.8 24.1h0m11.3 0h0m-6 58.1h0m-5.4 -3.3h0m24 1.6h0m-15.3 -1.6h0m8.3 -4.9h0m25.5 32.3h0m7.5 0h0m7.4 0h0m-8.2 29.4h0m17.4 -2h0m-36 24.1h0m-1.6 0h0m10.9 0h0m-10.6 30.7h0m-5.8 0h0m8.2 -3.3h0m2.1 0h0m3.4 6.6h0m-6.4 -3.3h0m-12 24.1h0m17.5 0h0m-8.1 30.7h0m18.8 27.4h0m-10.3 27.4h0m-29.7 27.4h0m0.5 0h0m4.2 27.4h0m19.6 0h0m-16.4 -3.3h0m8.5 3.3h0m4.7 0h0m9.1 -3.3h0m-3.6 0h0m-26 30.7h0m17.9 0h0m-6.6 -2.5h0m6.2 2.5h0m-2.4 -2.5h0m-8.4 2.5h0m30.3 0h0" stroke="#bb0080" stroke-width="4.4" stroke-linecap="round" fill="none"/>
<path d="M1459.9 689h0m-10.2 4.9h0m1.8 7.4h0m0.2 -7.4h0m-4.9 7.4h0m21.4 -7.4h0m2.3 2.5h0m11.5 0h0m-33.2 24.1h0m24.2 0h0m16.8 3.3h0m5.9 0h0m1.6 30.7h0m2.8 0h0m-10.9 20.8h0m-2.4 3.3h0m-30.4 3.3h0m-14 -3.3h0m24 0h0m-6.7 0h0m6 -3.3h0m1.4 6.6h0m39.7 -3.3h0m-34.3 24.1h0m0.6 3.3h0m-6.2 0h0m3.4 3.3h0m-3.9 0h0m0.1 -3.3h0m56.1 3.3h0m-49.9 0h0m-9 25.7h0m-4.1 -4.9h0m-6.9 3.3h0m19.7 25.4h0m20.7 0h0m-10.5 53.5h0m-0.2 3.3h0m-1.7 3.3h0m-3 51.5h0m-3.6 -3.3h0m1.4 -3.3h0m-11.9 34h0m13.7 0h0m-6.2 0h0m19.2 0h0m-16 27.4h0m19.8 0h0m-15.4 -3.3h0m-0.6 3.3h0m5.5 0h0m-14.4 0h0m6.8 0h0m-3.2 27.4h0m8.8 -2.5h0m-13.9 2.5h0m11.5 -4.9h0m5.4 2.4h0m-12.6 33.2h0m11.3 -3.3h0m9.7 27.4h0m-6 0h0m-18 0h0m0.8 0h0m-4.1 0h0m8.8 27.4h0m3 2.5h0m11.4 -5h0" stroke="#802fac" stroke-width="4.4" stroke-linecap="round" fill="none"/>
<path d="M1447.3 691.5h0m17.4 2.4h0m-6.5 23.3h0m27.5 3.3h0m10.2 0h0m-5.6 24.1h0m-24.9 34h0m-5.7 3.3h0m-0.7 -6.6h0m40.8 0h0m-35.3 30.7h0m-5.5 -3.3h0m40.1 0h0m-15.5 0h0m15.9 3.3h0m-1.3 -3.3h0m-36.6 29.1h0m1.3 -1.7h0m8.6 24.8h0m-2.4 0h0m4 5.9h0m12.8 2h0m-10.6 23.4h0m15.9 2h0m-13.7 -2h0m-12 4h0m11.9 -9.9h0m21.9 7.9h0m-13.3 27.4h0m-15 0h0m-0.5 0h0m23.8 20.8h0m-20.2 40.6h0m4.6 -6.6h0m-13.4 -3.3h0m9.1 3.3h0m8.8 -3.3h0m-2 3.3h0m22.4 0h0m-27.6 24.9h0m-1.4 26.6h0m11.7 3.3h0m-5.1 0h0m-10.5 0h0m17.7 0h0m-5.6 3.3h0m6.4 26.6h0m-23.1 24.9h0m9.9 -6.6h0m3.6 30.7h0m-11.5 6.6h0m8.8 -3.3h0m-8.7 0h0m5.7 24.9h0m-0.9 5h0m4 -5h0" stroke="#5857d4" stroke-width="4.4" stroke-linecap="round" fill="none"/>
<path d="M1443.6 698.9h0m22.6 -5h0m-12.3 2.5h0m-10.1 -2.5h0m23.3 2.5h0m-4.8 -4.9h0m3.8 4.9h0m-25.8 0h0m50.6 -4.9h0m-29.1 32.3h0m38.5 -3.3h0m-8.6 0h0m17.9 58.1h0m0 -3.3h0m-42.8 37.3h0m42.3 -6.6h0m-29.1 0h0m20.6 0h0m3.7 3.3h0m14.3 -3.3h0m-64 25.8h0m18.3 31h0m-1.9 -4h0m2.8 9.9h0m-4.3 -15.8h0m-2.7 5.9h0m5.1 4h0m11 -4h0m14.4 29.4h0m7.9 0h0m-22.7 3.9h0m-5.8 23.5h0m20 0h0m-17.5 27.4h0m5.6 0h0m-9.2 30.7h0m10.5 -3.3h0m-24.7 3.3h0m23.4 -3.3h0m-10.6 -6.6h0m20.5 6.6h0m-17.4 58.1h0m13.1 -3.3h0m1 -3.3h0m9.8 3.3h0m-19.1 -3.3h0m5.9 3.3h0m-11.2 0h0m12.1 24.9h0m-1.2 2.5h0m-4.3 0h0m1.3 -7.4h0m-6.6 7.4h0m-3.9 -2.5h0m-13 2.5h0m17 24.1h0m2 30.7h0m-1.7 0h0m-9.7 -6.6h0m4.9 3.3h0m-3.3 3.3h0m3 24.9h0m9.1 0h0m-0.6 0h0m-2.1 2.5h0" stroke="#634fcb" stroke-width="4.4" stroke-linecap="round" fill="none"/>
<path d="M1458.6 696.4h0m-7.7 0h0m19 -2.5h0m-20.3 5h0m-14.7 28.2h0m35.3 -3.3h0m27.8 0h0m13.7 -3.3h0m-67.5 54.8h0m62.9 -3.3h0m-38.6 0h0m-9.6 34h0m2.5 -3.3h0m37.1 6.6h0m-10.5 24.1h0m-17.7 23.5h0m-1.4 7.8h0m11.6 -3.9h0m-6.1 0h0m-18 -2h0m46.3 0h0m-31.6 29.4h0m-13.8 0h0m25.3 -2h0m2.3 0h0m2.5 29.4h0m-2.5 -3.3h0m-0.5 0h0m-5.5 3.3h0m9.6 27.4h0m-8.4 -3.3h0m-24.6 30.7h0m12.1 0h0m15.9 -3.3h0m1.9 3.3h0m-15.9 0h0m12.9 -3.3h0m13.1 3.3h0m-17.9 54.8h0m-16.1 0h0m35.2 0h0m-10.9 -3.3h0m0 -3.3h0m-3.2 3.3h0m-5.4 30.7h0m-0.3 0h0m-4.1 0h0m-8.4 0h0m14.6 24.1h0m-7.4 30.7h0m-6.9 -3.3h0m13.7 0h0m-4.8 -3.3h0m-7.8 31.5h0m-6.7 2.5h0m13.9 4.9h0m4.7 -4.9h0m11.3 0h0" stroke="#6e45c0" stroke-width="4.4" stroke-linecap="round" fill="none"/>
<path d="M1456.4 696.4h0m-13.3 -2.5h0m12.4 7.4h0m-9.4 -4.9h0m3.5 -4.9h0m24 2.4h0m-19.3 2.5h0m45.8 -2.5h0m16.8 2.5h0m9.7 0h0m8.7 -2.5h0m-28.7 0h0m4.4 2.5h0m16.2 -2.5h0m-20.6 2.5h0m13.1 0h0m53.5 0h0m-142.6 27.4h0m2.4 0h0m-7.8 0h0m5.8 -3.3h0m26 -3.3h0m5.3 3.3h0m-12.6 3.3h0m-1.6 0h0m1.7 3.3h0m-3.6 -3.3h0m30.9 0h0m-24.6 -3.3h0m0.8 6.6h0m6.8 -3.3h0m-3.1 0h0m-9.4 0h0m0.9 3.3h0m-8.9 -3.3h0m16.9 0h0m-4.3 0h0m18.3 0h0m-12.5 3.3h0m0.1 -3.3h0m-8 0h0m9 0h0m-1.9 3.3h0m15.3 0h0m-64.3 24.1h0m13.1 0h0m18.7 0h0m1.2 0h0m-29.5 0h0m5.6 0h0m1.6 -3.3h0m46.6 3.3h0m-30.8 0h0m8.2 0h0m-31.4 -3.3h0m5.1 3.3h0m-1.6 0h0m26.9 0h0m-31.9 -3.3h0m40 3.3h0m-31.8 0h0m1.3 0h0m2.4 0h0m16 0h0m-27.3 3.3h0m-2 -6.6h0m58.7 0h0m-14.7 0h0m19.2 3.3h0m-36.2 27.4h0m-6.1 0h0m-8.4 0h0m5.3 0h0m18.5 0h0m-17 0h0m75 0h0m4.8 3.3h0m2 0h0m1.1 -3.3h0m1.1 0h0m-2.1 0h0m-3.9 0h0m-3.5 0h0m-26 27.4h0m-11.2 -3.3h0m-14 3.3h0m50.4 0h0m-15.8 0h0m-2.5 0h0m4.8 0h0m17.1 -6.6h0m-31 6.6h0m23.3 3.3h0m12.2 -3.3h0m-11.5 0h0m6.7 0h0m-7.8 0h0m-13.3 3.3h0m12 -3.3h0m0.2 -3.3h0m26.6 0h0m-30.9 3.3h0m3.3 0h0m22.8 0h0m7.5 0h0m-66.4 22.5h0m48 1.6h0m6 3.3h0m-20 -1.6h0m14.9 3.2h0m4.2 -3.2h0m-5 0h0m2.7 1.6h0m-12.6 1.6h0m6.1 -3.2h0m34.8 0h0m-14.2 1.6h0m-26.8 -1.6h0m-4.1 1.6h0m0.1 -3.3h0m20.2 3.3h0m-80.3 27.4h0m-0.3 -2h0m30.3 0h0m12.3 5.9h0m3.1 -5.9h0m-16.1 2h0m33.2 2h0m-39 0h0m16.1 -9.9h0m-10.2 7.9h0m-5.4 0h0m12.7 3.9h0m-14.8 -3.9h0m36.2 -2h0m-32.2 4h0m9.8 -5.9h0m0 5.9h0m-18.4 -2h0m18.5 -2h0m-10.3 2h0m31.8 0h0m-98.2 27.4h0m37.4 0h0m-18.9 0h0m63.4 0h0m21.7 0h0m-48.2 0h0m10.8 -2h0m3.5 2h0m-9 0h0m29.1 -3.9h0m-5 5.9h0m-0.2 1.9h0m0.3 4h0m30.2 -7.9h0m-46.4 2h0m17.7 0h0m-19.7 -2h0m18.9 0h0m-26.5 0h0m19 0h0m6.8 0h0m24.1 -2h0m-38.1 2h0m2.5 -2h0m11 0h0m8.8 4h0m-25 -4h0m12 2h0m-4.6 0h0m12.7 0h0m-23.2 27.4h0m-11.7 0h0m7.3 0h0m12.6 0h0m-14.2 0h0m-1 -3.3h0m8 3.3h0m-11.4 0h0m18.3 3.3h0m-22.3 -3.3h0m7 0h0m6.3 0h0m8 0h0m20.7 0h0m-17.9 27.4h0m-10.3 0h0m-0.5 -3.3h0m12.6 0h0m-7.3 3.3h0m3.5 0h0m5.8 0h0m-17.5 0h0m-1.1 0h0m17.1 27.4h0m34.7 -3.3h0m-9.2 3.3h0m5.4 0h0m-9.6 0h0m1.1 -3.3h0m4.7 3.3h0m-4.4 -3.3h0m17.5 3.3h0m5.3 0h0m-42.9 27.4h0m-9.2 0h0m2 0h0m5.8 0h0m-5 -4.9h0m1.2 2.4h0m-0.4 2.5h0m2.2 -2.5h0m-5.1 0h0m7.5 0h0m-1.7 0h0m7.5 5h0m-11.2 -2.5h0m-0.1 2.5h0m-4.4 -5h0m6.6 2.5h0m6.4 -2.5h0m-5.2 5h0m-6.5 -2.5h0m-2.9 0h0m19.4 -2.5h0m-9.8 7.4h0m1.9 -4.9h0m-2.2 0h0m4.3 0h0m2 0h0m-15.9 -2.5h0m43.8 2.5h0m-8.7 -2.5h0m24.9 2.5h0m-43.4 27.4h0m-13.9 -3.3h0m4.1 0h0m11.7 0h0m2.5 3.3h0m16 0h0m-10 27.4h0m-14 -2.5h0m-9.6 2.5h0m5.9 -2.5h0m6.9 2.5h0m-11.9 0h0m10.7 0h0m-1.8 0h0m-1.4 -2.5h0m7.9 5h0m-0.2 -5h0m10.4 29.9h0m15.7 0h0m-14.7 0h0m-1.6 0h0m3 0h0m-29.9 27.4h0m-2.5 0h0m1.9 0h0m-0.7 0h0m4.1 0h0m-2.3 0h0m-3.5 0h0m5.4 0h0m10.1 6.6h0m-17.8 20.8h0m7 0h0m4.8 -2.5h0" stroke="#4a8af5" stroke-width="4.4" stroke-linecap="round" fill="none"/>
<path d="M1490.9 698.9h0m18.8 21.6h0m-2.6 3.3h0m5.8 -3.3h0m9.7 3.3h0m-23.9 27.4h0m-4.2 -3.3h0m-22.5 30.7h0m3.1 0h0m-35.4 27.4h0m3.1 0h0m-3.9 0h0m7.8 -3.3h0m17.4 37.3h0m-5.8 -5h0m-1.1 -3.2h0m52.4 27h0m-20.8 53.5h0m-3.4 3.3h0m-8.8 3.3h0m21.7 -3.3h0m2.9 27.4h0m-11.4 -3.3h0m-31.1 30.7h0m-1.2 0h0m12.8 -3.3h0m-6.5 58.1h0m-8.9 0h0m0.4 0h0m5.3 0h0m36.1 3.3h0m-13.9 48.2h0m10.9 30.7h0m-7.5 27.4h0" stroke="#da0059" stroke-width="4.4" stroke-linecap="round" fill="none"/>
<path d="M1460.4 696.4h0m31.6 0h0m-6.5 -2.5h0m12.2 26.6h0m12.7 6.6h0m-4.9 -6.6h0m6.2 3.3h0m-1.2 -3.3h0m-16.8 34h0m1.2 20.8h0m-44.7 30.7h0m26.2 -3.3h0m-5.5 3.3h0m5.1 25.8h0m1.4 1.6h0m-8.2 -1.6h0m28.7 32.9h0m-6.5 -5.9h0m-13.6 53.5h0m12.1 34h0m4.1 -3.3h0m-14.1 54.8h0m15.5 0h0m-8.6 -2.5h0m-36.7 29.9h0m-2 0h0m25.4 51.5h0m-8 3.3h0m12.4 0h0m-7 -3.3h0m2.2 0h0m1.4 3.3h0m0.7 -3.3h0m0.7 55.6h0" stroke="#d6005f" stroke-width="4.4" stroke-linecap="round" fill="none"/>
<path d="M1500 723.8h0m-0.3 24.1h0m4.7 -3.3h0m-32.9 30.7h0m23.1 3.3h0m-48.1 27.4h0m-7.1 -3.3h0m31 0h0m28.3 54.2h0m30.1 31.3h0m-48.4 30.7h0m3.9 -3.3h0m5.6 0h0m-12.7 0h0m21.4 27.4h0m-12.4 -3.3h0m8.5 3.3h0m0.1 -3.3h0m-12.2 3.3h0m-1.5 0h0m9.7 0h0m-2.7 54.8h0m-31.6 24.1h0m-8.3 0h0m0 3.3h0m38.5 0h0m9.3 27.4h0m-22.9 30.7h0m1.2 -3.3h0m11.7 0h0m-19.3 0h0m14.8 27.4h0m8.3 0h0m-20.5 27.4h0m10.5 -2.5h0m12.1 2.5h0m-1 0h0" stroke="#d10065" stroke-width="4.4" stroke-linecap="round" fill="none"/>
<path d="M1451.6 698.9h0m3.9 0h0m2.1 -2.5h0m-7.6 20.8h0m32.8 6.6h0m8.8 27.4h0m2.4 0h0m-3.3 -3.3h0m-41.7 30.7h0m39.6 0h0m-11.8 0h0m-10.3 20.8h0m-0.9 6.6h0m-14.1 27.4h0m28.2 -3.3h0m-9.2 -1.6h0m3.2 1.6h0m0.9 1.7h0m21.5 27h0m-21 31.4h0m2 3.9h0m-13.8 -7.9h0m31.8 29.4h0m-1.9 -3.3h0m-0.4 3.3h0m0.8 27.4h0m-11.3 -3.3h0m8 3.3h0m5 0h0m-7 3.3h0m0.7 -6.6h0m-3.4 3.3h0m-0.9 0h0m-23.1 27.4h0m9.7 -3.3h0m-2.7 6.6h0m-5.2 24.1h0m22.9 2.5h0m10.9 28.2h0m-15.5 -3.3h0m11.3 0h0m-3.3 0h0m-4.7 27.4h0m-13.6 -4.9h0m-0.4 32.3h0m0.7 -3.3h0m-2.3 3.3h0m2.8 0h0m-3.6 0h0m3.5 27.4h0m12.4 0h0m5.2 -3.3h0m-25.1 28.2h0m24.5 5h0m-4 -2.5h0m-12.2 -2.5h0m11.6 2.5h0m-7.9 2.5h0m-3.5 4.9h0m5.7 -7.4h0m9.4 2.5h0" stroke="#8f169e" stroke-width="4.4" stroke-linecap="round" fill="none"/>
<path d="M1458 693.9h0m26.5 5h0m0.3 -2.5h0m11 30.7h0m4.5 0h0m0.5 -3.3h0m-4.7 0h0m8.1 27.4h0m-3.7 0h0m-0.3 0h0m-7.5 -3.3h0m-5.8 3.3h0m-15.1 34h0m1.3 20.8h0m-9 19.2h0m9.7 8.2h0m-10.9 -4.9h0m9.6 6.5h0m38.4 23.8h0m-0.9 2h0m-10 25.4h0m-9.8 29.4h0m-20.2 0h0m4.7 -3.3h0m19.2 6.6h0m0 -6.6h0m-0.3 -3.3h0m-4.4 37.3h0m-0.3 -3.3h0m7.3 0h0m-31.1 27.4h0m3.2 -3.3h0m14.4 3.3h0m2.5 24.9h0m5.3 2.5h0m-5 27.4h0m18.2 -3.3h0m-14.4 30.7h0m-16.8 30.7h0m2.6 -3.3h0m-2.4 0h0m12.4 27.4h0m-7.2 24.9h0m1.4 2.5h0m7.3 0h0m-9.7 0h0" stroke="#c30077" stroke-width="4.4" stroke-linecap="round" fill="none"/>
<path d="M1447 696.4h0m6.6 -2.5h0m-18.7 29.9h0m32.9 0h0m-4.2 27.4h0m3.3 0h0m-2.5 0h0m-6.8 0h0m-24.9 0h0m5.7 -3.3h0m25.3 0h0m-15.1 3.3h0m16.3 -3.3h0m-41 0h0m67.1 3.3h0m-58.4 27.4h0m-19 0h0m31.5 0h0m33.6 -3.3h0m33.2 6.6h0m-51.5 24.1h0m47.4 -3.3h0m-19.4 0h0m-9 3.3h0m26.6 -3.3h0m0 3.3h0m-18.6 0h0m-19.2 25.8h0m70.4 1.6h0m-20.3 0h0m3.5 -1.6h0m12.7 1.6h0m-34.8 0h0m3.9 0h0m-31 33.3h0m-3 -3.9h0m1.4 -5.9h0m-44.7 31.3h0m73.4 0h0m-29.7 -2h0m19.6 4h0m-7.5 0h0m-18.8 25.4h0m7.8 27.4h0m2.7 3.3h0m-4.5 -3.3h0m-9.2 0h0m5.2 0h0m8.2 0h0m5.8 24.1h0m-12.3 28.2h0m0.2 2.5h0m5.7 0h0m-5.9 27.4h0m6.1 0h0m9.7 0h0m-0.3 -6.6h0m-15 3.3h0m3.4 33.2h0m12.5 -2.5h0m-3.7 -2.5h0m3.1 29.9h0m18.6 -3.3h0m5.8 3.3h0m-33.6 27.4h0m-5.4 -3.3h0m-2.1 33.2h0m16.7 -2.5h0" stroke="#4075ed" stroke-width="4.4" stroke-linecap="round" fill="none"/>
<line x1="1305.9" y1="1162.5" x2="1589.5" y2="1162.5" stroke="#555" stroke-width="1.3"/>
<line x1="1317.4" y1="1162.5" x2="1317.4" y2="1166.3" stroke="#555" stroke-width="1"/>
<text transform="translate(1317.4 1176.6)" style="font-family:'DejaVu Sans',sans-serif;font-size:10.1px" text-anchor="middle" fill="#333">−0.3</text>
<line x1="1370.7" y1="1162.5" x2="1370.7" y2="1166.3" stroke="#555" stroke-width="1"/>
<text transform="translate(1370.7 1176.6)" style="font-family:'DejaVu Sans',sans-serif;font-size:10.1px" text-anchor="middle" fill="#333">−0.2</text>
<line x1="1424" y1="1162.5" x2="1424" y2="1166.3" stroke="#555" stroke-width="1"/>
<text transform="translate(1424 1176.6)" style="font-family:'DejaVu Sans',sans-serif;font-size:10.1px" text-anchor="middle" fill="#333">−0.1</text>
<line x1="1477.3" y1="1162.5" x2="1477.3" y2="1166.3" stroke="#555" stroke-width="1"/>
<text transform="translate(1477.3 1176.6)" style="font-family:'DejaVu Sans',sans-serif;font-size:10.1px" text-anchor="middle" fill="#333">0.0</text>
<line x1="1530.6" y1="1162.5" x2="1530.6" y2="1166.3" stroke="#555" stroke-width="1"/>
<text transform="translate(1530.6 1176.6)" style="font-family:'DejaVu Sans',sans-serif;font-size:10.1px" text-anchor="middle" fill="#333">0.1</text>
<line x1="1583.9" y1="1162.5" x2="1583.9" y2="1166.3" stroke="#555" stroke-width="1"/>
<text transform="translate(1583.9 1176.6)" style="font-family:'DejaVu Sans',sans-serif;font-size:10.1px" text-anchor="middle" fill="#333">0.2</text>
<text transform="translate(1447.7 1191.4)" style="font-family:'DejaVu Sans',sans-serif;font-size:11.9px" text-anchor="middle" textLength="223.7" lengthAdjust="spacingAndGlyphs">SHAP value (impact on model output)</text>
<defs><linearGradient id="cbg1606" x1="0" y1="0" x2="0" y2="1"><stop offset="0.00" stop-color="#e2004e"/><stop offset="0.15" stop-color="#d40062"/><stop offset="0.28" stop-color="#be007d"/><stop offset="0.40" stop-color="#9e009a"/><stop offset="0.48" stop-color="#8a1ea0"/><stop offset="0.58" stop-color="#7a3ab4"/><stop offset="0.68" stop-color="#6052ce"/><stop offset="0.78" stop-color="#4264e2"/><stop offset="0.88" stop-color="#4076ee"/><stop offset="1.00" stop-color="#4a8af5"/></linearGradient></defs>
<rect x="1606" y="674.8" width="7.1" height="486.5" fill="url(#cbg1606)" stroke="none" stroke-width="1"/>
<text transform="translate(1617.1 1165.3)" style="font-family:'DejaVu Sans',sans-serif;font-size:11px">Low</text>
<text transform="translate(1644.3 918) rotate(-90)" style="font-family:'DejaVu Sans',sans-serif;font-size:11px;white-space:pre" text-anchor="middle" xml:space="preserve" dominant-baseline="central">Feature   alue</text>
<line x1="108.6" y1="1302.2" x2="429.3" y2="1302.2" stroke="#f2eeee" stroke-width="1.1"/>
<line x1="108.6" y1="1368" x2="429.3" y2="1368" stroke="#f2eeee" stroke-width="1.1"/>
<line x1="108.6" y1="1434" x2="429.3" y2="1434" stroke="#f2eeee" stroke-width="1.1"/>
<line x1="108.6" y1="1499.8" x2="429.3" y2="1499.8" stroke="#f2eeee" stroke-width="1.1"/>
<line x1="108.6" y1="1269.2" x2="429.3" y2="1269.2" stroke="#e8e3e3" stroke-width="1.4"/>
<line x1="108.6" y1="1335.1" x2="429.3" y2="1335.1" stroke="#e8e3e3" stroke-width="1.4"/>
<line x1="108.6" y1="1401" x2="429.3" y2="1401" stroke="#e8e3e3" stroke-width="1.4"/>
<line x1="108.6" y1="1466.9" x2="429.3" y2="1466.9" stroke="#e8e3e3" stroke-width="1.4"/>
<line x1="197.3" y1="1239.6" x2="197.3" y2="1521.6" stroke="#ebe6e6" stroke-width="1.4"/>
<line x1="342.3" y1="1239.6" x2="342.3" y2="1521.6" stroke="#ebe6e6" stroke-width="1.4"/>
<line x1="197.3" y1="1338.4" x2="197.3" y2="1387" stroke="#333" stroke-width="1"/>
<line x1="197.3" y1="1412.2" x2="197.3" y2="1468.5" stroke="#333" stroke-width="1"/>
<rect x="142.8" y="1387" width="109" height="25.2" fill="#9b5cb0" stroke="#333" stroke-width="1"/>
<line x1="142.8" y1="1398.7" x2="251.8" y2="1398.7" stroke="#222" stroke-width="2"/>
<line x1="342.3" y1="1333.5" x2="342.3" y2="1390.6" stroke="#333" stroke-width="1"/>
<line x1="342.3" y1="1417.1" x2="342.3" y2="1463.6" stroke="#333" stroke-width="1"/>
<rect x="287.8" y="1390.6" width="109" height="26.6" fill="#5b80bd" stroke="#333" stroke-width="1"/>
<line x1="287.8" y1="1403" x2="396.8" y2="1403" stroke="#222" stroke-width="2"/>
<path d="M225.6 1398.5h0m-19.5 -31.4h0m-1.1 3.2h0m-37.6 41.2h0m37.7 -5.1h0m11.5 5.5h0m-25.7 -26.1h0m-19.2 14.9h0m3.5 -19.1h0m-3.2 61.6h0m20.2 -81h0m24.1 39.4h0m-45.5 -18.4h0m20.8 19.4h0m-0.3 5.7h0m-0.1 -19.9h0m7.7 -8.6h0m0.5 24.4h0m-19.9 -1.2h0m35.5 -19.9h0m-16.7 36.9h0m-9.9 15.3h0m36.7 -45.3h0m-15.4 25.3h0m-32.6 29.6h0m48.3 -26.2h0m-23.4 -8.3h0m-14.3 17.3h0m-6.2 7.1h0m-10.1 -36.3h0m10.5 -20.4h0m2.7 26.8h0m3.3 12.1h0m38.7 -26.8h0m-23.8 -7.9h0m-24 24.2h0m10.7 -20.1h0m3.7 -11.8h0m-20.9 29.7h0m23.1 14.4h0m2.4 -27.6h0m24.1 2.4h0m-28.6 -20.2h0m15.3 56.5h0m-0.5 -14.8h0m-30.3 4.2h0m23.5 21.3h0m-7.1 -44.1h0m-17.1 -9.6h0m-8.4 30.1h0m58.4 -50.4h0m-54.4 13.4h0m47.8 4.6h0m-31.2 5.3h0m-17.1 -13.1h0m53 54.3h0m-18.3 -46.2h0m-15.3 0.3h0m26 56.2h0m-7.8 -50.2h0m-17.6 14.2h0m18.2 -24.5h0m1.2 29h0m-34 -10h0m32.7 -8.6h0m12 28.9h0m-13.7 -34.9h0m6.7 16.6h0m11.4 -14.1h0m-11.6 24h0m-19.6 -38.1h0m5.5 11.4h0m12.3 18.6h0m-8.1 -19.2h0m-33.6 -14.9h0m-0.7 -12.6h0m12.8 79.8h0m32.7 -58.3h0m-35.8 9.9h0m5.8 13.3h0m30.3 21.6h0m-41.7 -53.7h0m9.1 59.8h0m-1.4 -43.4h0m-12.6 -17.4h0m41.8 68.8h0m-25.4 -30.8h0m5.3 23.9h0m-4.5 -36.8h0m-16.1 -30.2h0m46.8 -12.1h0m-42.6 90.2h0m9 -28.5h0m26.1 -30.3h0m-22.3 -20.8h0m9.5 27.5h0m-10.6 27.7h0m13.8 -24.8h0m-14.6 7.4h0m8.4 4.5h0m-26.9 12.6h0m0.4 -26.6h0m29.5 1.8h0m18.6 9.6h0m10.9 3h0m-11.7 25.2h0m-16.7 -18.9h0m7.2 -40.2h0m1.6 33.2h0m3.5 29.6h0m15.7 -65.8h0m-38.9 19.1h0m6.2 -37.5h0m19.9 48.6h0m-33.7 12.4h0m-7.2 23.4h0m48.1 -65.8h0m-52.9 50.9h0m52.6 -4.1h0m1.3 -29.5h0m-45 33.9h0m35.4 -13.3h0m-28 1.9h0m-1 -12.9h0m42.7 -21.4h0m-5.8 25.4h0m-7.3 -21.2h0m-19.7 31.7h0m33 -17.7h0m-25 58.5h0m24.6 -16.3h0m-15.5 -53.3h0m-40.5 32.9h0m45.1 -27.8h0m2.4 0.9h0m2.6 -18.5h0m-15.6 12.1h0m-35 -4.9h0m49.7 26.8h0m-26.7 13.9h0m-13.5 0.8h0m0.7 -5.8h0m-0.4 15.3h0m36.8 -13.9h0m-44.5 -10.8h0m50.7 -8.1h0m-54.1 14h0m42.4 37.6h0m-29.6 -43.9h0m17.1 -7.1h0m-20.3 -20.4h0m43.4 12h0m-44.6 29h0m18.6 1.9h0m8.5 -64.8h0m-9.3 29.7h0m-14.2 -25.5h0m4.4 -7.1h0m38.7 70h0m-48.6 -28.6h0m-6.4 -1.7h0m53.4 -2.4h0m-1.3 0.4h0m-12.1 8.1h0m-12.8 0.6h0m28.8 39.8h0m-32.3 -31.7h0m-24 13.8h0m25.3 -20.7h0m5.7 14h0m1.1 -25.7h0m20.4 -4.8h0m-49.2 12.1h0m47.1 -0.1h0m-19.9 5.2h0m12.6 12.9h0m-19.1 -6.7h0m-7 7.8h0m2.3 -21h0m-3.6 8.9h0m10.7 -13.4h0m8.7 45.3h0m14 -52.6h0m-39.4 39.1h0m16.5 -0.6h0m4.9 -12.8h0m17.2 8.7h0m-6.5 -20.3h0m-5.2 20.6h0m3.1 11.7h0m-13.6 -5.3h0m21.5 -51.2h0m1.8 30.1h0m-16.2 28.8h0m-27 -27.9h0m18.6 37.1h0m-9.7 -79.4h0m-4.4 78.6h0m6.3 -47.5h0m31.4 -1.5h0m-28.3 47.3h0m4.9 -41.6h0m-2.8 -16.5h0m-11.9 12.6h0m23.2 4.9h0m-9.3 -16.4h0m31.2 18.7h0m-19.1 -4.1h0m21.6 11h0m-7.2 -18h0m-22.1 37.3h0m-28.4 -41.1h0m11.8 30.7h0m-5.6 13.9h0m37.1 -34.5h0m-36 -31.5h0m30.4 17.3h0m-19.3 35.1h0m9.4 -28.8h0m16.6 27.3h0m-27.5 -7.8h0m-7.6 -5.1h0m7 57.1h0m39.3 -59.5h0m-23.4 29h0m-16 -7.9h0m-8.5 18.4h0m-4.6 1h0m15.9 -13.6h0m16.8 -41.9h0m-9.4 -20h0m21.3 40.2h0m11 -26.5h0m-25.5 32.1h0m-13.5 39.1h0m27 -48.9h0m-42.4 -7h0m40.3 20.7h0m7.3 -17.3h0m-6.3 -6.4h0m-40.7 34h0m29 14.6h0m13.2 -29.8h0m-23.4 -0.2h0m25.9 3.3h0m-40.6 -31.8h0m21.7 -17.5h0m1.8 50.8h0m13.8 -26.4h0m-22.6 -5.8h0m-9.2 5.4h0m27.2 -7.9h0m-35.8 34.1h0m15.2 -26.8h0m6 -30.5h0m19.2 29h0m-21.8 33.8h0m8.2 -29.2h0m7 -15.5h0m-0.2 21.2h0m17.3 22.1h0m-30 -50h0m6.5 66.3h0m-33.1 -41.6h0m10.3 12.3h0m3.4 28h0m-2.2 -57.3h0m18.4 20.7h0m-19.1 35.9h0m22.2 -41.9h0m15.4 24.5h0m-45.2 34.9h0m10.2 -28.8h0m15.2 -22.6h0m-27 -8.8h0m5.8 11.1h0m25.9 2.9h0m-10.5 -10.1h0m30.2 16.2h0m-20 -33h0m11.2 24.4h0m-24.6 -3.4h0m1.8 -5.9h0m28.6 37.9h0m-14.3 -8.2h0m18 -53.1h0m-39.8 28.3h0m-8.2 14.7h0m33.7 -14.8h0m-33.1 19.5h0m-2.9 -18.1h0m18.8 22.4h0m17.8 -22.3h0m-19.6 44h0m23.6 -69h0m-17.9 43.7h0m-10.2 25.4h0m15 -32.2h0m4.2 3.5h0m-27.3 -12.5h0m26.5 30.8h0m-25.4 -36.6h0m48 39.8h0m-26.2 -38.4h0m-19.6 15.4h0m-9.7 -11.9h0m10.3 47.5h0m6.2 -15.6h0m15.3 -38.3h0m5.4 11.9h0m2.9 -39.7h0m-16.2 55.5h0m11.3 -20.9h0m-4.6 22.3h0m-15.4 3.3h0m-4.7 -20.6h0m10.9 0.2h0m17.4 -21.1h0m-33.3 17h0m30.1 21h0m-37 -23h0m9.8 -25.1h0m29.2 96.2h0m8.3 -62.7h0m-2.5 17.4h0m-5 -35.5h0m-25.8 18.9h0m44.1 -50h0m-23.2 23.8h0m18.5 0.9h0m1.6 16.7h0m-41.9 5.4h0m43.9 -9h0m-53.3 -22.7h0m33.3 18.1h0m-22.8 21h0m-9.8 -38.6h0m28.6 25.7h0m-21.4 6.4h0m34.4 16.9h0m-19.5 -5.3h0m-11.5 1.6h0m-15.5 51.2h0m40.8 -90.4h0m-3.3 10.7h0m10.1 18.5h0m-25.3 -29.9h0m31.9 14.5h0m-53.5 1.5h0m53.7 67.6h0m-9.2 -53.2h0m-39.8 -18.2h0m53.1 -25.5h0m-53.8 -5.5h0m39.7 9.8h0m-30.4 61.4h0m26.8 24.6h0m8.7 -65.7h0m-43.1 12.9h0m12.4 -22.2h0m34.2 25.8h0m-25.1 -8.2h0m-19.4 40.8h0m-4 -46.2h0m2.2 21.2h0m-1.1 -18.9h0m15.1 -2.5h0m25.2 13.6h0m-19.4 -10.3h0m-21.3 7.9h0m15.3 -18.4h0m7.8 6.1h0m-2.1 24.9h0m11.6 1h0m2.3 -55.3h0m4.1 43.8h0m-12.7 -26h0m-30.4 14.2h0m44.4 22.7h0m0.8 4.4h0m-3.2 -20.6h0m-17.5 -3.2h0m26.9 -8.5h0m-47.4 44.6h0m38.6 -15.9h0m-8.6 -11.9h0m6.2 -40.2h0m-38 93.9h0m54.1 -66.4h0m-56.3 23.3h0m8.8 -23.1h0m20.4 21.9h0m3.4 -20.3h0m-23.7 -28.5h0m6.5 28.7h0m37.7 -1.8h0m-35.6 1.4h0m7.4 26.7h0m-20 -30.7h0m27.4 17.8h0m8 14.3h0m2.4 -18.3h0m-30.5 4.4h0m8.2 -23.2h0m17.1 18.9h0m19.1 11.5h0m-12.2 -47.1h0m-33 11.1h0m-9.3 -6.7h0m15.8 15.7h0m12.1 17.1h0m-15.5 7.3h0m31.1 -3.3h0m-32 -29.1h0m-8 19.8h0m28.7 37.8h0m9.5 -34.2h0m-33.3 32.6h0m7.7 -37.5h0m-4.4 32.5h0m-13.9 1.4h0m39.3 -32.8h0m-38 4.7h0m33.7 37.6h0m0.9 -57.2h0m-5.8 -33.6h0m-29.3 86.5h0m-0.3 -78.3h0m28.7 59.5h0m-1.5 -4.6h0m-28.5 -7.5h0m-0.3 30h0m45.8 -65.1h0m-26.9 19.2h0m23.5 29.5h0m-31.1 -11.3h0m4 29.4h0m38 -27.7h0m-42 -30.5h0m12.6 62.9h0m5.4 -30.3h0m12.8 -13.8h0m-23.5 -21.4h0m19.8 -7.2h0m-25.7 42.9h0m27.6 6.7h0m-39.6 -28.2h0m9.9 19.3h0m-7.5 -1.3h0m2.4 -33h0m38.8 -14.4h0m-17.1 33.7h0m19.2 10.9h0m11.5 -18.1h0m-47.3 58.3h0m34.9 -44.3h0m12.2 24.7h0m-39.7 -81.8h0m-14 39.6h0m23.1 13.7h0m4.9 8h0m8.7 55h0m-7.1 -76.6h0m-16.1 -21.7h0m-8.4 55.9h0m10.7 -33.5h0m7.7 -0.9h0m-17 53.9h0m6.8 -58.9h0m35.1 -10h0m-27.6 26.7h0m-17.9 7h0m32.4 -20.2h0m-18.6 55.2h0m9.6 -38.8h0m-7.3 -22.8h0m-16.7 54.5h0m37.3 -53h0m-10.1 33.5h0m25.2 39.4h0m-59 -46.8h0m34.3 20.5h0m-9.1 -30.6h0m0.6 35.4h0m17.3 -52.8h0m-28.9 42.5h0m9.5 -26h0m-16 22.5h0m26 -6.4h0m-7.8 -35.9h0m-23.6 23.1h0m11.2 14.5h0m9.9 20.3h0m8.2 -57.2h0m-26.3 10.2h0m31.6 25.1h0m11.9 -13.5h0m-29.1 30.2h0m-16 -0.4h0m4.8 -4.4h0m37 -28h0m-13.9 1.3h0m-23.7 24.7h0m1.9 -35.2h0m39.9 -1.1h0m-9.2 14.6h0m0.9 -20.6h0m-33.3 31.5h0m51 -4.2h0m-44.2 -13.9h0m6 12.1h0m-7.2 -19.7h0m42.6 48.6h0m-18.7 -63.6h0m-4.7 52.4h0m-8.3 -14.6h0m18.1 28.7h0m-14.9 -46.9h0m-0.4 -16h0m-18.6 4.8h0m168.6 7.5h0m-20.3 36.8h0m43.8 -5.1h0m-15.9 -22.3h0m0.7 16.4h0m-4.5 -11.6h0m-36.4 29.3h0m33 -19.7h0m10.2 23.1h0m-3.4 11.1h0m-27 -78.6h0m15.6 30.9h0m14.9 -11h0m10.7 44.8h0m-40.3 -22.3h0m20.6 4.2h0m-30.3 28.8h0m6.4 -46.6h0m12.3 30.1h0m-21.8 -12.4h0m20.3 31.2h0m30.9 -59.5h0m-34.1 5.5h0m-9 8.7h0m-2.8 30.9h0m26.8 -8.8h0m-9 -41.7h0m13.5 35.5h0m-13.5 -12.9h0m7.5 3h0m-7.3 29.9h0m-7 -62.7h0m-16.7 83.2h0m16.4 -52.4h0m27.5 7.4h0m-23.8 36.3h0m25.6 -46.2h0m-43.8 -4.5h0m39.7 11.1h0m7.3 20.9h0m-34.9 -30.3h0m8.2 -15.8h0m-7 21.2h0m10.4 -35.6h0m28.9 20.5h0m-13.3 2.1h0m-35.5 -14.7h0m53.5 48.6h0m-19 -3.3h0m8 -24.6h0m1.6 -0.1h0m4.8 -23.5h0m-8.6 8.6h0m-30.4 23h0m28.6 -1h0m-4.7 11.7h0m-15.1 2.1h0m27.2 2h0m-51.5 -32.2h0m29.6 32.6h0m22.8 -2.7h0m-21.2 -12.3h0m-9 15.9h0m-16.4 -6.7h0m4.9 46.3h0m4.5 -60.7h0m43.7 16.1h0m-26.7 -11.9h0m-14.5 -4.2h0m34.8 52.6h0m-16.6 -101.1h0m-18.9 53.1h0m21.6 -0.7h0m-37.8 46.4h0m29.8 -57.4h0m0.3 4.8h0m-27.5 18.1h0m35.5 -14.6h0m-38.2 -24.8h0m10.2 38.2h0m32.9 13.3h0m-20.4 -53.2h0m19.1 25.1h0m-10.9 10.4h0m-4.5 -58.8h0m7.8 50.7h0m-34.4 7.9h0m-1 -10.5h0m56.1 15.9h0m-14.9 -14.6h0m-30.4 1.5h0m30.6 19.2h0m14 -9.4h0m-5.4 -13.5h0m-11.7 -1.7h0m-7 -4.7h0m5.9 -4.7h0m-26.5 12.7h0m15.9 -6.3h0m25.7 21.3h0m-30.7 -2.9h0m-5.7 -30.6h0m15.1 71.5h0m17.6 -55.6h0m4.1 52.9h0m7 -79.4h0m-2 77.3h0m-51.4 -50.1h0m20.8 -29.8h0m5.8 3.4h0m7.6 56.9h0m-34 9.5h0m15.1 3.3h0m0.8 -51h0m13.8 26.4h0m-14.3 -9.3h0m-3.2 -5.9h0m-7.7 -3.6h0m28.6 -2.9h0m-21.3 9.8h0m-6.2 41.1h0m42.4 -72.6h0m-31.6 5.3h0m-5.9 43.7h0m-11.8 -9.6h0m25.8 7.7h0m-10.7 -3.6h0m14.6 -8.2h0m-16.4 6.1h0m9.5 19.4h0m-20.5 -46.1h0m-4 33.9h0m52.3 -45.6h0m-11.9 35.5h0m-18.9 13.1h0m-13.2 -27.1h0m27.8 -10.7h0m-3.6 43h0m1 -15.2h0m21.5 -40.6h0m-37.5 57.6h0m34.5 -3.6h0m-29.7 -24.1h0m32.5 32.8h0m-0.2 29.6h0m-33.4 -18.9h0m5 -48.4h0m23.8 -6.7h0m-0.1 1.5h0m-47.9 4.8h0m24.6 38.5h0m-24.4 -45.3h0m44.9 -11.3h0m-34.6 43.9h0m3.6 -38.9h0m-0.6 31.1h0m23.9 -13.3h0m-23.7 -4.2h0m7.1 44h0m25.9 -70h0m-26 55h0m28.7 -17.9h0m-0.1 9.3h0m-27.7 -22.6h0m-13.4 0.7h0m42.4 9.7h0m-22.8 -33h0m-12.2 26.8h0m-17.7 16.2h0m24.2 -2.8h0m-25.7 0.2h0m35.5 13.7h0m-13.9 -0.2h0m-6.2 -34.5h0m-4.3 -10.7h0m32.2 -20.2h0m8.6 17.9h0m-53.5 43.9h0m31.3 -22.9h0m-27.1 38.4h0m-2.6 -49.7h0m56.9 8.9h0m-40.2 23h0m13.2 -12h0m22.2 3.4h0m-15.7 9.2h0m-17.5 -46.5h0m21.1 11.8h0m4.9 -5.5h0m-8.3 21.2h0m-15.5 12.1h0m22.1 -60.3h0m-22.9 60.7h0m-0.7 -18.1h0m-4.8 12.3h0m41.5 -16.9h0m-51.2 15.2h0m-4 -15.2h0m14.3 44.1h0m-10.1 -27.7h0m14.6 -34.9h0m34.3 57.1h0m0.6 -8.7h0m-43.2 -48.4h0m4 22.9h0m6.4 -15.7h0m32.9 78.4h0m-41.1 -56.5h0m29.9 33.7h0m-7.5 2.8h0m14.5 -42.8h0m-36.2 -18.3h0m39.1 63.6h0m4.1 -9.2h0m-36 -12.4h0m32.3 -10.9h0m-12.2 28.6h0m-30.4 -85.3h0m13 39.8h0m-11.4 22.5h0m39.1 3.8h0m-40.4 -67.6h0m38.9 2h0m-36.1 64.9h0m36.9 -19.8h0m-5.9 -21.7h0m-3.6 58.1h0m-27.9 -14.2h0m26.9 -46.1h0m-5.4 48.7h0m-16.7 -6.2h0m38.3 21.8h0m-1.8 -13.9h0m-18.2 -34.4h0m15.3 35.9h0m-34.4 11.6h0m-9.9 -16.2h0m9.9 -57.1h0m14 38h0m20 17.6h0m-3.8 -17h0m-35.8 -6.9h0m34.6 7.7h0m4 46h0m-18.1 -50.2h0m-5.3 12.3h0m-1.5 -25.2h0m-16.4 52.4h0m3.7 -57.3h0m14.9 36.9h0m0.3 28.9h0m1.2 -72.4h0m-5.1 44.1h0m24.2 -21.3h0m-41 12.8h0m0.7 -29.9h0m45.2 -0.3h0m-20.8 -0.2h0m2 9.6h0m-8.8 55.6h0m-2.6 1.7h0m-4.7 -45h0m11 27.6h0m17.6 -33.9h0m-47 7.2h0m53.9 37.7h0m-45.1 -9h0m18 2.4h0m20.2 -5.9h0m-41.6 -16.3h0m31 -21.2h0m-2.6 -15.7h0m-3.2 55.2h0m16.6 -9.7h0m-42 -50.7h0m5.4 15.8h0m41.5 15.8h0m2.3 61.8h0m-49.5 -32.1h0m32.7 -27.9h0m-34.3 17.9h0m50.2 -61.7h0m0.5 45.4h0m-15.1 -4.6h0m-12.7 33.1h0m10.3 -1.3h0m-5.5 -9h0m15.9 -1h0m0.5 -9.4h0m1.7 -14.5h0m-1.4 3.2h0m-37 -18.3h0m-1 56.4h0m29.5 -37.4h0m-8.7 -0.7h0m25 -32.3h0m-54.7 43.3h0m20.8 -13.1h0m27.9 27.4h0m-25.2 -29.7h0m-18.9 0.6h0m11.6 24.6h0m38.1 -4.5h0m-11.4 -9.8h0m4.1 -14.7h0m-34.8 41.5h0m32.5 -48.8h0m-47.8 29.2h0m12.9 -53.5h0m24.3 10.5h0m2 44.7h0m-12.2 5.4h0m30.2 -74h0m-35.3 43.8h0m-5.9 1.5h0m-4.1 23.8h0m32.6 -7.1h0m4.2 -22.4h0m0.5 4.5h0m-12.2 34.7h0m-35.2 -49.7h0m22.8 22.4h0m-14.9 30.2h0m7 -46.7h0m-15.3 28.1h0m39.9 -23h0m-26.6 32.1h0m18.8 -22h0m23.9 47.6h0m-43.6 -47.8h0m3.1 45.3h0m-1.8 -40.3h0m-11.4 64.7h0m30 -59.3h0m-0.9 -18.8h0m2.8 5.7h0m21.9 -17.1h0m-23.2 54.4h0m2 -63.3h0m16.8 -0.9h0m-0.9 67.3h0m-21.1 -9.7h0m4.9 -5.4h0m-14.3 -13.1h0m7.9 -5h0m-0.9 63.5h0m2.8 -73.3h0m-17.7 20.3h0m21.9 18.3h0m-19 -47.1h0m1.6 31h0m-0.2 -35.5h0m28.7 14.5h0m-42.9 20.4h0m55.5 -35.7h0m-49.8 8.7h0m27.2 31.4h0m-23.2 26.5h0m27.2 -25.5h0m10.3 -27.8h0m-25.4 20.5h0m2.1 -48h0m30.9 36h0m-23.6 1.6h0m-13.4 -5h0m-8.2 30.8h0m37.1 -18.2h0m-8.9 12.9h0m-23.3 40.3h0m11.7 -13.6h0m-22.2 -60.2h0m38.4 28.3h0m7.4 -7.7h0m-10.3 32.4h0m-1 -21.2h0m-34.9 -32.9h0m46.9 16.5h0m-19 14.7h0m18.1 -49h0m-9 38h0m8.5 7h0m-4.8 -35.8h0m-4.6 68.9h0m-7.9 -54.7h0m-19.3 39.8h0m-1.6 -7.8h0m39.8 -2.5h0m-7 -19.4h0m-32.8 0.5h0m-8.8 -4.7h0m46.3 2.3h0m-51.8 -28.5h0m36.6 -6.9h0m5.1 23.4h0m-17 -1.1h0m29.3 27h0m-16 17.4h0m20.8 -40.5h0m-18.1 13.3h0m-8 -19.6h0m-28.7 64.1h0m48.1 -107.7h0m-45.9 94.4h0m9.5 -31.2h0m22.4 -22.9h0m2.1 56.8h0m14.5 -19.8h0m1.3 35h0m-1.5 -14.1h0m-7.9 12.2h0m-24.5 -48.9h0m20.5 -4.5h0m-34.1 14.6h0m10.2 -37.8h0m40.3 -3h0m-21.4 33.4h0m17.3 5.1h0m-45.7 1.3h0m25.9 4.2h0m-24.9 -42h0m31.4 25.5h0m13.2 13.6h0m-29.4 -2.5h0m-25.1 -18.5h0m18.9 22.6h0m-14.8 -17.1h0m22.2 8.4h0m20.7 -33.2h0m10.8 4.6h0m-42.2 61.6h0m-7.7 -30h0m-6.2 -20.9h0m15.7 27.8h0m-3 -30.1h0m-3.1 11.3h0m40.7 -6.2h0m-35.9 15.7h0m-7.7 -8.8h0m-0.4 -5.2h0m34.4 47.6h0m-17.7 -13.2h0m-2.5 2.4h0m19 -64.5h0m-4.4 33h0m-10.2 -1.7h0m9.5 4.7h0m-18.7 16.6h0m7.4 5.4h0m14.7 -38.1h0m-39.3 29.2h0m23.2 -46.6h0m-1.6 33h0m-3.5 2.5h0m10.7 7.4h0m11.2 -3.5h0m3 -2.6h0m1.9 -35.5h0m-9 -19.4h0m-36.3 83.3h0m13.9 -33.7h0m25.3 -10.8h0m-33.1 38.4h0m27.8 -6.4h0m-33.9 -4.2h0m49.4 46.5h0m-40.3 -72.9h0m16.1 16.6h0m-18.9 1.1h0m3.4 -4.2h0m17.7 -4h0m3 -49.2h0m20.5 50.8h0m-39.4 -15.5h0m40.5 32.2h0m-38.7 -20.8h0m9.4 15.9h0m33.9 -3.9h0m-26.7 17.9h0m-15.5 -2.1h0m11.9 -30.3h0m22.1 -6.9h0m2.9 6.8h0m-45.4 27h0m24.1 -23.6h0m-8.4 67.9h0m-17.5 -82.8h0m21.4 23.3h0m-8.7 -7.3h0m26.6 -21.3h0m-43.3 37.7h0m26.2 -32.9h0m-6.5 33.3h0m4.6 -23.4h0m0.7 22.6h0m32.7 -16.9h0m-17.6 -27.3h0m-18 50h0m-2.9 -1h0m6 -6.8h0m29.8 -14.9h0m-20.2 -58.3h0m21.4 79.2h0m-44.9 34.8h0m19 -33.1h0m12 22.1h0m6.2 -24.4h0m-43.3 -13.7h0m18.2 23.2h0m27.9 -6.6h0m-15.5 28.2h0m-28.3 -48.7h0m16.7 22.1h0m4.9 -43.7h0m-30 0.8h0m25.2 45.7h0m3.2 -11.9h0m29.3 -10.1h0m-26.7 -16.7h0m0.5 57.8h0m-27 -38.1h0m-2.4 -46.1h0m25.4 46.4h0m10.2 -7.4h0m-24.7 5.3h0m21.3 28.3h0m-28.7 -51h0m10.7 16.2h0m14.9 2.5h0m-12.9 -13.4h0m8.3 -1.4h0m16.1 63.8h0m-32.1 -56.6h0m28.6 25.3h0m18.4 -17.7h0m-8.2 20.8h0m-27 3.6h0m15.8 -43.3h0m-31.5 22.9h0m36.5 6.5h0m1.6 0.1h0m-31.6 -8.8h0m9.5 2.3h0m13.5 55.8h0m3.2 -35.5h0m-2.3 -15.2h0m7.7 -23.4h0m6.1 -14.7h0m-22.8 54.6h0m-27.3 -68.3h0m47.5 43.8h0m-41.8 -9.5h0m25.2 24.3h0m11 1.7h0m5.6 -48.6h0m-16.6 39.3h0m6.2 -2.8h0m19.9 -30h0m-11.7 -13.5h0m-29.1 76.6h0m39 -31.2h0m-51.9 -152.6h0m25.3 0h0m-14.8 257h0m14.8 0h0m-1.8 -191.1h0m3.5 0h0" stroke="#0d0d0d" stroke-width="4.8" stroke-linecap="round" fill="none"/>
<text transform="translate(103.3 1274.2)" style="font-family:'Liberation Sans',Arial,sans-serif;font-size:14.5px" text-anchor="end" fill="#433b3b">4</text>
<text transform="translate(103.3 1340.1)" style="font-family:'Liberation Sans',Arial,sans-serif;font-size:14.5px" text-anchor="end" fill="#433b3b">2</text>
<text transform="translate(103.3 1406)" style="font-family:'Liberation Sans',Arial,sans-serif;font-size:14.5px" text-anchor="end" fill="#433b3b">0</text>
<text transform="translate(103.3 1471.9)" style="font-family:'Liberation Sans',Arial,sans-serif;font-size:14.5px" text-anchor="end" fill="#433b3b">-2</text>
<text transform="translate(197.3 1540)" style="font-family:'Liberation Sans',Arial,sans-serif;font-size:14.5px" text-anchor="middle" fill="#433b3b">boy</text>
<text transform="translate(342.3 1540)" style="font-family:'Liberation Sans',Arial,sans-serif;font-size:14.5px" text-anchor="middle" fill="#433b3b">girl</text>
<text transform="translate(74.4 1381.3) rotate(-90)" style="font-family:'Liberation Sans',Arial,sans-serif;font-size:15px;white-space:pre" text-anchor="middle" xml:space="preserve" dominant-baseline="central">CDSN  NPX</text>
<text transform="translate(268 1213.5)" style="font-family:'Liberation Sans',Arial,sans-serif;font-size:14.4px;font-weight:bold" text-anchor="middle">CDSN</text>
<text transform="translate(268 1229.2)" style="font-family:'Liberation Sans',Arial,sans-serif;font-size:14.5px;font-weight:bold;white-space:pre" text-anchor="middle" xml:space="preserve">q =  0.00786</text>
<line x1="486.3" y1="1308" x2="803.9" y2="1308" stroke="#f2eeee" stroke-width="1.1"/>
<line x1="486.3" y1="1371.2" x2="803.9" y2="1371.2" stroke="#f2eeee" stroke-width="1.1"/>
<line x1="486.3" y1="1434.2" x2="803.9" y2="1434.2" stroke="#f2eeee" stroke-width="1.1"/>
<line x1="486.3" y1="1497.4" x2="803.9" y2="1497.4" stroke="#f2eeee" stroke-width="1.1"/>
<line x1="486.3" y1="1276.5" x2="803.9" y2="1276.5" stroke="#e8e3e3" stroke-width="1.4"/>
<line x1="486.3" y1="1339.6" x2="803.9" y2="1339.6" stroke="#e8e3e3" stroke-width="1.4"/>
<line x1="486.3" y1="1402.7" x2="803.9" y2="1402.7" stroke="#e8e3e3" stroke-width="1.4"/>
<line x1="486.3" y1="1465.8" x2="803.9" y2="1465.8" stroke="#e8e3e3" stroke-width="1.4"/>
<line x1="572.3" y1="1245" x2="572.3" y2="1521.8" stroke="#ebe6e6" stroke-width="1.4"/>
<line x1="716.7" y1="1245" x2="716.7" y2="1521.8" stroke="#ebe6e6" stroke-width="1.4"/>
<line x1="572.3" y1="1251.3" x2="572.3" y2="1382.8" stroke="#333" stroke-width="1"/>
<line x1="572.3" y1="1413.9" x2="572.3" y2="1456.3" stroke="#333" stroke-width="1"/>
<rect x="517.7" y="1382.8" width="109.2" height="31.1" fill="#9b5cb0" stroke="#333" stroke-width="1"/>
<line x1="517.7" y1="1399.4" x2="626.9" y2="1399.4" stroke="#222" stroke-width="2"/>
<line x1="716.7" y1="1314.4" x2="716.7" y2="1387.9" stroke="#333" stroke-width="1"/>
<line x1="716.7" y1="1421.1" x2="716.7" y2="1469" stroke="#333" stroke-width="1"/>
<rect x="662.1" y="1387.9" width="109.2" height="33.2" fill="#5b80bd" stroke="#333" stroke-width="1"/>
<line x1="662.1" y1="1405" x2="771.3" y2="1405" stroke="#222" stroke-width="2"/>
<path d="M578.3 1377h0m2 37.9h0m-6.2 -9.7h0m15.9 -22.8h0m-31.6 18.3h0m-12.4 -25.4h0m5.6 48.1h0m16.3 -40.2h0m16.5 44.6h0m-32.9 3.7h0m16 -9.8h0m12.6 -24.7h0m-25.4 16.9h0m26.3 15h0m0.3 -55h0m-25.2 46.1h0m39.7 -18.1h0m3.5 -7.8h0m-1.2 15.5h0m-42.2 -17.8h0m5.9 -5.5h0m13.1 15.3h0m16.3 -24.3h0m-47.5 34.8h0m13.7 10h0m24 -27h0m-25.5 25h0m-0.4 -28.7h0m46.6 10.3h0m-23.3 7.8h0m4.9 -22.4h0m-36.1 1h0m12.6 18.2h0m-10.6 -9.8h0m7.6 -7.4h0m-6.9 22.1h0m-1.2 12.8h0m39.3 -27.1h0m-29.5 -11.9h0m37.1 58.5h0m-53.1 -11.9h0m18.6 -19.5h0m-1.1 42.7h0m6.1 -42.5h0m10.6 -30.3h0m-4.6 40.3h0m-9.4 -25.7h0m-0.4 21.9h0m22.2 -28h0m-23.6 -4.8h0m22.7 -14h0m-11.5 26.3h0m-15.9 -20.9h0m31 13.9h0m-12.9 18.7h0m5.8 -41.7h0m-33.6 44.4h0m23 -16.5h0m3.2 -48.7h0m-6.1 33.8h0m-2.4 36.2h0m-14.3 -23.9h0m21.8 18.1h0m16.8 -8.7h0m-11.6 29.1h0m-16.5 -36.9h0m-6.9 37.9h0m10.8 -41.1h0m-3.5 -0.1h0m-7.5 -10.1h0m13.2 -29.6h0m-3.2 83.1h0m10.5 -9.9h0m17.9 -4.2h0m-28.4 -9.2h0m19 -30.9h0m-30.2 26h0m4.1 5.3h0m37.3 11.7h0m-6.9 -10.7h0m-1.9 -4.1h0m6.4 -7.2h0m4.4 28.5h0m2.7 -29.1h0m-12.7 -13.7h0m12.2 4.7h0m-39.7 34.1h0m12.5 -44.3h0m-17.2 0.4h0m-5.1 10.8h0m17.5 32.7h0m-3.4 5.2h0m17.5 -32.3h0m-13.5 22.8h0m-15.1 6.6h0m20.4 -47.7h0m-9.9 -0.4h0m26.2 5.7h0m-4.7 -14.3h0m16 8.8h0m0.6 44.1h0m-23.4 -49.4h0m-18.8 22h0m18.1 -6.9h0m-15.9 -24.1h0m13.3 24.1h0m14.4 -24.2h0m-2.2 32.5h0m-15.9 9.3h0m-9.2 7h0m-16.5 -12.2h0m49.7 33.1h0m-1.6 -34.7h0m-13.6 1.3h0m12.2 8.8h0m-36.9 36.4h0m28 -1.8h0m-22.1 -61.1h0m31.8 35.6h0m-25.3 -49.9h0m4.8 44.7h0m-6.9 -23h0m3.7 38.7h0m26.7 -17.3h0m6.1 -9h0m-42.3 -17.2h0m32 -23.6h0m9.3 15.4h0m-26.3 51.8h0m4.8 -31.3h0m13.5 3.8h0m-9.7 10h0m-7.5 -26.3h0m21.6 -21.2h0m-20.2 43.6h0m13.6 -33.7h0m7.8 -6h0m-35.9 52.7h0m30.9 -60.8h0m-38.7 1.8h0m21.2 29.9h0m6.8 -30.3h0m12.2 31.2h0m-32.5 -19.3h0m39.2 10.8h0m-13.1 32.4h0m10.3 -24.1h0m-40.1 9.2h0m17.5 7h0m-5.7 14.2h0m30.6 -8h0m-8.9 9.7h0m-38.9 -50.9h0m44.7 66.5h0m-32.9 -43.7h0m6.7 14.8h0m-25.1 13.7h0m27.3 -42.4h0m23.7 32.7h0m-26.5 -43.1h0m-25.8 29.8h0m48.6 -11h0m-22.4 9.9h0m-22.1 -16.7h0m35.7 -6.2h0m-30.7 29.8h0m25.5 -9.5h0m-11.5 -37.9h0m-10.2 50.1h0m11.1 -51.2h0m-8.1 47.3h0m10.3 3.5h0m6.9 24.3h0m-4.8 -18.1h0m-27 19.2h0m30.9 -25.1h0m22.5 -27.1h0m-5.5 16.2h0m-25.8 11.6h0m20.9 9.1h0m-36.1 -7.3h0m32.4 16.5h0m-32 -4h0m-5.8 -69h0m35 36.6h0m-18.4 24.8h0m9.6 -34.1h0m-28 -17.7h0m10.6 45.8h0m-9 -11.3h0m51.1 24.6h0m-48.8 7.3h0m48.3 -63.8h0m-51 -44h0m7.9 89.4h0m30.5 19h0m-4.7 -65.3h0m-34.9 7.8h0m17 12.4h0m-12.3 -21.3h0m12.5 38.8h0m1.3 -13.2h0m10.8 -11h0m12.7 23.7h0m-43.1 -17h0m38.7 15.4h0m15.2 -14.9h0m-35.7 6.3h0m19.6 46h0m-12.9 -44.5h0m-9.1 32.7h0m14.2 -12.4h0m-28.4 17.4h0m37.2 -53.2h0m-8.4 24.5h0m-16.4 1.3h0m-14 -35h0m53.9 11.5h0m-16.5 19.8h0m-36.6 40.1h0m44.6 -58.8h0m-40.7 19.8h0m20.8 2.1h0m-20.2 -23.5h0m48 29.3h0m-16.7 -11.8h0m2.7 -20.8h0m-20.5 6.8h0m-1.1 25.4h0m-15.8 -44.4h0m49 6.6h0m-44.9 -15.9h0m28.7 41.7h0m-24.1 -5.8h0m-6.9 -18h0m-2.8 13.1h0m16.8 6.5h0m-12.6 5.1h0m43.4 4.3h0m-13.8 7.5h0m-25.6 -0.1h0m-9.4 -22.6h0m26.6 15.3h0m22.4 23.7h0m-35.7 -31.4h0m19.9 -34.4h0m-20.3 6.4h0m43.7 72.2h0m-43.3 -24.9h0m-2.4 -34.9h0m24.3 15h0m-19.5 0.2h0m34.5 4.3h0m-5.9 -4.1h0m-4.3 23.1h0m15.6 -47.2h0m-31.4 47.7h0m-23.3 -19.3h0m16.4 -35.9h0m-3.8 9.6h0m-4.5 23.4h0m13.3 0h0m-20.2 12.6h0m-3.6 -2.1h0m31.5 -5.6h0m-22.6 -33.7h0m40.5 37.9h0m-42.8 -21.4h0m-1 2.9h0m29.5 0.5h0m13.1 14.6h0m-1.4 -21.7h0m4.8 12.3h0m-23.9 1.3h0m-12.9 12.2h0m-13.4 35.8h0m55.1 -61.6h0m-21.3 -0.6h0m21.2 26.9h0m-6.1 -7h0m-10.7 -9.9h0m6.2 26.9h0m-35.6 -35.9h0m43.8 -0.1h0m-2.9 -3h0m-22.6 -1.5h0m-2.3 60.2h0m3.3 -51.7h0m4.6 20.5h0m-24.2 -33.1h0m47 1.1h0m-35.9 5.2h0m-18.9 19.1h0m33.7 -61.4h0m-27.3 60.8h0m51.4 21.1h0m-4.2 -43h0m-10.5 51.6h0m-41.3 -71.9h0m46.6 19.3h0m-39.6 -6.7h0m26.9 6h0m-27.6 13.6h0m32.7 36.7h0m-0.6 -15.3h0m-21.6 -24.8h0m-6.4 16.3h0m36.2 -12.3h0m6 22.5h0m-46.5 2.2h0m49.6 -23.1h0m-25.6 -9.4h0m-14.6 15.6h0m9.7 20.9h0m-25.3 14.6h0m26.7 -78.4h0m5.5 67.3h0m-5.1 -5.6h0m-29.1 -3.1h0m42.5 -34.5h0m-14.9 35.2h0m-19.4 -27.7h0m40 5.3h0m-12.9 30.6h0m-36 -27.6h0m24.9 29.4h0m19.7 -22.5h0m-6.9 -19.2h0m-16 20.8h0m25 14.4h0m-19.6 -10.5h0m-18.7 -4.9h0m-1.3 -11h0m45.5 55.9h0m-38.1 -9.5h0m19.6 -49.6h0m-20.4 13h0m4.3 -2.7h0m0.3 -4.2h0m-18.6 8h0m-0.3 6.2h0m4.7 -11.9h0m38.3 -11.8h0m-27 6.9h0m9.9 6.9h0m10.7 22.5h0m-6.6 -27.1h0m23 29.6h0m-6.8 -10.3h0m6 -17.4h0m-34.5 0.7h0m40.9 -20.7h0m-2.1 4.5h0m-17.5 8.3h0m8.6 17.2h0m-37.3 -6.6h0m47.5 4.9h0m-46.8 -41.9h0m36.1 27h0m-45.7 23.5h0m44.1 4.2h0m-11.7 -44.3h0m-10.2 44.8h0m-8 -26.3h0m12.2 4h0m-11 -18.8h0m4.3 41.2h0m37.8 -28.4h0m-37.4 5.5h0m30.2 -12.7h0m-25.4 -11.9h0m25 26.7h0m-9.3 6.9h0m9 -23.4h0m-8.2 48.5h0m-6.2 -33.9h0m16.1 24.8h0m-13.3 4.8h0m9.9 7.8h0m-9.4 1.6h0m-12.9 -52.6h0m-10.5 -0.9h0m2.3 16.2h0m30.7 -19.7h0m-34.6 21.3h0m1.9 11.1h0m41.2 12.4h0m-18.1 -39.2h0m-20.3 -1h0m21.4 -9.5h0m-15 43.7h0m-22.7 -11h0m50.4 22.6h0m-51.1 -52.9h0m53.4 9.3h0m-31.7 4.1h0m7.8 11.2h0m-3.5 2.8h0m-1.5 4.5h0m22.9 -30.8h0m-30.5 36.5h0m39.2 -32.2h0m-24.5 12.7h0m15 27.4h0m-39.7 9.3h0m1.2 -14.1h0m7.4 -15.7h0m33.6 26.5h0m-27.8 -40.6h0m23.5 -10.9h0m-7.2 12.6h0m-30 47.4h0m19 13.9h0m-22.1 -68.2h0m22.6 -13.2h0m-20.3 40.1h0m30.2 -19.5h0m-12.7 16.8h0m8 7.8h0m-8.6 -34.7h0m7.3 32.8h0m-9 -29.7h0m-7.3 -18.5h0m39.3 39.1h0m-25.5 -42.3h0m-22.8 67.6h0m12.2 -47.4h0m25.4 19.3h0m-13.8 -54.3h0m-3.9 53.6h0m5.6 17.8h0m9 -51.5h0m15.3 67.2h0m-50.2 -42h0m47.7 25.7h0m-28.4 -45.7h0m9.4 31.6h0m-11.7 -20.5h0m2.1 19.1h0m-3.9 22.7h0m22.2 22.4h0m-16.8 -84h0m17.2 33.2h0m-40.1 29.5h0m-4.6 -17.9h0m12.8 -27.7h0m-0.4 52.9h0m1.3 -80.2h0m11.3 53.7h0m13.4 2.5h0m14.2 -35.2h0m5.2 22.9h0m-20.7 25.9h0m15.2 -41h0m-22.9 10h0m13.8 -14.4h0m8.5 43.8h0m-11.8 4.3h0m-17.1 -37.4h0m24.6 22.7h0m-2.7 36.8h0m12.3 -33.5h0m-9.5 -26h0m-14.1 29h0m-21.2 -42.9h0m-13.3 38.2h0m13.4 -8.7h0m28.5 32.7h0m-33.4 -17.6h0m33.3 -13.1h0m-26.5 -16.4h0m-5.9 8.4h0m41.9 -18.7h0m-44.2 69.3h0m43.5 -47.1h0m-14.7 3.6h0m-20.4 19.3h0m-1.8 -21.5h0m21.1 15.1h0m-19.7 -25.1h0m20.5 16.6h0m0.8 -18.3h0m-35.4 30.3h0m14.3 -46.6h0m28.2 18.6h0m-35.7 -29.7h0m36.7 41.1h0m1.7 7.9h0m2.5 -13.7h0m3.9 13h0m-31.3 12.2h0m35 -22.6h0m-54.1 1.8h0m0.8 12.5h0m32 -5.7h0m-31.7 12.6h0m27.5 -24h0m-12.7 32h0m22.5 -65.3h0m-15.2 35.8h0m-6.2 -19.6h0m19.8 46.1h0m18.6 -33.3h0m-44 10.3h0m-10 -24h0m5.5 2.4h0m45.2 53.9h0m-10.9 -59.8h0m-43.7 56.7h0m12.5 -60.9h0m33.4 30h0m-37.5 24.6h0m20.6 -40.9h0m-17.9 14.3h0m5.7 22.2h0m9.8 -5.5h0m2.1 -26.1h0m22.9 39.7h0m-22.8 -10.9h0m28.1 -58.4h0m-26 -0.5h0m-3.2 -11.9h0m-10.5 3.6h0m5.9 5.6h0m35.1 -37.3h0m-26 43h0m-21.4 -1h0m-3.1 -46.4h0m30.4 22.4h0m-5.5 32.2h0m-2.5 -23.6h0m6.6 2.6h0m-32.4 18.5h0m-0.7 -12.2h0m13 -15h0m0 -84.8h0m26.1 39.6h0m9.3 59.1h0m-17.9 4.7h0m13 -16.7h0m0.4 -2.4h0m-23.8 9.1h0m10.2 19.4h0m14.1 -2.9h0m8.8 -19.1h0m-8.5 -35.4h0m-23.5 31.3h0m-19.3 19.5h0m9.1 -20.5h0m17 27.3h0m-19.3 -3.5h0m31.7 -0.1h0m-28.3 -15.7h0m10.2 -6.3h0m-2.1 -18.4h0m35 3.8h0m-33.9 15.4h0m15.4 -20.2h0m16.9 44.6h0m-12.8 -46.9h0m-1.6 47h0m6.8 -29.4h0m-25.6 -64.6h0m5.8 -22.3h0m21.7 0h0m-44.5 18.9h0m22.8 0h0m0 201.9h0m17.1 0h0m-17.1 31.6h0m0 -164.1h0m0 -6.3h0m0 -4.7h0m0 -4.8h0m0 -6.3h0m0 -6.3h0m0 -3.2h0m0 -6.3h0m0 -4.7h0m0 -4.7h0m0 -3.2h0m0 -3.1h0m168.7 69.8h0m-4 11.4h0m-41.5 14.1h0m49.7 37.6h0m-46.8 -29.9h0m46.3 4.7h0m-20.7 41.2h0m-6.5 -3h0m13.5 -11.8h0m6.1 -44.3h0m-25.6 36.7h0m26.6 22h0m1.4 -32.6h0m-27.4 -11.4h0m18.9 40.2h0m-6.6 -69.3h0m-2.9 59.1h0m0.2 -40.1h0m-25.5 8.3h0m41.7 31.5h0m-11.6 -13.7h0m-33.6 -2.9h0m26 8.3h0m-18.8 -24.7h0m14.2 15.5h0m18.6 39.8h0m-43.4 -40.5h0m42 27.5h0m-20.2 -20.3h0m-18.6 -10.3h0m0.4 7.6h0m52.1 -25.1h0m-33.2 24.4h0m-8.8 9.8h0m29.6 -48.2h0m-45.7 20.3h0m57.2 19.4h0m-24.4 -3.2h0m-28.8 9.1h0m29.9 -10.7h0m16.9 23.2h0m-18.9 -60.6h0m-29.7 11.8h0m19.6 77.3h0m-12.9 -28.5h0m-8.6 -20.3h0m41.8 13.3h0m-0.2 33h0m-36.1 -62.8h0m18.2 41.9h0m18.8 -41.6h0m-31.3 5h0m20.7 -23.7h0m-24.2 53.7h0m-3.5 -60.4h0m38.8 67.9h0m-24.3 -60.7h0m20.4 9.7h0m-1.9 13.9h0m13 33.9h0m-44.3 -60.1h0m22.6 18h0m-25.7 54.9h0m44.3 20.8h0m-19.5 -43h0m13.5 4.4h0m11.2 -35h0m-13.1 12.8h0m-29.9 -4.1h0m10 18.5h0m28.5 -32.5h0m-27.9 33.8h0m16.3 21h0m-8.8 19.9h0m12.6 -65.2h0m7 25.2h0m-8.3 24.6h0m12.6 -18.6h0m-40.3 -10.8h0m37.1 -24.2h0m-36.8 62.8h0m25 -38.3h0m14.2 -25.6h0m-9.7 5.8h0m-38.4 -7.7h0m47.1 -25.9h0m-30.1 63.1h0m-12.2 -5.7h0m50.3 -37.4h0m-35.4 -12.2h0m-14.4 28.4h0m42.5 14.6h0m-11.8 18.6h0m-32.5 -39.7h0m-4.8 6h0m53.7 31.7h0m2.2 -12.3h0m-2.8 10.2h0m-5.5 -34.9h0m-45.9 16.3h0m51.8 -31h0m-36.3 -2.4h0m4.3 22.7h0m-12 -19.3h0m5.6 3.2h0m-14.9 -10.1h0m55.1 43.8h0m-52.7 -24.6h0m55.4 -27.2h0m-56.4 26.4h0m11.3 23.9h0m-9.4 -14.9h0m51.9 -45.6h0m-48.5 59.7h0m35.1 5.3h0m2.7 -34.3h0m-3.2 28.5h0m-31.8 26.7h0m37.9 0.2h0m-31.7 -35.6h0m35 14.4h0m-49.1 -46.8h0m0.2 46.1h0m2.4 17.6h0m5.4 -13.7h0m43.8 10.3h0m-38.7 -53.8h0m-15.9 43.7h0m32.9 -51.2h0m-2.2 21h0m-17.6 -32.8h0m29.3 47.7h0m-17.8 -21.2h0m-25.1 65.7h0m21.3 -36.3h0m1.6 6.2h0m-6.7 -42.5h0m-6.3 28.7h0m18.3 -18h0m24.8 31.1h0m-41.5 12.8h0m42.2 -27h0m-48.9 -31.1h0m32.1 30.3h0m-30 -36.4h0m30.8 42.6h0m-20.4 0.6h0m24.6 0h0m8.3 -2.2h0m-33.7 9.7h0m32.9 -10.1h0m-35.4 12.8h0m13.1 5h0m-22.3 -57.3h0m21.3 14.5h0m30.3 26.4h0m-46.7 6.8h0m19.3 21.5h0m-25.3 -48.2h0m39.8 28.2h0m-29.6 -58.3h0m31.6 82.2h0m-7.7 -46.6h0m19.9 -19.6h0m-45.2 39.2h0m29.9 -57.6h0m-5.8 23h0m-32 0.3h0m26.6 41.5h0m26.5 -42.4h0m-7.6 0.4h0m-29.7 19.6h0m16.5 -37.4h0m-16.9 32.7h0m26.6 58.4h0m-2.9 -58.5h0m-33.4 -31.6h0m36.4 52.8h0m10.3 -30.3h0m-19.1 31h0m11.1 -14.2h0m-27.3 60.8h0m-15.8 -20.2h0m37 -33.9h0m1.9 6.3h0m-7.4 29h0m15.6 -57.7h0m-43.5 8h0m22.3 27.7h0m-25.5 26.7h0m42.1 -59.3h0m-35.3 24.1h0m-6.2 -27.4h0m41.6 -9h0m-18.2 33.3h0m9.6 -2.5h0m8.8 -22.2h0m-3 23h0m12.9 38.8h0m-9.2 -58h0m4.4 6.7h0m-44.2 20.1h0m-5.4 -24.5h0m48.4 20.4h0m-27 0.7h0m24.8 -27h0m1.5 49h0m-9.2 5.5h0m-16.7 -32.8h0m14.6 26.3h0m-7.8 -49.1h0m9.7 36.2h0m-38.2 22.3h0m14.3 -29.9h0m13.3 41.1h0m5.1 -80.9h0m-18 31.4h0m0.2 -16h0m-14.6 3.7h0m48.8 7.1h0m1.3 28h0m-39.5 -41.1h0m1.3 25.1h0m-9.6 9.8h0m34.5 28.6h0m-2.9 -74.7h0m-15.7 34.2h0m24.7 3.9h0m1.1 33.6h0m-45.2 -63.9h0m-0.2 23.6h0m36.7 -25.2h0m-20.7 23.5h0m33.6 18.3h0m-42.3 -31.9h0m8.6 48h0m-11.9 -0.4h0m44 -33.3h0m1.6 -18.3h0m-14.9 -8.3h0m21 27.1h0m-17.1 0.6h0m-29.1 -7.2h0m8.7 9.2h0m30.1 6.6h0m-32.6 -22.4h0m-0.4 22.5h0m24.3 -6.5h0m7.7 -31.7h0m5 21.9h0m-15.3 16.6h0m-33.3 -27.3h0m4.5 18.8h0m37.4 -18.3h0m-29.5 34.5h0m26.2 -2h0m-40 14.7h0m18.3 -57.1h0m20.9 -6.3h0m-4 4.8h0m5.9 18.7h0m-1.4 3.5h0m-7.1 9.7h0m20 -18.3h0m-20.3 17.2h0m-20.5 18.5h0m22.6 -44.9h0m-15.1 2.3h0m-3.9 8.3h0m23.1 13.2h0m-3.4 7h0m-37.3 -10.6h0m52.7 -2.5h0m-51 30.7h0m38.3 -15.9h0m-27.3 13.4h0m19.6 -48.3h0m-0.4 54.9h0m-10.8 -3.2h0m19.3 -7.2h0m10.1 -23.2h0m-21 24.2h0m-24.9 -59.6h0m25.6 22.8h0m22.8 69.5h0m-33 -58.2h0m-23 -2.7h0m25.1 35.8h0m-9.9 -26.1h0m17.6 -3.8h0m-24 16.1h0m48.9 -12h0m-6.8 -9.7h0m-48.7 18.9h0m53.9 -10h0m-52.2 25.3h0m-3.8 -40.6h0m49 28.1h0m-47.9 -41.1h0m39 -18.8h0m-13.8 8.6h0m-11.1 47.5h0m5.8 -19.9h0m-11 15.4h0m-2.4 -16h0m15.8 28.6h0m3.4 4.1h0m-17.2 -21.3h0m-8.8 16.7h0m7 -45.1h0m35.2 11.2h0m11.6 8.6h0m3.8 10.7h0m-47.5 0.5h0m16.5 -25.3h0m29.7 19.9h0m-48.8 1.3h0m45.2 -41.2h0m-49.5 38.3h0m22.5 8.9h0m-6.9 -0.7h0m24.5 -33.4h0m14 39.3h0m-28.7 -0.4h0m24.6 -34.9h0m-0.6 -1.5h0m-7.1 -5.5h0m-25.2 50.3h0m-19.4 -28.8h0m43.4 22.4h0m-36.1 -21.9h0m19.4 44.3h0m10.4 -30.6h0m-36.6 -28.4h0m32.2 19.4h0m21.1 58h0m-16.8 -75.6h0m17.7 14h0m-9.5 14.1h0m-27.1 -5.9h0m6.2 7h0m9.8 -32.7h0m-10.2 26.3h0m27.9 34.8h0m1.6 -16.6h0m-40.9 -55.2h0m-12.1 11.2h0m38.3 7.3h0m0.2 35.2h0m9.5 -29.5h0m-27.5 -10.9h0m29.1 20.6h0m-30.1 -14h0m24.2 -9.1h0m-2.2 2.2h0m2.4 12.9h0m-10.5 -0.3h0m-1.3 37.8h0m16 -20.9h0m-24.2 -25.1h0m-2.9 -19.3h0m-13.3 33.8h0m-3.9 -20.1h0m39.4 23.8h0m-5.9 21.7h0m-29.9 -31.1h0m7.9 -0.5h0m20.9 29.9h0m-18.8 -0.6h0m7 -20.2h0m0.4 12.3h0m-1.8 -22.5h0m-13.1 41.4h0m8.3 -48.3h0m25.4 31.8h0m-0.6 -21.5h0m8.8 42.4h0m-12.2 -55.4h0m11.9 16.3h0m0.8 -42.3h0m1 83.6h0m-25.8 3.8h0m19.5 -56.6h0m-10.1 -3.9h0m-14.7 59.5h0m-5.7 -51.4h0m8.2 -9h0m13.4 -10.5h0m5.4 28.3h0m-28.6 37.2h0m-6 8.8h0m12.8 -89.6h0m-1.7 37.5h0m0.2 -12.8h0m29.8 29h0m-0.7 -2h0m-49.6 -0.5h0m19 16.1h0m-4.9 -14.3h0m38.9 18.3h0m4.5 -15.5h0m-25.6 -34h0m-26.9 24.2h0m-3.5 15.5h0m25.3 -53.4h0m6.6 9.4h0m-30.6 28h0m34.4 39.7h0m-37.6 -67.5h0m45.9 -0.3h0m-45 42.1h0m41.7 -44.8h0m1.3 50.2h0m-32.1 -12.5h0m-0.8 4.3h0m17.5 -14.3h0m-26.8 7.1h0m22.3 -34.9h0m17.7 39.6h0m8.7 -17.6h0m-27.8 8.9h0m-15.3 -4.5h0m-1.3 23.8h0m5 -17.6h0m1.4 -31.5h0m44.2 12.4h0m0.7 44.4h0m-29.6 -17h0m24 13.4h0m2.9 -6.4h0m-44.6 -1.7h0m1.1 12.9h0m35.9 -37.5h0m-33.5 -9.9h0m2.8 16.8h0m8.4 14h0m-6.8 -14.2h0m-4 20.5h0m-13.1 -40.1h0m34.1 -28.8h0m0.7 111.4h0m-10.8 -68h0m1.5 7.5h0m-6.6 -3.3h0m32.5 10.5h0m-43.9 27.2h0m-2.2 -31.6h0m48.7 7.2h0m-40.2 -5.6h0m2.8 -2.3h0m3.8 10.1h0m21 -61.9h0m0.2 78.5h0m9.1 -19h0m-41.2 19.7h0m36.5 -24.8h0m-46.6 -37.9h0m54.9 35.3h0m-8.7 17.6h0m4.8 11h0m-30.6 -41.6h0m-7 27.9h0m1.6 -29.7h0m0 29.4h0m27.7 -3.7h0m-16 -10.5h0m24.6 35h0m-34.6 -62.9h0m-18.4 52h0m2.2 -28.7h0m47.5 -6.6h0m-15.3 -42.3h0m17.5 41.7h0m-40.7 -8.1h0m10.2 29.9h0m23.1 -8.1h0m-14.3 -2.9h0m10.6 -23.9h0m8.9 45.7h0m-38.2 -31h0m-5.9 -54.4h0m44.7 84.7h0m-24.7 19.5h0m20 -29.3h0m13.5 -8.6h0m-52.5 -39.9h0m9.3 26.1h0m43 -14.6h0m-37.9 41.1h0m32.8 -14.9h0m-17.2 -7.4h0m0.3 25.2h0m-33.7 -25h0m0.7 12.5h0m39.3 -11.3h0m0.7 36h0m-26.2 14.2h0m23.5 -75.5h0m11.8 29.2h0m-46.4 3.1h0m20.6 -59.3h0m25.2 34.6h0m-46.4 12.5h0m12.8 24.4h0m24.5 -22.9h0m9.9 3h0m-6.6 10.8h0m-45.3 -37.3h0m23.3 14.9h0m-15.1 4h0m-6.7 30.7h0m20.3 -2.9h0m-3.9 -39.9h0m25.7 19.4h0m-13.5 17.4h0m-14.4 -19.4h0m14.5 6.4h0m-11.5 10.2h0m-1.7 -5.7h0m24.7 -20.7h0m-34.3 9.3h0m-8.2 26.5h0m-0.7 -2.7h0m19.5 -22.9h0m8.8 29.7h0m30.1 -26h0m-1 5.6h0m-48 26.1h0m31.8 24.3h0m-40.8 -34.4h0m39.9 -18.2h0m19.1 -0.1h0m-23.4 -27.8h0m5.1 27.6h0m-3 1.8h0m-37.8 -9.7h0m16.5 17.8h0m9.4 -47.6h0m4.9 50.8h0m1.4 6.3h0m7.6 -7.9h0m-13.6 -37.7h0m-9.8 39.2h0m24.9 4.3h0m-38.5 -29.7h0m0.6 -13h0m24.9 35.2h0m-6.1 -24.5h0m-5.4 29.9h0m0.5 -45.4h0m31.5 54.6h0m-11.9 -17.6h0m-36.2 3.4h0m13.5 11.1h0m11.4 -18.7h0m-11.6 -16.5h0m10.7 33.1h0m3.9 -60.3h0m-22.3 36.6h0m15.3 -2h0m8.4 -47.9h0m-3 17.7h0m10 -16h0m-16.1 13.1h0m-0.1 -3.9h0m5.5 7.2h0m22.4 -12.8h0m6.4 -29.5h0m-22.5 21.8h0m12.5 22.6h0m-16.7 -1.9h0m13.6 -3.8h0m-14.9 -3.8h0m2.7 9.9h0m12.3 -0.8h0m11.3 -31.6h0m-34.8 15.9h0m39.2 15.3h0m-22.6 -32.2h0m-34 31.8h0m24.4 -28.2h0m32.2 -25.8h0m-44.6 14.4h0m29.2 1.2h0m6.6 31.8h0m-11.8 -8.8h0m-4.4 -26.3h0m22.8 22.2h0m-51.6 18.2h0m16.1 -11.1h0m39.4 -2.4h0m-2.5 11.2h0m-55.3 -50.4h0m25.2 31h0m2.7 12.2h0m-23.7 3.6h0m-0.2 7h0m0.9 -13h0m-1.9 9.9h0m4.1 0.5h0m6.1 0.8h0m34 2h0m-40.1 -2.1h0m6 -101.5h0m14.7 0h0m-14.2 28.4h0m14.2 0h0m0 214.5h0m26.1 0h0m-26.1 -168.8h0m0 -4.7h0m0 -6.3h0m0 -4.8h0m0 -4.7h0m0 -4.7h0" stroke="#0d0d0d" stroke-width="4.8" stroke-linecap="round" fill="none"/>
<text transform="translate(478.2 1281.5)" style="font-family:'Liberation Sans',Arial,sans-serif;font-size:14.5px" text-anchor="end" fill="#433b3b">4</text>
<text transform="translate(478.2 1344.6)" style="font-family:'Liberation Sans',Arial,sans-serif;font-size:14.5px" text-anchor="end" fill="#433b3b">2</text>
<text transform="translate(478.2 1407.7)" style="font-family:'Liberation Sans',Arial,sans-serif;font-size:14.5px" text-anchor="end" fill="#433b3b">0</text>
<text transform="translate(478.2 1470.8)" style="font-family:'Liberation Sans',Arial,sans-serif;font-size:14.5px" text-anchor="end" fill="#433b3b">-2</text>
<text transform="translate(572.3 1540)" style="font-family:'Liberation Sans',Arial,sans-serif;font-size:14.5px" text-anchor="middle" fill="#433b3b">boy</text>
<text transform="translate(716.7 1540)" style="font-family:'Liberation Sans',Arial,sans-serif;font-size:14.5px" text-anchor="middle" fill="#433b3b">girl</text>
<text transform="translate(449.3 1381.3) rotate(-90)" style="font-family:'Liberation Sans',Arial,sans-serif;font-size:15px;white-space:pre" text-anchor="middle" xml:space="preserve" dominant-baseline="central">SH2D1A  NPX</text>
<text transform="translate(642.4 1213.5)" style="font-family:'Liberation Sans',Arial,sans-serif;font-size:14.4px;font-weight:bold" text-anchor="middle">SH2D1A</text>
<text transform="translate(642.4 1229.2)" style="font-family:'Liberation Sans',Arial,sans-serif;font-size:14.5px;font-weight:bold;white-space:pre" text-anchor="middle" xml:space="preserve">q =  0.00786</text>
<line x1="870.4" y1="1261.3" x2="1180.3" y2="1261.3" stroke="#f2eeee" stroke-width="1.1"/>
<line x1="870.4" y1="1335.8" x2="1180.3" y2="1335.8" stroke="#f2eeee" stroke-width="1.1"/>
<line x1="870.4" y1="1410.3" x2="1180.3" y2="1410.3" stroke="#f2eeee" stroke-width="1.1"/>
<line x1="870.4" y1="1484.8" x2="1180.3" y2="1484.8" stroke="#f2eeee" stroke-width="1.1"/>
<line x1="870.4" y1="1298.6" x2="1180.3" y2="1298.6" stroke="#e8e3e3" stroke-width="1.4"/>
<line x1="870.4" y1="1373.1" x2="1180.3" y2="1373.1" stroke="#e8e3e3" stroke-width="1.4"/>
<line x1="870.4" y1="1447.6" x2="1180.3" y2="1447.6" stroke="#e8e3e3" stroke-width="1.4"/>
<line x1="870.4" y1="1522.1" x2="1180.3" y2="1522.1" stroke="#e8e3e3" stroke-width="1.4"/>
<line x1="955.8" y1="1240" x2="955.8" y2="1521.8" stroke="#ebe6e6" stroke-width="1.4"/>
<line x1="1094.8" y1="1240" x2="1094.8" y2="1521.8" stroke="#ebe6e6" stroke-width="1.4"/>
<line x1="955.8" y1="1319.5" x2="955.8" y2="1363" stroke="#333" stroke-width="1"/>
<line x1="955.8" y1="1380.3" x2="955.8" y2="1410.3" stroke="#333" stroke-width="1"/>
<rect x="902.8" y="1363" width="106" height="17.3" fill="#9b5cb0" stroke="#333" stroke-width="1"/>
<line x1="902.8" y1="1371.8" x2="1008.8" y2="1371.8" stroke="#222" stroke-width="2"/>
<line x1="1094.8" y1="1331.4" x2="1094.8" y2="1366.2" stroke="#333" stroke-width="1"/>
<line x1="1094.8" y1="1382.9" x2="1094.8" y2="1416.3" stroke="#333" stroke-width="1"/>
<rect x="1041.8" y="1366.2" width="106" height="16.7" fill="#5b80bd" stroke="#333" stroke-width="1"/>
<line x1="1041.8" y1="1373.9" x2="1147.8" y2="1373.9" stroke="#222" stroke-width="2"/>
<path d="M940.1 1393h0m15.5 -24.9h0m17.6 19.6h0m-17.5 -37h0m9.9 -1.9h0m-23.4 6.3h0m13.9 -15.2h0m-7.1 20.1h0m31.9 -9.7h0m-19.1 7.6h0m-4.1 0.8h0m24.9 0.3h0m-48 8.2h0m13.2 -21.7h0m34.6 41.6h0m1.4 6.9h0m-37.4 -11.5h0m29 -33.8h0m8.1 26.6h0m-36.9 7.9h0m-15.6 0.4h0m9 -18.8h0m45.6 7.5h0m-10.9 -18h0m-43.2 21.9h0m46.3 -17.8h0m-36.1 25.5h0m1.3 -20.2h0m23.2 -35.9h0m-24.9 46.5h0m10.9 -1h0m-18.6 -15.8h0m7.2 28.1h0m5.2 -7.6h0m33.1 1.3h0m-41.4 -11.5h0m-10.5 23.3h0m55.6 -40.2h0m-43.4 18.6h0m9.4 -0.7h0m0.3 5h0m14.2 -1.9h0m17.4 32.7h0m-23.1 -51.5h0m19.1 30.9h0m-34.4 -24.4h0m16.5 14h0m1.5 0.8h0m-22.3 -10.2h0m45.6 -17h0m-52.7 25.5h0m22.1 7h0m3.9 -15.1h0m27.8 42.2h0m-11.9 -23.1h0m-26.8 1.9h0m-5.1 -9h0m17 14.5h0m-2.5 -31.8h0m25 16.6h0m-47.1 -6.5h0m46.5 1.8h0m-23.2 4.7h0m-12.2 4.9h0m-9.6 -27.9h0m3.7 6.6h0m6.7 -9.5h0m34 23.7h0m-12.5 -6.3h0m-8.2 -1.1h0m-7.5 9.8h0m-15.2 -4.1h0m1.9 22.7h0m-6 -6.2h0m23.2 -3.9h0m1.3 3.2h0m-21.2 -22.6h0m-2.5 1h0m8 -0.6h0m18.7 9.6h0m10.3 -18.3h0m-10.5 1.4h0m-12.4 4.9h0m2.1 13h0m24.8 -26.9h0m-16.5 39.2h0m10.4 6.4h0m-30.5 -4.8h0m6.7 -35.9h0m-1.2 15.9h0m-3.9 9.8h0m46.3 24.9h0m-39.4 -30.1h0m31.1 11h0m-44.4 15.7h0m-1.3 -45.6h0m47.5 15.2h0m2.1 -19.5h0m-10.8 20.2h0m-6 -8.3h0m-26.8 17.9h0m26.6 -18.8h0m-24.3 14.7h0m22 -14.5h0m10.2 5.7h0m-36.7 18.7h0m29.1 -16h0m6.1 -2.1h0m-24.5 12.4h0m-1.1 -8.4h0m14.9 -14.9h0m7.4 -4.4h0m18.8 16.7h0m-19.2 33.5h0m-25.3 -43.3h0m31.1 -15.6h0m-45.9 29.7h0m8.7 8.9h0m26.7 -16.6h0m15.5 1.3h0m-44.7 -9.6h0m13.3 21.6h0m-12.7 -34h0m5.7 11.9h0m3.4 27.6h0m33.4 -29.4h0m-6.1 16.7h0m-11.3 -11.8h0m9.1 4.8h0m5.3 4.4h0m-6.9 -3.8h0m-21.7 10.6h0m-8.6 4.5h0m49 -7.2h0m-49.3 0.7h0m50.1 -9.6h0m-40.3 2.9h0m-17.4 25.9h0m20.6 -35.2h0m-10.9 12.6h0m32.1 -12.9h0m8.3 2.5h0m-20.7 5.9h0m-12 -4.2h0m28.6 28.6h0m-30.7 -42.7h0m8.2 -5.6h0m29.2 18.6h0m-0.9 16.5h0m6.5 -17.3h0m-16.1 14.7h0m-26.7 -28.1h0m41.9 29.6h0m-33.9 10.3h0m17.2 -4.8h0m1.2 -1.2h0m-27.7 -21h0m5.4 11h0m2 -4.6h0m20.4 8.8h0m14.4 -23.7h0m-29.1 18.6h0m-27.8 -3h0m30.2 -19.3h0m-28.6 18.2h0m36.8 11.7h0m14.6 -3.9h0m-19.6 -19.8h0m0.3 10.8h0m15.7 16.5h0m-15.7 -27.8h0m-24 37.6h0m45 9.9h0m-42.9 -16.7h0m32.8 13h0m-38.2 -24.2h0m27.4 -3.3h0m-23.6 4.3h0m18.4 4.4h0m-0.6 6.9h0m15.4 -28.4h0m-32.7 41.4h0m36.7 -38.5h0m-28.3 6.7h0m29.8 4.7h0m-3.7 -7.4h0m-42.8 28.7h0m53.3 -36.2h0m-7 6.7h0m-26.6 -8.7h0m1.8 45.4h0m26.3 -33h0m-40.6 5.5h0m-7.8 31h0m43.3 -28.1h0m11.9 -5.6h0m-44.3 12.1h0m-6.7 -16.8h0m41.8 -2.5h0m-43.7 14.4h0m1.1 -1.4h0m10.6 -16h0m31.6 25.1h0m-11.6 -21.2h0m14.5 -11.8h0m-16.7 19.4h0m-20.4 -5.8h0m23 5h0m-8.5 -11.4h0m-21.2 33.3h0m45.6 2.9h0m-1.9 -12.2h0m-12.2 -3.4h0m-5.3 -22.7h0m-10.6 -5.7h0m5 11.3h0m-19.6 -9.6h0m44.8 23.7h0m-5.5 1.9h0m-31.5 14.3h0m25.2 -38.6h0m-37.9 8.9h0m23.2 8.3h0m17.2 18.7h0m8 -4.7h0m-3.1 -21.5h0m-25 7.1h0m28.5 -15.8h0m-30.3 13h0m2 12.8h0m-21.1 6.8h0m7.4 -16.8h0m21.3 -23.4h0m0.8 -5h0m18.3 38.9h0m-4.7 -17.9h0m-34.9 17.7h0m47.9 -14.1h0m-55.2 12.8h0m23.6 16.8h0m5.6 -46.6h0m-0.7 26.4h0m-25.3 -12.2h0m4.6 6.1h0m-7.8 19.6h0m0.6 -28h0m32.6 -6.6h0m-16.1 12.3h0m-5.3 -4.7h0m-13.4 -8h0m56.4 7.7h0m-8.9 9.9h0m-35.9 21.6h0m-10.4 -11.2h0m-1.7 -1.2h0m10.4 -21.8h0m13 -8.4h0m21.8 18.9h0m-12.8 -13.9h0m11.5 48.4h0m-40.3 -38.3h0m17.2 20.9h0m9.6 -30.4h0m27.1 -4.6h0m-11.2 1.9h0m9.2 4.7h0m-17.9 -5h0m-6.3 -9.4h0m9.4 33h0m-1.8 -29.9h0m-31.3 27h0m24.2 14.9h0m-7.3 -28.2h0m-17 -2.4h0m22.8 6.3h0m25.2 13.7h0m-44.4 -17.9h0m21.7 11.9h0m7.7 -38.4h0m-13.3 30h0m13.3 -0.8h0m-2.5 13.2h0m0.8 -16h0m-23.6 -15.2h0m31.6 34h0m-28.6 -5h0m33.5 22.1h0m-52.7 -26.1h0m42.1 -24.1h0m7.7 40.1h0m8.2 -11.3h0m-37.1 5.1h0m29.5 -6.6h0m-7.1 7.1h0m1 -5.9h0m10.8 10.9h0m-18.8 -18.9h0m-1.5 -10.9h0m15 3h0m-5.4 37.5h0m-41.7 -45.5h0m56.2 8.6h0m-2.9 -5.9h0m-47.6 28.7h0m46.4 -4h0m-28.9 -18.2h0m-9.1 -15.3h0m40.5 38.5h0m-15 -17.5h0m-5 -2.3h0m-12.2 11.3h0m27.9 -10h0m-14.5 12.2h0m-10.6 -25.5h0m7.2 41.3h0m-31.1 -27.4h0m17.4 11.7h0m24.2 -6.4h0m-43.2 12h0m36.4 -34.5h0m-28.5 11.2h0m29.7 4.4h0m17.5 6.4h0m-33.1 -4.9h0m27.4 8.8h0m2.7 -6.1h0m-46 -18.3h0m0.6 28.8h0m-5.8 3.4h0m48.6 -39h0m-39.6 33.6h0m18.5 -10.2h0m-15.1 5.6h0m41 -10.9h0m-55.3 -0.7h0m48.6 7.5h0m-22.3 15.5h0m17.8 -0.4h0m-15.2 -14.5h0m-14.8 -24.9h0m32.1 51.4h0m-34.2 -23.9h0m-9.7 -8.1h0m12.7 14.8h0m5 -11.4h0m-18.5 4.8h0m19.7 -12.8h0m-22.8 -12.3h0m56.9 28.1h0m-38.9 -8.7h0m9.5 -2.1h0m20 4.1h0m3.3 2.1h0m-48 30.6h0m18.8 -31.7h0m31.3 16.5h0m-6.7 -9h0m8.3 -12.2h0m-52.9 -1.9h0m4.3 14.5h0m45.8 0.2h0m-3.6 -2.6h0m-28.1 11h0m-19.5 -36.9h0m18.7 -2.8h0m16.6 27.5h0m-24.3 -25.6h0m4.1 11.9h0m15.3 26.3h0m-27.8 -28.3h0m35 3.5h0m13.3 7.3h0m-4.3 22.9h0m0.7 -12.1h0m-26.1 24.2h0m34.7 -32.3h0m2.6 3.7h0m-39.5 11.8h0m6 1.9h0m4.3 -36.7h0m7.9 40.5h0m-15.9 -31.9h0m30.3 8.9h0m5.7 -16.1h0m-40.1 40.6h0m40.5 -24.6h0m-0.5 -16.1h0m-29.6 20h0m3.5 17.7h0m20.2 7.7h0m-19.4 -17.8h0m18.1 -24.3h0m2.4 -7.3h0m-51.3 20.8h0m54.8 -11.8h0m-42.2 -1.6h0m-8.8 5.6h0m31.9 20.5h0m-31.4 -22.2h0m15.5 24.6h0m20.2 -15.9h0m-16.3 -9.7h0m-7.1 -4.1h0m-5.8 17h0m34.2 -17.8h0m-21.4 -5.6h0m6.7 7.9h0m-25.8 14.4h0m4.8 -5.1h0m-4.7 4h0m45.3 -0.4h0m-6.4 -9.6h0m4.2 -5.2h0m9.7 15.3h0m-15 -10.4h0m4.4 6.9h0m2 1.4h0m-4 16.1h0m9.6 -19.3h0m-3.9 7h0m-28 -5.7h0m34.8 -10.2h0m-4.5 3.6h0m-25 0.6h0m14.5 17.3h0m7.4 15.6h0m1.8 -17.2h0m-29.8 -5.3h0m-15.4 -2.9h0m32 -16.4h0m-4.4 14.9h0m-2.5 -16h0m7.3 25.9h0m-5.2 9.7h0m0.6 -27.6h0m3.2 28.1h0m12.7 6.3h0m-50.6 -14.3h0m2.2 -12.6h0m12.7 -10.8h0m3.4 15.4h0m-10.6 -12.6h0m9.8 13.1h0m4.1 22.7h0m15 -7.5h0m-10.8 8.1h0m14.6 -20.7h0m-25.3 26.6h0m-0.6 -9.2h0m-8.4 -8.4h0m12.4 -24.4h0m38.9 5.1h0m-39.9 12.9h0m24.5 -8.1h0m-15.5 6.3h0m18.4 -42h0m-29.9 62h0m8.8 5.3h0m-25 -1.5h0m37.2 -7h0m-29.8 -15.1h0m20.1 -18.1h0m-21.1 16.6h0m36.9 0.5h0m3.1 -1.6h0m6.7 -4.8h0m-5.1 15.7h0m-47.7 -21.7h0m45.3 9.6h0m-28.7 -4.1h0m-1.5 -4.3h0m-4.1 -0.3h0m8.8 -3.1h0m-4.8 23.4h0m-10.5 -18.8h0m34.7 28.4h0m0 7.7h0m6.1 -24.1h0m-22.8 -11h0m-0.5 -1h0m27.7 1.7h0m5.6 -6.9h0m-48.8 36.8h0m38.3 -17.1h0m5.4 -4.5h0m-19.1 8.2h0m13.2 -15.9h0m1.3 -3.6h0m10.9 3.8h0m-4.7 2.7h0m-1.1 -30.8h0m-9.2 31.4h0m-21.3 0.6h0m-14.4 -16.7h0m20.4 -8.4h0m-13.1 38.1h0m3.7 1.2h0m0.1 -32.8h0m-17.5 3.1h0m20.5 3.9h0m26 15.4h0m-20.2 -12.8h0m16.8 28.9h0m-1 -3.7h0m1.9 -37.8h0m-41.5 39.3h0m27.2 -15.3h0m18.5 -11h0m-6.3 4.4h0m1.6 19.6h0m15.5 -7h0m-54.1 -16.3h0m24.1 14.2h0m-4.8 -29.1h0m-12.4 25h0m1 -27.3h0m-3.1 25.6h0m8.6 -17.4h0m-16.2 11.1h0m40.1 5.2h0m-12.7 107.3h0m16.6 0h0m106.2 -117.4h0m19.5 34.1h0m-8.2 -49.4h0m16.1 23h0m-3.9 15.7h0m-17 -15.3h0m-17.5 2.3h0m5.5 -9.5h0m-4.9 -0.6h0m5.2 -4.7h0m5.4 33.6h0m1.6 -20.9h0m32.9 12.1h0m-4.3 12.9h0m-24.5 -10.4h0m15.2 3.6h0m-32.1 -19.7h0m40.8 9.3h0m9.1 -9h0m-41.2 6.1h0m27.4 -3h0m-17.7 -4.7h0m21.9 17.5h0m-33.7 -8.9h0m40.7 0.2h0m-6.9 4.9h0m14.4 6.5h0m-29.3 -17.5h0m-3.3 -4.8h0m-8.6 -16.7h0m12.2 22.6h0m-16.7 -0.8h0m33.6 18.5h0m11.6 -14.1h0m-10.3 -18.1h0m-19.8 -10.2h0m6.4 20.4h0m5 -15.9h0m-16.7 -0.4h0m8.2 -6.1h0m20.6 18.5h0m-27.5 18.6h0m-18.2 -10.7h0m32.3 -14.3h0m-25.7 24.4h0m17.9 -7.3h0m5 11.1h0m-30.7 -3.7h0m46.7 12h0m-32.7 -35.6h0m41.2 25.2h0m-56.1 -10.6h0m11.2 -5.6h0m19.1 11.1h0m2.1 10.9h0m-33.8 -6.6h0m33.2 6.3h0m8.7 -16h0m-8.1 10.1h0m-16.1 -23.8h0m0.2 20.2h0m-14.3 -12h0m13.5 20h0m-2.5 11.7h0m33.8 -19.7h0m-32.8 -17.8h0m30.8 -0.3h0m-22.2 -3h0m4.5 22.1h0m0.8 -0.7h0m-15.6 -6.7h0m-5.1 6.4h0m18.7 -12h0m-10.4 -4.1h0m41 -1.4h0m-49 23.8h0m21.9 -31h0m6.7 46.3h0m-0.2 -21.5h0m9.2 2.9h0m-36.9 -6.8h0m15.4 3.3h0m-10.9 -19.2h0m-14 26h0m51 -20.6h0m3.2 25.6h0m2.3 -15.1h0m-31.3 -5.5h0m-11 -8.2h0m29.8 29.3h0m-26.4 14h0m33 -53.3h0m4.4 36h0m-50.7 -8.8h0m16.1 -1.6h0m25.4 -21.5h0m-10.1 9.2h0m-15.6 -6.6h0m29 -1.7h0m-48 11.2h0m56.5 9.9h0m-20.9 -21.4h0m-30.5 4.6h0m30.1 9.4h0m-31.9 29.3h0m42.4 -16.9h0m-9.2 -14.2h0m7.7 12.6h0m-7.3 -19.5h0m20.2 -23.4h0m-34 34.8h0m27.5 -3.6h0m-31.7 -6.9h0m1.5 -12.5h0m2.7 53.5h0m-7.6 -22.3h0m6 -26.3h0m10.1 20h0m-3.3 23.1h0m27.8 -31h0m-24.8 25.5h0m16.3 -30.7h0m-33.2 -0.9h0m-0.4 18.6h0m-5.6 10.8h0m19.9 -23.1h0m17.5 12h0m-18.3 -0.9h0m12.1 4.1h0m-38.9 -1.4h0m15.2 6.7h0m39.8 -24.9h0m-8.5 -4.2h0m-29.9 27.4h0m31.2 5.9h0m-4.6 -28h0m9.2 -7.4h0m-26.5 10.3h0m7.8 -8.3h0m-32.5 4.8h0m9 9.9h0m31.5 4.6h0m-0.1 6.9h0m-39.3 -9.2h0m-3.6 23h0m30.2 -44.4h0m-4.3 35.6h0m12.5 -19.1h0m-37.3 -1.4h0m12 6.3h0m-3.4 -0.7h0m17.4 10.3h0m12.7 -5.1h0m11.7 -16h0m-46.5 0.7h0m-6.3 27.9h0m55.5 -17.4h0m-55.8 23.3h0m43.6 -22.9h0m-40.6 -2.2h0m41.8 19.6h0m0.3 -38.3h0m-7.7 38.4h0m-10.5 -35.4h0m8.6 39.5h0m-32.6 -32.6h0m27 36.2h0m28 -19.3h0m-28.5 11h0m-8.7 -22h0m11 15.5h0m-26.5 -8.3h0m6.1 -6.1h0m22.3 16.9h0m6 -5.4h0m-19 -11.6h0m18.2 16.5h0m1.2 -18.4h0m-9.7 29.8h0m-14.2 -52.3h0m-3.2 12.7h0m-4.6 35.3h0m-0.5 -9.1h0m7.9 -6.1h0m37.8 -12.5h0m-15.7 -2.6h0m-4.7 -4.4h0m-3.2 -1.3h0m-25.8 31.3h0m-3.3 -17.6h0m18.9 4.5h0m9.4 -10.5h0m-0.6 10.4h0m20.1 22.4h0m10.8 -17.9h0m-33.1 -40.8h0m-9.4 33.9h0m30.3 -16.3h0m-21.8 17.5h0m-12.1 2.9h0m-7.7 -4.2h0m-1.7 3.4h0m43.2 -14.9h0m0.9 18h0m3 19.4h0m-18.7 -37.6h0m15.2 4.7h0m-24.4 13h0m17.1 -3.6h0m-17.4 -12.5h0m34 5.2h0m-48 18.7h0m-0.6 -32.2h0m43.4 -16.3h0m-4.3 34.7h0m-24.1 13.9h0m14.5 -28.2h0m-23.2 -4.6h0m-6.6 31.3h0m16.8 8.5h0m18.1 -2.2h0m6 -11.6h0m-39.1 8.3h0m49.1 -8.6h0m-49.3 -0.1h0m-7.1 16.5h0m47.5 -26.8h0m-14.6 -14.5h0m5.4 47.1h0m-9.6 -24.5h0m-21.7 3.1h0m45.4 4.3h0m-49 -11.3h0m23.6 15.5h0m-11.5 -25.5h0m-17.7 15.9h0m23.3 9.4h0m28.3 -19.7h0m4.9 4.4h0m-1.3 -18.1h0m-38.6 17.3h0m26.1 7.4h0m15.1 -31.3h0m-32.3 23.2h0m12.1 -2h0m-13.3 -15h0m5.7 27.6h0m-9.4 -6.3h0m35.5 9.3h0m-32.2 -37.3h0m15.6 38.6h0m-4.3 3.5h0m-27.3 0.4h0m9.4 -40.5h0m6.4 10.1h0m-10.8 24.3h0m32.9 0.6h0m-16.9 -42.1h0m10.1 40.4h0m15.8 -9.2h0m-2.1 10.3h0m-47.5 -43.9h0m54.3 43.9h0m-32.3 9.8h0m-3.7 -22.1h0m24.2 -1.5h0m-0.9 8.2h0m-14.5 5.7h0m10.3 15.4h0m-40.7 -13h0m48 -38.2h0m-27.1 48.5h0m-3.7 -40.4h0m-15.2 -14h0m12.8 13h0m-3.3 13.2h0m36.3 -12.9h0m-3.7 0.3h0m8.5 35.7h0m-18 -26.3h0m22.7 21.4h0m-12.1 14.8h0m-37.3 -42h0m3.5 24.5h0m35.8 -14.8h0m-46.1 21.6h0m35.2 -31.9h0m-13.1 5.8h0m23 12.7h0m2.5 8.2h0m-41.9 -2.6h0m49.2 -12.1h0m-20.2 11.3h0m-25.2 5h0m3 -22h0m-11.1 3.1h0m25.7 -9.2h0m29.4 2.1h0m-1.8 28.4h0m-10.4 -18h0m7.7 13.8h0m-38.8 6.7h0m24.3 -20.7h0m-15.3 5.6h0m31 -9.6h0m-55.2 11.6h0m32 -15.1h0m-27.8 11.5h0m4.6 -5.8h0m-8.2 -11h0m35.3 -9.6h0m-25.9 29.1h0m-5.5 22.5h0m23.6 -6.1h0m23.7 -38.5h0m-28.8 -7.3h0m-9.8 12.3h0m17.1 -8.8h0m-29.6 25.3h0m37.1 2.6h0m-0.1 -25.3h0m-11.2 7.1h0m14 3h0m-7 -1h0m13.4 8.7h0m-5.1 22.4h0m15.7 -38.3h0m-5 11.9h0m-41 13.6h0m29 -3.3h0m-25 -18.6h0m0.2 20.9h0m22.7 6.5h0m16.6 -20.9h0m-1.5 -6.3h0m-37.7 -1.2h0m24.5 1.3h0m3.7 7.3h0m2.4 6.6h0m-15.2 23.6h0m17.8 -24.1h0m-33.7 6.3h0m33.3 -30.9h0m6.2 29.4h0m-35.2 -11.3h0m-17.1 -6.6h0m38.7 26.5h0m-37.3 0.5h0m25.1 -33.4h0m23.8 0.9h0m-8.7 39.4h0m14.2 -23.9h0m-53.3 -17.4h0m26.4 29.4h0m11.1 -11.5h0m-36.3 -0.8h0m3.9 6.3h0m32.9 2.4h0m-25.1 29.4h0m-9.9 -20.9h0m34.7 -10.6h0m-38.4 -7.6h0m3.4 -21.5h0m-7.6 -9.4h0m54.7 14.7h0m-38.2 16.3h0m-9 17.6h0m39.2 -12.3h0m-2.5 -17.4h0m-43.5 16.6h0m1.2 -5.4h0m50.3 -14h0m-53.5 30h0m55.2 -2.9h0m-2.4 -30.2h0m-28.3 12.7h0m-17.8 -5.5h0m21.3 9.3h0m8.6 17.6h0m8.7 -32.1h0m-31.7 23.6h0m39.9 -12.4h0m5.5 -1.1h0m-15.6 1.6h0m-10.2 21.9h0m-6.6 -22.4h0m22.9 24.4h0m3.9 -22.1h0m-37.5 10h0m-6.9 -26.2h0m-3.3 28.8h0m16.9 -6h0m0.3 0.2h0m13.3 24.2h0m-12.5 -23h0m13.9 -2.6h0m-20.6 10.1h0m39.4 -8.4h0m-21.8 -5.9h0m2.1 -1.5h0m13.3 -2.3h0m-8.9 -6.9h0m-19.7 -1.2h0m-8.6 19.5h0m-9.2 -8.4h0m15.6 4.9h0m-14.7 5.9h0m29.2 0.6h0m-27.2 7.9h0m47.3 -17.3h0m-49.5 -10.5h0m51 18.9h0m-39.3 0.8h0m28.4 5.9h0m-25.3 5.5h0m22 -3h0m-5.9 -17.4h0m-33.8 25.2h0m42.5 -44.5h0m-2.9 10.9h0m-2.8 10.3h0m-11.5 8.9h0m16.9 -20.5h0m10 16.8h0m-6.4 -31h0m-33.8 28.2h0m23.8 -8h0m-12.8 17.5h0m-20.5 -26.1h0m11.9 8h0m-10.7 -0.1h0m37.2 -16h0m-31.8 34.5h0m26.4 13.3h0m-24.6 1.7h0m13.9 -17.3h0m27.8 -4.7h0m3.9 0.3h0m-10 -11.7h0m2.4 -8.1h0m-24.2 24.6h0m3.8 -26.6h0m18.2 24h0m-4.5 6h0m-15.1 -23.4h0m-6 -1.7h0m0.8 2.4h0m35.3 22.9h0m-14.1 -32.4h0m-36.4 13.2h0m5.2 16.1h0m-8.2 -11.1h0m48.5 -2.2h0m5.4 3.1h0m-25.6 7.4h0m-18 -30.6h0m1.2 29.4h0m10.3 -11.8h0m-26.5 5.8h0m22.5 -4.2h0m28.5 25.4h0m-35.5 -49h0m-9.7 6.8h0m4.1 20.9h0m-7.5 -16.1h0m12.1 14.3h0m11.7 -9.9h0m17.2 12.3h0m-18.3 19.7h0m-19.9 -12.9h0m43.6 -0.3h0m3.5 1.6h0m-13.3 18h0m1.6 -24.2h0m-16.3 -10.8h0m25.7 2.6h0m-25.1 16h0m-4.4 -33.4h0m-12.6 25.4h0m9.1 -7.8h0m-13.5 7.8h0m29.6 8.1h0m9.1 -12.7h0m3.7 14.5h0m-40.5 2.2h0m9.1 10.5h0m36.7 -27.7h0m3.1 -5.9h0m-3.2 8.9h0m-29.7 4.6h0m2.1 -2.4h0m-4 -13.9h0m1.6 17.9h0m2 -6.1h0m-19.4 -5.6h0m18.4 6.5h0m7.2 -6.1h0m18.8 -4.4h0m-5.4 12.6h0m-23.8 -29.5h0m14.7 34.8h0m4.2 -9.2h0m19.8 -3.3h0m-32.1 3.9h0m11.6 14.6h0m4.1 -15.6h0m-4.4 13.3h0m-24.4 -10.6h0m25.5 -9.3h0m5.8 -3h0m-16.8 10.4h0m-12.4 6.1h0m40 -35.1h0m-25.2 30.2h0m-14 -25.7h0m28.6 34.6h0m-17 -13.6h0m32.6 -18h0m-52.8 32.9h0m19.6 4.2h0m16.6 -28.9h0m16.4 -8.2h0m-25.9 10.1h0m-1.9 5h0m10 13h0m-38.6 -11.8h0m-2.9 -6.9h0m19.8 16.8h0m-0.3 16.6h0m-12.6 -36.6h0m42.9 30.5h0m1.9 2.3h0m-28.1 -11.6h0m-1.7 -20.8h0m7.1 31.8h0m18.8 -17.8h0m-28.1 -24.3h0m14.1 19.4h0m13.3 8.3h0m-4.6 8h0m-38.1 10h0m26.1 -39.3h0m22.8 36.4h0m-1.8 -19.7h0m-48.4 -11.2h0m30.5 20.9h0m14.9 -5.1h0m-25.5 -16.4h0m15.3 12h0m-0.1 -14.6h0m-35.6 1.1h0m42.7 -4.8h0m-11.9 38.9h0m-7.9 -23.1h0m-12.8 3.1h0m21.8 3.5h0m18.9 20.2h0m-51.7 -20.6h0m36.3 -19h0m-9.7 4.1h0m-17 22.2h0m3.5 -7.9h0m-12.8 0h0m37.7 -12.3h0m5.9 20h0m2.8 -0.6h0m-29.2 10.4h0m12.8 -29.5h0m3.5 -14.6h0m-20.1 19.8h0m25.3 -2.8h0m-8.4 -2.6h0m19.6 25.8h0m2.5 -23.4h0m-51.5 -12h0m33.8 6.4h0m14.2 16.4h0m-45.7 7.5h0m10.5 -1.1h0m-13.7 -24.8h0m29.6 23.9h0m-26.2 -9.6h0m27.4 -1.7h0m-31.8 7h0m9.5 8.4h0m10.4 -18h0m10 15.8h0m-1.1 -4.4h0m-2 -20.9h0m-13.9 5.7h0m34.5 38.5h0m-20.1 -14.1h0m-9.3 -25h0m3.3 22.4h0m36.7 -22.9h0m-12.7 -3.4h0m4.4 0.1h0m-2 -9.5h0m-49 40.6h0m12 -5.4h0m17.9 -132.3h0m6.9 0h0m-6.9 53.3h0m1.7 0h0m-17.7 123.7h0m16 0h0m-25 80.5h0m25 0h0" stroke="#0d0d0d" stroke-width="4.8" stroke-linecap="round" fill="none"/>
<text transform="translate(865.3 1303.6)" style="font-family:'Liberation Sans',Arial,sans-serif;font-size:14.5px" text-anchor="end" fill="#433b3b">2.5</text>
<text transform="translate(865.3 1378.1)" style="font-family:'Liberation Sans',Arial,sans-serif;font-size:14.5px" text-anchor="end" fill="#433b3b">0.0</text>
<text transform="translate(865.3 1452.6)" style="font-family:'Liberation Sans',Arial,sans-serif;font-size:14.5px" text-anchor="end" fill="#433b3b">-2.5</text>
<text transform="translate(865.3 1527.1)" style="font-family:'Liberation Sans',Arial,sans-serif;font-size:14.5px" text-anchor="end" fill="#433b3b">-5.0</text>
<text transform="translate(955.8 1540)" style="font-family:'Liberation Sans',Arial,sans-serif;font-size:14.5px" text-anchor="middle" fill="#433b3b">boy</text>
<text transform="translate(1094.8 1540)" style="font-family:'Liberation Sans',Arial,sans-serif;font-size:14.5px" text-anchor="middle" fill="#433b3b">girl</text>
<text transform="translate(824.4 1381.3) rotate(-90)" style="font-family:'Liberation Sans',Arial,sans-serif;font-size:15px;white-space:pre" text-anchor="middle" xml:space="preserve" dominant-baseline="central">CTSO  NPX</text>
<text transform="translate(1023.4 1213.5)" style="font-family:'Liberation Sans',Arial,sans-serif;font-size:14.4px;font-weight:bold" text-anchor="middle">CTSO</text>
<text transform="translate(1023.4 1229.2)" style="font-family:'Liberation Sans',Arial,sans-serif;font-size:14.5px;font-weight:bold;white-space:pre" text-anchor="middle" xml:space="preserve">q =  0.0315</text>
<line x1="137.8" y1="1667.8" x2="361" y2="1667.8" stroke="#f3efef" stroke-width="1.1"/>
<line x1="137.8" y1="1698.8" x2="361" y2="1698.8" stroke="#f3efef" stroke-width="1.1"/>
<line x1="137.8" y1="1729.8" x2="361" y2="1729.8" stroke="#f3efef" stroke-width="1.1"/>
<line x1="137.8" y1="1760.8" x2="361" y2="1760.8" stroke="#f3efef" stroke-width="1.1"/>
<line x1="137.8" y1="1683.3" x2="361" y2="1683.3" stroke="#ebe6e6" stroke-width="1.4"/>
<line x1="137.8" y1="1714.3" x2="361" y2="1714.3" stroke="#ebe6e6" stroke-width="1.4"/>
<line x1="137.8" y1="1745.3" x2="361" y2="1745.3" stroke="#ebe6e6" stroke-width="1.4"/>
<line x1="137.8" y1="1776.3" x2="361" y2="1776.3" stroke="#ebe6e6" stroke-width="1.4"/>
<line x1="197" y1="1654.5" x2="197" y2="1790.9" stroke="#eeeaea" stroke-width="1.4"/>
<line x1="299.7" y1="1654.5" x2="299.7" y2="1790.9" stroke="#eeeaea" stroke-width="1.4"/>
<polygon points="197.0 1779.4 197.1 1778.3 197.2 1777.3 197.2 1776.2 197.2 1775.2 197.2 1774.1 197.2 1773.0 197.2 1772.0 197.2 1770.9 197.2 1769.9 197.2 1768.8 197.2 1767.7 197.2 1766.7 197.2 1765.6 197.2 1764.6 197.2 1763.5 197.2 1762.4 197.2 1761.4 197.2 1760.3 197.2 1759.3 197.2 1758.2 197.2 1757.1 197.6 1756.1 198.2 1755.0 198.9 1754.0 199.6 1752.9 200.4 1751.8 201.3 1750.8 202.1 1749.7 203.0 1748.7 204.0 1747.6 204.9 1746.5 205.9 1745.5 206.9 1744.4 208.0 1743.4 209.0 1742.3 210.1 1741.2 211.2 1740.2 212.4 1739.1 213.5 1738.0 214.7 1737.0 215.9 1735.9 217.1 1734.9 218.3 1733.8 219.5 1732.7 220.8 1731.7 222.1 1730.6 223.4 1729.6 224.6 1728.5 226.0 1727.4 227.3 1726.4 228.6 1725.3 230.0 1724.3 231.3 1723.2 232.7 1722.1 234.1 1721.1 235.5 1720.0 236.9 1719.0 238.4 1717.9 239.8 1716.8 241.3 1715.8 242.7 1714.7 242.9 1713.7 242.2 1712.6 241.3 1711.5 240.3 1710.5 239.3 1709.4 238.2 1708.4 237.1 1707.3 235.9 1706.2 234.7 1705.2 233.5 1704.1 232.3 1703.1 231.0 1702.0 229.8 1700.9 228.5 1699.9 227.1 1698.8 225.8 1697.8 224.4 1696.7 223.1 1695.6 221.7 1694.6 220.3 1693.5 218.9 1692.5 217.4 1691.4 216.0 1690.3 214.5 1689.3 213.1 1688.2 211.6 1687.2 210.1 1686.1 208.6 1685.0 207.1 1684.0 205.5 1682.9 204.0 1681.9 202.5 1680.8 200.9 1679.7 199.3 1678.7 197.8 1677.6 197.2 1676.6 197.2 1675.5 197.2 1674.4 197.2 1673.4 197.2 1672.3 197.2 1671.3 197.2 1670.2 197.2 1669.1 197.2 1668.1 197.2 1667.0 197.2 1666.0 197.1 1664.9 197.0 1663.8 197.0 1663.8 196.9 1664.9 196.8 1666.0 196.8 1667.0 196.8 1668.1 196.8 1669.1 196.8 1670.2 196.8 1671.3 196.8 1672.3 196.8 1673.4 196.8 1674.4 196.8 1675.5 196.8 1676.6 196.2 1677.6 194.7 1678.7 193.1 1679.7 191.5 1680.8 190.0 1681.9 188.5 1682.9 186.9 1684.0 185.4 1685.0 183.9 1686.1 182.4 1687.2 180.9 1688.2 179.5 1689.3 178.0 1690.3 176.6 1691.4 175.1 1692.5 173.7 1693.5 172.3 1694.6 170.9 1695.6 169.6 1696.7 168.2 1697.8 166.9 1698.8 165.5 1699.9 164.2 1700.9 163.0 1702.0 161.7 1703.1 160.5 1704.1 159.3 1705.2 158.1 1706.2 156.9 1707.3 155.8 1708.4 154.7 1709.4 153.7 1710.5 152.7 1711.5 151.8 1712.6 151.1 1713.7 151.3 1714.7 152.7 1715.8 154.2 1716.8 155.6 1717.9 157.1 1719.0 158.5 1720.0 159.9 1721.1 161.3 1722.1 162.7 1723.2 164.0 1724.3 165.4 1725.3 166.7 1726.4 168.0 1727.4 169.4 1728.5 170.6 1729.6 171.9 1730.6 173.2 1731.7 174.5 1732.7 175.7 1733.8 176.9 1734.9 178.1 1735.9 179.3 1737.0 180.5 1738.0 181.6 1739.1 182.8 1740.2 183.9 1741.2 185.0 1742.3 186.0 1743.4 187.1 1744.4 188.1 1745.5 189.1 1746.5 190.0 1747.6 191.0 1748.7 191.9 1749.7 192.7 1750.8 193.6 1751.8 194.4 1752.9 195.1 1754.0 195.8 1755.0 196.4 1756.1 196.8 1757.1 196.8 1758.2 196.8 1759.3 196.8 1760.3 196.8 1761.4 196.8 1762.4 196.8 1763.5 196.8 1764.6 196.8 1765.6 196.8 1766.7 196.8 1767.7 196.8 1768.8 196.8 1769.9 196.8 1770.9 196.8 1772.0 196.8 1773.0 196.8 1774.1 196.8 1775.2 196.8 1776.2 196.8 1777.3 196.9 1778.3 197.0 1779.4" fill="#b385c4" stroke="#262626" stroke-width="1.25" stroke-linejoin="round"/>
<polygon points="299.7 1784.7 299.8 1783.6 299.9 1782.5 299.9 1781.3 299.9 1780.2 299.9 1779.0 299.9 1777.9 299.9 1776.8 300.0 1775.6 300.4 1774.5 301.0 1773.4 301.5 1772.2 301.7 1771.1 301.5 1769.9 301.1 1768.8 300.5 1767.7 300.1 1766.5 299.9 1765.4 299.9 1764.3 299.9 1763.1 299.9 1762.0 299.9 1760.8 299.9 1759.7 300.0 1758.6 300.6 1757.4 301.4 1756.3 302.3 1755.2 303.4 1754.0 304.5 1752.9 305.7 1751.7 307.0 1750.6 308.3 1749.5 309.7 1748.3 311.1 1747.2 312.5 1746.1 314.0 1744.9 315.4 1743.8 316.9 1742.6 318.4 1741.5 319.9 1740.4 321.4 1739.2 322.9 1738.1 324.3 1737.0 325.8 1735.8 327.2 1734.7 328.6 1733.5 329.9 1732.4 331.2 1731.3 332.5 1730.1 333.7 1729.0 334.9 1727.9 335.9 1726.7 336.9 1725.6 337.9 1724.4 338.7 1723.3 339.4 1722.2 339.9 1721.0 340.2 1719.9 340.2 1718.8 340.1 1717.6 340.0 1716.5 339.8 1715.3 339.5 1714.2 339.2 1713.1 338.7 1711.9 338.1 1710.8 337.4 1709.6 336.5 1708.5 335.6 1707.4 334.5 1706.2 333.2 1705.1 331.9 1704.0 330.4 1702.8 328.7 1701.7 327.0 1700.5 325.1 1699.4 323.1 1698.3 321.1 1697.1 318.9 1696.0 316.6 1694.9 314.3 1693.7 312.0 1692.6 309.7 1691.4 307.4 1690.3 305.2 1689.2 303.2 1688.0 301.4 1686.9 300.1 1685.8 299.9 1684.6 299.9 1683.5 299.9 1682.3 299.9 1681.2 299.9 1680.1 300.0 1678.9 300.4 1677.8 300.7 1676.7 300.7 1675.5 300.4 1674.4 300.0 1673.2 299.9 1672.1 299.9 1671.0 299.9 1669.8 299.9 1668.7 299.9 1667.6 299.9 1666.4 299.9 1665.3 299.9 1664.1 299.9 1663.0 299.8 1661.9 299.7 1660.7 299.7 1660.7 299.6 1661.9 299.5 1663.0 299.5 1664.1 299.5 1665.3 299.5 1666.4 299.5 1667.6 299.5 1668.7 299.5 1669.8 299.5 1671.0 299.5 1672.1 299.4 1673.2 299.0 1674.4 298.7 1675.5 298.7 1676.7 299.0 1677.8 299.4 1678.9 299.5 1680.1 299.5 1681.2 299.5 1682.3 299.5 1683.5 299.5 1684.6 299.3 1685.8 298.0 1686.9 296.2 1688.0 294.2 1689.2 292.0 1690.3 289.7 1691.4 287.4 1692.6 285.1 1693.7 282.8 1694.9 280.5 1696.0 278.3 1697.1 276.3 1698.3 274.3 1699.4 272.4 1700.5 270.7 1701.7 269.0 1702.8 267.5 1704.0 266.2 1705.1 264.9 1706.2 263.8 1707.4 262.9 1708.5 262.0 1709.6 261.3 1710.8 260.7 1711.9 260.2 1713.1 259.9 1714.2 259.6 1715.3 259.4 1716.5 259.3 1717.6 259.2 1718.8 259.2 1719.9 259.5 1721.0 260.0 1722.2 260.7 1723.3 261.5 1724.4 262.5 1725.6 263.5 1726.7 264.5 1727.9 265.7 1729.0 266.9 1730.1 268.2 1731.3 269.5 1732.4 270.8 1733.5 272.2 1734.7 273.6 1735.8 275.1 1737.0 276.5 1738.1 278.0 1739.2 279.5 1740.4 281.0 1741.5 282.5 1742.6 284.0 1743.8 285.4 1744.9 286.9 1746.1 288.3 1747.2 289.7 1748.3 291.1 1749.5 292.4 1750.6 293.7 1751.7 294.9 1752.9 296.0 1754.0 297.1 1755.2 298.0 1756.3 298.8 1757.4 299.4 1758.6 299.5 1759.7 299.5 1760.8 299.5 1762.0 299.5 1763.1 299.5 1764.3 299.5 1765.4 299.3 1766.5 298.9 1767.7 298.3 1768.8 297.9 1769.9 297.7 1771.1 297.9 1772.2 298.4 1773.4 299.0 1774.5 299.4 1775.6 299.5 1776.8 299.5 1777.9 299.5 1779.0 299.5 1780.2 299.5 1781.3 299.5 1782.5 299.6 1783.6 299.7 1784.7" fill="#88a1cf" stroke="#262626" stroke-width="1.25" stroke-linejoin="round"/>
<line x1="197" y1="1679" x2="197" y2="1704.4" stroke="#333" stroke-width="1.2"/>
<line x1="197" y1="1723.5" x2="197" y2="1750.3" stroke="#333" stroke-width="1.2"/>
<rect x="186.2" y="1704.4" width="21.7" height="19.1" fill="#a058b2" stroke="#333" stroke-width="1.2"/>
<line x1="186.2" y1="1714.1" x2="207.8" y2="1714.1" stroke="#1a1a1a" stroke-width="2.6"/>
<line x1="299.7" y1="1692" x2="299.7" y2="1709.7" stroke="#333" stroke-width="1.2"/>
<line x1="299.7" y1="1729.6" x2="299.7" y2="1748.6" stroke="#333" stroke-width="1.2"/>
<rect x="288.8" y="1709.7" width="21.7" height="19.8" fill="#6690cc" stroke="#333" stroke-width="1.2"/>
<line x1="288.8" y1="1719.3" x2="310.6" y2="1719.3" stroke="#1a1a1a" stroke-width="2.6"/>
<text transform="translate(127.6 1689.5)" style="font-family:'Liberation Sans',Arial,sans-serif;font-size:17.4px" text-anchor="end" fill="#433b3b">2.5</text>
<text transform="translate(127.6 1720.5)" style="font-family:'Liberation Sans',Arial,sans-serif;font-size:17.4px" text-anchor="end" fill="#433b3b">0.0</text>
<text transform="translate(127.6 1751.5)" style="font-family:'Liberation Sans',Arial,sans-serif;font-size:17.4px" text-anchor="end" fill="#433b3b">-2.5</text>
<text transform="translate(127.6 1782.5)" style="font-family:'Liberation Sans',Arial,sans-serif;font-size:17.4px" text-anchor="end" fill="#433b3b">-5.0</text>
<text transform="translate(197 1811.5)" style="font-family:'Liberation Sans',Arial,sans-serif;font-size:17.3px" text-anchor="middle" fill="#433b3b">no</text>
<text transform="translate(299.7 1811.5)" style="font-family:'Liberation Sans',Arial,sans-serif;font-size:17.3px" text-anchor="middle" fill="#433b3b">yes</text>
<text transform="translate(77.8 1722.5) rotate(-90)" style="font-family:'Liberation Sans',Arial,sans-serif;font-size:18px;white-space:pre" text-anchor="middle" xml:space="preserve" dominant-baseline="central">SKAP2  NPX</text>
<text transform="translate(246.2 1622)" style="font-family:'Liberation Sans',Arial,sans-serif;font-size:17.6px;font-weight:bold" text-anchor="middle">SKAP2</text>
<text transform="translate(246.2 1641.1)" style="font-family:'Liberation Sans',Arial,sans-serif;font-size:17.6px;font-weight:bold;white-space:pre" text-anchor="middle" xml:space="preserve">p =  0.00475</text>
<line x1="443.8" y1="1667.5" x2="669.2" y2="1667.5" stroke="#f3efef" stroke-width="1.1"/>
<line x1="443.8" y1="1694" x2="669.2" y2="1694" stroke="#f3efef" stroke-width="1.1"/>
<line x1="443.8" y1="1720.5" x2="669.2" y2="1720.5" stroke="#f3efef" stroke-width="1.1"/>
<line x1="443.8" y1="1747" x2="669.2" y2="1747" stroke="#f3efef" stroke-width="1.1"/>
<line x1="443.8" y1="1773.5" x2="669.2" y2="1773.5" stroke="#f3efef" stroke-width="1.1"/>
<line x1="443.8" y1="1680.7" x2="669.2" y2="1680.7" stroke="#ebe6e6" stroke-width="1.4"/>
<line x1="443.8" y1="1707.2" x2="669.2" y2="1707.2" stroke="#ebe6e6" stroke-width="1.4"/>
<line x1="443.8" y1="1733.7" x2="669.2" y2="1733.7" stroke="#ebe6e6" stroke-width="1.4"/>
<line x1="443.8" y1="1760.2" x2="669.2" y2="1760.2" stroke="#ebe6e6" stroke-width="1.4"/>
<line x1="443.8" y1="1786.7" x2="669.2" y2="1786.7" stroke="#ebe6e6" stroke-width="1.4"/>
<line x1="505.2" y1="1654.4" x2="505.2" y2="1790.8" stroke="#eeeaea" stroke-width="1.4"/>
<line x1="607.9" y1="1654.4" x2="607.9" y2="1790.8" stroke="#eeeaea" stroke-width="1.4"/>
<polygon points="505.2 1784.6 505.3 1783.4 505.4 1782.3 505.4 1781.2 505.4 1780.0 505.4 1778.9 505.4 1777.8 505.4 1776.6 505.4 1775.5 505.4 1774.3 505.4 1773.2 505.4 1772.1 505.4 1770.9 505.4 1769.8 505.4 1768.7 505.4 1767.5 505.4 1766.4 506.9 1765.2 509.0 1764.1 511.2 1763.0 513.6 1761.8 516.1 1760.7 518.5 1759.5 521.0 1758.4 523.4 1757.3 525.9 1756.1 528.2 1755.0 530.5 1753.9 532.7 1752.7 534.8 1751.6 536.8 1750.4 538.7 1749.3 540.5 1748.2 542.2 1747.0 543.7 1745.9 545.1 1744.8 546.4 1743.6 547.6 1742.5 548.6 1741.3 549.5 1740.2 550.3 1739.1 550.9 1737.9 551.4 1736.8 551.7 1735.7 551.9 1734.5 551.4 1733.4 549.6 1732.2 547.9 1731.1 546.2 1730.0 544.5 1728.8 542.9 1727.7 541.3 1726.6 539.7 1725.4 538.1 1724.3 536.6 1723.1 535.2 1722.0 533.7 1720.9 532.3 1719.7 530.9 1718.6 529.6 1717.4 528.3 1716.3 527.0 1715.2 525.8 1714.0 524.6 1712.9 523.4 1711.8 522.3 1710.6 521.2 1709.5 520.1 1708.3 519.1 1707.2 518.1 1706.1 517.1 1704.9 516.2 1703.8 515.3 1702.7 514.5 1701.5 513.7 1700.4 512.9 1699.2 512.1 1698.1 511.4 1697.0 510.8 1695.8 510.1 1694.7 509.5 1693.6 509.0 1692.4 508.4 1691.3 507.9 1690.1 507.5 1689.0 507.1 1687.9 506.7 1686.7 506.4 1685.6 506.1 1684.5 505.8 1683.3 505.6 1682.2 505.4 1681.0 505.4 1679.9 505.4 1678.8 505.4 1677.6 505.4 1676.5 505.4 1675.4 505.4 1674.2 505.4 1673.1 505.4 1671.9 505.4 1670.8 505.4 1669.7 505.4 1668.5 505.4 1667.4 505.4 1666.2 505.4 1665.1 505.4 1664.0 505.4 1662.8 505.3 1661.7 505.2 1660.6 505.2 1660.6 505.1 1661.7 505.0 1662.8 505.0 1664.0 505.0 1665.1 505.0 1666.2 505.0 1667.4 505.0 1668.5 505.0 1669.7 505.0 1670.8 505.0 1671.9 505.0 1673.1 505.0 1674.2 505.0 1675.4 505.0 1676.5 505.0 1677.6 505.0 1678.8 505.0 1679.9 505.0 1681.0 504.8 1682.2 504.6 1683.3 504.3 1684.5 504.0 1685.6 503.7 1686.7 503.3 1687.9 502.9 1689.0 502.5 1690.1 502.0 1691.3 501.4 1692.4 500.9 1693.6 500.3 1694.7 499.6 1695.8 499.0 1697.0 498.3 1698.1 497.5 1699.2 496.7 1700.4 495.9 1701.5 495.1 1702.7 494.2 1703.8 493.3 1704.9 492.3 1706.1 491.3 1707.2 490.3 1708.3 489.2 1709.5 488.1 1710.6 487.0 1711.8 485.8 1712.9 484.6 1714.0 483.4 1715.2 482.1 1716.3 480.8 1717.4 479.5 1718.6 478.1 1719.7 476.7 1720.9 475.2 1722.0 473.8 1723.1 472.3 1724.3 470.7 1725.4 469.1 1726.6 467.5 1727.7 465.9 1728.8 464.2 1730.0 462.5 1731.1 460.8 1732.2 459.0 1733.4 458.5 1734.5 458.7 1735.7 459.0 1736.8 459.5 1737.9 460.1 1739.1 460.9 1740.2 461.8 1741.3 462.8 1742.5 464.0 1743.6 465.3 1744.8 466.7 1745.9 468.2 1747.0 469.9 1748.2 471.7 1749.3 473.6 1750.4 475.6 1751.6 477.7 1752.7 479.9 1753.9 482.2 1755.0 484.5 1756.1 487.0 1757.3 489.4 1758.4 491.9 1759.5 494.3 1760.7 496.8 1761.8 499.2 1763.0 501.4 1764.1 503.5 1765.2 505.0 1766.4 505.0 1767.5 505.0 1768.7 505.0 1769.8 505.0 1770.9 505.0 1772.1 505.0 1773.2 505.0 1774.3 505.0 1775.5 505.0 1776.6 505.0 1777.8 505.0 1778.9 505.0 1780.0 505.0 1781.2 505.0 1782.3 505.1 1783.4 505.2 1784.6" fill="#b385c4" stroke="#262626" stroke-width="1.25" stroke-linejoin="round"/>
<polygon points="607.9 1770.2 608.0 1769.2 608.1 1768.2 608.1 1767.2 608.1 1766.1 608.1 1765.1 608.1 1764.1 608.9 1763.1 610.2 1762.1 611.8 1761.1 613.5 1760.1 615.4 1759.1 617.3 1758.1 619.3 1757.1 621.3 1756.1 623.3 1755.1 625.3 1754.1 627.3 1753.1 629.2 1752.1 631.1 1751.1 632.8 1750.1 634.5 1749.1 636.1 1748.1 637.7 1747.1 639.1 1746.1 640.4 1745.1 641.5 1744.1 642.6 1743.1 643.5 1742.1 644.3 1741.1 644.9 1740.1 645.5 1739.1 645.9 1738.0 646.1 1737.0 646.2 1736.0 646.2 1735.0 646.2 1734.0 646.1 1733.0 646.1 1732.0 646.0 1731.0 645.9 1730.0 645.7 1729.0 645.6 1728.0 645.4 1727.0 645.2 1726.0 645.0 1725.0 644.8 1724.0 644.5 1723.0 644.2 1722.0 643.9 1721.0 643.6 1720.0 643.3 1719.0 642.9 1718.0 642.6 1717.0 642.2 1716.0 641.8 1715.0 641.3 1714.0 640.9 1713.0 640.4 1712.0 639.9 1711.0 639.4 1709.9 638.9 1708.9 638.3 1707.9 637.8 1706.9 637.2 1705.9 636.6 1704.9 636.0 1703.9 635.3 1702.9 634.7 1701.9 634.0 1700.9 633.3 1699.9 632.6 1698.9 631.9 1697.9 631.2 1696.9 630.4 1695.9 629.7 1694.9 628.9 1693.9 628.1 1692.9 627.3 1691.9 626.5 1690.9 625.6 1689.9 624.8 1688.9 623.9 1687.9 623.1 1686.9 622.2 1685.9 621.3 1684.9 620.4 1683.9 619.5 1682.9 618.6 1681.8 617.7 1680.8 616.8 1679.8 615.9 1678.8 615.0 1677.8 614.1 1676.8 613.2 1675.8 612.3 1674.8 611.5 1673.8 610.6 1672.8 609.8 1671.8 609.0 1670.8 608.3 1669.8 608.1 1668.8 608.1 1667.8 608.1 1666.8 608.1 1665.8 608.1 1664.8 608.1 1663.8 608.1 1662.8 608.0 1661.8 607.9 1660.8 607.9 1660.8 607.8 1661.8 607.7 1662.8 607.7 1663.8 607.7 1664.8 607.7 1665.8 607.7 1666.8 607.7 1667.8 607.7 1668.8 607.5 1669.8 606.8 1670.8 606.0 1671.8 605.2 1672.8 604.3 1673.8 603.5 1674.8 602.6 1675.8 601.7 1676.8 600.8 1677.8 599.9 1678.8 599.0 1679.8 598.1 1680.8 597.2 1681.8 596.3 1682.9 595.4 1683.9 594.5 1684.9 593.6 1685.9 592.7 1686.9 591.9 1687.9 591.0 1688.9 590.2 1689.9 589.3 1690.9 588.5 1691.9 587.7 1692.9 586.9 1693.9 586.1 1694.9 585.4 1695.9 584.6 1696.9 583.9 1697.9 583.2 1698.9 582.5 1699.9 581.8 1700.9 581.1 1701.9 580.5 1702.9 579.8 1703.9 579.2 1704.9 578.6 1705.9 578.0 1706.9 577.5 1707.9 576.9 1708.9 576.4 1709.9 575.9 1711.0 575.4 1712.0 574.9 1713.0 574.5 1714.0 574.0 1715.0 573.6 1716.0 573.2 1717.0 572.9 1718.0 572.5 1719.0 572.2 1720.0 571.9 1721.0 571.6 1722.0 571.3 1723.0 571.0 1724.0 570.8 1725.0 570.6 1726.0 570.4 1727.0 570.2 1728.0 570.1 1729.0 569.9 1730.0 569.8 1731.0 569.7 1732.0 569.7 1733.0 569.6 1734.0 569.6 1735.0 569.6 1736.0 569.7 1737.0 569.9 1738.0 570.3 1739.1 570.9 1740.1 571.5 1741.1 572.3 1742.1 573.2 1743.1 574.3 1744.1 575.4 1745.1 576.7 1746.1 578.1 1747.1 579.7 1748.1 581.3 1749.1 583.0 1750.1 584.7 1751.1 586.6 1752.1 588.5 1753.1 590.5 1754.1 592.5 1755.1 594.5 1756.1 596.5 1757.1 598.5 1758.1 600.4 1759.1 602.3 1760.1 604.0 1761.1 605.6 1762.1 606.9 1763.1 607.7 1764.1 607.7 1765.1 607.7 1766.1 607.7 1767.2 607.7 1768.2 607.8 1769.2 607.9 1770.2" fill="#88a1cf" stroke="#262626" stroke-width="1.25" stroke-linejoin="round"/>
<line x1="505.2" y1="1689.8" x2="505.2" y2="1721.2" stroke="#333" stroke-width="1.2"/>
<line x1="505.2" y1="1743.1" x2="505.2" y2="1774.3" stroke="#333" stroke-width="1.2"/>
<rect x="494.3" y="1721.2" width="21.7" height="21.9" fill="#a058b2" stroke="#333" stroke-width="1.2"/>
<line x1="494.3" y1="1733.4" x2="516" y2="1733.4" stroke="#1a1a1a" stroke-width="2.6"/>
<line x1="607.9" y1="1682" x2="607.9" y2="1714.3" stroke="#333" stroke-width="1.2"/>
<line x1="607.9" y1="1738.8" x2="607.9" y2="1749.5" stroke="#333" stroke-width="1.2"/>
<rect x="597" y="1714.3" width="21.7" height="24.5" fill="#6690cc" stroke="#333" stroke-width="1.2"/>
<line x1="597" y1="1725.8" x2="618.8" y2="1725.8" stroke="#1a1a1a" stroke-width="2.6"/>
<text transform="translate(434.9 1686.9)" style="font-family:'Liberation Sans',Arial,sans-serif;font-size:17.4px" text-anchor="end" fill="#433b3b">5.0</text>
<text transform="translate(434.9 1713.4)" style="font-family:'Liberation Sans',Arial,sans-serif;font-size:17.4px" text-anchor="end" fill="#433b3b">2.5</text>
<text transform="translate(434.9 1739.9)" style="font-family:'Liberation Sans',Arial,sans-serif;font-size:17.4px" text-anchor="end" fill="#433b3b">0.0</text>
<text transform="translate(434.9 1766.4)" style="font-family:'Liberation Sans',Arial,sans-serif;font-size:17.4px" text-anchor="end" fill="#433b3b">-2.5</text>
<text transform="translate(434.9 1792.9)" style="font-family:'Liberation Sans',Arial,sans-serif;font-size:17.4px" text-anchor="end" fill="#433b3b">-5.0</text>
<text transform="translate(505.2 1811.5)" style="font-family:'Liberation Sans',Arial,sans-serif;font-size:17.3px" text-anchor="middle" fill="#433b3b">no</text>
<text transform="translate(607.9 1811.5)" style="font-family:'Liberation Sans',Arial,sans-serif;font-size:17.3px" text-anchor="middle" fill="#433b3b">yes</text>
<text transform="translate(385.8 1722.5) rotate(-90)" style="font-family:'Liberation Sans',Arial,sans-serif;font-size:18px;white-space:pre" text-anchor="middle" xml:space="preserve" dominant-baseline="central">FOXO1  NPX</text>
<text transform="translate(553.8 1622)" style="font-family:'Liberation Sans',Arial,sans-serif;font-size:17.6px;font-weight:bold" text-anchor="middle">FOXO1</text>
<text transform="translate(553.8 1641.1)" style="font-family:'Liberation Sans',Arial,sans-serif;font-size:17.6px;font-weight:bold;white-space:pre" text-anchor="middle" xml:space="preserve">p =  0.00467</text>
<line x1="737" y1="1670.2" x2="975.5" y2="1670.2" stroke="#f3efef" stroke-width="1.1"/>
<line x1="737" y1="1693.6" x2="975.5" y2="1693.6" stroke="#f3efef" stroke-width="1.1"/>
<line x1="737" y1="1716.9" x2="975.5" y2="1716.9" stroke="#f3efef" stroke-width="1.1"/>
<line x1="737" y1="1740.2" x2="975.5" y2="1740.2" stroke="#f3efef" stroke-width="1.1"/>
<line x1="737" y1="1763.5" x2="975.5" y2="1763.5" stroke="#f3efef" stroke-width="1.1"/>
<line x1="737" y1="1786.8" x2="975.5" y2="1786.8" stroke="#f3efef" stroke-width="1.1"/>
<line x1="737" y1="1658.6" x2="975.5" y2="1658.6" stroke="#ebe6e6" stroke-width="1.4"/>
<line x1="737" y1="1681.9" x2="975.5" y2="1681.9" stroke="#ebe6e6" stroke-width="1.4"/>
<line x1="737" y1="1705.2" x2="975.5" y2="1705.2" stroke="#ebe6e6" stroke-width="1.4"/>
<line x1="737" y1="1728.5" x2="975.5" y2="1728.5" stroke="#ebe6e6" stroke-width="1.4"/>
<line x1="737" y1="1751.8" x2="975.5" y2="1751.8" stroke="#ebe6e6" stroke-width="1.4"/>
<line x1="737" y1="1775.1" x2="975.5" y2="1775.1" stroke="#ebe6e6" stroke-width="1.4"/>
<line x1="802.5" y1="1654.5" x2="802.5" y2="1791.8" stroke="#eeeaea" stroke-width="1.4"/>
<line x1="911.5" y1="1654.5" x2="911.5" y2="1791.8" stroke="#eeeaea" stroke-width="1.4"/>
<polygon points="802.5 1785.6 802.6 1784.4 802.7 1783.3 802.7 1782.1 802.7 1781.0 802.7 1779.9 802.7 1778.7 802.7 1777.6 802.7 1776.4 802.7 1775.3 802.7 1774.1 802.7 1773.0 802.7 1771.8 802.7 1770.7 802.7 1769.5 802.7 1768.4 802.7 1767.3 802.7 1766.1 802.7 1765.0 802.7 1763.8 802.7 1762.7 802.7 1761.5 802.7 1760.4 802.7 1759.2 802.7 1758.1 802.7 1756.9 802.7 1755.8 802.7 1754.6 802.7 1753.5 802.7 1752.4 802.7 1751.2 802.7 1750.1 802.7 1748.9 802.7 1747.8 802.7 1746.6 802.7 1745.5 802.7 1744.3 802.7 1743.2 802.7 1742.0 802.7 1740.9 802.7 1739.8 802.7 1738.6 802.7 1737.5 802.7 1736.3 802.7 1735.2 802.7 1734.0 802.7 1732.9 802.7 1731.7 802.7 1730.6 802.7 1729.4 802.7 1728.3 802.7 1727.2 802.7 1726.0 802.7 1724.9 802.7 1723.7 802.7 1722.6 802.7 1721.4 802.7 1720.3 802.7 1719.1 802.7 1718.0 802.7 1716.8 802.7 1715.7 802.7 1714.5 802.7 1713.4 802.7 1712.3 802.7 1711.1 802.7 1710.0 802.7 1708.8 802.7 1707.7 802.9 1706.5 803.5 1705.4 804.3 1704.2 805.3 1703.1 806.5 1701.9 807.8 1700.8 809.3 1699.7 811.0 1698.5 812.8 1697.4 814.8 1696.2 816.9 1695.1 819.1 1693.9 821.5 1692.8 824.0 1691.6 826.6 1690.5 829.4 1689.3 832.2 1688.2 835.2 1687.0 838.3 1685.9 841.5 1684.8 844.8 1683.6 848.3 1682.5 851.8 1681.3 848.1 1680.2 843.5 1679.0 839.1 1677.9 834.8 1676.7 830.7 1675.6 826.6 1674.4 822.8 1673.3 819.0 1672.2 815.5 1671.0 812.2 1669.9 809.1 1668.7 806.3 1667.6 804.0 1666.4 802.7 1665.3 802.7 1664.1 802.7 1663.0 802.6 1661.8 802.5 1660.7 802.5 1660.7 802.4 1661.8 802.3 1663.0 802.3 1664.1 802.3 1665.3 801.0 1666.4 798.7 1667.6 795.9 1668.7 792.8 1669.9 789.5 1671.0 786.0 1672.2 782.2 1673.3 778.4 1674.4 774.3 1675.6 770.2 1676.7 765.9 1677.9 761.5 1679.0 756.9 1680.2 753.2 1681.3 756.7 1682.5 760.2 1683.6 763.5 1684.8 766.7 1685.9 769.8 1687.0 772.8 1688.2 775.6 1689.3 778.4 1690.5 781.0 1691.6 783.5 1692.8 785.9 1693.9 788.1 1695.1 790.2 1696.2 792.2 1697.4 794.0 1698.5 795.7 1699.7 797.2 1700.8 798.5 1701.9 799.7 1703.1 800.7 1704.2 801.5 1705.4 802.1 1706.5 802.3 1707.7 802.3 1708.8 802.3 1710.0 802.3 1711.1 802.3 1712.3 802.3 1713.4 802.3 1714.5 802.3 1715.7 802.3 1716.8 802.3 1718.0 802.3 1719.1 802.3 1720.3 802.3 1721.4 802.3 1722.6 802.3 1723.7 802.3 1724.9 802.3 1726.0 802.3 1727.2 802.3 1728.3 802.3 1729.4 802.3 1730.6 802.3 1731.7 802.3 1732.9 802.3 1734.0 802.3 1735.2 802.3 1736.3 802.3 1737.5 802.3 1738.6 802.3 1739.8 802.3 1740.9 802.3 1742.0 802.3 1743.2 802.3 1744.3 802.3 1745.5 802.3 1746.6 802.3 1747.8 802.3 1748.9 802.3 1750.1 802.3 1751.2 802.3 1752.4 802.3 1753.5 802.3 1754.6 802.3 1755.8 802.3 1756.9 802.3 1758.1 802.3 1759.2 802.3 1760.4 802.3 1761.5 802.3 1762.7 802.3 1763.8 802.3 1765.0 802.3 1766.1 802.3 1767.3 802.3 1768.4 802.3 1769.5 802.3 1770.7 802.3 1771.8 802.3 1773.0 802.3 1774.1 802.3 1775.3 802.3 1776.4 802.3 1777.6 802.3 1778.7 802.3 1779.9 802.3 1781.0 802.3 1782.1 802.3 1783.3 802.4 1784.4 802.5 1785.6" fill="#b385c4" stroke="#262626" stroke-width="1.25" stroke-linejoin="round"/>
<polygon points="911.5 1731.1 911.6 1730.4 911.6 1729.8 911.7 1729.1 911.7 1728.5 911.7 1727.9 911.7 1727.2 911.7 1726.6 911.7 1725.9 911.7 1725.3 911.7 1724.7 911.8 1724.0 912.1 1723.4 912.6 1722.8 913.2 1722.1 913.5 1721.5 913.4 1720.8 913.0 1720.2 912.4 1719.6 912.0 1718.9 911.7 1718.3 911.7 1717.6 911.7 1717.0 911.7 1716.4 911.7 1715.7 911.7 1715.1 911.7 1714.4 911.7 1713.8 911.7 1713.2 911.7 1712.5 911.7 1711.9 911.7 1711.2 911.9 1710.6 912.2 1710.0 912.6 1709.3 913.0 1708.7 913.5 1708.1 914.1 1707.4 914.7 1706.8 915.4 1706.1 916.2 1705.5 917.0 1704.9 917.8 1704.2 918.7 1703.6 919.6 1702.9 920.6 1702.3 921.6 1701.7 922.6 1701.0 923.7 1700.4 924.8 1699.7 925.9 1699.1 927.0 1698.5 928.2 1697.8 929.4 1697.2 930.5 1696.5 931.7 1695.9 932.9 1695.3 934.0 1694.6 935.2 1694.0 936.4 1693.4 937.5 1692.7 938.6 1692.1 939.7 1691.4 940.8 1690.8 941.8 1690.2 942.8 1689.5 943.7 1688.9 944.6 1688.2 945.4 1687.6 946.1 1687.0 946.8 1686.3 947.3 1685.7 947.7 1685.0 947.8 1684.4 947.7 1683.8 947.5 1683.1 947.1 1682.5 946.7 1681.8 946.2 1681.2 945.5 1680.6 944.7 1679.9 943.9 1679.3 942.9 1678.7 941.9 1678.0 940.7 1677.4 939.4 1676.7 938.1 1676.1 936.7 1675.5 935.1 1674.8 933.6 1674.2 931.9 1673.5 930.2 1672.9 928.4 1672.3 926.6 1671.6 924.7 1671.0 922.8 1670.3 920.9 1669.7 919.0 1669.1 917.1 1668.4 915.3 1667.8 913.7 1667.1 912.2 1666.5 911.7 1665.9 911.7 1665.2 911.7 1664.6 911.7 1664.0 911.7 1663.3 911.6 1662.7 911.6 1662.0 911.5 1661.4 911.5 1661.4 911.4 1662.0 911.4 1662.7 911.3 1663.3 911.3 1664.0 911.3 1664.6 911.3 1665.2 911.3 1665.9 910.8 1666.5 909.3 1667.1 907.7 1667.8 905.9 1668.4 904.0 1669.1 902.1 1669.7 900.2 1670.3 898.3 1671.0 896.4 1671.6 894.6 1672.3 892.8 1672.9 891.1 1673.5 889.4 1674.2 887.9 1674.8 886.3 1675.5 884.9 1676.1 883.6 1676.7 882.3 1677.4 881.1 1678.0 880.1 1678.7 879.1 1679.3 878.3 1679.9 877.5 1680.6 876.8 1681.2 876.3 1681.8 875.9 1682.5 875.5 1683.1 875.3 1683.8 875.2 1684.4 875.3 1685.0 875.7 1685.7 876.2 1686.3 876.9 1687.0 877.6 1687.6 878.4 1688.2 879.3 1688.9 880.2 1689.5 881.2 1690.2 882.2 1690.8 883.3 1691.4 884.4 1692.1 885.5 1692.7 886.6 1693.4 887.8 1694.0 889.0 1694.6 890.1 1695.3 891.3 1695.9 892.5 1696.5 893.6 1697.2 894.8 1697.8 896.0 1698.5 897.1 1699.1 898.2 1699.7 899.3 1700.4 900.4 1701.0 901.4 1701.7 902.4 1702.3 903.4 1702.9 904.3 1703.6 905.2 1704.2 906.0 1704.9 906.8 1705.5 907.6 1706.1 908.3 1706.8 908.9 1707.4 909.5 1708.1 910.0 1708.7 910.4 1709.3 910.8 1710.0 911.1 1710.6 911.3 1711.2 911.3 1711.9 911.3 1712.5 911.3 1713.2 911.3 1713.8 911.3 1714.4 911.3 1715.1 911.3 1715.7 911.3 1716.4 911.3 1717.0 911.3 1717.6 911.3 1718.3 911.0 1718.9 910.6 1719.6 910.0 1720.2 909.6 1720.8 909.5 1721.5 909.8 1722.1 910.4 1722.8 910.9 1723.4 911.2 1724.0 911.3 1724.7 911.3 1725.3 911.3 1725.9 911.3 1726.6 911.3 1727.2 911.3 1727.9 911.3 1728.5 911.3 1729.1 911.4 1729.8 911.4 1730.4 911.5 1731.1" fill="#88a1cf" stroke="#262626" stroke-width="1.25" stroke-linejoin="round"/>
<line x1="802.5" y1="1668.4" x2="802.5" y2="1678.4" stroke="#333" stroke-width="1.2"/>
<line x1="802.5" y1="1686.8" x2="802.5" y2="1699.1" stroke="#333" stroke-width="1.2"/>
<rect x="791.6" y="1678.4" width="21.7" height="8.4" fill="#a058b2" stroke="#333" stroke-width="1.2"/>
<line x1="791.6" y1="1682.6" x2="813.4" y2="1682.6" stroke="#1a1a1a" stroke-width="2.6"/>
<line x1="911.5" y1="1671.4" x2="911.5" y2="1681.4" stroke="#333" stroke-width="1.2"/>
<line x1="911.5" y1="1691.7" x2="911.5" y2="1700.5" stroke="#333" stroke-width="1.2"/>
<rect x="900.6" y="1681.4" width="21.7" height="10.3" fill="#6690cc" stroke="#333" stroke-width="1.2"/>
<line x1="900.6" y1="1686.3" x2="922.4" y2="1686.3" stroke="#1a1a1a" stroke-width="2.6"/>
<text transform="translate(729 1664.8)" style="font-family:'Liberation Sans',Arial,sans-serif;font-size:17.4px" text-anchor="end" fill="#433b3b">1</text>
<text transform="translate(729 1688.1)" style="font-family:'Liberation Sans',Arial,sans-serif;font-size:17.4px" text-anchor="end" fill="#433b3b">0</text>
<text transform="translate(729 1711.4)" style="font-family:'Liberation Sans',Arial,sans-serif;font-size:17.4px" text-anchor="end" fill="#433b3b">-1</text>
<text transform="translate(729 1734.7)" style="font-family:'Liberation Sans',Arial,sans-serif;font-size:17.4px" text-anchor="end" fill="#433b3b">-2</text>
<text transform="translate(729 1758)" style="font-family:'Liberation Sans',Arial,sans-serif;font-size:17.4px" text-anchor="end" fill="#433b3b">-3</text>
<text transform="translate(729 1781.3)" style="font-family:'Liberation Sans',Arial,sans-serif;font-size:17.4px" text-anchor="end" fill="#433b3b">-4</text>
<text transform="translate(802.5 1811.5)" style="font-family:'Liberation Sans',Arial,sans-serif;font-size:17.3px" text-anchor="middle" fill="#433b3b">no</text>
<text transform="translate(911.5 1811.5)" style="font-family:'Liberation Sans',Arial,sans-serif;font-size:17.3px" text-anchor="middle" fill="#433b3b">yes</text>
<text transform="translate(693.6 1722.5) rotate(-90)" style="font-family:'Liberation Sans',Arial,sans-serif;font-size:18px;white-space:pre" text-anchor="middle" xml:space="preserve" dominant-baseline="central">CD84  NPX</text>
<text transform="translate(854.7 1622)" style="font-family:'Liberation Sans',Arial,sans-serif;font-size:17.6px;font-weight:bold" text-anchor="middle">CD84</text>
<text transform="translate(854.7 1641.1)" style="font-family:'Liberation Sans',Arial,sans-serif;font-size:17.6px;font-weight:bold;white-space:pre" text-anchor="middle" xml:space="preserve">p =  0.000426</text>
<line x1="122.4" y1="1913.1" x2="359.8" y2="1913.1" stroke="#f3efef" stroke-width="1.1"/>
<line x1="122.4" y1="1957.7" x2="359.8" y2="1957.7" stroke="#f3efef" stroke-width="1.1"/>
<line x1="122.4" y1="2002.3" x2="359.8" y2="2002.3" stroke="#f3efef" stroke-width="1.1"/>
<line x1="122.4" y1="1890.8" x2="359.8" y2="1890.8" stroke="#ebe6e6" stroke-width="1.4"/>
<line x1="122.4" y1="1935.4" x2="359.8" y2="1935.4" stroke="#ebe6e6" stroke-width="1.4"/>
<line x1="122.4" y1="1980" x2="359.8" y2="1980" stroke="#ebe6e6" stroke-width="1.4"/>
<line x1="186.4" y1="1878.7" x2="186.4" y2="2016.6" stroke="#eeeaea" stroke-width="1.4"/>
<line x1="295.9" y1="1878.7" x2="295.9" y2="2016.6" stroke="#eeeaea" stroke-width="1.4"/>
<polygon points="186.4 2010.3 186.5 2009.2 186.6 2008.0 186.6 2006.9 186.6 2005.7 186.6 2004.6 186.6 2003.4 186.6 2002.3 186.6 2001.1 186.6 2000.0 186.6 1998.8 186.6 1997.7 186.6 1996.5 186.6 1995.4 186.6 1994.2 186.6 1993.1 186.6 1991.9 186.6 1990.8 186.6 1989.6 186.6 1988.5 186.6 1987.3 186.6 1986.2 186.6 1985.0 186.6 1983.9 186.6 1982.7 186.6 1981.6 186.6 1980.4 186.6 1979.3 186.6 1978.1 186.6 1977.0 186.6 1975.8 186.6 1974.7 186.6 1973.5 186.6 1972.4 186.6 1971.2 186.6 1970.1 187.1 1968.9 187.9 1967.8 188.4 1966.6 187.9 1965.5 187.3 1964.3 187.6 1963.2 188.7 1962.0 190.2 1960.9 191.8 1959.7 193.7 1958.6 195.6 1957.4 197.6 1956.3 199.7 1955.1 201.9 1954.0 204.1 1952.8 206.3 1951.7 208.5 1950.5 210.8 1949.4 213.0 1948.2 215.1 1947.1 217.2 1945.9 219.3 1944.8 221.3 1943.6 223.2 1942.5 225.0 1941.3 226.6 1940.2 228.2 1939.0 229.5 1937.9 230.6 1936.7 231.5 1935.6 231.3 1934.4 229.1 1933.3 227.0 1932.1 224.9 1931.0 222.8 1929.8 220.7 1928.7 218.7 1927.5 216.7 1926.4 214.8 1925.2 212.8 1924.1 210.9 1922.9 209.0 1921.8 207.2 1920.6 205.4 1919.5 203.7 1918.3 201.9 1917.2 200.3 1916.0 198.6 1914.9 197.1 1913.7 195.5 1912.6 194.1 1911.4 192.6 1910.3 191.3 1909.1 190.1 1908.0 189.4 1906.8 189.1 1905.7 188.4 1904.5 187.2 1903.4 186.6 1902.2 186.6 1901.1 186.6 1899.9 186.6 1898.8 186.6 1897.6 186.6 1896.5 186.6 1895.4 186.6 1894.2 186.6 1893.1 186.6 1891.9 186.6 1890.8 186.6 1889.6 186.6 1888.5 186.6 1887.3 186.5 1886.2 186.4 1885.0 186.4 1885.0 186.3 1886.2 186.2 1887.3 186.2 1888.5 186.2 1889.6 186.2 1890.8 186.2 1891.9 186.2 1893.1 186.2 1894.2 186.2 1895.4 186.2 1896.5 186.2 1897.6 186.2 1898.8 186.2 1899.9 186.2 1901.1 186.2 1902.2 185.6 1903.4 184.4 1904.5 183.7 1905.7 183.4 1906.8 182.7 1908.0 181.5 1909.1 180.2 1910.3 178.7 1911.4 177.3 1912.6 175.7 1913.7 174.2 1914.9 172.5 1916.0 170.9 1917.2 169.1 1918.3 167.4 1919.5 165.6 1920.6 163.8 1921.8 161.9 1922.9 160.0 1924.1 158.0 1925.2 156.1 1926.4 154.1 1927.5 152.1 1928.7 150.0 1929.8 147.9 1931.0 145.8 1932.1 143.7 1933.3 141.5 1934.4 141.3 1935.6 142.2 1936.7 143.3 1937.9 144.6 1939.0 146.2 1940.2 147.8 1941.3 149.6 1942.5 151.5 1943.6 153.5 1944.8 155.6 1945.9 157.7 1947.1 159.8 1948.2 162.0 1949.4 164.3 1950.5 166.5 1951.7 168.7 1952.8 170.9 1954.0 173.1 1955.1 175.2 1956.3 177.2 1957.4 179.1 1958.6 181.0 1959.7 182.6 1960.9 184.1 1962.0 185.2 1963.2 185.5 1964.3 184.9 1965.5 184.4 1966.6 184.9 1967.8 185.7 1968.9 186.2 1970.1 186.2 1971.2 186.2 1972.4 186.2 1973.5 186.2 1974.7 186.2 1975.8 186.2 1977.0 186.2 1978.1 186.2 1979.3 186.2 1980.4 186.2 1981.6 186.2 1982.7 186.2 1983.9 186.2 1985.0 186.2 1986.2 186.2 1987.3 186.2 1988.5 186.2 1989.6 186.2 1990.8 186.2 1991.9 186.2 1993.1 186.2 1994.2 186.2 1995.4 186.2 1996.5 186.2 1997.7 186.2 1998.8 186.2 2000.0 186.2 2001.1 186.2 2002.3 186.2 2003.4 186.2 2004.6 186.2 2005.7 186.2 2006.9 186.2 2008.0 186.3 2009.2 186.4 2010.3" fill="#b385c4" stroke="#262626" stroke-width="1.25" stroke-linejoin="round"/>
<polygon points="295.9 1995.2 296.0 1994.2 296.1 1993.2 296.1 1992.2 296.1 1991.1 296.1 1990.1 296.1 1989.1 296.4 1988.1 297.0 1987.1 297.7 1986.1 298.4 1985.1 298.5 1984.1 298.0 1983.1 297.2 1982.1 296.5 1981.1 296.1 1980.1 296.1 1979.1 296.1 1978.1 296.1 1977.1 296.1 1976.1 296.1 1975.1 296.1 1974.1 296.1 1973.1 296.1 1972.1 296.1 1971.1 296.1 1970.1 296.1 1969.0 296.1 1968.0 296.1 1967.0 296.1 1966.0 296.1 1965.0 296.1 1964.0 296.5 1963.0 297.2 1962.0 298.1 1961.0 299.1 1960.0 300.3 1959.0 301.5 1958.0 302.9 1957.0 304.3 1956.0 305.9 1955.0 307.5 1954.0 309.2 1953.0 310.9 1952.0 312.7 1951.0 314.5 1950.0 316.4 1949.0 318.3 1948.0 320.2 1946.9 322.1 1945.9 324.0 1944.9 326.0 1943.9 327.9 1942.9 329.9 1941.9 331.8 1940.9 333.7 1939.9 335.5 1938.9 337.3 1937.9 339.1 1936.9 340.7 1935.9 342.2 1934.9 343.6 1933.9 344.8 1932.9 344.2 1931.9 341.6 1930.9 339.1 1929.9 336.6 1928.9 334.2 1927.9 331.8 1926.9 329.5 1925.9 327.2 1924.8 324.9 1923.8 322.7 1922.8 320.6 1921.8 318.5 1920.8 316.4 1919.8 314.4 1918.8 312.5 1917.8 310.6 1916.8 308.8 1915.8 307.1 1914.8 305.4 1913.8 303.9 1912.8 302.4 1911.8 301.0 1910.8 299.7 1909.8 298.5 1908.8 297.4 1907.8 296.6 1906.8 296.1 1905.8 296.1 1904.8 296.1 1903.8 296.1 1902.7 296.1 1901.7 296.1 1900.7 296.2 1899.7 296.5 1898.7 297.2 1897.7 298.0 1896.7 298.7 1895.7 298.9 1894.7 298.6 1893.7 297.8 1892.7 297.0 1891.7 296.4 1890.7 296.1 1889.7 296.1 1888.7 296.1 1887.7 296.0 1886.7 295.9 1885.7 295.9 1885.7 295.8 1886.7 295.7 1887.7 295.7 1888.7 295.7 1889.7 295.4 1890.7 294.8 1891.7 294.0 1892.7 293.2 1893.7 292.9 1894.7 293.1 1895.7 293.8 1896.7 294.6 1897.7 295.3 1898.7 295.6 1899.7 295.7 1900.7 295.7 1901.7 295.7 1902.7 295.7 1903.8 295.7 1904.8 295.7 1905.8 295.2 1906.8 294.4 1907.8 293.3 1908.8 292.1 1909.8 290.8 1910.8 289.4 1911.8 287.9 1912.8 286.4 1913.8 284.7 1914.8 283.0 1915.8 281.2 1916.8 279.3 1917.8 277.4 1918.8 275.4 1919.8 273.3 1920.8 271.2 1921.8 269.1 1922.8 266.9 1923.8 264.6 1924.8 262.3 1925.9 260.0 1926.9 257.6 1927.9 255.2 1928.9 252.7 1929.9 250.2 1930.9 247.6 1931.9 247.0 1932.9 248.2 1933.9 249.6 1934.9 251.1 1935.9 252.7 1936.9 254.5 1937.9 256.3 1938.9 258.1 1939.9 260.0 1940.9 261.9 1941.9 263.9 1942.9 265.8 1943.9 267.8 1944.9 269.7 1945.9 271.6 1946.9 273.5 1948.0 275.4 1949.0 277.3 1950.0 279.1 1951.0 280.9 1952.0 282.6 1953.0 284.3 1954.0 285.9 1955.0 287.5 1956.0 288.9 1957.0 290.3 1958.0 291.5 1959.0 292.7 1960.0 293.7 1961.0 294.6 1962.0 295.3 1963.0 295.7 1964.0 295.7 1965.0 295.7 1966.0 295.7 1967.0 295.7 1968.0 295.7 1969.0 295.7 1970.1 295.7 1971.1 295.7 1972.1 295.7 1973.1 295.7 1974.1 295.7 1975.1 295.7 1976.1 295.7 1977.1 295.7 1978.1 295.7 1979.1 295.7 1980.1 295.3 1981.1 294.6 1982.1 293.8 1983.1 293.3 1984.1 293.4 1985.1 294.1 1986.1 294.8 1987.1 295.4 1988.1 295.7 1989.1 295.7 1990.1 295.7 1991.1 295.7 1992.2 295.7 1993.2 295.8 1994.2 295.9 1995.2" fill="#88a1cf" stroke="#262626" stroke-width="1.25" stroke-linejoin="round"/>
<line x1="186.4" y1="1904.8" x2="186.4" y2="1928.7" stroke="#333" stroke-width="1.2"/>
<line x1="186.4" y1="1943.2" x2="186.4" y2="1966.6" stroke="#333" stroke-width="1.2"/>
<rect x="175.6" y="1928.7" width="21.7" height="14.5" fill="#a058b2" stroke="#333" stroke-width="1.2"/>
<line x1="175.6" y1="1935.4" x2="197.2" y2="1935.4" stroke="#1a1a1a" stroke-width="2.6"/>
<line x1="295.9" y1="1906.4" x2="295.9" y2="1925.1" stroke="#333" stroke-width="1.2"/>
<line x1="295.9" y1="1937.9" x2="295.9" y2="1951.5" stroke="#333" stroke-width="1.2"/>
<rect x="285" y="1925.1" width="21.7" height="12.7" fill="#6690cc" stroke="#333" stroke-width="1.2"/>
<line x1="285" y1="1931.6" x2="306.8" y2="1931.6" stroke="#1a1a1a" stroke-width="2.6"/>
<text transform="translate(111.6 1897)" style="font-family:'Liberation Sans',Arial,sans-serif;font-size:17.4px" text-anchor="end" fill="#433b3b">2</text>
<text transform="translate(111.6 1941.6)" style="font-family:'Liberation Sans',Arial,sans-serif;font-size:17.4px" text-anchor="end" fill="#433b3b">0</text>
<text transform="translate(111.6 1986.2)" style="font-family:'Liberation Sans',Arial,sans-serif;font-size:17.4px" text-anchor="end" fill="#433b3b">-2</text>
<text transform="translate(186.4 2036.8)" style="font-family:'Liberation Sans',Arial,sans-serif;font-size:17.3px" text-anchor="middle" fill="#433b3b">no</text>
<text transform="translate(295.9 2036.8)" style="font-family:'Liberation Sans',Arial,sans-serif;font-size:17.3px" text-anchor="middle" fill="#433b3b">yes</text>
<text transform="translate(78 1948) rotate(-90)" style="font-family:'Liberation Sans',Arial,sans-serif;font-size:18px;white-space:pre" text-anchor="middle" xml:space="preserve" dominant-baseline="central">PTH1R  NPX</text>
<text transform="translate(238.4 1847.1)" style="font-family:'Liberation Sans',Arial,sans-serif;font-size:17.6px;font-weight:bold" text-anchor="middle">PTH1R</text>
<text transform="translate(238.4 1866.6)" style="font-family:'Liberation Sans',Arial,sans-serif;font-size:17.6px;font-weight:bold;white-space:pre" text-anchor="middle" xml:space="preserve">p =  0.00433</text>
<line x1="434.8" y1="1887.9" x2="670" y2="1887.9" stroke="#f3efef" stroke-width="1.1"/>
<line x1="434.8" y1="1917.8" x2="670" y2="1917.8" stroke="#f3efef" stroke-width="1.1"/>
<line x1="434.8" y1="1947.7" x2="670" y2="1947.7" stroke="#f3efef" stroke-width="1.1"/>
<line x1="434.8" y1="1977.5" x2="670" y2="1977.5" stroke="#f3efef" stroke-width="1.1"/>
<line x1="434.8" y1="2007.5" x2="670" y2="2007.5" stroke="#f3efef" stroke-width="1.1"/>
<line x1="434.8" y1="1902.8" x2="670" y2="1902.8" stroke="#ebe6e6" stroke-width="1.4"/>
<line x1="434.8" y1="1932.7" x2="670" y2="1932.7" stroke="#ebe6e6" stroke-width="1.4"/>
<line x1="434.8" y1="1962.6" x2="670" y2="1962.6" stroke="#ebe6e6" stroke-width="1.4"/>
<line x1="434.8" y1="1992.5" x2="670" y2="1992.5" stroke="#ebe6e6" stroke-width="1.4"/>
<line x1="494.4" y1="1879.6" x2="494.4" y2="2015.9" stroke="#eeeaea" stroke-width="1.4"/>
<line x1="603.3" y1="1879.6" x2="603.3" y2="2015.9" stroke="#eeeaea" stroke-width="1.4"/>
<polygon points="494.4 2009.7 494.5 2008.6 494.6 2007.4 494.6 2006.3 494.6 2005.1 494.6 2004.0 494.6 2002.9 494.6 2001.7 494.6 2000.6 494.6 1999.5 494.6 1998.3 494.6 1997.2 494.6 1996.0 494.6 1994.9 494.6 1993.8 494.6 1992.6 494.6 1991.5 494.6 1990.4 494.6 1989.2 494.6 1988.1 494.6 1987.0 494.6 1985.8 494.6 1984.7 494.6 1983.5 494.6 1982.4 494.6 1981.3 494.6 1980.1 494.6 1979.0 494.6 1977.9 494.6 1976.7 494.6 1975.6 494.6 1974.4 494.6 1973.3 494.6 1972.2 494.6 1971.0 494.6 1969.9 494.6 1968.8 494.6 1967.6 494.6 1966.5 494.6 1965.3 494.6 1964.2 494.6 1963.1 495.5 1961.9 496.8 1960.8 498.4 1959.7 500.0 1958.5 501.8 1957.4 503.7 1956.3 505.7 1955.1 507.8 1954.0 509.8 1952.8 512.0 1951.7 514.1 1950.6 516.3 1949.4 518.5 1948.3 520.7 1947.2 522.9 1946.0 525.0 1944.9 527.2 1943.7 529.3 1942.6 531.4 1941.5 533.4 1940.3 535.4 1939.2 537.3 1938.1 539.1 1936.9 540.7 1935.8 542.2 1934.6 543.5 1933.5 543.9 1932.4 542.8 1931.2 541.4 1930.1 539.8 1929.0 538.1 1927.8 536.2 1926.7 534.3 1925.6 532.3 1924.4 530.2 1923.3 528.1 1922.1 525.9 1921.0 523.8 1919.9 521.6 1918.7 519.3 1917.6 517.1 1916.5 514.9 1915.3 512.7 1914.2 510.5 1913.0 508.4 1911.9 506.2 1910.8 504.2 1909.6 502.2 1908.5 500.3 1907.4 498.5 1906.2 496.8 1905.1 495.4 1903.9 494.6 1902.8 494.6 1901.7 494.6 1900.5 494.6 1899.4 494.6 1898.3 494.6 1897.1 494.6 1896.0 494.6 1894.9 494.6 1893.7 494.6 1892.6 494.6 1891.4 494.6 1890.3 494.6 1889.2 494.6 1888.0 494.5 1886.9 494.4 1885.8 494.4 1885.8 494.3 1886.9 494.2 1888.0 494.2 1889.2 494.2 1890.3 494.2 1891.4 494.2 1892.6 494.2 1893.7 494.2 1894.9 494.2 1896.0 494.2 1897.1 494.2 1898.3 494.2 1899.4 494.2 1900.5 494.2 1901.7 494.2 1902.8 493.4 1903.9 492.0 1905.1 490.3 1906.2 488.5 1907.4 486.6 1908.5 484.6 1909.6 482.6 1910.8 480.4 1911.9 478.3 1913.0 476.1 1914.2 473.9 1915.3 471.7 1916.5 469.5 1917.6 467.2 1918.7 465.0 1919.9 462.9 1921.0 460.7 1922.1 458.6 1923.3 456.5 1924.4 454.5 1925.6 452.6 1926.7 450.7 1927.8 449.0 1929.0 447.4 1930.1 446.0 1931.2 444.9 1932.4 445.3 1933.5 446.6 1934.6 448.1 1935.8 449.7 1936.9 451.5 1938.1 453.4 1939.2 455.4 1940.3 457.4 1941.5 459.5 1942.6 461.6 1943.7 463.8 1944.9 465.9 1946.0 468.1 1947.2 470.3 1948.3 472.5 1949.4 474.7 1950.6 476.8 1951.7 479.0 1952.8 481.0 1954.0 483.1 1955.1 485.1 1956.3 487.0 1957.4 488.8 1958.5 490.4 1959.7 492.0 1960.8 493.3 1961.9 494.2 1963.1 494.2 1964.2 494.2 1965.3 494.2 1966.5 494.2 1967.6 494.2 1968.8 494.2 1969.9 494.2 1971.0 494.2 1972.2 494.2 1973.3 494.2 1974.4 494.2 1975.6 494.2 1976.7 494.2 1977.9 494.2 1979.0 494.2 1980.1 494.2 1981.3 494.2 1982.4 494.2 1983.5 494.2 1984.7 494.2 1985.8 494.2 1987.0 494.2 1988.1 494.2 1989.2 494.2 1990.4 494.2 1991.5 494.2 1992.6 494.2 1993.8 494.2 1994.9 494.2 1996.0 494.2 1997.2 494.2 1998.3 494.2 1999.5 494.2 2000.6 494.2 2001.7 494.2 2002.9 494.2 2004.0 494.2 2005.1 494.2 2006.3 494.2 2007.4 494.3 2008.6 494.4 2009.7" fill="#b385c4" stroke="#262626" stroke-width="1.25" stroke-linejoin="round"/>
<polygon points="603.3 1989.1 603.4 1988.3 603.5 1987.5 603.5 1986.7 603.5 1986.0 603.5 1985.2 603.5 1984.4 603.5 1983.7 603.5 1982.9 603.5 1982.1 603.5 1981.3 603.6 1980.6 603.9 1979.8 604.3 1979.0 604.8 1978.3 605.3 1977.5 605.7 1976.7 605.8 1975.9 605.6 1975.2 605.2 1974.4 604.7 1973.6 604.2 1972.8 603.8 1972.1 603.6 1971.3 603.5 1970.5 603.5 1969.8 603.5 1969.0 603.5 1968.2 603.5 1967.4 603.5 1966.7 603.5 1965.9 603.5 1965.1 603.7 1964.4 604.3 1963.6 605.0 1962.8 605.8 1962.0 606.8 1961.3 607.8 1960.5 609.0 1959.7 610.2 1958.9 611.5 1958.2 612.9 1957.4 614.3 1956.6 615.8 1955.9 617.3 1955.1 618.8 1954.3 620.4 1953.5 622.1 1952.8 623.7 1952.0 625.4 1951.2 627.1 1950.5 628.9 1949.7 630.6 1948.9 632.3 1948.1 634.1 1947.4 635.8 1946.6 637.6 1945.8 639.3 1945.0 640.9 1944.3 642.6 1943.5 644.2 1942.7 645.8 1942.0 647.3 1941.2 648.7 1940.4 650.0 1939.6 651.1 1938.9 652.1 1938.1 652.0 1937.3 651.3 1936.6 650.5 1935.8 649.5 1935.0 648.5 1934.2 647.4 1933.5 646.3 1932.7 645.1 1931.9 643.8 1931.1 642.6 1930.4 641.3 1929.6 639.9 1928.8 638.6 1928.1 637.2 1927.3 635.8 1926.5 634.3 1925.7 632.9 1925.0 631.4 1924.2 629.9 1923.4 628.5 1922.7 627.0 1921.9 625.5 1921.1 624.0 1920.3 622.5 1919.6 621.0 1918.8 619.5 1918.0 618.0 1917.2 616.5 1916.5 615.0 1915.7 613.5 1914.9 612.1 1914.2 610.7 1913.4 609.3 1912.6 608.0 1911.8 606.7 1911.1 605.4 1910.3 604.3 1909.5 603.5 1908.8 603.5 1908.0 603.5 1907.2 603.5 1906.4 603.4 1905.7 603.3 1904.9 603.3 1904.9 603.2 1905.7 603.1 1906.4 603.1 1907.2 603.1 1908.0 603.1 1908.8 602.3 1909.5 601.2 1910.3 599.9 1911.1 598.6 1911.8 597.3 1912.6 595.9 1913.4 594.5 1914.2 593.1 1914.9 591.6 1915.7 590.1 1916.5 588.6 1917.2 587.1 1918.0 585.6 1918.8 584.1 1919.6 582.6 1920.3 581.1 1921.1 579.6 1921.9 578.1 1922.7 576.7 1923.4 575.2 1924.2 573.7 1925.0 572.3 1925.7 570.8 1926.5 569.4 1927.3 568.0 1928.1 566.7 1928.8 565.3 1929.6 564.0 1930.4 562.8 1931.1 561.5 1931.9 560.3 1932.7 559.2 1933.5 558.1 1934.2 557.1 1935.0 556.1 1935.8 555.3 1936.6 554.6 1937.3 554.5 1938.1 555.5 1938.9 556.6 1939.6 557.9 1940.4 559.3 1941.2 560.8 1942.0 562.4 1942.7 564.0 1943.5 565.7 1944.3 567.3 1945.0 569.0 1945.8 570.8 1946.6 572.5 1947.4 574.3 1948.1 576.0 1948.9 577.7 1949.7 579.5 1950.5 581.2 1951.2 582.9 1952.0 584.5 1952.8 586.2 1953.5 587.8 1954.3 589.3 1955.1 590.8 1955.9 592.3 1956.6 593.7 1957.4 595.1 1958.2 596.4 1958.9 597.6 1959.7 598.8 1960.5 599.8 1961.3 600.8 1962.0 601.6 1962.8 602.3 1963.6 602.9 1964.4 603.1 1965.1 603.1 1965.9 603.1 1966.7 603.1 1967.4 603.1 1968.2 603.1 1969.0 603.1 1969.8 603.1 1970.5 603.0 1971.3 602.8 1972.1 602.4 1972.8 601.9 1973.6 601.4 1974.4 601.0 1975.2 600.8 1975.9 600.9 1976.7 601.3 1977.5 601.8 1978.3 602.3 1979.0 602.7 1979.8 603.0 1980.6 603.1 1981.3 603.1 1982.1 603.1 1982.9 603.1 1983.7 603.1 1984.4 603.1 1985.2 603.1 1986.0 603.1 1986.7 603.1 1987.5 603.2 1988.3 603.3 1989.1" fill="#88a1cf" stroke="#262626" stroke-width="1.25" stroke-linejoin="round"/>
<line x1="494.4" y1="1907.1" x2="494.4" y2="1926.3" stroke="#333" stroke-width="1.2"/>
<line x1="494.4" y1="1940" x2="494.4" y2="1962.2" stroke="#333" stroke-width="1.2"/>
<rect x="483.5" y="1926.3" width="21.7" height="13.8" fill="#a058b2" stroke="#333" stroke-width="1.2"/>
<line x1="483.5" y1="1932.8" x2="505.2" y2="1932.8" stroke="#1a1a1a" stroke-width="2.6"/>
<line x1="603.3" y1="1915.5" x2="603.3" y2="1932.8" stroke="#333" stroke-width="1.2"/>
<line x1="603.3" y1="1946.2" x2="603.3" y2="1956.2" stroke="#333" stroke-width="1.2"/>
<rect x="592.4" y="1932.8" width="21.7" height="13.3" fill="#6690cc" stroke="#333" stroke-width="1.2"/>
<line x1="592.4" y1="1938.1" x2="614.1" y2="1938.1" stroke="#1a1a1a" stroke-width="2.6"/>
<text transform="translate(419.6 1909)" style="font-family:'Liberation Sans',Arial,sans-serif;font-size:17.4px" text-anchor="end" fill="#433b3b">2</text>
<text transform="translate(419.6 1938.9)" style="font-family:'Liberation Sans',Arial,sans-serif;font-size:17.4px" text-anchor="end" fill="#433b3b">0</text>
<text transform="translate(419.6 1968.8)" style="font-family:'Liberation Sans',Arial,sans-serif;font-size:17.4px" text-anchor="end" fill="#433b3b">-2</text>
<text transform="translate(419.6 1998.7)" style="font-family:'Liberation Sans',Arial,sans-serif;font-size:17.4px" text-anchor="end" fill="#433b3b">-4</text>
<text transform="translate(494.4 2036.8)" style="font-family:'Liberation Sans',Arial,sans-serif;font-size:17.3px" text-anchor="middle" fill="#433b3b">no</text>
<text transform="translate(603.3 2036.8)" style="font-family:'Liberation Sans',Arial,sans-serif;font-size:17.3px" text-anchor="middle" fill="#433b3b">yes</text>
<text transform="translate(386 1948) rotate(-90)" style="font-family:'Liberation Sans',Arial,sans-serif;font-size:18px;white-space:pre" text-anchor="middle" xml:space="preserve" dominant-baseline="central">PLXNA4  NPX</text>
<text transform="translate(546.9 1847.1)" style="font-family:'Liberation Sans',Arial,sans-serif;font-size:17.6px;font-weight:bold" text-anchor="middle">PLXNA4</text>
<text transform="translate(546.9 1866.6)" style="font-family:'Liberation Sans',Arial,sans-serif;font-size:17.6px;font-weight:bold;white-space:pre" text-anchor="middle" xml:space="preserve">p =  1.47e-06</text>
<line x1="738" y1="1916.4" x2="975.5" y2="1916.4" stroke="#f3efef" stroke-width="1.1"/>
<line x1="738" y1="1955.1" x2="975.5" y2="1955.1" stroke="#f3efef" stroke-width="1.1"/>
<line x1="738" y1="1993.8" x2="975.5" y2="1993.8" stroke="#f3efef" stroke-width="1.1"/>
<line x1="738" y1="1897" x2="975.5" y2="1897" stroke="#ebe6e6" stroke-width="1.4"/>
<line x1="738" y1="1935.7" x2="975.5" y2="1935.7" stroke="#ebe6e6" stroke-width="1.4"/>
<line x1="738" y1="1974.4" x2="975.5" y2="1974.4" stroke="#ebe6e6" stroke-width="1.4"/>
<line x1="738" y1="2013.1" x2="975.5" y2="2013.1" stroke="#ebe6e6" stroke-width="1.4"/>
<line x1="802.5" y1="1880.2" x2="802.5" y2="2016.6" stroke="#eeeaea" stroke-width="1.4"/>
<line x1="911.5" y1="1880.2" x2="911.5" y2="2016.6" stroke="#eeeaea" stroke-width="1.4"/>
<polygon points="802.5 2008.8 802.6 2007.7 802.7 2006.6 802.7 2005.5 802.7 2004.3 802.7 2003.2 802.7 2002.1 802.7 2001.0 802.7 1999.9 802.9 1998.7 803.9 1997.6 805.3 1996.5 807.0 1995.4 808.8 1994.2 810.8 1993.1 812.9 1992.0 815.2 1990.9 817.5 1989.7 819.9 1988.6 822.4 1987.5 824.9 1986.4 827.4 1985.2 830.0 1984.1 832.5 1983.0 835.0 1981.9 837.5 1980.7 839.8 1979.6 842.1 1978.5 844.3 1977.4 846.2 1976.3 847.8 1975.1 847.6 1974.0 845.1 1972.9 842.6 1971.8 840.1 1970.6 837.7 1969.5 835.3 1968.4 833.0 1967.3 830.7 1966.1 828.5 1965.0 826.4 1963.9 824.2 1962.8 822.2 1961.6 820.2 1960.5 818.3 1959.4 816.4 1958.3 814.6 1957.2 812.9 1956.0 811.2 1954.9 809.7 1953.8 808.2 1952.7 806.8 1951.5 805.6 1950.4 804.5 1949.3 803.5 1948.2 802.8 1947.0 802.7 1945.9 802.7 1944.8 802.7 1943.7 802.7 1942.5 802.7 1941.4 802.7 1940.3 802.7 1939.2 802.7 1938.0 802.7 1936.9 802.7 1935.8 802.7 1934.7 802.7 1933.6 802.7 1932.4 802.7 1931.3 802.7 1930.2 802.7 1929.1 802.7 1927.9 802.7 1926.8 802.7 1925.7 802.7 1924.6 802.7 1923.4 802.7 1922.3 802.7 1921.2 802.7 1920.1 802.7 1918.9 802.7 1917.8 802.7 1916.7 802.7 1915.6 802.7 1914.5 802.7 1913.3 802.7 1912.2 802.7 1911.1 802.7 1910.0 802.7 1908.8 802.7 1907.7 802.7 1906.6 802.7 1905.5 802.7 1904.3 802.7 1903.2 802.7 1902.1 802.7 1901.0 802.7 1899.8 802.7 1898.7 802.7 1897.6 802.7 1896.5 802.7 1895.3 802.7 1894.2 802.7 1893.1 802.7 1892.0 802.7 1890.9 802.7 1889.7 802.7 1888.6 802.6 1887.5 802.5 1886.4 802.5 1886.4 802.4 1887.5 802.3 1888.6 802.3 1889.7 802.3 1890.9 802.3 1892.0 802.3 1893.1 802.3 1894.2 802.3 1895.3 802.3 1896.5 802.3 1897.6 802.3 1898.7 802.3 1899.8 802.3 1901.0 802.3 1902.1 802.3 1903.2 802.3 1904.3 802.3 1905.5 802.3 1906.6 802.3 1907.7 802.3 1908.8 802.3 1910.0 802.3 1911.1 802.3 1912.2 802.3 1913.3 802.3 1914.5 802.3 1915.6 802.3 1916.7 802.3 1917.8 802.3 1918.9 802.3 1920.1 802.3 1921.2 802.3 1922.3 802.3 1923.4 802.3 1924.6 802.3 1925.7 802.3 1926.8 802.3 1927.9 802.3 1929.1 802.3 1930.2 802.3 1931.3 802.3 1932.4 802.3 1933.6 802.3 1934.7 802.3 1935.8 802.3 1936.9 802.3 1938.0 802.3 1939.2 802.3 1940.3 802.3 1941.4 802.3 1942.5 802.3 1943.7 802.3 1944.8 802.3 1945.9 802.2 1947.0 801.5 1948.2 800.5 1949.3 799.4 1950.4 798.2 1951.5 796.8 1952.7 795.3 1953.8 793.8 1954.9 792.1 1956.0 790.4 1957.2 788.6 1958.3 786.7 1959.4 784.8 1960.5 782.8 1961.6 780.8 1962.8 778.6 1963.9 776.5 1965.0 774.3 1966.1 772.0 1967.3 769.7 1968.4 767.3 1969.5 764.9 1970.6 762.4 1971.8 759.9 1972.9 757.4 1974.0 757.2 1975.1 758.8 1976.3 760.7 1977.4 762.9 1978.5 765.2 1979.6 767.5 1980.7 770.0 1981.9 772.5 1983.0 775.0 1984.1 777.6 1985.2 780.1 1986.4 782.6 1987.5 785.1 1988.6 787.5 1989.7 789.8 1990.9 792.1 1992.0 794.2 1993.1 796.2 1994.2 798.0 1995.4 799.7 1996.5 801.1 1997.6 802.1 1998.7 802.3 1999.9 802.3 2001.0 802.3 2002.1 802.3 2003.2 802.3 2004.3 802.3 2005.5 802.3 2006.6 802.4 2007.7 802.5 2008.8" fill="#b385c4" stroke="#262626" stroke-width="1.25" stroke-linejoin="round"/>
<polygon points="911.5 2010.4 911.6 2009.8 911.6 2009.1 911.7 2008.5 911.7 2007.9 911.7 2007.2 911.7 2006.6 911.7 2006.0 911.7 2005.3 912.0 2004.7 912.6 2004.1 913.3 2003.4 914.0 2002.8 914.9 2002.2 915.8 2001.5 916.8 2000.9 917.8 2000.3 918.9 1999.6 920.1 1999.0 921.2 1998.4 922.5 1997.8 923.7 1997.1 925.0 1996.5 926.4 1995.9 927.7 1995.2 929.1 1994.6 930.5 1994.0 932.0 1993.3 933.4 1992.7 934.9 1992.1 936.4 1991.4 937.9 1990.8 939.4 1990.2 940.9 1989.5 942.5 1988.9 944.0 1988.3 945.5 1987.6 947.0 1987.0 948.5 1986.4 950.0 1985.7 951.5 1985.1 953.0 1984.5 954.4 1983.8 955.8 1983.2 957.1 1982.6 958.4 1982.0 959.6 1981.3 960.5 1980.7 959.3 1980.1 957.9 1979.4 956.4 1978.8 955.0 1978.2 953.5 1977.5 952.1 1976.9 950.6 1976.3 949.2 1975.6 947.8 1975.0 946.4 1974.4 945.0 1973.7 943.6 1973.1 942.3 1972.5 940.9 1971.8 939.5 1971.2 938.2 1970.6 936.9 1969.9 935.5 1969.3 934.2 1968.7 932.9 1968.0 931.7 1967.4 930.4 1966.8 929.1 1966.2 927.9 1965.5 926.7 1964.9 925.5 1964.3 924.3 1963.6 923.1 1963.0 921.9 1962.4 920.8 1961.7 919.7 1961.1 918.6 1960.5 917.6 1959.8 916.5 1959.2 915.5 1958.6 914.6 1957.9 913.7 1957.3 912.8 1956.7 912.1 1956.0 911.7 1955.4 911.7 1954.8 911.7 1954.1 911.7 1953.5 911.8 1952.9 912.1 1952.2 912.7 1951.6 913.4 1951.0 913.9 1950.4 913.9 1949.7 913.5 1949.1 912.8 1948.5 912.2 1947.8 911.8 1947.2 911.7 1946.6 911.7 1945.9 911.7 1945.3 911.7 1944.7 911.7 1944.0 911.7 1943.4 911.6 1942.8 911.6 1942.1 911.5 1941.5 911.5 1941.5 911.4 1942.1 911.4 1942.8 911.3 1943.4 911.3 1944.0 911.3 1944.7 911.3 1945.3 911.3 1945.9 911.3 1946.6 911.2 1947.2 910.8 1947.8 910.2 1948.5 909.5 1949.1 909.1 1949.7 909.1 1950.4 909.6 1951.0 910.3 1951.6 910.9 1952.2 911.2 1952.9 911.3 1953.5 911.3 1954.1 911.3 1954.8 911.3 1955.4 910.9 1956.0 910.2 1956.7 909.3 1957.3 908.4 1957.9 907.5 1958.6 906.5 1959.2 905.4 1959.8 904.4 1960.5 903.3 1961.1 902.2 1961.7 901.1 1962.4 899.9 1963.0 898.7 1963.6 897.5 1964.3 896.3 1964.9 895.1 1965.5 893.9 1966.2 892.6 1966.8 891.3 1967.4 890.1 1968.0 888.8 1968.7 887.5 1969.3 886.1 1969.9 884.8 1970.6 883.5 1971.2 882.1 1971.8 880.7 1972.5 879.4 1973.1 878.0 1973.7 876.6 1974.4 875.2 1975.0 873.8 1975.6 872.4 1976.3 870.9 1976.9 869.5 1977.5 868.0 1978.2 866.6 1978.8 865.1 1979.4 863.7 1980.1 862.5 1980.7 863.4 1981.3 864.6 1982.0 865.9 1982.6 867.2 1983.2 868.6 1983.8 870.0 1984.5 871.5 1985.1 873.0 1985.7 874.5 1986.4 876.0 1987.0 877.5 1987.6 879.0 1988.3 880.5 1988.9 882.1 1989.5 883.6 1990.2 885.1 1990.8 886.6 1991.4 888.1 1992.1 889.6 1992.7 891.0 1993.3 892.5 1994.0 893.9 1994.6 895.3 1995.2 896.6 1995.9 898.0 1996.5 899.3 1997.1 900.5 1997.8 901.8 1998.4 902.9 1999.0 904.1 1999.6 905.2 2000.3 906.2 2000.9 907.2 2001.5 908.1 2002.2 909.0 2002.8 909.7 2003.4 910.4 2004.1 911.0 2004.7 911.3 2005.3 911.3 2006.0 911.3 2006.6 911.3 2007.2 911.3 2007.9 911.3 2008.5 911.4 2009.1 911.4 2009.8 911.5 2010.4" fill="#88a1cf" stroke="#262626" stroke-width="1.25" stroke-linejoin="round"/>
<line x1="802.5" y1="1951.6" x2="802.5" y2="1968.4" stroke="#333" stroke-width="1.2"/>
<line x1="802.5" y1="1979.8" x2="802.5" y2="1997.4" stroke="#333" stroke-width="1.2"/>
<rect x="791.6" y="1968.4" width="21.7" height="11.4" fill="#a058b2" stroke="#333" stroke-width="1.2"/>
<line x1="791.6" y1="1974.4" x2="813.4" y2="1974.4" stroke="#1a1a1a" stroke-width="2.6"/>
<line x1="911.5" y1="1960.7" x2="911.5" y2="1972.3" stroke="#333" stroke-width="1.2"/>
<line x1="911.5" y1="1982.9" x2="911.5" y2="1999" stroke="#333" stroke-width="1.2"/>
<rect x="900.6" y="1972.3" width="21.7" height="10.6" fill="#6690cc" stroke="#333" stroke-width="1.2"/>
<line x1="900.6" y1="1979" x2="922.4" y2="1979" stroke="#1a1a1a" stroke-width="2.6"/>
<text transform="translate(729 1903.2)" style="font-family:'Liberation Sans',Arial,sans-serif;font-size:17.4px" text-anchor="end" fill="#433b3b">4</text>
<text transform="translate(729 1941.9)" style="font-family:'Liberation Sans',Arial,sans-serif;font-size:17.4px" text-anchor="end" fill="#433b3b">2</text>
<text transform="translate(729 1980.6)" style="font-family:'Liberation Sans',Arial,sans-serif;font-size:17.4px" text-anchor="end" fill="#433b3b">0</text>
<text transform="translate(729 2019.3)" style="font-family:'Liberation Sans',Arial,sans-serif;font-size:17.4px" text-anchor="end" fill="#433b3b">-2</text>
<text transform="translate(802.5 2036.8)" style="font-family:'Liberation Sans',Arial,sans-serif;font-size:17.3px" text-anchor="middle" fill="#433b3b">no</text>
<text transform="translate(911.5 2036.8)" style="font-family:'Liberation Sans',Arial,sans-serif;font-size:17.3px" text-anchor="middle" fill="#433b3b">yes</text>
<text transform="translate(693.6 1948) rotate(-90)" style="font-family:'Liberation Sans',Arial,sans-serif;font-size:18px;white-space:pre" text-anchor="middle" xml:space="preserve" dominant-baseline="central">CD40  NPX</text>
<text transform="translate(854.7 1847.1)" style="font-family:'Liberation Sans',Arial,sans-serif;font-size:17.6px;font-weight:bold" text-anchor="middle">CD40</text>
<text transform="translate(854.7 1866.6)" style="font-family:'Liberation Sans',Arial,sans-serif;font-size:17.6px;font-weight:bold;white-space:pre" text-anchor="middle" xml:space="preserve">p =  0.000542</text>
<line x1="122.4" y1="2126.6" x2="359.8" y2="2126.6" stroke="#f3efef" stroke-width="1.1"/>
<line x1="122.4" y1="2163.3" x2="359.8" y2="2163.3" stroke="#f3efef" stroke-width="1.1"/>
<line x1="122.4" y1="2199.9" x2="359.8" y2="2199.9" stroke="#f3efef" stroke-width="1.1"/>
<line x1="122.4" y1="2236.6" x2="359.8" y2="2236.6" stroke="#f3efef" stroke-width="1.1"/>
<line x1="122.4" y1="2108.3" x2="359.8" y2="2108.3" stroke="#ebe6e6" stroke-width="1.4"/>
<line x1="122.4" y1="2144.9" x2="359.8" y2="2144.9" stroke="#ebe6e6" stroke-width="1.4"/>
<line x1="122.4" y1="2181.6" x2="359.8" y2="2181.6" stroke="#ebe6e6" stroke-width="1.4"/>
<line x1="122.4" y1="2218.3" x2="359.8" y2="2218.3" stroke="#ebe6e6" stroke-width="1.4"/>
<line x1="186.4" y1="2103.7" x2="186.4" y2="2241" stroke="#eeeaea" stroke-width="1.4"/>
<line x1="295.9" y1="2103.7" x2="295.9" y2="2241" stroke="#eeeaea" stroke-width="1.4"/>
<polygon points="186.4 2214.0 186.5 2213.1 186.6 2212.1 186.6 2211.2 186.6 2210.2 186.6 2209.3 186.6 2208.3 186.6 2207.4 186.8 2206.4 188.0 2205.4 189.4 2204.5 191.0 2203.5 192.7 2202.6 194.5 2201.6 196.4 2200.7 198.3 2199.7 200.3 2198.8 202.3 2197.8 204.4 2196.9 206.5 2195.9 208.5 2194.9 210.6 2194.0 212.7 2193.0 214.8 2192.1 216.8 2191.1 218.9 2190.2 220.9 2189.2 222.8 2188.3 224.7 2187.3 226.6 2186.3 228.4 2185.4 230.1 2184.4 231.7 2183.5 233.2 2182.5 234.5 2181.6 235.5 2180.6 233.8 2179.7 231.0 2178.7 228.3 2177.7 225.7 2176.8 223.1 2175.8 220.5 2174.9 218.0 2173.9 215.5 2173.0 213.0 2172.0 210.6 2171.1 208.3 2170.1 206.0 2169.2 203.8 2168.2 201.6 2167.2 199.6 2166.3 197.5 2165.3 195.6 2164.4 193.8 2163.4 192.0 2162.5 190.4 2161.5 188.9 2160.6 187.6 2159.6 186.6 2158.6 186.6 2157.7 186.6 2156.7 186.6 2155.8 186.6 2154.8 186.6 2153.9 186.6 2152.9 186.6 2152.0 186.6 2151.0 186.6 2150.0 186.6 2149.1 186.6 2148.1 186.6 2147.2 186.6 2146.2 186.6 2145.3 186.6 2144.3 186.6 2143.4 186.6 2142.4 186.6 2141.5 186.6 2140.5 186.6 2139.5 186.6 2138.6 186.6 2137.6 186.6 2136.7 186.6 2135.7 186.6 2134.8 186.6 2133.8 186.6 2132.9 186.6 2131.9 186.6 2130.9 186.6 2130.0 186.6 2129.0 186.6 2128.1 186.6 2127.1 186.6 2126.2 186.6 2125.2 186.6 2124.3 186.6 2123.3 186.6 2122.3 186.6 2121.4 186.6 2120.4 186.6 2119.5 186.6 2118.5 186.6 2117.6 186.6 2116.6 186.6 2115.7 186.6 2114.7 186.6 2113.8 186.6 2112.8 186.6 2111.8 186.5 2110.9 186.4 2109.9 186.4 2109.9 186.3 2110.9 186.2 2111.8 186.2 2112.8 186.2 2113.8 186.2 2114.7 186.2 2115.7 186.2 2116.6 186.2 2117.6 186.2 2118.5 186.2 2119.5 186.2 2120.4 186.2 2121.4 186.2 2122.3 186.2 2123.3 186.2 2124.3 186.2 2125.2 186.2 2126.2 186.2 2127.1 186.2 2128.1 186.2 2129.0 186.2 2130.0 186.2 2130.9 186.2 2131.9 186.2 2132.9 186.2 2133.8 186.2 2134.8 186.2 2135.7 186.2 2136.7 186.2 2137.6 186.2 2138.6 186.2 2139.5 186.2 2140.5 186.2 2141.5 186.2 2142.4 186.2 2143.4 186.2 2144.3 186.2 2145.3 186.2 2146.2 186.2 2147.2 186.2 2148.1 186.2 2149.1 186.2 2150.0 186.2 2151.0 186.2 2152.0 186.2 2152.9 186.2 2153.9 186.2 2154.8 186.2 2155.8 186.2 2156.7 186.2 2157.7 186.2 2158.6 185.2 2159.6 183.9 2160.6 182.4 2161.5 180.8 2162.5 179.0 2163.4 177.2 2164.4 175.3 2165.3 173.2 2166.3 171.2 2167.2 169.0 2168.2 166.8 2169.2 164.5 2170.1 162.2 2171.1 159.8 2172.0 157.3 2173.0 154.8 2173.9 152.3 2174.9 149.7 2175.8 147.1 2176.8 144.5 2177.7 141.8 2178.7 139.0 2179.7 137.3 2180.6 138.3 2181.6 139.6 2182.5 141.1 2183.5 142.7 2184.4 144.4 2185.4 146.2 2186.3 148.1 2187.3 150.0 2188.3 151.9 2189.2 153.9 2190.2 156.0 2191.1 158.0 2192.1 160.1 2193.0 162.2 2194.0 164.3 2194.9 166.3 2195.9 168.4 2196.9 170.5 2197.8 172.5 2198.8 174.5 2199.7 176.4 2200.7 178.3 2201.6 180.1 2202.6 181.8 2203.5 183.4 2204.5 184.8 2205.4 186.0 2206.4 186.2 2207.4 186.2 2208.3 186.2 2209.3 186.2 2210.2 186.2 2211.2 186.2 2212.1 186.3 2213.1 186.4 2214.0" fill="#b385c4" stroke="#262626" stroke-width="1.25" stroke-linejoin="round"/>
<polygon points="295.9 2234.8 296.0 2234.0 296.1 2233.3 296.1 2232.5 296.1 2231.8 296.1 2231.0 296.1 2230.2 296.1 2229.5 296.2 2228.7 296.4 2228.0 296.8 2227.2 297.3 2226.5 297.9 2225.7 298.4 2225.0 298.7 2224.2 298.6 2223.5 298.3 2222.7 297.8 2222.0 297.2 2221.2 296.7 2220.5 296.3 2219.7 296.1 2219.0 296.1 2218.2 296.1 2217.5 296.1 2216.7 296.1 2216.0 296.1 2215.2 296.1 2214.5 296.1 2213.7 296.7 2213.0 297.5 2212.2 298.4 2211.5 299.5 2210.7 300.6 2210.0 301.9 2209.2 303.2 2208.4 304.6 2207.7 306.0 2206.9 307.5 2206.2 309.1 2205.4 310.7 2204.7 312.3 2203.9 313.9 2203.2 315.6 2202.4 317.3 2201.7 319.0 2200.9 320.7 2200.2 322.4 2199.4 324.1 2198.7 325.7 2197.9 327.4 2197.2 329.0 2196.4 330.6 2195.7 332.2 2194.9 333.7 2194.2 335.1 2193.4 336.5 2192.7 337.7 2191.9 338.8 2191.2 339.5 2190.4 338.9 2189.7 338.1 2188.9 337.2 2188.2 336.1 2187.4 335.0 2186.6 333.8 2185.9 332.5 2185.1 331.2 2184.4 329.8 2183.6 328.4 2182.9 327.0 2182.1 325.5 2181.4 324.0 2180.6 322.4 2179.9 320.9 2179.1 319.3 2178.4 317.7 2177.6 316.1 2176.9 314.4 2176.1 312.8 2175.4 311.1 2174.6 309.5 2173.9 307.8 2173.1 306.1 2172.4 304.5 2171.6 302.8 2170.9 301.2 2170.1 299.6 2169.4 298.0 2168.6 296.5 2167.9 296.1 2167.1 296.1 2166.4 296.1 2165.6 296.1 2164.8 296.1 2164.1 296.5 2163.3 297.2 2162.6 298.0 2161.8 298.2 2161.1 297.7 2160.3 296.9 2159.6 296.3 2158.8 296.1 2158.1 296.1 2157.3 296.1 2156.6 296.1 2155.8 296.1 2155.1 296.1 2154.3 296.0 2153.6 295.9 2152.8 295.9 2152.8 295.8 2153.6 295.7 2154.3 295.7 2155.1 295.7 2155.8 295.7 2156.6 295.7 2157.3 295.7 2158.1 295.5 2158.8 294.9 2159.6 294.1 2160.3 293.6 2161.1 293.8 2161.8 294.6 2162.6 295.3 2163.3 295.7 2164.1 295.7 2164.8 295.7 2165.6 295.7 2166.4 295.7 2167.1 295.3 2167.9 293.8 2168.6 292.2 2169.4 290.6 2170.1 289.0 2170.9 287.3 2171.6 285.7 2172.4 284.0 2173.1 282.3 2173.9 280.7 2174.6 279.0 2175.4 277.4 2176.1 275.7 2176.9 274.1 2177.6 272.5 2178.4 270.9 2179.1 269.4 2179.9 267.8 2180.6 266.3 2181.4 264.8 2182.1 263.4 2182.9 262.0 2183.6 260.6 2184.4 259.3 2185.1 258.0 2185.9 256.8 2186.6 255.7 2187.4 254.6 2188.2 253.7 2188.9 252.9 2189.7 252.3 2190.4 253.0 2191.2 254.1 2191.9 255.3 2192.7 256.7 2193.4 258.1 2194.2 259.6 2194.9 261.2 2195.7 262.8 2196.4 264.4 2197.2 266.1 2197.9 267.7 2198.7 269.4 2199.4 271.1 2200.2 272.8 2200.9 274.5 2201.7 276.2 2202.4 277.9 2203.2 279.5 2203.9 281.1 2204.7 282.7 2205.4 284.3 2206.2 285.8 2206.9 287.2 2207.7 288.6 2208.4 289.9 2209.2 291.2 2210.0 292.3 2210.7 293.4 2211.5 294.3 2212.2 295.1 2213.0 295.7 2213.7 295.7 2214.5 295.7 2215.2 295.7 2216.0 295.7 2216.7 295.7 2217.5 295.7 2218.2 295.7 2219.0 295.5 2219.7 295.1 2220.5 294.6 2221.2 294.0 2222.0 293.5 2222.7 293.2 2223.5 293.1 2224.2 293.4 2225.0 293.9 2225.7 294.5 2226.5 295.0 2227.2 295.4 2228.0 295.6 2228.7 295.7 2229.5 295.7 2230.2 295.7 2231.0 295.7 2231.8 295.7 2232.5 295.7 2233.3 295.8 2234.0 295.9 2234.8" fill="#88a1cf" stroke="#262626" stroke-width="1.25" stroke-linejoin="round"/>
<line x1="186.4" y1="2164.4" x2="186.4" y2="2176.5" stroke="#333" stroke-width="1.2"/>
<line x1="186.4" y1="2188" x2="186.4" y2="2199.6" stroke="#333" stroke-width="1.2"/>
<rect x="175.6" y="2176.5" width="21.7" height="11.5" fill="#a058b2" stroke="#333" stroke-width="1.2"/>
<line x1="175.6" y1="2182" x2="197.2" y2="2182" stroke="#1a1a1a" stroke-width="2.6"/>
<line x1="295.9" y1="2171.9" x2="295.9" y2="2184" stroke="#333" stroke-width="1.2"/>
<line x1="295.9" y1="2195" x2="295.9" y2="2204.1" stroke="#333" stroke-width="1.2"/>
<rect x="285" y="2184" width="21.7" height="11" fill="#6690cc" stroke="#333" stroke-width="1.2"/>
<line x1="285" y1="2190" x2="306.8" y2="2190" stroke="#1a1a1a" stroke-width="2.6"/>
<text transform="translate(111.6 2114.5)" style="font-family:'Liberation Sans',Arial,sans-serif;font-size:17.4px" text-anchor="end" fill="#433b3b">4</text>
<text transform="translate(111.6 2151.1)" style="font-family:'Liberation Sans',Arial,sans-serif;font-size:17.4px" text-anchor="end" fill="#433b3b">2</text>
<text transform="translate(111.6 2187.8)" style="font-family:'Liberation Sans',Arial,sans-serif;font-size:17.4px" text-anchor="end" fill="#433b3b">0</text>
<text transform="translate(111.6 2224.5)" style="font-family:'Liberation Sans',Arial,sans-serif;font-size:17.4px" text-anchor="end" fill="#433b3b">-2</text>
<text transform="translate(186.4 2261.4)" style="font-family:'Liberation Sans',Arial,sans-serif;font-size:17.3px" text-anchor="middle" fill="#433b3b">no</text>
<text transform="translate(295.9 2261.4)" style="font-family:'Liberation Sans',Arial,sans-serif;font-size:17.3px" text-anchor="middle" fill="#433b3b">yes</text>
<text transform="translate(78 2172.8) rotate(-90)" style="font-family:'Liberation Sans',Arial,sans-serif;font-size:18px;white-space:pre" text-anchor="middle" xml:space="preserve" dominant-baseline="central">CCL22  NPX</text>
<text transform="translate(238.4 2071.7)" style="font-family:'Liberation Sans',Arial,sans-serif;font-size:17.6px;font-weight:bold" text-anchor="middle">CCL22</text>
<text transform="translate(238.4 2091)" style="font-family:'Liberation Sans',Arial,sans-serif;font-size:17.6px;font-weight:bold;white-space:pre" text-anchor="middle" xml:space="preserve">p =  1.49e-11</text>
<line x1="446.7" y1="2115.3" x2="667.9" y2="2115.3" stroke="#f3efef" stroke-width="1.1"/>
<line x1="446.7" y1="2142.9" x2="667.9" y2="2142.9" stroke="#f3efef" stroke-width="1.1"/>
<line x1="446.7" y1="2170.6" x2="667.9" y2="2170.6" stroke="#f3efef" stroke-width="1.1"/>
<line x1="446.7" y1="2198.2" x2="667.9" y2="2198.2" stroke="#f3efef" stroke-width="1.1"/>
<line x1="446.7" y1="2225.9" x2="667.9" y2="2225.9" stroke="#f3efef" stroke-width="1.1"/>
<line x1="446.7" y1="2129.1" x2="667.9" y2="2129.1" stroke="#ebe6e6" stroke-width="1.4"/>
<line x1="446.7" y1="2156.8" x2="667.9" y2="2156.8" stroke="#ebe6e6" stroke-width="1.4"/>
<line x1="446.7" y1="2184.4" x2="667.9" y2="2184.4" stroke="#ebe6e6" stroke-width="1.4"/>
<line x1="446.7" y1="2212.1" x2="667.9" y2="2212.1" stroke="#ebe6e6" stroke-width="1.4"/>
<line x1="446.7" y1="2239.7" x2="667.9" y2="2239.7" stroke="#ebe6e6" stroke-width="1.4"/>
<line x1="505.3" y1="2103.7" x2="505.3" y2="2241.8" stroke="#eeeaea" stroke-width="1.4"/>
<line x1="607.2" y1="2103.7" x2="607.2" y2="2241.8" stroke="#eeeaea" stroke-width="1.4"/>
<polygon points="505.3 2235.5 505.4 2234.3 505.5 2233.2 505.5 2232.0 505.5 2230.9 505.5 2229.7 505.5 2228.6 505.5 2227.4 505.5 2226.3 505.5 2225.1 505.5 2224.0 505.5 2222.8 505.5 2221.7 505.5 2220.5 505.5 2219.4 505.5 2218.2 505.5 2217.1 505.5 2215.9 505.5 2214.8 505.5 2213.6 505.5 2212.5 505.5 2211.3 505.5 2210.2 505.5 2209.0 505.5 2207.9 505.5 2206.7 505.5 2205.6 505.5 2204.4 505.5 2203.3 505.5 2202.1 506.0 2200.9 507.7 2199.8 509.9 2198.6 512.5 2197.5 515.4 2196.3 518.5 2195.2 521.9 2194.0 525.4 2192.9 529.0 2191.7 532.7 2190.6 536.4 2189.4 540.1 2188.3 543.8 2187.1 547.2 2186.0 550.3 2184.8 550.5 2183.7 546.6 2182.5 541.8 2181.4 536.4 2180.2 530.8 2179.1 524.9 2177.9 519.1 2176.8 513.4 2175.6 508.1 2174.5 505.5 2173.3 505.5 2172.2 505.5 2171.0 505.5 2169.9 505.5 2168.7 505.5 2167.5 505.5 2166.4 505.5 2165.2 505.5 2164.1 505.5 2162.9 505.5 2161.8 505.5 2160.6 505.5 2159.5 505.5 2158.3 505.5 2157.2 505.5 2156.0 505.5 2154.9 505.5 2153.7 505.5 2152.6 505.5 2151.4 505.5 2150.3 505.5 2149.1 505.5 2148.0 505.5 2146.8 505.5 2145.7 505.5 2144.5 505.5 2143.4 505.5 2142.2 505.5 2141.1 505.5 2139.9 505.5 2138.8 505.5 2137.6 505.5 2136.5 505.5 2135.3 505.5 2134.2 505.5 2133.0 505.5 2131.8 505.5 2130.7 505.5 2129.5 505.5 2128.4 505.5 2127.2 505.5 2126.1 505.5 2124.9 505.5 2123.8 505.5 2122.6 505.5 2121.5 505.5 2120.3 505.5 2119.2 505.5 2118.0 505.5 2116.9 505.5 2115.7 505.5 2114.6 505.5 2113.4 505.5 2112.3 505.4 2111.1 505.3 2110.0 505.3 2110.0 505.2 2111.1 505.1 2112.3 505.1 2113.4 505.1 2114.6 505.1 2115.7 505.1 2116.9 505.1 2118.0 505.1 2119.2 505.1 2120.3 505.1 2121.5 505.1 2122.6 505.1 2123.8 505.1 2124.9 505.1 2126.1 505.1 2127.2 505.1 2128.4 505.1 2129.5 505.1 2130.7 505.1 2131.8 505.1 2133.0 505.1 2134.2 505.1 2135.3 505.1 2136.5 505.1 2137.6 505.1 2138.8 505.1 2139.9 505.1 2141.1 505.1 2142.2 505.1 2143.4 505.1 2144.5 505.1 2145.7 505.1 2146.8 505.1 2148.0 505.1 2149.1 505.1 2150.3 505.1 2151.4 505.1 2152.6 505.1 2153.7 505.1 2154.9 505.1 2156.0 505.1 2157.2 505.1 2158.3 505.1 2159.5 505.1 2160.6 505.1 2161.8 505.1 2162.9 505.1 2164.1 505.1 2165.2 505.1 2166.4 505.1 2167.5 505.1 2168.7 505.1 2169.9 505.1 2171.0 505.1 2172.2 505.1 2173.3 502.5 2174.5 497.2 2175.6 491.5 2176.8 485.7 2177.9 479.8 2179.1 474.2 2180.2 468.8 2181.4 464.0 2182.5 460.1 2183.7 460.3 2184.8 463.4 2186.0 466.8 2187.1 470.5 2188.3 474.2 2189.4 477.9 2190.6 481.6 2191.7 485.2 2192.9 488.7 2194.0 492.1 2195.2 495.2 2196.3 498.1 2197.5 500.7 2198.6 502.9 2199.8 504.6 2200.9 505.1 2202.1 505.1 2203.3 505.1 2204.4 505.1 2205.6 505.1 2206.7 505.1 2207.9 505.1 2209.0 505.1 2210.2 505.1 2211.3 505.1 2212.5 505.1 2213.6 505.1 2214.8 505.1 2215.9 505.1 2217.1 505.1 2218.2 505.1 2219.4 505.1 2220.5 505.1 2221.7 505.1 2222.8 505.1 2224.0 505.1 2225.1 505.1 2226.3 505.1 2227.4 505.1 2228.6 505.1 2229.7 505.1 2230.9 505.1 2232.0 505.1 2233.2 505.2 2234.3 505.3 2235.5" fill="#b385c4" stroke="#262626" stroke-width="1.25" stroke-linejoin="round"/>
<polygon points="607.2 2206.4 607.2 2206.1 607.3 2205.7 607.4 2205.4 607.7 2205.0 608.1 2204.7 608.7 2204.3 609.1 2204.0 609.6 2203.7 610.1 2203.3 610.6 2203.0 611.2 2202.6 611.8 2202.3 612.4 2201.9 613.0 2201.6 613.6 2201.2 614.2 2200.9 614.9 2200.6 615.6 2200.2 616.3 2199.9 616.9 2199.5 617.7 2199.2 618.4 2198.8 619.1 2198.5 619.8 2198.2 620.6 2197.8 621.3 2197.5 622.1 2197.1 622.9 2196.8 623.6 2196.4 624.4 2196.1 625.2 2195.7 626.0 2195.4 626.8 2195.1 627.6 2194.7 628.4 2194.4 629.2 2194.0 630.0 2193.7 630.8 2193.3 631.6 2193.0 632.4 2192.7 633.2 2192.3 634.0 2192.0 634.8 2191.6 635.6 2191.3 636.4 2190.9 637.2 2190.6 638.0 2190.2 638.8 2189.9 639.6 2189.6 640.4 2189.2 641.2 2188.9 641.9 2188.5 642.7 2188.2 643.4 2187.8 644.2 2187.5 644.9 2187.1 645.6 2186.8 646.3 2186.5 646.9 2186.1 647.5 2185.8 648.1 2185.4 648.6 2185.1 648.3 2184.7 647.5 2184.4 646.6 2184.1 645.6 2183.7 644.5 2183.4 643.4 2183.0 642.3 2182.7 641.2 2182.3 640.0 2182.0 638.8 2181.6 637.6 2181.3 636.4 2181.0 635.2 2180.6 633.9 2180.3 632.7 2179.9 631.5 2179.6 630.2 2179.2 629.0 2178.9 627.8 2178.5 626.5 2178.2 625.3 2177.9 624.1 2177.5 622.9 2177.2 621.7 2176.8 620.5 2176.5 619.3 2176.1 618.2 2175.8 617.0 2175.5 615.9 2175.1 614.8 2174.8 613.8 2174.4 612.7 2174.1 611.7 2173.7 610.8 2173.4 609.9 2173.0 609.1 2172.7 608.3 2172.4 607.6 2172.0 607.4 2171.7 607.4 2171.3 607.4 2171.0 607.4 2170.6 607.3 2170.3 607.3 2169.9 607.3 2169.6 607.2 2169.3 607.2 2168.9 607.2 2168.9 607.2 2169.3 607.1 2169.6 607.1 2169.9 607.1 2170.3 607.0 2170.6 607.0 2171.0 607.0 2171.3 607.0 2171.7 606.8 2172.0 606.1 2172.4 605.3 2172.7 604.5 2173.0 603.6 2173.4 602.7 2173.7 601.7 2174.1 600.6 2174.4 599.6 2174.8 598.5 2175.1 597.4 2175.5 596.2 2175.8 595.1 2176.1 593.9 2176.5 592.7 2176.8 591.5 2177.2 590.3 2177.5 589.1 2177.9 587.9 2178.2 586.6 2178.5 585.4 2178.9 584.2 2179.2 582.9 2179.6 581.7 2179.9 580.5 2180.3 579.2 2180.6 578.0 2181.0 576.8 2181.3 575.6 2181.6 574.4 2182.0 573.2 2182.3 572.1 2182.7 571.0 2183.0 569.9 2183.4 568.8 2183.7 567.8 2184.1 566.9 2184.4 566.1 2184.7 565.8 2185.1 566.3 2185.4 566.9 2185.8 567.5 2186.1 568.1 2186.5 568.8 2186.8 569.5 2187.1 570.2 2187.5 571.0 2187.8 571.7 2188.2 572.5 2188.5 573.2 2188.9 574.0 2189.2 574.8 2189.6 575.6 2189.9 576.4 2190.2 577.2 2190.6 578.0 2190.9 578.8 2191.3 579.6 2191.6 580.4 2192.0 581.2 2192.3 582.0 2192.7 582.8 2193.0 583.6 2193.3 584.4 2193.7 585.2 2194.0 586.0 2194.4 586.8 2194.7 587.6 2195.1 588.4 2195.4 589.2 2195.7 590.0 2196.1 590.8 2196.4 591.5 2196.8 592.3 2197.1 593.1 2197.5 593.8 2197.8 594.6 2198.2 595.3 2198.5 596.0 2198.8 596.7 2199.2 597.5 2199.5 598.1 2199.9 598.8 2200.2 599.5 2200.6 600.2 2200.9 600.8 2201.2 601.4 2201.6 602.0 2201.9 602.6 2202.3 603.2 2202.6 603.8 2203.0 604.3 2203.3 604.8 2203.7 605.3 2204.0 605.7 2204.3 606.3 2204.7 606.7 2205.0 607.0 2205.4 607.1 2205.7 607.2 2206.1 607.2 2206.4" fill="#88a1cf" stroke="#262626" stroke-width="1.25" stroke-linejoin="round"/>
<line x1="505.3" y1="2172.7" x2="505.3" y2="2180.4" stroke="#333" stroke-width="1.2"/>
<line x1="505.3" y1="2188.5" x2="505.3" y2="2200.2" stroke="#333" stroke-width="1.2"/>
<rect x="494.4" y="2180.4" width="21.7" height="8.1" fill="#a058b2" stroke="#333" stroke-width="1.2"/>
<line x1="494.4" y1="2184.4" x2="516.1" y2="2184.4" stroke="#1a1a1a" stroke-width="2.6"/>
<line x1="607.2" y1="2175" x2="607.2" y2="2183.4" stroke="#333" stroke-width="1.2"/>
<line x1="607.2" y1="2190.3" x2="607.2" y2="2198.8" stroke="#333" stroke-width="1.2"/>
<rect x="596.4" y="2183.4" width="21.7" height="6.9" fill="#6690cc" stroke="#333" stroke-width="1.2"/>
<line x1="596.4" y1="2186.9" x2="618.1" y2="2186.9" stroke="#1a1a1a" stroke-width="2.6"/>
<text transform="translate(434.8 2135.3)" style="font-family:'Liberation Sans',Arial,sans-serif;font-size:17.4px" text-anchor="end" fill="#433b3b">5.0</text>
<text transform="translate(434.8 2162.9)" style="font-family:'Liberation Sans',Arial,sans-serif;font-size:17.4px" text-anchor="end" fill="#433b3b">2.5</text>
<text transform="translate(434.8 2190.6)" style="font-family:'Liberation Sans',Arial,sans-serif;font-size:17.4px" text-anchor="end" fill="#433b3b">0.0</text>
<text transform="translate(434.8 2218.2)" style="font-family:'Liberation Sans',Arial,sans-serif;font-size:17.4px" text-anchor="end" fill="#433b3b">-2.5</text>
<text transform="translate(434.8 2245.9)" style="font-family:'Liberation Sans',Arial,sans-serif;font-size:17.4px" text-anchor="end" fill="#433b3b">-5.0</text>
<text transform="translate(505.3 2261.4)" style="font-family:'Liberation Sans',Arial,sans-serif;font-size:17.3px" text-anchor="middle" fill="#433b3b">no</text>
<text transform="translate(607.2 2261.4)" style="font-family:'Liberation Sans',Arial,sans-serif;font-size:17.3px" text-anchor="middle" fill="#433b3b">yes</text>
<text transform="translate(386 2172.8) rotate(-90)" style="font-family:'Liberation Sans',Arial,sans-serif;font-size:18px;white-space:pre" text-anchor="middle" xml:space="preserve" dominant-baseline="central">LAT  NPX</text>
<text transform="translate(554 2071.7)" style="font-family:'Liberation Sans',Arial,sans-serif;font-size:17.6px;font-weight:bold" text-anchor="middle">LAT</text>
<text transform="translate(554 2091)" style="font-family:'Liberation Sans',Arial,sans-serif;font-size:17.6px;font-weight:bold;white-space:pre" text-anchor="middle" xml:space="preserve">p =  0.00475</text>
<line x1="738" y1="2108" x2="975.5" y2="2108" stroke="#f3efef" stroke-width="1.1"/>
<line x1="738" y1="2137.2" x2="975.5" y2="2137.2" stroke="#f3efef" stroke-width="1.1"/>
<line x1="738" y1="2166.6" x2="975.5" y2="2166.6" stroke="#f3efef" stroke-width="1.1"/>
<line x1="738" y1="2195.8" x2="975.5" y2="2195.8" stroke="#f3efef" stroke-width="1.1"/>
<line x1="738" y1="2225.2" x2="975.5" y2="2225.2" stroke="#f3efef" stroke-width="1.1"/>
<line x1="738" y1="2122.6" x2="975.5" y2="2122.6" stroke="#ebe6e6" stroke-width="1.4"/>
<line x1="738" y1="2151.9" x2="975.5" y2="2151.9" stroke="#ebe6e6" stroke-width="1.4"/>
<line x1="738" y1="2181.2" x2="975.5" y2="2181.2" stroke="#ebe6e6" stroke-width="1.4"/>
<line x1="738" y1="2210.5" x2="975.5" y2="2210.5" stroke="#ebe6e6" stroke-width="1.4"/>
<line x1="738" y1="2239.8" x2="975.5" y2="2239.8" stroke="#ebe6e6" stroke-width="1.4"/>
<line x1="802.5" y1="2103.7" x2="802.5" y2="2241.7" stroke="#eeeaea" stroke-width="1.4"/>
<line x1="911.5" y1="2103.7" x2="911.5" y2="2241.7" stroke="#eeeaea" stroke-width="1.4"/>
<polygon points="802.5 2235.4 802.6 2234.3 802.7 2233.1 802.7 2232.0 802.7 2230.8 802.7 2229.7 802.7 2228.5 802.7 2227.4 802.7 2226.2 802.7 2225.1 802.7 2223.9 802.7 2222.7 802.7 2221.6 802.7 2220.4 802.7 2219.3 802.7 2218.1 802.7 2217.0 802.7 2215.8 802.7 2214.7 802.7 2213.5 802.7 2212.4 802.7 2211.2 802.7 2210.1 802.7 2208.9 802.7 2207.8 802.7 2206.6 802.7 2205.5 802.7 2204.3 802.7 2203.2 802.7 2202.0 802.7 2200.9 802.7 2199.7 802.7 2198.6 802.7 2197.4 802.7 2196.3 802.7 2195.1 802.7 2194.0 802.7 2192.8 802.7 2191.7 802.7 2190.5 802.7 2189.4 802.7 2188.2 802.7 2187.1 802.7 2185.9 802.7 2184.8 802.7 2183.6 802.7 2182.5 802.7 2181.3 802.7 2180.2 802.7 2179.0 802.7 2177.9 802.7 2176.7 802.7 2175.6 802.7 2174.4 802.7 2173.3 802.7 2172.1 803.1 2171.0 805.1 2169.8 807.5 2168.7 810.2 2167.5 813.0 2166.4 816.0 2165.2 819.1 2164.1 822.2 2162.9 825.4 2161.8 828.5 2160.6 831.7 2159.5 834.8 2158.3 837.8 2157.2 840.8 2156.0 843.6 2154.9 846.2 2153.7 848.7 2152.6 850.8 2151.4 852.1 2150.3 847.6 2149.1 843.1 2148.0 838.8 2146.8 834.5 2145.7 830.4 2144.5 826.5 2143.4 822.6 2142.2 819.0 2141.1 815.5 2139.9 812.2 2138.8 809.2 2137.6 806.4 2136.5 804.1 2135.3 802.7 2134.2 802.7 2133.0 802.7 2131.9 802.7 2130.7 802.7 2129.6 802.7 2128.4 802.7 2127.3 802.7 2126.1 802.7 2125.0 802.7 2123.8 802.7 2122.7 802.7 2121.5 802.7 2120.4 802.7 2119.2 802.7 2118.1 802.7 2116.9 802.7 2115.8 802.7 2114.6 802.7 2113.5 802.7 2112.3 802.6 2111.2 802.5 2110.0 802.5 2110.0 802.4 2111.2 802.3 2112.3 802.3 2113.5 802.3 2114.6 802.3 2115.8 802.3 2116.9 802.3 2118.1 802.3 2119.2 802.3 2120.4 802.3 2121.5 802.3 2122.7 802.3 2123.8 802.3 2125.0 802.3 2126.1 802.3 2127.3 802.3 2128.4 802.3 2129.6 802.3 2130.7 802.3 2131.9 802.3 2133.0 802.3 2134.2 800.9 2135.3 798.6 2136.5 795.8 2137.6 792.8 2138.8 789.5 2139.9 786.0 2141.1 782.4 2142.2 778.5 2143.4 774.6 2144.5 770.5 2145.7 766.2 2146.8 761.9 2148.0 757.4 2149.1 752.9 2150.3 754.2 2151.4 756.3 2152.6 758.8 2153.7 761.4 2154.9 764.2 2156.0 767.2 2157.2 770.2 2158.3 773.3 2159.5 776.5 2160.6 779.6 2161.8 782.8 2162.9 785.9 2164.1 789.0 2165.2 792.0 2166.4 794.8 2167.5 797.5 2168.7 799.9 2169.8 801.9 2171.0 802.3 2172.1 802.3 2173.3 802.3 2174.4 802.3 2175.6 802.3 2176.7 802.3 2177.9 802.3 2179.0 802.3 2180.2 802.3 2181.3 802.3 2182.5 802.3 2183.6 802.3 2184.8 802.3 2185.9 802.3 2187.1 802.3 2188.2 802.3 2189.4 802.3 2190.5 802.3 2191.7 802.3 2192.8 802.3 2194.0 802.3 2195.1 802.3 2196.3 802.3 2197.4 802.3 2198.6 802.3 2199.7 802.3 2200.9 802.3 2202.0 802.3 2203.2 802.3 2204.3 802.3 2205.5 802.3 2206.6 802.3 2207.8 802.3 2208.9 802.3 2210.1 802.3 2211.2 802.3 2212.4 802.3 2213.5 802.3 2214.7 802.3 2215.8 802.3 2217.0 802.3 2218.1 802.3 2219.3 802.3 2220.4 802.3 2221.6 802.3 2222.7 802.3 2223.9 802.3 2225.1 802.3 2226.2 802.3 2227.4 802.3 2228.5 802.3 2229.7 802.3 2230.8 802.3 2232.0 802.3 2233.1 802.4 2234.3 802.5 2235.4" fill="#b385c4" stroke="#262626" stroke-width="1.25" stroke-linejoin="round"/>
<polygon points="911.5 2188.8 911.6 2188.3 911.6 2187.7 911.7 2187.1 911.7 2186.6 911.7 2186.0 911.7 2185.4 911.7 2184.9 911.7 2184.3 911.7 2183.8 911.7 2183.2 911.8 2182.6 912.0 2182.1 912.5 2181.5 913.0 2181.0 913.5 2180.4 913.8 2179.8 913.7 2179.3 913.4 2178.7 912.9 2178.1 912.4 2177.6 912.0 2177.0 911.7 2176.5 911.7 2175.9 911.7 2175.3 911.7 2174.8 911.7 2174.2 911.7 2173.6 911.9 2173.1 912.8 2172.5 913.9 2172.0 915.1 2171.4 916.5 2170.8 917.9 2170.3 919.4 2169.7 920.9 2169.2 922.5 2168.6 924.1 2168.0 925.7 2167.5 927.4 2166.9 929.1 2166.3 930.8 2165.8 932.5 2165.2 934.3 2164.7 936.0 2164.1 937.8 2163.5 939.5 2163.0 941.3 2162.4 943.0 2161.9 944.7 2161.3 946.4 2160.7 948.1 2160.2 949.7 2159.6 951.3 2159.0 952.8 2158.5 954.3 2157.9 955.6 2157.4 956.8 2156.8 956.8 2156.2 956.2 2155.7 955.4 2155.1 954.6 2154.5 953.7 2154.0 952.7 2153.4 951.6 2152.9 950.6 2152.3 949.5 2151.7 948.4 2151.2 947.2 2150.6 946.0 2150.1 944.8 2149.5 943.6 2148.9 942.4 2148.4 941.2 2147.8 940.0 2147.2 938.8 2146.7 937.5 2146.1 936.3 2145.6 935.0 2145.0 933.8 2144.4 932.6 2143.9 931.4 2143.3 930.2 2142.7 929.0 2142.2 927.8 2141.6 926.6 2141.1 925.5 2140.5 924.3 2139.9 923.2 2139.4 922.1 2138.8 921.1 2138.3 920.0 2137.7 919.0 2137.1 918.1 2136.6 917.1 2136.0 916.3 2135.4 915.4 2134.9 914.6 2134.3 913.9 2133.8 913.2 2133.2 912.6 2132.6 912.1 2132.1 911.7 2131.5 911.7 2131.0 911.7 2130.4 911.7 2129.8 911.7 2129.3 911.6 2128.7 911.6 2128.1 911.5 2127.6 911.5 2127.6 911.4 2128.1 911.4 2128.7 911.3 2129.3 911.3 2129.8 911.3 2130.4 911.3 2131.0 911.3 2131.5 910.9 2132.1 910.4 2132.6 909.8 2133.2 909.1 2133.8 908.4 2134.3 907.6 2134.9 906.7 2135.4 905.9 2136.0 904.9 2136.6 904.0 2137.1 903.0 2137.7 901.9 2138.3 900.9 2138.8 899.8 2139.4 898.7 2139.9 897.5 2140.5 896.4 2141.1 895.2 2141.6 894.0 2142.2 892.8 2142.7 891.6 2143.3 890.4 2143.9 889.2 2144.4 888.0 2145.0 886.7 2145.6 885.5 2146.1 884.2 2146.7 883.0 2147.2 881.8 2147.8 880.6 2148.4 879.4 2148.9 878.2 2149.5 877.0 2150.1 875.8 2150.6 874.6 2151.2 873.5 2151.7 872.4 2152.3 871.4 2152.9 870.3 2153.4 869.3 2154.0 868.4 2154.5 867.6 2155.1 866.8 2155.7 866.2 2156.2 866.2 2156.8 867.4 2157.4 868.7 2157.9 870.2 2158.5 871.7 2159.0 873.3 2159.6 874.9 2160.2 876.6 2160.7 878.3 2161.3 880.0 2161.9 881.7 2162.4 883.5 2163.0 885.2 2163.5 887.0 2164.1 888.7 2164.7 890.5 2165.2 892.2 2165.8 893.9 2166.3 895.6 2166.9 897.3 2167.5 898.9 2168.0 900.5 2168.6 902.1 2169.2 903.6 2169.7 905.1 2170.3 906.5 2170.8 907.9 2171.4 909.1 2172.0 910.2 2172.5 911.1 2173.1 911.3 2173.6 911.3 2174.2 911.3 2174.8 911.3 2175.3 911.3 2175.9 911.3 2176.5 911.0 2177.0 910.6 2177.6 910.1 2178.1 909.6 2178.7 909.3 2179.3 909.2 2179.8 909.5 2180.4 910.0 2181.0 910.5 2181.5 911.0 2182.1 911.2 2182.6 911.3 2183.2 911.3 2183.8 911.3 2184.3 911.3 2184.9 911.3 2185.4 911.3 2186.0 911.3 2186.6 911.3 2187.1 911.4 2187.7 911.4 2188.3 911.5 2188.8" fill="#88a1cf" stroke="#262626" stroke-width="1.25" stroke-linejoin="round"/>
<line x1="802.5" y1="2134.5" x2="802.5" y2="2147.1" stroke="#333" stroke-width="1.2"/>
<line x1="802.5" y1="2156.6" x2="802.5" y2="2170.4" stroke="#333" stroke-width="1.2"/>
<rect x="791.6" y="2147.1" width="21.7" height="9.5" fill="#a058b2" stroke="#333" stroke-width="1.2"/>
<line x1="791.6" y1="2151.9" x2="813.4" y2="2151.9" stroke="#1a1a1a" stroke-width="2.6"/>
<line x1="911.5" y1="2141.4" x2="911.5" y2="2151.3" stroke="#333" stroke-width="1.2"/>
<line x1="911.5" y1="2159.7" x2="911.5" y2="2166.6" stroke="#333" stroke-width="1.2"/>
<rect x="900.6" y="2151.3" width="21.7" height="8.4" fill="#6690cc" stroke="#333" stroke-width="1.2"/>
<line x1="900.6" y1="2155.4" x2="922.4" y2="2155.4" stroke="#1a1a1a" stroke-width="2.6"/>
<text transform="translate(729 2128.8)" style="font-family:'Liberation Sans',Arial,sans-serif;font-size:17.4px" text-anchor="end" fill="#433b3b">2</text>
<text transform="translate(729 2158.1)" style="font-family:'Liberation Sans',Arial,sans-serif;font-size:17.4px" text-anchor="end" fill="#433b3b">0</text>
<text transform="translate(729 2187.4)" style="font-family:'Liberation Sans',Arial,sans-serif;font-size:17.4px" text-anchor="end" fill="#433b3b">-2</text>
<text transform="translate(729 2216.7)" style="font-family:'Liberation Sans',Arial,sans-serif;font-size:17.4px" text-anchor="end" fill="#433b3b">-4</text>
<text transform="translate(729 2246)" style="font-family:'Liberation Sans',Arial,sans-serif;font-size:17.4px" text-anchor="end" fill="#433b3b">-6</text>
<text transform="translate(802.5 2261.4)" style="font-family:'Liberation Sans',Arial,sans-serif;font-size:17.3px" text-anchor="middle" fill="#433b3b">no</text>
<text transform="translate(911.5 2261.4)" style="font-family:'Liberation Sans',Arial,sans-serif;font-size:17.3px" text-anchor="middle" fill="#433b3b">yes</text>
<text transform="translate(693.6 2172.8) rotate(-90)" style="font-family:'Liberation Sans',Arial,sans-serif;font-size:18px;white-space:pre" text-anchor="middle" xml:space="preserve" dominant-baseline="central">TNFSF12  NPX</text>
<text transform="translate(854.7 2071.7)" style="font-family:'Liberation Sans',Arial,sans-serif;font-size:17.6px;font-weight:bold" text-anchor="middle">TNFSF12</text>
<text transform="translate(854.7 2091)" style="font-family:'Liberation Sans',Arial,sans-serif;font-size:17.6px;font-weight:bold;white-space:pre" text-anchor="middle" xml:space="preserve">p =  0.000253</text>
<line x1="122.4" y1="2343.6" x2="359.8" y2="2343.6" stroke="#f3efef" stroke-width="1.1"/>
<line x1="122.4" y1="2381" x2="359.8" y2="2381" stroke="#f3efef" stroke-width="1.1"/>
<line x1="122.4" y1="2418.4" x2="359.8" y2="2418.4" stroke="#f3efef" stroke-width="1.1"/>
<line x1="122.4" y1="2455.8" x2="359.8" y2="2455.8" stroke="#f3efef" stroke-width="1.1"/>
<line x1="122.4" y1="2362.3" x2="359.8" y2="2362.3" stroke="#ebe6e6" stroke-width="1.4"/>
<line x1="122.4" y1="2399.7" x2="359.8" y2="2399.7" stroke="#ebe6e6" stroke-width="1.4"/>
<line x1="122.4" y1="2437.1" x2="359.8" y2="2437.1" stroke="#ebe6e6" stroke-width="1.4"/>
<line x1="186.4" y1="2328.8" x2="186.4" y2="2465.8" stroke="#eeeaea" stroke-width="1.4"/>
<line x1="295.9" y1="2328.8" x2="295.9" y2="2465.8" stroke="#eeeaea" stroke-width="1.4"/>
<polygon points="186.4 2452.8 186.5 2451.7 186.6 2450.6 186.6 2449.6 186.6 2448.5 186.6 2447.4 186.6 2446.3 186.6 2445.2 186.6 2444.2 186.6 2443.1 186.6 2442.0 186.6 2440.9 186.6 2439.8 186.6 2438.8 186.6 2437.7 186.6 2436.6 186.6 2435.5 186.6 2434.4 186.6 2433.4 186.6 2432.3 186.6 2431.2 186.6 2430.1 186.6 2429.0 186.6 2427.9 186.6 2426.9 186.6 2425.8 186.6 2424.7 186.6 2423.6 186.6 2422.5 187.0 2421.5 187.9 2420.4 189.0 2419.3 189.8 2418.2 190.2 2417.1 190.5 2416.1 191.2 2415.0 192.3 2413.9 193.8 2412.8 195.6 2411.7 197.6 2410.7 199.9 2409.6 202.4 2408.5 205.1 2407.4 208.1 2406.3 211.3 2405.3 214.7 2404.2 218.4 2403.1 222.4 2402.0 226.6 2400.9 231.0 2399.8 235.7 2398.8 229.8 2397.7 224.1 2396.6 218.6 2395.5 213.3 2394.4 208.2 2393.4 203.4 2392.3 198.9 2391.2 194.7 2390.1 191.0 2389.0 187.9 2388.0 186.6 2386.9 186.6 2385.8 186.6 2384.7 186.6 2383.6 186.6 2382.6 186.6 2381.5 186.6 2380.4 186.6 2379.3 186.6 2378.2 186.6 2377.2 186.6 2376.1 186.6 2375.0 186.6 2373.9 186.6 2372.8 186.6 2371.7 186.6 2370.7 186.6 2369.6 186.6 2368.5 186.6 2367.4 186.6 2366.3 186.6 2365.3 186.6 2364.2 186.6 2363.1 186.6 2362.0 186.6 2360.9 186.6 2359.9 186.6 2358.8 186.6 2357.7 186.6 2356.6 186.6 2355.5 186.6 2354.5 186.6 2353.4 186.6 2352.3 186.6 2351.2 186.6 2350.1 186.6 2349.0 186.6 2348.0 186.6 2346.9 186.6 2345.8 186.6 2344.7 186.6 2343.6 186.6 2342.6 186.6 2341.5 186.6 2340.4 186.6 2339.3 186.6 2338.2 186.6 2337.2 186.5 2336.1 186.4 2335.0 186.4 2335.0 186.3 2336.1 186.2 2337.2 186.2 2338.2 186.2 2339.3 186.2 2340.4 186.2 2341.5 186.2 2342.6 186.2 2343.6 186.2 2344.7 186.2 2345.8 186.2 2346.9 186.2 2348.0 186.2 2349.0 186.2 2350.1 186.2 2351.2 186.2 2352.3 186.2 2353.4 186.2 2354.5 186.2 2355.5 186.2 2356.6 186.2 2357.7 186.2 2358.8 186.2 2359.9 186.2 2360.9 186.2 2362.0 186.2 2363.1 186.2 2364.2 186.2 2365.3 186.2 2366.3 186.2 2367.4 186.2 2368.5 186.2 2369.6 186.2 2370.7 186.2 2371.7 186.2 2372.8 186.2 2373.9 186.2 2375.0 186.2 2376.1 186.2 2377.2 186.2 2378.2 186.2 2379.3 186.2 2380.4 186.2 2381.5 186.2 2382.6 186.2 2383.6 186.2 2384.7 186.2 2385.8 186.2 2386.9 184.9 2388.0 181.8 2389.0 178.1 2390.1 173.9 2391.2 169.4 2392.3 164.6 2393.4 159.5 2394.4 154.2 2395.5 148.7 2396.6 143.0 2397.7 137.1 2398.8 141.8 2399.8 146.2 2400.9 150.4 2402.0 154.4 2403.1 158.1 2404.2 161.5 2405.3 164.7 2406.3 167.7 2407.4 170.4 2408.5 172.9 2409.6 175.2 2410.7 177.2 2411.7 179.0 2412.8 180.5 2413.9 181.6 2415.0 182.3 2416.1 182.6 2417.1 183.0 2418.2 183.8 2419.3 184.9 2420.4 185.8 2421.5 186.2 2422.5 186.2 2423.6 186.2 2424.7 186.2 2425.8 186.2 2426.9 186.2 2427.9 186.2 2429.0 186.2 2430.1 186.2 2431.2 186.2 2432.3 186.2 2433.4 186.2 2434.4 186.2 2435.5 186.2 2436.6 186.2 2437.7 186.2 2438.8 186.2 2439.8 186.2 2440.9 186.2 2442.0 186.2 2443.1 186.2 2444.2 186.2 2445.2 186.2 2446.3 186.2 2447.4 186.2 2448.5 186.2 2449.6 186.2 2450.6 186.3 2451.7 186.4 2452.8" fill="#b385c4" stroke="#262626" stroke-width="1.25" stroke-linejoin="round"/>
<polygon points="295.9 2459.5 296.0 2458.8 296.0 2458.1 296.1 2457.4 296.2 2456.7 296.8 2456.0 297.4 2455.3 297.2 2454.6 296.6 2453.9 296.1 2453.2 296.1 2452.5 296.1 2451.7 296.1 2451.0 296.1 2450.3 296.1 2449.6 296.1 2448.9 296.1 2448.2 296.1 2447.5 296.1 2446.8 296.1 2446.1 296.1 2445.4 296.1 2444.7 296.1 2444.0 296.1 2443.2 296.1 2442.5 296.1 2441.8 296.1 2441.1 296.1 2440.4 296.1 2439.7 296.1 2439.0 296.1 2438.3 296.1 2437.6 296.1 2436.9 296.1 2436.2 296.1 2435.4 296.1 2434.7 296.1 2434.0 296.1 2433.3 296.1 2432.6 296.1 2431.9 296.1 2431.2 296.1 2430.5 296.1 2429.8 296.1 2429.1 296.1 2428.4 296.1 2427.7 296.1 2426.9 296.1 2426.2 296.1 2425.5 296.1 2424.8 296.1 2424.1 296.1 2423.4 296.4 2422.7 296.8 2422.0 297.4 2421.3 298.0 2420.6 298.5 2419.9 298.7 2419.2 298.5 2418.4 298.0 2417.7 297.4 2417.0 296.8 2416.3 296.4 2415.6 296.1 2414.9 296.3 2414.2 296.9 2413.5 297.7 2412.8 298.8 2412.1 300.0 2411.4 301.4 2410.7 302.8 2409.9 304.4 2409.2 306.1 2408.5 307.8 2407.8 309.7 2407.1 311.5 2406.4 313.4 2405.7 315.4 2405.0 317.4 2404.3 319.4 2403.6 321.4 2402.9 323.4 2402.1 325.4 2401.4 327.3 2400.7 329.2 2400.0 331.1 2399.3 332.8 2398.6 334.5 2397.9 336.0 2397.2 337.1 2396.5 335.9 2395.8 332.9 2395.1 329.9 2394.4 327.0 2393.6 324.1 2392.9 321.3 2392.2 318.5 2391.5 315.8 2390.8 313.1 2390.1 310.5 2389.4 308.0 2388.7 305.5 2388.0 303.2 2387.3 301.0 2386.6 298.9 2385.9 297.1 2385.1 296.1 2384.4 296.0 2383.7 296.0 2383.0 295.9 2382.3 295.9 2382.3 295.8 2383.0 295.8 2383.7 295.7 2384.4 294.7 2385.1 292.9 2385.9 290.8 2386.6 288.6 2387.3 286.3 2388.0 283.8 2388.7 281.3 2389.4 278.7 2390.1 276.0 2390.8 273.3 2391.5 270.5 2392.2 267.7 2392.9 264.8 2393.6 261.9 2394.4 258.9 2395.1 255.9 2395.8 254.7 2396.5 255.8 2397.2 257.3 2397.9 259.0 2398.6 260.7 2399.3 262.6 2400.0 264.5 2400.7 266.4 2401.4 268.4 2402.1 270.4 2402.9 272.4 2403.6 274.4 2404.3 276.4 2405.0 278.4 2405.7 280.3 2406.4 282.1 2407.1 284.0 2407.8 285.7 2408.5 287.4 2409.2 289.0 2409.9 290.4 2410.7 291.8 2411.4 293.0 2412.1 294.1 2412.8 294.9 2413.5 295.5 2414.2 295.7 2414.9 295.4 2415.6 295.0 2416.3 294.4 2417.0 293.8 2417.7 293.3 2418.4 293.1 2419.2 293.3 2419.9 293.8 2420.6 294.4 2421.3 295.0 2422.0 295.4 2422.7 295.7 2423.4 295.7 2424.1 295.7 2424.8 295.7 2425.5 295.7 2426.2 295.7 2426.9 295.7 2427.7 295.7 2428.4 295.7 2429.1 295.7 2429.8 295.7 2430.5 295.7 2431.2 295.7 2431.9 295.7 2432.6 295.7 2433.3 295.7 2434.0 295.7 2434.7 295.7 2435.4 295.7 2436.2 295.7 2436.9 295.7 2437.6 295.7 2438.3 295.7 2439.0 295.7 2439.7 295.7 2440.4 295.7 2441.1 295.7 2441.8 295.7 2442.5 295.7 2443.2 295.7 2444.0 295.7 2444.7 295.7 2445.4 295.7 2446.1 295.7 2446.8 295.7 2447.5 295.7 2448.2 295.7 2448.9 295.7 2449.6 295.7 2450.3 295.7 2451.0 295.7 2451.7 295.7 2452.5 295.7 2453.2 295.2 2453.9 294.6 2454.6 294.4 2455.3 295.0 2456.0 295.6 2456.7 295.7 2457.4 295.8 2458.1 295.8 2458.8 295.9 2459.5" fill="#88a1cf" stroke="#262626" stroke-width="1.25" stroke-linejoin="round"/>
<line x1="186.4" y1="2389.2" x2="186.4" y2="2396.5" stroke="#333" stroke-width="1.2"/>
<line x1="186.4" y1="2403.4" x2="186.4" y2="2410.9" stroke="#333" stroke-width="1.2"/>
<rect x="175.6" y="2396.5" width="21.7" height="6.9" fill="#a058b2" stroke="#333" stroke-width="1.2"/>
<line x1="175.6" y1="2399.7" x2="197.2" y2="2399.7" stroke="#1a1a1a" stroke-width="2.6"/>
<line x1="295.9" y1="2389.2" x2="295.9" y2="2393.9" stroke="#333" stroke-width="1.2"/>
<line x1="295.9" y1="2400.3" x2="295.9" y2="2407.7" stroke="#333" stroke-width="1.2"/>
<rect x="285" y="2393.9" width="21.7" height="6.4" fill="#6690cc" stroke="#333" stroke-width="1.2"/>
<line x1="285" y1="2396.9" x2="306.8" y2="2396.9" stroke="#1a1a1a" stroke-width="2.6"/>
<text transform="translate(111.6 2368.5)" style="font-family:'Liberation Sans',Arial,sans-serif;font-size:17.4px" text-anchor="end" fill="#433b3b">2</text>
<text transform="translate(111.6 2405.9)" style="font-family:'Liberation Sans',Arial,sans-serif;font-size:17.4px" text-anchor="end" fill="#433b3b">0</text>
<text transform="translate(111.6 2443.3)" style="font-family:'Liberation Sans',Arial,sans-serif;font-size:17.4px" text-anchor="end" fill="#433b3b">-2</text>
<text transform="translate(186.4 2486.8)" style="font-family:'Liberation Sans',Arial,sans-serif;font-size:17.3px" text-anchor="middle" fill="#433b3b">no</text>
<text transform="translate(295.9 2486.8)" style="font-family:'Liberation Sans',Arial,sans-serif;font-size:17.3px" text-anchor="middle" fill="#433b3b">yes</text>
<text transform="translate(78 2398) rotate(-90)" style="font-family:'Liberation Sans',Arial,sans-serif;font-size:18px;white-space:pre" text-anchor="middle" xml:space="preserve" dominant-baseline="central">OMD  NPX</text>
<text transform="translate(238.4 2297.1)" style="font-family:'Liberation Sans',Arial,sans-serif;font-size:17.6px;font-weight:bold" text-anchor="middle">OMD</text>
<text transform="translate(238.4 2315.6)" style="font-family:'Liberation Sans',Arial,sans-serif;font-size:17.6px;font-weight:bold;white-space:pre" text-anchor="middle" xml:space="preserve">p =  5.25e-05</text>
<line x1="434.8" y1="2338.4" x2="670" y2="2338.4" stroke="#f3efef" stroke-width="1.1"/>
<line x1="434.8" y1="2369.2" x2="670" y2="2369.2" stroke="#f3efef" stroke-width="1.1"/>
<line x1="434.8" y1="2399.8" x2="670" y2="2399.8" stroke="#f3efef" stroke-width="1.1"/>
<line x1="434.8" y1="2430.6" x2="670" y2="2430.6" stroke="#f3efef" stroke-width="1.1"/>
<line x1="434.8" y1="2461.2" x2="670" y2="2461.2" stroke="#f3efef" stroke-width="1.1"/>
<line x1="434.8" y1="2353.8" x2="670" y2="2353.8" stroke="#ebe6e6" stroke-width="1.4"/>
<line x1="434.8" y1="2384.5" x2="670" y2="2384.5" stroke="#ebe6e6" stroke-width="1.4"/>
<line x1="434.8" y1="2415.2" x2="670" y2="2415.2" stroke="#ebe6e6" stroke-width="1.4"/>
<line x1="434.8" y1="2445.9" x2="670" y2="2445.9" stroke="#ebe6e6" stroke-width="1.4"/>
<line x1="494.4" y1="2328.8" x2="494.4" y2="2466.8" stroke="#eeeaea" stroke-width="1.4"/>
<line x1="603.3" y1="2328.8" x2="603.3" y2="2466.8" stroke="#eeeaea" stroke-width="1.4"/>
<polygon points="494.4 2460.5 494.5 2459.3 494.6 2458.2 494.6 2457.0 494.6 2455.9 494.6 2454.7 494.6 2453.6 494.6 2452.4 494.6 2451.3 494.6 2450.1 494.6 2449.0 494.6 2447.8 494.6 2446.7 494.6 2445.5 494.6 2444.4 494.6 2443.2 494.6 2442.1 494.6 2440.9 494.6 2439.8 494.6 2438.6 494.6 2437.5 494.6 2436.3 494.6 2435.2 494.6 2434.0 494.6 2432.9 494.6 2431.7 494.6 2430.6 494.6 2429.4 494.6 2428.3 494.6 2427.1 494.6 2426.0 494.6 2424.8 494.6 2423.7 494.6 2422.5 494.6 2421.4 494.6 2420.2 494.6 2419.1 494.6 2417.9 494.6 2416.8 494.6 2415.6 494.6 2414.5 494.6 2413.3 494.6 2412.2 494.6 2411.0 494.9 2409.9 496.1 2408.7 497.6 2407.6 499.2 2406.4 501.1 2405.3 503.1 2404.1 505.2 2403.0 507.3 2401.8 509.6 2400.7 512.0 2399.5 514.4 2398.4 516.8 2397.2 519.3 2396.1 521.8 2394.9 524.3 2393.8 526.8 2392.6 529.3 2391.4 531.8 2390.3 534.2 2389.1 536.6 2388.0 538.9 2386.8 541.0 2385.7 542.9 2384.5 541.9 2383.4 537.8 2382.2 533.8 2381.1 529.9 2379.9 526.1 2378.8 522.4 2377.6 518.7 2376.5 515.3 2375.3 511.9 2374.2 508.7 2373.0 505.6 2371.9 502.8 2370.7 500.1 2369.6 497.7 2368.4 495.7 2367.3 494.6 2366.1 494.6 2365.0 494.6 2363.8 494.6 2362.7 494.6 2361.5 494.6 2360.4 494.6 2359.2 494.6 2358.1 494.6 2356.9 494.6 2355.8 494.6 2354.6 494.6 2353.5 494.6 2352.3 494.6 2351.2 494.6 2350.0 494.6 2348.9 494.6 2347.7 494.6 2346.6 494.6 2345.4 494.6 2344.3 494.6 2343.1 494.6 2342.0 494.6 2340.8 494.6 2339.7 494.6 2338.5 494.6 2337.4 494.5 2336.2 494.4 2335.1 494.4 2335.1 494.3 2336.2 494.2 2337.4 494.2 2338.5 494.2 2339.7 494.2 2340.8 494.2 2342.0 494.2 2343.1 494.2 2344.3 494.2 2345.4 494.2 2346.6 494.2 2347.7 494.2 2348.9 494.2 2350.0 494.2 2351.2 494.2 2352.3 494.2 2353.5 494.2 2354.6 494.2 2355.8 494.2 2356.9 494.2 2358.1 494.2 2359.2 494.2 2360.4 494.2 2361.5 494.2 2362.7 494.2 2363.8 494.2 2365.0 494.2 2366.1 493.1 2367.3 491.1 2368.4 488.7 2369.6 486.0 2370.7 483.2 2371.9 480.1 2373.0 476.9 2374.2 473.5 2375.3 470.1 2376.5 466.4 2377.6 462.7 2378.8 458.9 2379.9 455.0 2381.1 451.0 2382.2 446.9 2383.4 445.9 2384.5 447.8 2385.7 449.9 2386.8 452.2 2388.0 454.6 2389.1 457.0 2390.3 459.5 2391.4 462.0 2392.6 464.5 2393.8 467.0 2394.9 469.5 2396.1 472.0 2397.2 474.4 2398.4 476.8 2399.5 479.2 2400.7 481.5 2401.8 483.6 2403.0 485.7 2404.1 487.7 2405.3 489.6 2406.4 491.2 2407.6 492.7 2408.7 493.9 2409.9 494.2 2411.0 494.2 2412.2 494.2 2413.3 494.2 2414.5 494.2 2415.6 494.2 2416.8 494.2 2417.9 494.2 2419.1 494.2 2420.2 494.2 2421.4 494.2 2422.5 494.2 2423.7 494.2 2424.8 494.2 2426.0 494.2 2427.1 494.2 2428.3 494.2 2429.4 494.2 2430.6 494.2 2431.7 494.2 2432.9 494.2 2434.0 494.2 2435.2 494.2 2436.3 494.2 2437.5 494.2 2438.6 494.2 2439.8 494.2 2440.9 494.2 2442.1 494.2 2443.2 494.2 2444.4 494.2 2445.5 494.2 2446.7 494.2 2447.8 494.2 2449.0 494.2 2450.1 494.2 2451.3 494.2 2452.4 494.2 2453.6 494.2 2454.7 494.2 2455.9 494.2 2457.0 494.2 2458.2 494.3 2459.3 494.4 2460.5" fill="#b385c4" stroke="#262626" stroke-width="1.25" stroke-linejoin="round"/>
<polygon points="603.3 2420.0 603.4 2419.4 603.4 2418.8 603.5 2418.1 603.5 2417.5 603.5 2416.9 603.5 2416.3 603.5 2415.7 603.5 2415.1 603.5 2414.5 603.6 2413.9 603.9 2413.3 604.2 2412.7 604.6 2412.1 605.0 2411.5 605.4 2410.9 605.8 2410.3 606.0 2409.7 606.1 2409.1 606.0 2408.5 605.7 2407.9 605.3 2407.3 604.8 2406.7 604.4 2406.1 604.0 2405.5 603.8 2404.9 603.6 2404.3 603.5 2403.6 603.5 2403.0 603.5 2402.4 603.5 2401.8 603.5 2401.2 603.5 2400.6 604.0 2400.0 604.6 2399.4 605.3 2398.8 606.2 2398.2 607.1 2397.6 608.2 2397.0 609.3 2396.4 610.4 2395.8 611.6 2395.2 612.9 2394.6 614.2 2394.0 615.6 2393.4 617.0 2392.8 618.4 2392.2 619.9 2391.6 621.4 2391.0 622.9 2390.4 624.5 2389.8 626.1 2389.1 627.6 2388.5 629.3 2387.9 630.9 2387.3 632.5 2386.7 634.1 2386.1 635.8 2385.5 637.4 2384.9 639.0 2384.3 640.6 2383.7 642.2 2383.1 643.8 2382.5 645.4 2381.9 646.9 2381.3 648.3 2380.7 649.7 2380.1 650.9 2379.5 651.9 2378.9 650.5 2378.3 649.0 2377.7 647.4 2377.1 645.8 2376.5 644.3 2375.9 642.7 2375.3 641.2 2374.6 639.7 2374.0 638.2 2373.4 636.7 2372.8 635.2 2372.2 633.8 2371.6 632.4 2371.0 630.9 2370.4 629.5 2369.8 628.2 2369.2 626.8 2368.6 625.4 2368.0 624.1 2367.4 622.8 2366.8 621.5 2366.2 620.2 2365.6 619.0 2365.0 617.8 2364.4 616.6 2363.8 615.4 2363.2 614.2 2362.6 613.1 2362.0 612.0 2361.4 610.9 2360.8 609.9 2360.1 608.9 2359.5 608.0 2358.9 607.0 2358.3 606.2 2357.7 605.4 2357.1 604.6 2356.5 603.9 2355.9 603.4 2355.3 603.4 2354.7 603.3 2354.1 603.3 2354.1 603.2 2354.7 603.2 2355.3 602.7 2355.9 602.0 2356.5 601.2 2357.1 600.4 2357.7 599.6 2358.3 598.6 2358.9 597.7 2359.5 596.7 2360.1 595.7 2360.8 594.6 2361.4 593.5 2362.0 592.4 2362.6 591.2 2363.2 590.0 2363.8 588.8 2364.4 587.6 2365.0 586.4 2365.6 585.1 2366.2 583.8 2366.8 582.5 2367.4 581.2 2368.0 579.8 2368.6 578.4 2369.2 577.1 2369.8 575.7 2370.4 574.2 2371.0 572.8 2371.6 571.4 2372.2 569.9 2372.8 568.4 2373.4 566.9 2374.0 565.4 2374.6 563.9 2375.3 562.3 2375.9 560.8 2376.5 559.2 2377.1 557.6 2377.7 556.1 2378.3 554.7 2378.9 555.7 2379.5 556.9 2380.1 558.3 2380.7 559.7 2381.3 561.2 2381.9 562.8 2382.5 564.4 2383.1 566.0 2383.7 567.6 2384.3 569.2 2384.9 570.8 2385.5 572.5 2386.1 574.1 2386.7 575.7 2387.3 577.3 2387.9 579.0 2388.5 580.5 2389.1 582.1 2389.8 583.7 2390.4 585.2 2391.0 586.7 2391.6 588.2 2392.2 589.6 2392.8 591.0 2393.4 592.4 2394.0 593.7 2394.6 595.0 2395.2 596.2 2395.8 597.3 2396.4 598.4 2397.0 599.5 2397.6 600.4 2398.2 601.3 2398.8 602.0 2399.4 602.6 2400.0 603.1 2400.6 603.1 2401.2 603.1 2401.8 603.1 2402.4 603.1 2403.0 603.1 2403.6 603.0 2404.3 602.8 2404.9 602.6 2405.5 602.2 2406.1 601.8 2406.7 601.3 2407.3 600.9 2407.9 600.6 2408.5 600.5 2409.1 600.6 2409.7 600.8 2410.3 601.2 2410.9 601.6 2411.5 602.0 2412.1 602.4 2412.7 602.7 2413.3 603.0 2413.9 603.1 2414.5 603.1 2415.1 603.1 2415.7 603.1 2416.3 603.1 2416.9 603.1 2417.5 603.1 2418.1 603.2 2418.8 603.2 2419.4 603.3 2420.0" fill="#88a1cf" stroke="#262626" stroke-width="1.25" stroke-linejoin="round"/>
<line x1="494.4" y1="2369.5" x2="494.4" y2="2380.4" stroke="#333" stroke-width="1.2"/>
<line x1="494.4" y1="2390.5" x2="494.4" y2="2401.5" stroke="#333" stroke-width="1.2"/>
<rect x="483.5" y="2380.4" width="21.7" height="10.1" fill="#a058b2" stroke="#333" stroke-width="1.2"/>
<line x1="483.5" y1="2385.4" x2="505.2" y2="2385.4" stroke="#1a1a1a" stroke-width="2.6"/>
<line x1="603.3" y1="2363.3" x2="603.3" y2="2373.1" stroke="#333" stroke-width="1.2"/>
<line x1="603.3" y1="2383.3" x2="603.3" y2="2393.1" stroke="#333" stroke-width="1.2"/>
<rect x="592.4" y="2373.1" width="21.7" height="10.1" fill="#6690cc" stroke="#333" stroke-width="1.2"/>
<line x1="592.4" y1="2378.1" x2="614.1" y2="2378.1" stroke="#1a1a1a" stroke-width="2.6"/>
<text transform="translate(419.6 2360)" style="font-family:'Liberation Sans',Arial,sans-serif;font-size:17.4px" text-anchor="end" fill="#433b3b">2</text>
<text transform="translate(419.6 2390.7)" style="font-family:'Liberation Sans',Arial,sans-serif;font-size:17.4px" text-anchor="end" fill="#433b3b">0</text>
<text transform="translate(419.6 2421.4)" style="font-family:'Liberation Sans',Arial,sans-serif;font-size:17.4px" text-anchor="end" fill="#433b3b">-2</text>
<text transform="translate(419.6 2452.1)" style="font-family:'Liberation Sans',Arial,sans-serif;font-size:17.4px" text-anchor="end" fill="#433b3b">-4</text>
<text transform="translate(494.4 2486.8)" style="font-family:'Liberation Sans',Arial,sans-serif;font-size:17.3px" text-anchor="middle" fill="#433b3b">no</text>
<text transform="translate(603.3 2486.8)" style="font-family:'Liberation Sans',Arial,sans-serif;font-size:17.3px" text-anchor="middle" fill="#433b3b">yes</text>
<text transform="translate(386 2398) rotate(-90)" style="font-family:'Liberation Sans',Arial,sans-serif;font-size:18px;white-space:pre" text-anchor="middle" xml:space="preserve" dominant-baseline="central">ISM1  NPX</text>
<text transform="translate(546 2297.1)" style="font-family:'Liberation Sans',Arial,sans-serif;font-size:17.6px;font-weight:bold" text-anchor="middle">ISM1</text>
<text transform="translate(546 2315.6)" style="font-family:'Liberation Sans',Arial,sans-serif;font-size:17.6px;font-weight:bold;white-space:pre" text-anchor="middle" xml:space="preserve">p =  1.66e-10</text>
<line x1="738" y1="2343" x2="975.5" y2="2343" stroke="#f3efef" stroke-width="1.1"/>
<line x1="738" y1="2380.8" x2="975.5" y2="2380.8" stroke="#f3efef" stroke-width="1.1"/>
<line x1="738" y1="2418.6" x2="975.5" y2="2418.6" stroke="#f3efef" stroke-width="1.1"/>
<line x1="738" y1="2456.4" x2="975.5" y2="2456.4" stroke="#f3efef" stroke-width="1.1"/>
<line x1="738" y1="2361.9" x2="975.5" y2="2361.9" stroke="#ebe6e6" stroke-width="1.4"/>
<line x1="738" y1="2399.7" x2="975.5" y2="2399.7" stroke="#ebe6e6" stroke-width="1.4"/>
<line x1="738" y1="2437.5" x2="975.5" y2="2437.5" stroke="#ebe6e6" stroke-width="1.4"/>
<line x1="802.5" y1="2328.6" x2="802.5" y2="2466.7" stroke="#eeeaea" stroke-width="1.4"/>
<line x1="911.5" y1="2328.6" x2="911.5" y2="2466.7" stroke="#eeeaea" stroke-width="1.4"/>
<polygon points="802.5 2460.5 802.6 2459.3 802.7 2458.2 802.7 2457.0 802.7 2455.9 802.7 2454.7 802.7 2453.6 802.7 2452.4 802.7 2451.2 802.7 2450.1 802.7 2448.9 802.7 2447.8 802.7 2446.6 802.7 2445.5 802.7 2444.3 803.0 2443.2 803.6 2442.0 804.2 2440.9 805.1 2439.7 806.0 2438.6 807.1 2437.4 808.2 2436.3 809.4 2435.1 810.8 2434.0 812.1 2432.8 813.6 2431.7 815.0 2430.5 816.5 2429.4 818.0 2428.2 819.6 2427.0 821.1 2425.9 822.6 2424.7 824.1 2423.6 825.5 2422.4 827.0 2421.3 828.4 2420.1 829.7 2419.0 831.0 2417.8 832.2 2416.7 833.4 2415.5 834.5 2414.4 835.5 2413.2 836.4 2412.1 837.2 2410.9 838.0 2409.8 838.7 2408.6 839.2 2407.5 839.7 2406.3 840.1 2405.2 840.4 2404.0 840.5 2402.9 840.6 2401.7 840.5 2400.5 840.2 2399.4 839.9 2398.2 839.5 2397.1 839.1 2395.9 838.5 2394.8 838.0 2393.6 837.4 2392.5 836.8 2391.3 836.1 2390.2 835.4 2389.0 834.7 2387.9 834.0 2386.7 833.2 2385.6 832.4 2384.4 831.6 2383.3 830.7 2382.1 829.8 2381.0 828.9 2379.8 828.0 2378.7 827.1 2377.5 826.2 2376.4 825.2 2375.2 824.2 2374.0 823.3 2372.9 822.3 2371.7 821.2 2370.6 820.2 2369.4 819.2 2368.3 818.2 2367.1 817.1 2366.0 816.1 2364.8 815.0 2363.7 814.0 2362.5 812.9 2361.4 811.9 2360.2 810.8 2359.1 809.8 2357.9 808.8 2356.8 807.8 2355.6 806.8 2354.5 805.8 2353.3 804.9 2352.2 804.0 2351.0 803.2 2349.9 802.7 2348.7 802.7 2347.5 802.7 2346.4 802.7 2345.2 802.7 2344.1 802.7 2342.9 802.7 2341.8 802.7 2340.6 802.7 2339.5 802.7 2338.3 802.7 2337.2 802.6 2336.0 802.5 2334.9 802.5 2334.9 802.4 2336.0 802.3 2337.2 802.3 2338.3 802.3 2339.5 802.3 2340.6 802.3 2341.8 802.3 2342.9 802.3 2344.1 802.3 2345.2 802.3 2346.4 802.3 2347.5 802.3 2348.7 801.8 2349.9 801.0 2351.0 800.1 2352.2 799.2 2353.3 798.2 2354.5 797.2 2355.6 796.2 2356.8 795.2 2357.9 794.2 2359.1 793.1 2360.2 792.1 2361.4 791.0 2362.5 790.0 2363.7 788.9 2364.8 787.9 2366.0 786.8 2367.1 785.8 2368.3 784.8 2369.4 783.8 2370.6 782.7 2371.7 781.7 2372.9 780.8 2374.0 779.8 2375.2 778.8 2376.4 777.9 2377.5 777.0 2378.7 776.1 2379.8 775.2 2381.0 774.3 2382.1 773.4 2383.3 772.6 2384.4 771.8 2385.6 771.0 2386.7 770.3 2387.9 769.6 2389.0 768.9 2390.2 768.2 2391.3 767.6 2392.5 767.0 2393.6 766.5 2394.8 765.9 2395.9 765.5 2397.1 765.1 2398.2 764.8 2399.4 764.5 2400.5 764.4 2401.7 764.5 2402.9 764.6 2404.0 764.9 2405.2 765.3 2406.3 765.8 2407.5 766.3 2408.6 767.0 2409.8 767.8 2410.9 768.6 2412.1 769.5 2413.2 770.5 2414.4 771.6 2415.5 772.8 2416.7 774.0 2417.8 775.3 2419.0 776.6 2420.1 778.0 2421.3 779.5 2422.4 780.9 2423.6 782.4 2424.7 783.9 2425.9 785.4 2427.0 787.0 2428.2 788.5 2429.4 790.0 2430.5 791.4 2431.7 792.9 2432.8 794.2 2434.0 795.6 2435.1 796.8 2436.3 797.9 2437.4 799.0 2438.6 799.9 2439.7 800.8 2440.9 801.4 2442.0 802.0 2443.2 802.3 2444.3 802.3 2445.5 802.3 2446.6 802.3 2447.8 802.3 2448.9 802.3 2450.1 802.3 2451.2 802.3 2452.4 802.3 2453.6 802.3 2454.7 802.3 2455.9 802.3 2457.0 802.3 2458.2 802.4 2459.3 802.5 2460.5" fill="#b385c4" stroke="#262626" stroke-width="1.25" stroke-linejoin="round"/>
<polygon points="911.5 2455.2 911.6 2454.2 911.7 2453.3 911.7 2452.3 911.7 2451.4 911.7 2450.4 911.7 2449.5 911.7 2448.5 911.7 2447.6 911.8 2446.6 912.1 2445.7 912.4 2444.7 912.9 2443.8 913.5 2442.8 914.1 2441.9 914.8 2440.9 915.6 2440.0 916.5 2439.0 917.4 2438.1 918.4 2437.2 919.5 2436.2 920.6 2435.3 921.8 2434.3 923.0 2433.4 924.3 2432.4 925.6 2431.5 927.0 2430.5 928.4 2429.6 929.8 2428.6 931.2 2427.7 932.7 2426.7 934.2 2425.8 935.7 2424.8 937.2 2423.9 938.7 2422.9 940.3 2422.0 941.8 2421.0 943.3 2420.1 944.8 2419.1 946.3 2418.2 947.7 2417.2 949.2 2416.3 950.6 2415.3 951.9 2414.4 953.2 2413.4 954.5 2412.5 955.7 2411.5 956.8 2410.6 957.8 2409.6 958.7 2408.7 959.5 2407.7 960.2 2406.8 960.7 2405.9 960.5 2404.9 959.8 2404.0 959.0 2403.0 958.2 2402.1 957.2 2401.1 956.3 2400.2 955.3 2399.2 954.3 2398.3 953.3 2397.3 952.2 2396.4 951.2 2395.4 950.1 2394.5 949.0 2393.5 948.0 2392.6 946.9 2391.6 945.8 2390.7 944.7 2389.7 943.6 2388.8 942.5 2387.8 941.4 2386.9 940.3 2385.9 939.2 2385.0 938.2 2384.0 937.1 2383.1 936.0 2382.1 935.0 2381.2 933.9 2380.2 932.9 2379.3 931.9 2378.3 931.0 2377.4 930.1 2376.4 929.3 2375.5 928.6 2374.6 928.0 2373.6 927.5 2372.7 927.0 2371.7 926.5 2370.8 925.8 2369.8 925.1 2368.9 924.2 2367.9 923.2 2367.0 922.0 2366.0 920.7 2365.1 919.5 2364.1 918.3 2363.2 917.2 2362.2 916.3 2361.3 915.4 2360.3 914.7 2359.4 914.0 2358.4 913.4 2357.5 912.9 2356.5 912.4 2355.6 912.0 2354.6 911.7 2353.7 911.6 2352.7 911.5 2351.8 911.5 2351.8 911.4 2352.7 911.3 2353.7 911.0 2354.6 910.6 2355.6 910.1 2356.5 909.6 2357.5 909.0 2358.4 908.3 2359.4 907.6 2360.3 906.7 2361.3 905.8 2362.2 904.7 2363.2 903.5 2364.1 902.3 2365.1 901.0 2366.0 899.8 2367.0 898.8 2367.9 897.9 2368.9 897.2 2369.8 896.5 2370.8 896.0 2371.7 895.5 2372.7 895.0 2373.6 894.4 2374.6 893.7 2375.5 892.9 2376.4 892.0 2377.4 891.1 2378.3 890.1 2379.3 889.1 2380.2 888.0 2381.2 887.0 2382.1 885.9 2383.1 884.8 2384.0 883.8 2385.0 882.7 2385.9 881.6 2386.9 880.5 2387.8 879.4 2388.8 878.3 2389.7 877.2 2390.7 876.1 2391.6 875.0 2392.6 874.0 2393.5 872.9 2394.5 871.8 2395.4 870.8 2396.4 869.7 2397.3 868.7 2398.3 867.7 2399.2 866.7 2400.2 865.8 2401.1 864.8 2402.1 864.0 2403.0 863.2 2404.0 862.5 2404.9 862.3 2405.9 862.8 2406.8 863.5 2407.7 864.3 2408.7 865.2 2409.6 866.2 2410.6 867.3 2411.5 868.5 2412.5 869.8 2413.4 871.1 2414.4 872.4 2415.3 873.8 2416.3 875.3 2417.2 876.7 2418.2 878.2 2419.1 879.7 2420.1 881.2 2421.0 882.7 2422.0 884.3 2422.9 885.8 2423.9 887.3 2424.8 888.8 2425.8 890.3 2426.7 891.8 2427.7 893.2 2428.6 894.6 2429.6 896.0 2430.5 897.4 2431.5 898.7 2432.4 900.0 2433.4 901.2 2434.3 902.4 2435.3 903.5 2436.2 904.6 2437.2 905.6 2438.1 906.5 2439.0 907.4 2440.0 908.2 2440.9 908.9 2441.9 909.5 2442.8 910.1 2443.8 910.6 2444.7 910.9 2445.7 911.2 2446.6 911.3 2447.6 911.3 2448.5 911.3 2449.5 911.3 2450.4 911.3 2451.4 911.3 2452.3 911.3 2453.3 911.4 2454.2 911.5 2455.2" fill="#88a1cf" stroke="#262626" stroke-width="1.25" stroke-linejoin="round"/>
<line x1="802.5" y1="2351.8" x2="802.5" y2="2386.2" stroke="#333" stroke-width="1.2"/>
<line x1="802.5" y1="2410.7" x2="802.5" y2="2439" stroke="#333" stroke-width="1.2"/>
<rect x="791.6" y="2386.2" width="21.7" height="24.5" fill="#a058b2" stroke="#333" stroke-width="1.2"/>
<line x1="791.6" y1="2399.2" x2="813.4" y2="2399.2" stroke="#1a1a1a" stroke-width="2.6"/>
<line x1="911.5" y1="2377.8" x2="911.5" y2="2398.2" stroke="#333" stroke-width="1.2"/>
<line x1="911.5" y1="2414.5" x2="911.5" y2="2436" stroke="#333" stroke-width="1.2"/>
<rect x="900.6" y="2398.2" width="21.7" height="16.3" fill="#6690cc" stroke="#333" stroke-width="1.2"/>
<line x1="900.6" y1="2404.6" x2="922.4" y2="2404.6" stroke="#1a1a1a" stroke-width="2.6"/>
<text transform="translate(729 2368.1)" style="font-family:'Liberation Sans',Arial,sans-serif;font-size:17.4px" text-anchor="end" fill="#433b3b">4</text>
<text transform="translate(729 2405.9)" style="font-family:'Liberation Sans',Arial,sans-serif;font-size:17.4px" text-anchor="end" fill="#433b3b">0</text>
<text transform="translate(729 2443.7)" style="font-family:'Liberation Sans',Arial,sans-serif;font-size:17.4px" text-anchor="end" fill="#433b3b">-4</text>
<text transform="translate(802.5 2486.8)" style="font-family:'Liberation Sans',Arial,sans-serif;font-size:17.3px" text-anchor="middle" fill="#433b3b">no</text>
<text transform="translate(911.5 2486.8)" style="font-family:'Liberation Sans',Arial,sans-serif;font-size:17.3px" text-anchor="middle" fill="#433b3b">yes</text>
<text transform="translate(693.6 2398) rotate(-90)" style="font-family:'Liberation Sans',Arial,sans-serif;font-size:18px;white-space:pre" text-anchor="middle" xml:space="preserve" dominant-baseline="central">NPPC  NPX</text>
<text transform="translate(854.7 2297.1)" style="font-family:'Liberation Sans',Arial,sans-serif;font-size:17.6px;font-weight:bold" text-anchor="middle">NPPC</text>
<text transform="translate(854.7 2315.6)" style="font-family:'Liberation Sans',Arial,sans-serif;font-size:17.6px;font-weight:bold;white-space:pre" text-anchor="middle" xml:space="preserve">p =  0.00297</text>
<text transform="translate(524.2 1595.3)" style="font-family:'Liberation Sans',Arial,sans-serif;font-size:18.5px;font-weight:bold" text-anchor="middle" textLength="263.4" lengthAdjust="spacingAndGlyphs">Born by Caesarean section</text>
<text transform="translate(30.6 45.6)" style="font-family:'Liberation Sans',Arial,sans-serif;font-size:37.5px;font-weight:bold">a</text>
<text transform="translate(640.9 53.3)" style="font-family:'Liberation Sans',Arial,sans-serif;font-size:36.5px;font-weight:bold">b</text>
<text transform="translate(1080.4 53.6)" style="font-family:'Liberation Sans',Arial,sans-serif;font-size:37.5px;font-weight:bold">c</text>
<text transform="translate(24.6 699.3)" style="font-family:'Liberation Sans',Arial,sans-serif;font-size:37.8px;font-weight:bold">d</text>
<text transform="translate(534 698.8)" style="font-family:'Liberation Sans',Arial,sans-serif;font-size:38.4px;font-weight:bold">e</text>
<text transform="translate(1158.2 712.9)" style="font-family:'Liberation Sans',Arial,sans-serif;font-size:36.5px;font-weight:bold">f</text>
<text transform="translate(24.8 1193.4)" style="font-family:'Liberation Sans',Arial,sans-serif;font-size:37.5px;font-weight:bold">g</text>
<text transform="translate(32.8 1598.9)" style="font-family:'Liberation Sans',Arial,sans-serif;font-size:36.7px;font-weight:bold">h</text></svg>
</body></html>
